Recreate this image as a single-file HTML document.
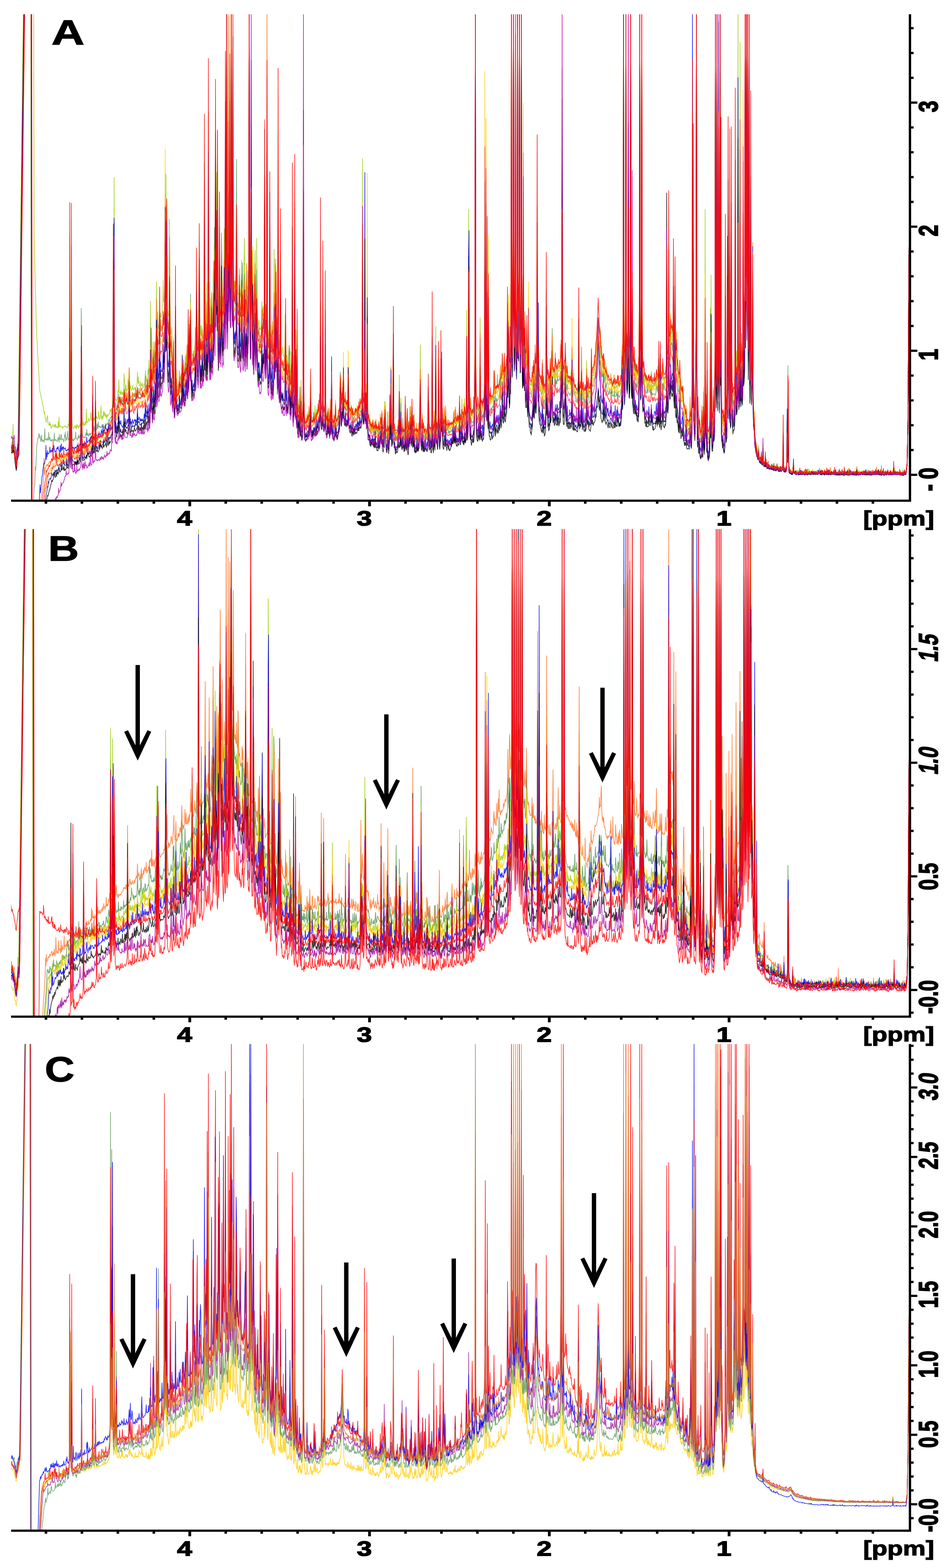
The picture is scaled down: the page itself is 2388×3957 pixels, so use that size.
<!DOCTYPE html>
<html><head><meta charset="utf-8"><title>NMR spectra</title><style>html,body{margin:0;padding:0;background:#fff;overflow:hidden}svg{display:block}</style></head><body>
<svg xmlns="http://www.w3.org/2000/svg" width="2388" height="3957" viewBox="0 0 2388 3957">
<rect width="100%" height="100%" fill="#fff"/>
<defs><clipPath id="cA"><rect x="28" y="36.0" width="2266.0" height="1227.5"/></clipPath><clipPath id="cB"><rect x="28" y="1335.5" width="2266.0" height="1230.2"/></clipPath><clipPath id="cC"><rect x="28" y="2634.7" width="2266.0" height="1228.1"/></clipPath></defs>
<g clip-path="url(#cA)" fill="none" stroke-width="1.70" stroke-linejoin="round" stroke-opacity="0.8">
<path d="M25 1120l1-6 1 0 1 4 1 1 1-2 1 1 1-15 1-32 1 45 1-3 1 13 1 3 1 11 1 12 1 7 1 8 1-14 1-15 1-5 1-12 1-72 1-81 1-76 1-89 1-74 1-79 1-80 1-79 1-77 1-82 1-79 1-94 1-67 1-71 26 0 1 575 1 25 1 53 1 42 1 38 1 41 1 36 1 24 1 12 1 25 1 15 1 23 1 5 1 29 1 19 1 6 1 4 1 5 1 5 1 1 1 8 1 6 1 5 1 2 1 10 1 3 1 7 1-5 1 17 1-2 1 10 1 0 1-3 1-11 1-2 1 18 1 4 1 0 1 2 1-9 1 10 1-5 1 6 1 6 1-2 1-3 1-1 1 1 1-4 1 3 1 2 1-3 1-3 1 9 1-7 1-2 1 6 1 3 1-3 1 3 1-4 1-12 1 16 1-28 1 25 1 0 1-3 1 4 1-1 1 0 1-1 1 2 1 4 1-4 1-1 1 1 1-1 1 0 1-2 1-1 1 3 1 0 1 1 1 2 1-3 1 2 1-9 1 4 1-6 1-33 1-437 1 434 1 13 1-14 1-403 1 407 1 34 1 3 1 3 1 7 1-3 1 1 1-3 1-3 1 3 1 3 1-8 1 10 1-2 1-9 1 5 1-1 1 5 1 0 1-7 1 4 1-7 1 4 1-17 1-144 1-10 1 138 1 26 1 2 1 5 1-10 1 9 1-3 1 3 1-9 1 8 1-4 1-36 1 35 1 0 1-2 1-3 1 1 1-8 1 6 1 1 1-1 1-1 1-19 1 6 1 14 1-2 1 3 1-18 1 11 1 4 1-5 1 8 1-9 1 4 1-40 1 40 1-7 1 5 1-1 1 2 1 0 1-2 1-16 1 10 1 11 1-5 1 1 1-14 1-17 1 32 1 3 1-10 1 8 1-2 1-16 1 12 1-12 1 4 1 7 1-7 1 9 1-4 1 9 1-12 1 6 1-2 1 1 1-3 1-3 2 0 1-11 1 6 1-1 1-7 1 1 1-4 1-7 1-37 1-162 1 116 1-490 1 512 1 39 1 10 1-2 1 3 1 2 1-4 1-2 1-7 1-14 1 5 1-32 1 31 1 3 1-2 1 6 1-11 1 9 1-2 1-2 1 7 1-7 1 6 1-3 1-50 1 11 1 20 1 19 1-14 1-8 1 18 1-6 1 2 1 1 1-30 1 25 1-5 1-49 1 20 1 27 1 7 1-8 1 13 1-4 1 1 1-1 1-10 1 11 1 1 1-2 1 1 1-6 1 2 1 4 1-5 1-1 1-1 1-10 1-27 1 28 1-16 1 17 1-5 1 11 1-1 1 1 1-11 1 10 1-2 1 3 1-8 1 10 1 3 1-3 1-6 1 1 1-2 1-9 1-25 1 15 1 2 1 10 1 1 1-14 1-7 1-10 1 14 1-38 1 31 1-9 1 3 1-173 1 141 1-73 1 56 1 30 1 5 1-18 1-38 1 31 1 10 1-15 1-26 1 12 1-8 1-44 1-112 1 132 1-3 1-36 1 17 1 9 1-6 1-4 1-38 1 25 1-17 1 10 1-2 1 0 1-4 1-7 1-17 1-63 1 56 1-10 1-5 1-38 1-198 1 163 1-235 1 259 1-163 1 219 1 27 1 7 1 9 1 0 1-54 1-191 1 175 1 92 1 24 1-1 1-17 1 14 1 61 1 25 1-9 1-64 1 101 1 24 1 21 1-14 1-80 1 48 1-20 1 37 1 9 1 0 1-10 1 6 1-4 1-2 1-17 1 11 1-13 1 8 1 2 1-6 1-10 1-41 1 31 1-1 1-19 1 15 1 5 1 4 1-21 1-19 1 20 1-25 1 17 1-29 1 32 1-7 1-74 1 64 1-21 1-76 1 19 1 37 1-94 1 86 1 32 1 14 1 5 1-4 1 3 1-12 1 6 1-1 1-7 1-12 1-8 1 14 1-11 1-77 1 28 1 39 1-1 1-2 1-28 1-97 1-116 1 150 1 63 1 20 1-24 1 28 1-1 1-26 1 19 1 13 1-2 1-16 1-13 1-238 1 208 1-53 1 71 1 20 1-20 1-97 1 86 1 11 1-27 1-408 1 396 1 8 1 46 1 0 1-73 1 73 1-3 1-66 1 68 1-9 1-14 1-105 1-37 1 80 1-121 1-4 1 94 1-407 1 350 1 4 1-221 1 213 1-319 1 343 1 102 1 11 1-79 1-123 1 195 1 0 1-30 1-1 1-107 1 26 1 69 1 31 1-17 1-3 1-64 1-105 1 105 1-83 1 41 1 48 1-130 1-537 1 534 1 109 1-15 1-192 1 106 1 48 1-126 1-386 1 499 1 58 1-34 1-440 1 282 1 177 1 12 1-143 1 175 1 28 1 15 1-19 1 17 1 4 1-30 1-20 1-144 1 119 1 63 1 20 1 5 1 0 1-7 1-40 1-18 1 55 1 16 1-1 1-24 1-68 1 61 1-6 1 42 1 10 1-13 1-93 1-56 1 128 1 31 1-29 1 5 1-35 1 69 1 3 1-89 1 47 1-35 1-89 1-586 1 502 1 160 1 77 1-14 1-512 1 387 1 70 1 77 1-70 1 51 1 31 1-23 1-61 1-17 1-47 1 126 1 22 1-37 1-142 1 144 1 54 1 7 1 17 1-6 1-9 1 23 1-2 1 2 1 1 1-13 1-13 1-45 1 18 1 20 1-24 1-1 1 1 1-5 1-205 1 200 1 17 1-4 1 30 1-30 1-427 1 444 1 36 1 1 1 16 1-2 1-9 1-63 1 59 1-13 1 29 1 2 1-10 1-28 1 23 1 7 1-18 1-40 1-156 1 151 1 16 1-32 1 59 1-45 1 55 1-34 1 55 1 5 1-157 1 153 1 17 1-2 1-24 1 24 1-173 1 175 1 12 1 12 1-3 1-16 1-1 1 15 1 9 1-3 1-1 1-23 1-80 1 72 1 38 1 10 1-17 1 6 1 24 1-4 1-25 1-9 1-16 1 50 1-43 1 56 1 4 1 18 1-33 1 35 1-116 1 144 1 0 1-31 1-60 1 36 1-256 1 302 1-16 1-131 1 133 1 37 1-123 1 147 1 3 1-1 1-20 1 29 1-1 1-12 1 6 1 1 1-70 1 69 1 16 1 2 1-13 1-53 1-671 1 661 1 57 1 22 1 6 1 3 1-3 1 3 1-2 1-3 1 1 1-16 1 13 1 1 1-15 1 17 1-7 1-25 1-58 1 82 1-7 1 16 1-3 1 1 1 1 1-3 1-10 1 1 1 9 1-28 1 18 1 4 1 0 1-13 1 0 1 5 1-2 1 1 1 1 1-8 1 1 1-20 1 4 1-212 1 200 1 22 1 3 1 8 1-4 1-86 1 87 1 0 1 7 1 1 1-3 1-40 1 48 1-6 1 12 1 7 1-5 1-22 1 9 1 14 1-6 1 10 1-3 1-9 1-19 1 24 1-4 1-99 1 84 1 26 1 7 1-4 1 1 1-3 1 2 1-1 1-12 1-39 1 38 1 10 1 3 1-5 1-4 1-2 1-4 1-14 1 3 1-9 1-3 1-48 1-21 1 58 1-1 1-5 1-4 1-40 1 33 1-72 1 78 1 11 1 0 1-1 1-5 1 12 1 3 1 6 1-10 1 4 1 5 1-51 1 41 1 14 1 3 1 2 1-5 1 7 1-16 1 9 1 13 1 1 1-6 1 10 1-4 1 4 1-9 1 3 1 1 1 4 1-11 1-2 1 4 1-11 1 5 1 2 1 0 1-4 1-4 1 5 1 0 1-7 1-10 1 6 1-4 1-7 1-46 1-563 1 560 1 43 1 4 1 9 1-23 1-254 1 270 1 16 1-10 1 14 1-13 1-306 1 319 1 18 1 10 1 2 1-2 1 11 1-12 1 18 1 5 1-14 1 16 1 5 1 0 1-8 1 6 1-3 1 0 1-7 1 15 1-6 1 3 1 2 1-21 1 18 1 2 1 1 1-5 1 3 1-13 1 14 1 1 1-8 1-24 1 3 1-4 1 23 1-20 1 25 1 4 1-2 1-4 1-26 1 8 1-50 1 0 1 33 1 32 1 12 1 3 1 2 1-13 1-3 1 12 1 5 1-19 1 1 1-73 1 43 1 8 1-128 1 132 1 20 1 8 1-20 1-69 1-122 1 197 1 18 1 1 1 4 1 3 1-1 1-3 1 3 1 3 1-15 1-10 1-7 1 20 1-14 1-130 1 122 1 12 1-17 1-59 1 61 1 23 1 5 1-7 1-14 1 18 1 2 1 6 1 1 1-6 1-72 1 73 1-1 1-6 1-35 1-21 1 49 1 12 1-10 1 4 1 5 1-12 1-5 1-38 1 33 1 16 1 5 1-32 1 29 1-5 1-9 1 2 1-30 1 32 1 20 1 3 1-3 1-5 1 4 1-19 1 19 1-11 1 10 1 0 1-18 1-4 1-21 1-53 1-129 1 191 1 25 1 4 1-18 1-16 1 9 1 26 1-11 1 13 1 1 1-2 1-17 1 13 1-7 1 10 1 3 1-11 1 5 1-8 1-80 1 22 1 52 1 9 1-2 1 8 1 1 1 6 1-1 1-2 1-66 1 67 1 5 1-12 1-23 1-27 1 29 1 13 1-52 1-203 1 232 1 16 1 5 1 19 1-3 1-45 1-142 1 123 1 59 1-10 1-4 1-1 1-44 1 47 1-77 1 70 1-15 1 23 1-9 1 12 1-33 1 10 1-2 1 8 1-32 1 39 1 8 1 1 1 5 1-7 1 5 1-7 1 5 1-11 1 8 1 2 1 3 1-4 1-1 1 0 1-3 1-9 1 5 1 0 1-19 1 18 1-2 1-12 1 13 1-25 1 18 1 8 1 3 1 0 1-12 1-6 1 14 1-9 1 8 1-52 1 48 1-2 1 3 1-15 1 2 1-28 1 21 1 4 1 14 1-1 1-4 1-7 1-45 1 41 1-2 1 9 1-11 1-259 1 239 1 20 1 3 1-33 1-484 1 213 1 221 1 65 1-1 1 4 1 13 1 5 1-13 1 13 1-17 1 13 1-5 1-1 1-22 1-78 1-89 1-828 1 852 1 104 1 44 1 12 1-6 1 14 1-6 1-7 1 2 1-1 1-10 1-217 1 218 1 13 1-3 1-2 1 2 1 4 1-20 1 10 1-19 1-4 1-36 1-438 1 426 1 27 1-148 1 160 1-13 1-186 1 206 1 12 1-74 1 76 1 5 1-3 1 5 1-28 1 24 1-3 1 0 1-10 1-5 1 12 1-4 1-3 1-18 1-40 1 46 1 8 1-12 1-9 1 14 1 0 1-2 1-3 1 1 1-2 1-1 1-1 1-3 1-13 1-27 1 27 1 3 1-7 1-15 1-59 1 55 1 12 1 0 1-10 1-38 1 21 1 21 1-1 1-8 1-7 1-6 1 1 1-70 1 50 1-65 1-38 1 73 1 34 1-13 1-76 1 22 1-184 1-642 1 681 1 141 1-38 1-159 1-625 1 683 1 134 1 1 1-130 1-420 1 522 1 24 1 16 1-51 1-669 1 638 1-30 1 52 1-169 1-601 1 637 1 169 1 21 1-52 1-698 1 679 1 8 1 76 1 0 1-256 1 252 1 25 1 6 1-47 1 56 1 17 1 7 1-8 1-70 1 76 1 21 1-5 1-140 1 143 1 20 1 8 1 5 1 1 1-6 1 8 1-6 1 4 1-12 1-14 1 12 1-36 1 29 1-5 1-34 1-10 1 31 1 6 1-15 1-54 1-348 1 358 1 41 1-94 1 109 1 19 1 2 1 14 1-1 1 7 1-3 1 2 1 1 1-50 1 56 1 6 1-17 1 13 1 3 1 4 1-4 1-13 1-7 1-123 1 67 1 0 1 31 1 19 1-22 1 26 1-6 1-11 1 19 1-50 1 40 1 4 1-30 1-28 1-62 1 86 1 17 1 7 1-6 1 10 1-5 1-13 1-16 1 10 1 15 1-3 1-1 1-15 1 5 1 1 1 3 1 1 1-3 1-13 1 9 1-6 1-57 1 41 1-71 1-667 1 671 1 79 1 22 1 0 1 7 1-23 1-7 1-31 1 19 1 31 1 10 1 9 1-16 1 19 1 9 1-4 1-7 1 6 1-9 1 14 1 3 1-38 1 41 1-11 1-93 1 100 1 8 1-1 1-45 1 51 1-1 1-2 1 3 1 6 1-2 1 3 1 3 1-3 1-4 1 11 1-17 1-30 1 15 1 28 1 0 1-8 1 7 1-11 1-21 1 19 1 13 1-1 1-6 1 4 1 9 1-9 1 1 1-2 1 5 1-3 1-6 1-76 1 48 1 14 1 11 1-12 1 9 1 13 1-3 1 3 1-3 1-6 1-11 1-78 1 58 1 5 1-13 1 3 1-4 1-10 1 1 1-8 1-9 1-2 1-17 1-13 1-23 1-9 1-14 1-32 1-7 1 11 1 18 1 8 1 15 1-28 1 25 1 33 1 22 1-10 1 8 1 25 1 0 1-32 1 43 1 9 1-10 1-6 1 14 1 10 1-6 1-19 1 23 1 2 1 9 1 2 1 1 1 1 1 1 1-1 1 1 1-6 1 1 1 4 1 6 1 4 1-17 1 14 1-2 1 7 1-1 1-6 1 3 1-2 1 5 1-2 1-6 1 6 1-7 1-21 1 20 1 0 1 4 1-10 1 11 1-2 1-8 1 7 1-8 1-12 1-68 1 24 1 18 1-73 1-777 1 759 1 76 1 5 1-56 1-130 1-709 1 715 1 130 1 7 1-13 1-30 1-466 1 455 1 75 1 12 1-33 1-73 1-385 1 433 1 61 1 5 1-144 1 148 1 11 1-3 1-38 1 20 1 32 1-12 1 22 1-31 1 27 1-9 1-3 1 12 1 2 1-4 1-8 1-30 1-135 1-750 1 751 1 101 1-4 1-134 1-714 1 725 1 157 1 25 1 10 1 4 1-10 1 28 1 5 1-8 1-11 1 14 1 9 1-10 1 13 1 3 1-4 1-1 1-13 1 12 1 5 1 3 1-2 1-18 1-20 1 33 1 7 1-4 1-1 1 5 1-11 1 11 1-12 1 8 1 1 1-21 1 12 1-16 1 9 1-1 1-33 1 29 1 13 1-56 1 56 1-3 1 3 1-38 1 26 1 18 1-1 1-9 1-40 1-4 1 13 1 24 1-3 1 10 1 1 1-12 1 4 1-5 1-38 1-348 1 348 1 7 1-3 1-12 1-88 1 61 1 0 1-4 1-15 1-68 1 55 1-2 1-7 1-20 1 35 1-14 1-116 1 139 1 21 1 2 1-148 1 158 1 13 1-8 1-11 1 39 1 5 1 2 1 17 1 13 1-2 1-2 1-33 1 40 1-2 1 24 1-7 1 4 1-12 1 34 1-9 1 17 1 16 1 6 1 2 1 6 1 0 1 10 1-30 1 37 1 7 1 8 1-4 1-12 1 12 1 1 1-5 1-6 1-21 1 14 1 6 1-15 1-10 1-39 1-537 1 460 1-312 1 358 1 48 1 35 1-2 1-20 1-76 1-169 1-762 1 862 1 147 1 23 1-28 1 44 1 1 1 7 1-29 1 17 1 27 1 8 1-2 1-8 1-22 1 18 1-1 1-17 1-90 1 66 1 27 1-39 1-503 1 411 1 82 1-6 1 53 1-61 1 80 1 5 1-1 1 2 1-5 1-21 1-53 1-238 1 238 1-321 1 220 1 138 1 15 1 0 1-29 1-55 1 58 1 11 1-19 1-110 1-902 1 879 1 60 1-96 1-843 1 847 1 106 1-33 1-549 1 541 1 31 1-142 1-801 1 806 1 11 1 186 1 25 1 10 1-4 1-3 1 12 1 11 1-1 1 0 1-26 1-331 1 289 1 40 1-10 1 3 1-105 1 44 1-412 1 257 1 151 1 24 1-317 1 285 1 55 1-9 1-163 1 64 1 85 1 4 1 8 1 4 1-8 1-10 1-5 1-43 1-512 1 428 1 48 1-26 1 48 1-15 1-95 1-803 1 814 1 76 1-35 1-19 1-750 1 748 1 53 1 8 1-45 1 45 1 12 1-9 1-166 1 144 1-37 1-25 1-55 1-759 1 732 1 22 1-461 1 466 1-69 1-690 1 684 1 134 1-120 1-402 1 558 1 60 1-14 1-254 1 201 1 92 1-10 1-38 1-132 1 211 1 45 1 13 1 22 1 28 1 5 1 6 1 10 1 6 1 4 1 8 1 7 1 3 1 0 1-24 1 28 1 5 1 5 1-3 1-1 1 2 1-7 1 7 1 3 1-1 1-42 1 45 1 1 1 3 1-1 1 3 1-14 1 15 1-3 1 1 1 1 1 4 1 0 1 1 1-1 1 2 1 1 1-2 1 3 1-4 1 3 1 0 1 3 1-3 1 1 1-10 1 10 1-8 1 7 1 3 1-6 1 7 1-7 1 4 1 1 1-6 1 2 1 0 1 6 1-5 1 4 1 2 1 1 1 0 1-1 1 3 1-3 1-1 1 1 1-1 1-7 1-85 1 85 1 8 1 1 1 3 1-3 1-1 1 4 1-13 1 8 1-68 1 50 1-19 1-69 1 90 1 22 1 3 1-3 1 3 1-2 1 2 1 1 1-1 1 0 1-1 1-7 1-21 1 25 1 5 1 1 1 0 1-2 1 4 1-9 1 9 1-2 1-4 1 3 1 1 1-3 1-2 1 6 1-1 1 0 1-2 1 3 1-3 1 4 1-5 1 3 1 2 1-1 1 0 1-1 1 1 1-1 1 1 1-9 1 8 1 2 1-1 1-1 1-10 1 8 1 2 1-10 1 11 1 0 1-6 1 6 1 0 1-1 1-4 1 4 1-3 1 3 1 0 1 1 1-1 1 0 1-4 1 4 1-4 1 5 1 0 1-6 1 4 2 0 1 1 1-1 3 0 1-2 1 2 1 0 1-1 1-4 1 6 1 2 1 0 1-1 1 2 1-1 1 2 1-3 1 1 1-5 1 5 1 1 1-4 1-9 1 8 1 4 1-3 1 3 1-1 1-3 1 3 1-4 1 0 1 4 1 1 1 0 1 3 2 0 1-2 1-1 1 1 1-1 1 0 1-1 1 1 2 0 1-2 1 1 1-4 1 3 1 0 1 2 1-2 1 0 1 1 1-1 1-1 1-7 1 6 1 3 1 0 1-1 1 0 1-2 1 3 1 1 1-3 1-1 1 2 1 1 1 0 1-2 1-3 1 5 1-4 1 1 1 4 1-5 1 5 1-2 1 1 1 1 1-2 1 1 1-2 1 1 1-2 1 3 1 0 1-1 1-1 1-3 1 6 1-3 1-1 1 1 1 2 1-5 1 5 1-4 1-3 1 2 1 4 2 0 1-3 1 6 1-2 1-1 1 0 1 1 1-7 1 7 1-2 1 1 1-1 1-1 1 3 1-1 1 1 2 0 1-3 1 3 1-1 1 0 1 2 1-3 1-3 1 5 1 0 1-2 1 1 1 1 1 0 1-2 1 2 1-1 1 1 1 1 1-2 1-1 1 2 1-2 1 2 1 2 1-3 1 1 1 0 1-1 1 0 1-7 1 7 1-1 1 1 1 0 1 1 1 0 1-2 1 2 1-7 1 5 1 2 1-1 1 0 1-1 1 2 1-4 1 6 2 0 1-1 2 0 1-4 1 5 1-1 1-1 1-1 1 2 1 1 1-4 1-2 1 5 1-1 1 1 1 1 1-3 1-5 1 7 1-13 1 12 1-1 1 3 1-1 2 0 1 2 1-8 1 7 1-1 1-1 1-4 1 5 1 2 1 1 1-11 1 9 1-2 1-1 1 0 1-2 1-2 1 6 1-1 2 0 1-3 1 3 1 0 1-9 1-9 1-9 1-60 1-60 1-166 1-150 1-134 1-120 1-120 1-120 1-120 1-96" stroke="#9acd00"/>
<path d="M25 1116l1-12 1 13 1 6 1 2 1-3 1 3 1-22 1 22 1-4 1 12 1 0 1 8 1 10 1-24 1 38 1 7 1-14 1-4 1-11 1-9 1-61 1-78 1-68 1-82 1-78 1-85 1-76 1-80 1-76 1-88 1-76 1-82 1-77 1-79 1-27 18 0 1 1270 2 0 1-6 1-13 1-6 1-14 1-21 1-2 1-7 1-44 1 9 1-16 1-27 1-22 1-5 1-7 1-5 1 1 1-12 1 2 1 9 1-5 1 7 1 7 1-5 1-11 1 15 1 2 1-5 1 0 1 2 1 4 1-6 1-28 1 29 1-3 1 1 1 0 1 2 1-6 1 4 1 2 1-3 1-17 1 20 1-7 1 0 1 6 1 3 1-3 1 3 1-4 1 3 1-1 1-2 1 4 1-1 1-19 1 18 1 2 1-4 1 1 1 0 1 2 1 3 1-3 1-4 1-5 1 7 1 6 1-20 1 12 1 2 1 0 1-14 1 3 1 12 1-4 1 0 1 2 1 1 1 5 1-4 1-14 1 6 1-13 1 23 1-8 1 5 1-5 1-8 1-9 1 23 1-1 1-1 1-6 1-60 1 47 1-7 1-2 1-285 1 290 1 20 1 6 1-4 1 5 1 0 1-7 1 3 1 0 1-1 1-18 1 15 1 1 1 0 1 5 1-5 1-2 1-7 1 9 1-1 1-4 1 1 1-8 1-22 1-294 1 69 1 229 1 22 1-1 1 7 1-2 1 3 1-2 1 0 1 2 1-6 1-7 1 7 1-16 1 16 1-1 1-5 1 7 1 1 1-4 1-4 1 6 1-5 1 2 1-2 1 0 1-1 1-10 1-88 1 88 1 8 1-16 1 8 1 6 1-17 1-19 1 31 1-2 1 3 1-16 1 10 1 3 1-17 1 11 1 2 1-3 1 3 1-1 1 2 1-2 1 3 1-8 1 4 1 2 1-3 1 3 1 0 1 1 1-4 1 0 1 3 1-10 1 6 1-3 1 1 1-4 1 2 1-1 1-4 1-7 1 5 1-2 1-5 1-3 1 1 1-3 1-19 1 14 1-17 1-27 1-220 1 205 1-207 1 233 1 16 1-3 1-10 1 16 1-3 1 9 1-17 1 3 1-22 1 16 1-24 1 22 1-8 1-2 1 9 1-9 1 9 1 3 1-7 1 9 1-10 1 3 1-8 1-23 1 1 1 28 1 1 1-5 1 6 1-9 1 14 1 1 1-6 1-7 1 2 1-2 1-15 1 2 1 12 1 2 1 0 1 1 1 1 1 3 1-13 1 8 1 3 1-2 1-13 1 7 1-1 1-11 1 16 1-13 1 6 1 1 1-11 1-9 1 15 1 7 1-7 1-15 1 10 1 6 1-2 1 4 1-1 1-4 1 4 1-2 1 2 1-4 1 2 1-2 1 1 1-3 1-20 1-22 1 30 1-5 1-2 1 13 1-9 1 7 1-8 1-4 1-40 1 37 1 7 1-18 1-131 1 114 1-47 1 37 1 19 1-3 1-17 1-44 1 15 1 27 1-6 1-38 1 26 1-6 1-10 1-74 1 66 1-9 1-18 1 2 1 2 1-1 1-7 1-54 1 39 1-18 1 15 1-1 1-2 1-2 1-5 1-5 1-26 1 14 1-6 1-26 1-55 1-232 1 236 1-194 1 194 1-200 1 243 1 47 1-1 1 21 1 1 1-29 1-121 1 131 1 48 1 13 1-11 1-20 1 42 1 41 1 14 1 7 1-22 1 55 1 25 1 0 1-11 1-107 1 97 1-26 1 33 1-15 1 11 1-1 1-1 1-2 1-11 1-17 1 8 1 5 1 0 1-4 1-5 1-7 1-33 1 22 1 9 1-32 1 13 1 12 1 0 1-5 1-27 1 17 1-15 1 0 1-31 1 36 1 1 1-63 1 56 1-21 1-69 1 67 1-13 1-139 1 123 1 43 1 6 1-1 1 4 1-9 1 2 1 0 1-2 1-1 1-16 1-7 1 13 1-19 1-168 1 92 1 56 1 0 1 13 1-19 1-89 1-62 1 103 1 65 1 9 1-24 1 31 1 0 1-10 1-15 1 28 1 1 1-28 1-23 1-427 1 409 1-9 1 36 1 4 1 6 1-42 1 36 1-9 1-16 1-172 1 155 1-67 1 108 1 17 1-11 1 9 1-33 1-84 1 83 1 4 1 3 1-72 1 18 1-7 1-203 1 104 1 89 1-141 1-33 1 83 1-102 1 150 1-26 1 75 1 53 1 6 1-18 1-93 1 92 1-16 1-16 1-49 1-144 1 59 1 64 1 59 1 0 1 10 1-48 1-44 1 53 1-38 1-125 1 135 1-19 1-465 1 467 1 40 1-28 1-258 1 169 1 20 1-72 1-105 1 237 1 0 1-49 1-629 1 512 1 158 1-49 1-461 1 494 1 69 1 14 1-9 1-8 1 1 1-50 1-49 1-241 1 252 1 98 1 28 1 9 1 2 1-16 1-71 1 48 1 32 1 9 1 1 1-34 1-68 1 62 1-91 1 108 1 14 1 7 1-38 1-61 1 96 1 20 1-30 1-21 1-66 1 93 1 13 1-49 1-2 1-5 1-47 1-520 1 296 1 252 1 72 1-23 1-542 1 401 1 55 1 107 1-59 1 58 1 31 1-45 1-36 1 20 1-20 1 81 1 2 1-43 1-102 1 94 1 45 1 21 1 0 1 6 1-21 1 32 1-10 1 19 1-1 1-6 1-10 1-44 1 25 1 5 1-30 1-14 1 9 1 5 1-379 1 390 1 15 1-63 1 65 1-46 1-458 1 481 1 50 1 9 1-10 1 11 1-22 1-234 1 232 1-5 1 23 1 12 1 5 1-29 1 27 1 5 1 0 1-6 1-33 1 22 1-31 1-168 1 164 1-47 1 72 1-32 1 51 1-4 1-255 1 255 1 18 1 4 1-49 1 20 1-231 1 263 1 15 1 13 1 3 1-1 1-6 1-6 1 20 1-4 1-2 1-3 1-48 1-5 1 59 1 13 1-3 1 2 1 4 1-1 1-31 1 8 1-52 1 62 1-47 1 73 1 1 1-15 1-58 1 42 1-294 1 340 1 23 1-24 1-17 1-7 1-302 1 347 1 3 1-117 1 132 1-9 1-151 1 182 1 6 1-16 1 8 1 9 1-18 1-49 1 57 1 13 1-12 1 4 1 29 1-11 1 4 1-46 1-505 1 496 1 36 1 23 1 5 1-3 1 3 1-2 1 0 1-3 1-1 1-6 1 6 1-8 1-13 1 11 1-5 1-8 1-13 1 30 1 4 1 1 1 0 1 2 1-9 1-1 1-3 1-5 1 10 1 0 1-7 1 6 1 1 1-8 1-8 1 6 1-3 1-14 1 1 1 1 1-1 1-14 1 8 1-264 1 250 1 16 1 15 1 1 1-20 1-251 1 258 1 17 1 4 1 3 1-14 1-173 1 180 1-3 1 5 1 20 1-6 1-26 1 13 1 18 1-29 1 23 1 7 1-4 1-30 1 20 1 8 1-93 1 86 1 19 1-1 1-1 1 4 1-4 1 3 1-3 1-11 1-23 1 28 1 4 1 4 1-5 1-10 1 6 1-11 1-16 1 11 1-7 1-12 1-91 1 57 1 20 1 11 1-22 1 11 1-28 1 23 1-10 1 19 1 9 1 0 1-31 1 23 1 14 1-4 1 6 1-11 1-9 1 13 1-99 1 77 1 15 1 20 1-9 1 3 1 10 1-15 1 12 1 4 1 6 1-7 1 11 1 1 1-3 1 0 1-3 1-2 1-3 1-7 1 7 1-16 1 11 1-1 1 4 1-2 1-7 1-6 1 8 1-1 1 0 1 3 1-6 1 3 1-1 1-12 1-101 1 110 1 3 1-14 1 10 1-9 1-206 1 206 1-8 1-20 1 44 1-2 1-224 1 233 1 21 1 1 1 0 1-5 1 19 1 4 1-9 1-4 1 18 1-11 1 14 1-17 1-14 1 24 1 5 1-19 1 18 1 0 1-9 1 13 1-1 1-20 1 22 1 0 1 2 1 2 1-8 1-30 1 31 1 3 1-7 1-11 1 2 1 4 1-1 1 1 1 16 1-7 1 6 1-5 1 0 1 6 1-30 1 0 1 17 1 11 1 6 1 1 1-3 1-12 1-14 1 13 1 9 1-4 1-27 1-73 1 53 1 18 1-48 1 63 1 13 1-8 1-7 1-87 1-124 1 212 1 16 1-12 1 21 1 5 1 1 1-9 1 4 1-6 1 12 1-5 1-11 1-2 1-13 1-54 1 49 1 11 1-3 1-67 1 69 1 10 1-6 1-7 1-28 1 24 1 6 1 19 1-1 1-7 1-50 1 53 1 6 1-10 1-21 1 9 1 17 1 2 1-3 1-16 1 11 1-24 1 14 1-42 1 42 1 11 1-10 1-18 1 27 1 6 1-18 1 8 1-28 1 36 1 10 1 5 1-5 2 0 1-12 1 10 2 0 1-15 1 7 1-5 1-17 1-19 1-92 1 109 1 19 1 5 1-5 1-22 1 19 1 3 1-13 1 24 1 0 1-1 1-10 1 5 1 4 1 0 1 5 1-5 1 1 1-7 1-72 1 18 1 46 1 10 1-10 1 13 1 5 1-15 1 0 1-21 1-223 1 224 1 30 1-4 1-2 1-29 1 27 1 4 1-22 1-82 1 102 1-8 1-8 1 20 1-5 1-47 1-104 1 101 1 45 1 3 1-35 1 18 1-136 1 141 1-55 1 52 1-24 1 33 1-15 1 20 1-11 1-12 1-6 1 11 1-10 1 18 1 7 1-15 1 13 1-1 1-14 1 23 1-6 1 6 1-7 1 5 1-3 1-2 1 1 1-4 1 7 1-8 1-2 1-3 1-18 1 5 1 0 1-10 1 14 1-22 1 28 1-7 1 14 1-1 1 0 1 2 1 1 1-12 1-1 1-49 1 55 1-33 1 23 2 0 1-59 1 60 1 7 1-1 1 1 1 1 1-5 1-33 1 28 1 7 1-6 1-17 1-188 1 164 1 26 1 3 1-10 1-178 1-13 1 153 1 43 1 9 1-37 1 41 1-2 1 7 1-1 1-1 1-2 1 1 1-4 1-14 1-34 1-33 1-505 1 515 1 12 1 42 1 10 1 5 1-4 1-8 1-18 1 21 1 10 1-1 1-30 1 26 1-4 1-17 1 9 1 12 1-5 1-5 1-1 1 1 1-14 1-12 1-211 1 210 1-5 1-81 1 90 1 0 1-99 1 103 1-4 1-75 1 81 1 5 1 11 1-5 1-7 1 0 1 2 2 0 1-9 1 3 1-1 1-8 1-20 1 0 1 8 1 14 1-22 1 12 1 3 1-9 1 8 1-3 1-2 1 0 1-3 1-2 1-7 1-8 1-44 1 31 1 5 1 1 1 2 1-21 1 17 1 2 1-3 1-23 1-21 1 22 1 23 1-2 1-6 1-12 1-18 1 4 1-63 1 49 1-22 1-48 1 81 1 6 1-5 1-66 1 25 1-95 1-741 1 679 1 100 1-54 1-229 1-541 1 541 1 237 1-11 1-200 1-411 1 607 1 38 1 18 1-124 1-695 1 695 1 108 1 26 1-101 1-728 1 749 1 91 1-11 1-151 1-678 1 670 1 109 1 77 1 12 1-195 1 192 1-8 1 17 1-109 1 110 1 34 1-20 1 6 1-66 1 77 1 29 1 3 1-68 1 77 1 19 1 7 1-1 1-1 1-3 1 15 1-9 1-11 1-3 1-17 1 14 1-21 1 12 1 5 1-28 1-31 1 47 1-3 1-14 1-59 1-252 1 235 1 73 1-54 1 79 1 1 1 15 1 5 1-7 1-3 1 21 1-8 1 3 1-65 1 71 1 19 1-9 1-2 1 1 1 10 1-9 1-2 1-27 1-250 1 220 1 2 1 25 1 18 1-28 1 29 1-4 1-26 1 19 1-59 1 54 1 1 1-26 1-53 1-74 1 119 1 23 1 1 1 1 1 3 1-6 1-31 1 16 1 14 1-9 1 10 1-2 1-47 1 41 1-1 1-3 1 1 1 0 1-10 1 12 1-9 1-50 1 29 1-62 1-693 1 695 1 67 1 27 1 7 1-2 1-17 1 2 1-10 1 13 1-11 1 33 1 3 1-13 1 17 1 3 1 2 1 2 1-1 1 2 1 3 1-1 1-8 1-1 1-10 1-69 1 71 1 20 1-14 1-12 1 19 1 4 1-9 1 12 1 13 1 0 1 2 1-8 1-5 1 15 1 1 1-16 1-173 1 176 1 8 1-4 1-15 1 15 1-19 1-59 1 69 1 9 1-22 1-6 1 29 1-9 1 15 1-1 1-9 1 10 1 0 1-9 1-76 1 42 1 30 1-1 1-16 1 20 1 11 1 0 1-3 1-2 1-13 1-12 1-47 1 35 1-5 1 3 1 3 1-4 1-10 1-6 1-1 1-3 1-10 1-8 1-9 1-25 1-1 1-21 1-11 1-16 1 18 1 8 1-14 1 40 1-39 1 51 1 13 1 6 1 17 1-13 1 13 1 0 1-44 1 54 1 5 1-11 1-17 1 37 1 3 1-11 1 0 1 16 1 4 1-1 1 2 1 8 1-1 1-8 1-4 1 12 1-4 1 0 1-9 1 11 1-14 1 21 1-2 1-1 1 0 1 6 1-29 1 27 1 0 1-1 1-1 1-9 1 9 1-2 1-7 1-3 1 14 1-1 1-1 1 4 1-4 1-2 1-4 1-13 1-6 1-49 1 10 1 9 1-97 1-826 1 815 1 100 1 7 1-13 1-81 1-715 1 714 1 72 1-20 1-42 1-11 1-477 1 482 1 44 1 17 1-2 1-100 1-719 1 756 1 70 1 10 1-239 1 246 1-1 1 14 1-40 1 11 1 29 1-43 1 54 1-15 1 32 1-7 1 10 1-4 1-19 1 11 1-25 1-30 1-188 1-703 1 695 1 172 1-3 1-141 1-723 1 735 1 165 1 31 1-18 1 11 1 7 1 19 1 11 1-1 1 8 1 2 1 2 1-7 1-18 1 24 1-3 1-27 1 1 1 10 1 17 1-17 1 20 1-3 1-21 1 22 1 4 1-3 1 5 1-2 1-1 2 0 1 4 1-1 1-4 1 0 1-35 1 20 1 9 1-15 1 19 1 1 1-21 1 2 1 11 1-12 1-60 1 77 1 7 1 2 1-11 1-19 1 4 1-5 1 17 1-18 1 5 1 12 1 1 1 2 1-4 1-12 1-113 1 101 1-3 1-3 1-15 1-74 1 23 1 22 1-1 1-21 1-46 1 26 1 4 1-6 1 7 1 15 1-7 1-96 1 120 1 10 1 3 1-81 1 97 1 6 1-9 1-7 1 34 1 9 1-1 1 6 1 17 1 1 1 7 1-38 1 41 1-19 1 35 1-3 1 0 1-2 1 6 1-29 1 46 1 17 1-7 1 18 1-2 1 9 1-1 1-10 1 19 1 9 1 5 1-1 1-8 1 2 1 3 1-5 1-1 1-5 1-6 1 13 1-2 1-22 1-50 1-572 1 479 1-511 1 541 1 50 1 50 1 12 1-10 1-66 1-192 1-767 1 938 1 101 1 2 1-28 1 51 1-4 1 9 1-23 1 29 1 5 1 11 1-1 1-15 1-25 1 34 1-11 1-35 1-70 1 79 1 25 1-24 1-319 1 248 1 17 1 44 1 19 1-110 1 132 1 2 1 4 1 5 1-8 1 2 1-17 1-67 1 45 1-153 1 5 1 140 1 18 1-4 1-12 1-82 1 78 1 15 1-17 1-83 1-754 1 727 1 27 1-123 1-827 1 827 1 128 1-16 1-341 1 347 1 34 1-112 1-867 1 866 1-22 1 182 1 26 1-18 1 14 1-11 1 18 1 6 1 6 1-3 1-35 1-418 1 331 1 55 1 14 1 18 1-177 1 134 1-438 1 230 1 197 1 18 1-439 1 421 1 30 1-18 1-335 1 209 1 113 1 5 1 16 1 10 1-22 1 15 1 1 1-16 1-158 1 51 1 83 1-42 1 52 1-16 1-34 1-333 1 350 1 12 1-32 1-19 1-501 1 496 1 37 1-13 1-96 1 92 1 16 1-13 1-116 1 75 1-12 1-52 1-87 1-723 1 684 1 26 1-458 1 541 1-44 1-749 1 720 1 149 1-54 1-506 1 566 1 45 1-25 1-448 1 339 1 153 1 0 1-51 1-93 1 182 1 48 1 15 1-6 1 47 1 9 1 3 1 5 1 9 1 9 1 4 1 4 1 5 1-3 1-16 1 22 1 4 1-4 1 9 1 4 1-5 1-1 1 7 1 0 1-2 1-40 1 41 1 5 1-7 1 3 1 4 1-6 1 6 1-3 1 3 1 2 1 2 2 0 1 3 1-1 1 2 1-4 1 5 1 1 1-2 1-7 1 7 1 1 1-3 1 0 1 2 1-2 1-8 1 12 1 0 1-5 1 5 1 1 1-2 1-7 1-3 1 12 1-1 1 4 1 0 1-5 1 4 1 1 1 1 1-2 1-1 1 2 1-2 1-2 1-1 1-38 1 40 1 1 1 3 1-7 1 6 1 1 1-1 1-3 1-7 1-91 1 62 1-223 1 196 1 57 1 10 1 2 1-1 1 3 1-6 1 7 1 4 1 0 1-3 1-5 1 5 1-22 1 22 1 0 1-1 1-2 1 5 1-1 1-1 1 2 2 0 1-8 1 11 1-3 1-1 1-1 1 3 1-2 1 3 1-2 1-2 1 2 1-1 1 0 1 1 1-1 1-3 1 2 1 2 1 1 1-1 1-1 1 2 1-4 1 4 1-1 3 0 1-1 1-3 1 4 1 0 1-1 1 2 1-6 1 4 1 2 1-1 1 0 1-3 1 2 1 2 1-4 1-1 1 4 1-1 1 2 1-2 1-1 1 3 1 0 1-3 1-6 1 8 1-8 1 7 1 1 1 0 1-1 1 0 1 1 1 0 1 2 1-2 1 1 1 0 1 2 1-3 1 0 1 1 1-6 1 4 1-1 1-1 1 4 1-2 1 1 1 0 1-3 1 4 1-4 1 3 1-10 1 12 1-1 1-2 1-3 1 2 1 0 1 3 1-2 1 0 1 1 1-1 1 0 1 2 1-1 1 0 1-1 1 1 1 0 1-1 1-4 1 6 1-2 1-1 1 1 1 2 1-6 1 1 1 4 2 0 1-2 1 2 1 0 1-1 1 2 1-14 1 14 1-2 1 2 1 0 1-4 1 3 1-4 1 6 1-1 1 0 1-2 1 2 1 1 1 0 1-1 1-1 1 2 1 1 1-3 1 0 1-2 1 2 2 0 1-1 2 0 1-1 1 2 1-7 1 7 1 0 1-1 1 2 1-5 1 4 1 0 1-4 1 1 1 2 1 2 1 1 1 0 1-2 3 0 1 2 1-2 1 3 1-1 1-3 1 3 1 0 1-1 1-5 1 1 1 2 1-1 1 2 1-1 1 2 1-3 1 0 1 3 1-1 1-5 1 6 2 0 1-4 1 2 2 0 1 3 1-3 1-2 1-1 1 6 2 0 1 1 1-7 1 3 1 3 1 0 1-1 1-2 1 2 1-1 1 0 1 1 1-20 1 19 2 0 1-6 1 6 1 0 1-1 1-4 1 6 1-1 1-2 1 3 1 0 1-2 1 3 1-3 1 2 1 0 1-1 1-2 1 3 1 0 1 1 1-3 1 1 1 2 1-1 1-4 1 5 1-2 1-6 1 1 1 6 1 1 1-4 1 3 1 1 1 1 1-2 1-1 2 0 1 2 1-1 1-1 1 2 1-3 1 2 1 0 1-2 1 3 1 1 1 0 1-11 1 12 1-5 1 2 1-2 1 1 1 0 1 2 1-5 1-5 1-9 1-9 1-60 1-60 1-166 1-150 1-134 1-120 1-120 1-120 1-120 1-97" stroke="#5f9a5f"/>
<path d="M25 1139l1 2 1-10 1 12 1-4 1 4 1-1 1 1 1-7 1 4 1 0 1 8 1 12 1-16 1 28 1-2 1-1 1 6 1-6 1-4 1-16 1-17 1-79 1-78 1-85 1-79 1-92 1-79 1-72 1-90 1-79 1-75 1-108 1-64 1-72 1-59 18 0 1 1010 1 260 21 0 1-6 1 6 1-4 1-9 1 5 1-12 1 3 1-9 1-3 1-6 1-6 1-7 1-11 1-1 1-6 1-6 1-7 1-8 1-7 1 2 1-6 2 0 1-3 1-1 1-4 1 2 1-7 1 2 1-2 1-1 1-7 1-4 1 6 1 2 1-7 1 2 1-3 1-27 1 26 1-7 1 5 1-2 1 2 1-7 1 7 1-2 1-7 1-14 1 23 1-3 1-2 1-6 1 6 1-9 1 6 1 3 1 3 1-1 1-16 1 13 1-2 1-9 1 16 1-8 1 1 1-1 1-3 1 0 1 1 1-7 1 2 1-4 1-23 1-396 1 394 1 3 1 3 1-263 1 266 1 16 1-5 1 10 1-1 1-8 1 11 1 0 1 3 1-4 1-4 1 6 1-4 1 6 1-8 1 2 1 3 1-4 1 1 1-7 1 1 1 1 1-3 1-9 1-111 1 47 1 67 1 6 1 0 1 2 1 2 1-3 1-11 1 9 1 1 1-37 1 33 1-6 1 1 1 4 1 0 1-1 1-2 1 2 1-3 1-10 1 8 1-5 1 6 1-7 1-9 1-7 1 16 1-23 1 22 1 0 1 2 1-22 1 18 1-5 1-44 1 49 1 0 1-14 1 0 1 10 1-1 1 1 1-1 1 1 1-4 1-2 1 4 1 1 1-5 1-12 1 2 1 3 1 0 1 3 1-2 1 1 1-1 1 2 1-6 1 4 1-3 1-2 1-3 1 3 1-1 1-18 1 17 1-22 1 19 1-4 1 0 1-5 1-5 1 3 1-4 1-1 1-6 1-22 1-38 1-366 1 335 1-212 1 243 1 37 1 2 1-14 1 6 1 9 1 0 1-10 1 4 1-3 1-4 1-24 1 22 1-4 1-1 1 7 1-17 1 14 1-4 1 5 1-13 1 2 1 8 1-8 1-18 1-3 1 20 1 1 1-15 1 15 1 6 1-2 1-1 1-2 1-4 1 0 1-18 1-45 1 26 1 35 1 3 1-12 1 14 1-9 1 6 1 0 1-1 1-2 1 0 1-7 1 6 1-11 1 8 1 1 2 0 1-3 1-9 1-23 1 29 1 8 1-3 1-5 1 5 1 4 1-7 1 2 1-1 1 0 1-3 1 5 1-1 1-7 1 6 1-3 1-1 1-26 1 16 1-31 1 27 1-2 1 2 1 8 1-33 1 30 1-2 1 0 1-3 1 2 1-4 1-15 1-102 1 77 1-38 1 24 1 21 1 2 1-24 1-61 1 62 1 10 1 1 1-24 1 9 1-5 1-21 1-130 1 125 1-1 1-50 1 32 1 9 1-7 1 1 1-54 1 40 1-24 1 9 1 8 1-4 1-3 1 0 1-6 1-18 1 9 1-8 1-34 1-53 1-376 1 384 1-111 1 120 1-141 1 191 1 29 1 3 1 9 1-8 1-59 1-221 1 223 1 81 1 23 1 2 1-10 1 29 1 27 1 18 1 11 1-35 1 65 1 21 1-4 1-22 1-190 1 173 1-48 1 34 1 32 1-17 1 15 1-5 1 1 1-11 1-38 1 30 1 9 1 3 1-3 1-3 1-22 1-34 1 38 1-5 1-17 1 5 1 19 1-5 1 2 1-25 1 16 1-22 1 11 1-57 1 47 1 7 1-94 1 90 1-27 1-2 1-29 1 8 1-124 1 123 1 39 1 12 1 2 1-11 1 1 1-1 1 2 1-2 1 5 1-28 1-44 1 58 1-10 1-35 1-32 1 53 1 6 1 0 1-23 1-102 1-26 1 69 1 67 1 5 1-25 1 30 1-6 1-22 1 16 1 11 1-4 1-1 1-34 1-385 1 350 1-33 1 79 1 12 1-23 1-80 1 95 1 3 1-33 1-267 1 239 1-57 1 99 1 13 1-34 1 36 1 0 1-14 1 10 1-15 1-11 1-55 1-64 1 60 1-97 1-53 1 99 1-448 1 358 1 29 1 40 1 78 1-107 1 134 1 42 1-15 1-28 1-166 1 188 1 8 1-36 1 7 1-81 1-40 1 36 1 81 1-13 1-11 1-39 1-86 1 100 1-112 1-284 1 369 1-58 1-655 1 659 1 78 1-30 1-305 1 235 1 18 1-249 1-406 1 593 1 92 1-70 1-615 1 447 1 203 1-33 1-463 1 491 1 75 1 45 1-9 1 4 1 3 1-73 1 13 1-115 1 113 1 70 1 18 1-8 1 9 1-16 1-74 1 24 1 57 1 8 1 8 1-75 1-22 1 44 1-39 1 78 1 18 1-8 1-51 1-23 1 77 1 9 1-39 1-17 1 21 1 43 1-4 1-74 1 42 1-18 1-85 1-674 1 434 1 263 1 92 1-16 1-430 1 326 1-1 1 96 1-163 1 175 1 34 1 12 1-79 1-5 1-10 1 73 1 32 1-25 1-28 1 33 1 24 1 13 1 7 1-2 1-16 1 16 1 8 1 5 1-3 1-12 1-31 1-20 1 24 1 8 1-23 1 5 1-3 1-9 1-272 1 271 1 26 1-44 1 48 1-28 1-589 1 554 1 96 1 13 1 4 1-21 1-9 1-198 1 186 1 0 1 32 1 12 1-3 1-25 1 28 1-5 1 6 1-27 1-200 1 180 1-15 1-76 1 42 1-140 1 131 1 37 1 37 1 3 1-542 1 525 1 56 1 7 1-17 1 15 1-73 1 85 1-13 1 17 1 8 1-2 1-23 1 24 1 4 1 1 1 1 1-18 1-59 1-43 1 121 1 6 1-8 1 6 1 10 1 4 1-20 1-17 1 2 1 36 1-75 1 90 1 5 1 7 1-45 1 39 1-171 1 186 1 6 1-40 1-47 1-32 1-32 1 145 1-22 1-86 1 100 1 28 1-192 1 208 1 7 1 4 1-9 1 13 1-16 1-26 1 25 1 12 1-87 1 92 1 12 1 5 1-5 1-36 1-402 1 394 1 20 1 21 1 9 1 0 1 1 1-10 1 7 1-5 1-2 1-8 1 10 1 0 1-33 1 25 1-4 1-23 1-41 1 70 1 9 1 1 1-1 1-1 1-1 1-4 1-16 1-4 1 20 1-2 1-18 1 10 1 3 1-8 1-7 1 10 1-7 1-7 1 0 1-9 1 17 1-23 1-1 1-191 1 167 1 35 1 3 1 1 1-18 1-339 1 342 1 18 1 2 1 2 1 1 1-145 1 150 1 12 1 1 1 4 1-2 1-14 1 18 1-5 1-13 1 16 1 5 1-2 1-18 1 11 1-11 1-141 1 133 1 19 1 3 1 1 1 3 1-23 1 28 1-5 1-3 1-27 1 24 1-3 1 11 1-2 1-12 1 4 1-3 1-10 1 1 1-11 1-10 1-49 1 14 1 39 1-7 1-14 1 5 1-38 1 25 1-119 1 127 1 15 1-15 1 6 1 0 1 1 1 8 1-2 1 4 1 1 1-13 1-136 1 132 1 19 1 8 1-14 1 18 1 1 1-14 1 10 1 9 1-6 1-18 1 18 1-1 1 10 1-10 1-2 1 6 1-3 1-7 1 8 1-4 1-22 1 9 1 11 1 0 1-2 1 1 1-6 1 4 1-9 1 3 1-1 1-7 1-15 1-38 1-460 1 480 1 35 1-2 1 9 1-18 1-147 1 161 1-5 1-57 1 57 1-27 1-561 1 568 1 49 1 10 1-5 1 0 1 6 1 18 1-6 1 10 1 3 1-8 1 8 1-2 1-23 1 23 1-1 1-7 1 5 1 5 1-4 1 2 1-1 1 1 1 8 1 2 1 4 1-23 1 8 1-9 1 1 1 9 1 5 1-10 1-12 1-4 1 16 1-19 1 24 1 4 1 10 1-3 1-9 1-9 1-60 1 19 1 16 1 26 1 19 1 0 1-1 1-6 1-19 1 22 1-3 1-5 1-22 1-65 1 34 1 2 1-115 1 126 1 23 1 14 1-5 1-156 1 7 1 149 1 13 1-21 1 17 1 1 1 10 1-8 1 4 1 0 1-2 1 4 1-30 1 28 1-10 1-19 1 25 1-4 1 1 1-16 1 16 1 6 1 0 1-3 1-14 1 13 1 0 1 9 1 2 1-7 1-13 1 13 1 3 1-8 1-26 1-34 1 50 1 16 1-13 1-24 1 27 1-25 1 16 1-33 1 17 1 26 1 0 1-12 1 17 1 3 1-21 1 12 1-23 1 11 1 24 1 1 1 0 1 3 1-6 1-8 1 10 1 0 1 1 1-13 1 8 1-8 1-12 1-58 1-90 1 141 1 19 1 4 1-6 1-16 1 17 1 3 1-4 1 12 1-5 1 3 1-15 1 9 1 7 1 2 1 3 1 0 1-10 1-3 1-92 1 57 1 37 1-3 1-1 1 3 1 4 1 3 1 1 1-12 1-141 1 144 1 1 1 7 1-8 1-16 1 15 1-12 1-29 1-183 1 186 1 26 1 9 1 18 1-5 1-27 1-64 1 69 1 10 1 7 1-26 1-2 1-135 1 111 1-97 1 96 1 12 1 23 1-4 1 6 1-18 1 6 1-7 1 15 1-8 1 11 1 9 1-12 1 10 1 0 1 2 1-2 1-1 1 3 1-4 1 5 1-8 1 6 1-7 1 4 1-15 1 14 1-9 1 1 1-5 1 8 1-5 1-3 1-1 1-16 1 10 1 11 1-9 1 17 1-1 1 2 1-2 1 5 1-19 1-16 1 26 1 4 1-6 1-8 1-4 1-54 1 54 1 8 1-6 1 5 1-7 1-9 1-30 1 40 1 1 1-19 1 4 1-190 1 170 1 29 1 5 1-10 1-135 1 61 1 59 1 11 1 10 1-24 1 28 1-1 1 2 1-4 1-6 1 3 1-11 1 0 1-12 1-65 1-43 1-735 1 777 1 41 1 31 1 4 1 2 1 1 1 1 1-8 1 2 1 7 1-11 1-155 1 145 1 12 1-31 1 30 1 2 1 2 1-13 1 3 1-3 1-29 1-60 1-758 1 745 1 4 1-630 1 647 1 36 1-47 1 63 1-18 1-386 1 390 1 27 1 7 1-3 1 4 1-1 1 1 1-2 1-1 1 0 1-6 1-8 1 0 1-28 1-39 1 58 1 10 1-9 1-9 1 4 1 5 1 0 1 1 1 6 1 0 1-1 1-4 1-6 1-13 1-5 1 15 1-10 1 3 1-17 1-47 1 42 1 8 1-7 1-13 1-46 1 49 1 10 1-3 1-4 1-10 1-10 1-22 1-97 1 98 1-99 1-68 1 154 1 41 1-18 1-92 1 21 1-211 1-618 1 624 1 181 1-54 1-158 1-593 1 613 1 200 1 9 1-175 1-102 1 254 1 41 1-24 1-113 1-703 1 672 1 47 1 79 1-108 1-690 1 751 1 81 1-6 1-72 1-754 1 748 1 69 1 39 1-34 1-582 1 580 1 24 1 15 1-56 1 80 1 16 1 0 1-12 1-75 1 87 1 22 1-15 1-216 1 226 1 34 1 6 1 3 1 7 1-10 1 19 1-9 1 3 1-11 1-30 1 20 1-14 1 15 1-8 1-27 1-20 1 23 1 2 1-13 1-54 1-181 1 123 1 94 1-22 1 64 1 18 1-9 1 5 1 14 1 10 1-11 1 15 1-13 1-17 1 42 1 4 1-29 1 10 1 9 1 7 1-7 1-4 1-21 1-196 1 168 1 3 1 8 1 13 1-19 1 36 1-4 1-12 1-3 1-51 1 60 1-6 1-29 1-29 1-17 1 52 1 2 1 5 1-23 1 7 1 20 1-10 1-8 1 10 1-3 1 4 1-1 1-20 1 19 1-1 1 2 1-1 1-5 1-5 1 11 1-11 1-59 1 48 1-20 1-327 1 324 1 39 1 12 1-14 1 15 1-28 1-5 1-1 1 26 1 0 1 9 1 6 1-12 1 10 1 14 1 4 1 0 1-1 1 1 1 0 1 1 1-11 1 8 1-26 1-150 1 175 1 7 1-4 1-6 1 16 1 1 1 4 1 1 1 1 1-4 1 8 1-2 1 0 1 3 1 0 1-8 1-137 1 133 1 7 1-5 1-5 1 4 1-13 1-41 1 54 1 11 1-17 1-2 1 18 1-2 1-7 1 9 1 2 1-6 1 7 1-6 1-49 1 30 1 16 1-7 1-12 1 7 1 18 1 4 1-6 1-7 1-1 1-16 1-99 1 86 1 8 1-15 1 4 1-6 1-7 1 1 1-7 1-5 1-12 1-5 1-16 1-18 1-21 1 1 1-12 1-20 1 13 1 14 1 10 1 3 1-28 1 47 1 18 1 7 1 6 1 12 1 6 1 4 1-19 1 10 1 12 1-20 1 4 1 16 1 13 1-6 1 3 1 9 1-2 1 6 1-4 1 14 1 3 1-6 1 4 1-2 1 4 1-4 1-4 1 8 1-9 1 12 1 1 1 3 1-2 1 0 1-8 1-10 1 18 1 3 1-5 1-5 1 6 1-7 1-9 1 9 1 8 1 0 1-2 1 0 1 3 1-4 1-4 1-3 1-16 1-58 1 16 1 6 1-108 1-798 1 777 1 109 1 10 1-24 1-155 1-717 1 703 1 154 1 3 1-17 1-20 1-398 1 374 1 75 1 1 1-24 1-159 1-692 1 725 1 136 1 30 1-135 1 151 1 3 1 17 1-13 1-2 1 13 1-18 1 23 1-13 1 19 1-17 1 18 1 1 1 5 1-11 1-4 1-29 1-136 1-763 1 774 1 101 1-15 1-150 1-710 1 714 1 176 1 33 1-41 1 42 1 4 1 22 1-3 1 7 1 5 1-2 1 0 1-19 1 6 1 17 1-3 1 1 1-19 1 18 1 4 1-11 1 10 1-5 1-20 1 21 1 6 1-9 1 11 1-4 1-8 1 8 1 2 1 0 1-4 1 0 1-12 1-4 1 12 1-2 1-39 1 35 1 11 1-18 1 19 1-7 1-8 1-75 1 83 1 5 1 0 1-22 1-16 1 5 1-9 1 27 1 7 1-2 1-14 1 12 1-1 1-4 1 0 1-65 1 42 1-9 1-5 1-25 1-185 1 126 1 41 1-4 1-12 1-45 1 33 1-6 1 11 1-4 1 4 1-22 1-33 1 81 1 16 1 9 1-38 1 40 1 17 1-14 1-18 1 45 1 11 1 2 1 6 1 11 1-16 1 4 1-39 1 41 1 9 1 24 1 9 1-3 1 1 1 13 1-37 1 44 1 10 1 10 1 6 1 6 1-8 1 0 1-24 1 42 1 7 1 4 1 3 1-5 1 0 1 2 1-3 1-6 1-55 1 30 1 27 1-4 1-9 1-34 1-399 1 340 1-422 1 439 1-4 1 54 1 24 1-19 1-67 1-165 1-749 1 924 1 69 1 28 1-37 1 43 1-9 1 19 1-19 1 16 1-4 1 15 1-5 1-5 1-56 1 51 1 1 1-7 1-46 1 44 1 8 1-30 1-367 1 326 1 26 1 22 1 22 1-53 1 69 1 7 1-9 1-4 1 3 1-10 1-32 1-118 1 124 1-139 1 69 1 67 1 26 1-6 1-23 1-60 1 60 1 13 1-28 1-106 1-907 1 885 1 51 1-136 1-805 1 800 1 137 1-65 1-809 1 811 1 77 1-98 1-853 1 851 1-37 1 196 1 30 1 6 1 2 1-12 1 20 1 5 1-1 1-13 1-34 1-409 1 317 1 88 1-12 1 28 1-168 1 120 1-403 1 201 1 184 1 10 1-555 1 497 1 83 1-28 1-537 1 409 1 124 1 16 1 10 1 2 1-12 1 11 1-22 1-16 1-446 1 386 1 36 1 11 1 19 1-16 1-53 1-584 1 581 1 36 1-33 1-22 1-616 1 603 1 55 1-3 1-67 1 65 1-6 1-58 1-633 1 614 1 32 1-27 1-72 1-753 1 707 1-65 1-642 1 668 1 19 1-687 1 708 1 134 1-60 1-426 1 511 1 55 1-11 1-254 1 197 1 76 1 10 1-49 1-100 1 182 1 36 1 14 1-4 1 54 1 14 1 2 1 12 1 7 1 6 1 7 1 5 1 4 1 5 1-12 1 11 1-6 1 10 1 0 1 1 1 1 1-8 1 10 1 0 1-2 1-32 1 36 1 4 1 2 1 0 1 2 1-9 1 8 1-5 1 6 1 2 1 2 1 2 1-1 2 0 1-4 1 2 1 3 1 0 1 1 1 0 1-1 1 0 1-2 1 0 1 1 1 2 1 0 1 1 1-1 1 0 1 1 1 0 1-1 1-3 1 2 1 2 1 3 1 0 1-2 1 3 1-4 1 1 1-3 1 6 1-2 1 2 1-1 1-4 1 2 1-40 1 42 1 0 1 3 1-1 1 3 1-2 1-1 1 0 1-9 1-120 1 110 1-21 1-51 1 85 1 6 1 1 1 2 1 2 1 1 1 1 1-1 1 0 1-13 1 12 1-2 1-26 1 22 1 4 1 2 1 1 1 0 1 2 1-5 1 4 1 1 1-3 1 4 1-1 1-2 1 1 1-5 1-10 1 16 1-2 1-4 1 4 1 1 1 2 1 1 1-1 1-1 1-1 1 2 1-1 1 1 1 0 1-4 1 3 1-8 1 8 2 0 1-5 1 1 1 1 1 1 1 1 1 0 1-3 1 2 1 3 1-3 1 2 1-10 1 1 1 7 1 3 1-4 1 4 1-1 1 0 1-1 1 1 1-2 1-1 1-2 1 4 1 1 1-6 1 5 1 1 1-1 1 1 1 1 1 0 1-11 1 3 1 5 1 3 1-2 1 1 1 0 1-1 1 1 1-5 1 4 1 2 1-5 1 2 1 1 1 1 1-1 1 0 1 1 1 1 1 1 1-2 1 0 1-1 1 2 1-2 1 2 1 0 1 1 1 0 1-3 1 1 1 0 1-3 1 2 1-2 1 4 1 0 1-2 1-1 1 2 1-2 1 1 1 2 1-3 1 2 1 0 1-1 1 2 1-4 1 5 1-2 1 2 1-7 1 5 1 0 1-2 1 2 1 1 1-3 1 4 1-1 2 0 1-5 1 5 1-1 1 0 1 1 1-2 1-3 1 3 1 0 1-1 1 3 1-3 1-2 1 3 1 0 1 3 1-1 1-2 1 1 1-5 1 5 2 0 1-4 1 4 1-2 1 0 1-5 1 2 1 4 1-5 1 6 1 0 1 1 1 1 1-2 1 2 1-1 1 1 1-2 1 1 1-1 1 0 1 2 1-6 1-1 1 5 1 0 1-1 1-4 1 4 1-2 1 3 1 1 1 0 1-5 1 5 1-2 1 1 1-1 2 0 1 3 1 1 1-7 1 4 1 1 1-1 1-7 1 8 1-6 1 5 1-1 1 2 1-8 1 7 1-3 1 4 1-3 1 2 1 0 1-1 1 0 1-1 1-3 1-3 1 9 1-3 1 2 1-2 1-4 1 6 1-1 1 2 1-1 1-1 1 2 1-6 1 6 3 0 1-1 1-1 1 2 1 1 1 0 1-1 1 2 1-2 1-1 1 0 1 1 1 0 1 1 1-1 1 0 1-8 1 8 1-12 1 12 1-9 1 7 1 1 1 0 1-1 1 2 1-1 1-1 1 1 1-3 1 5 2 0 1-1 1 1 2 0 1-2 1 2 1 0 1 1 1 0 1-3 1 1 1-2 1 2 1-4 1 4 1-5 1 4 1-8 1-9 1-9 1-60 1-60 1-167 1-150 1-133 1-120 1-120 1-120 1-120 1-97" stroke="#ffcc00"/>
<path d="M25 1126l1 1 1 5 1-2 1 1 1 2 1 2 1-2 1-7 1 11 1-5 1 7 1 8 1 12 1 3 1 10 1-19 1 10 1-6 1-7 1-7 1-3 1-72 1-74 1-81 1-77 1-78 1-82 1-79 1-80 1-82 1-81 1-81 1-81 1-82 1-80 1-9 17 0 1 296 1 974 12 0 1-7 1 7 5 0 1-3 1-8 1-7 1-8 1-7 1-12 1-4 1-2 1-12 1-5 1-25 1-42 1 43 1-9 1-8 1-3 1-1 1-4 1 1 1-3 1 3 1-3 1 0 1-3 1-2 1-2 1-1 1 4 1-1 1-1 1-8 1 2 1-2 2 0 1 2 1-8 1 4 1 0 1-4 1-14 1 14 1 0 1 3 1 1 1-3 1 2 1-4 1-1 1-11 1 14 1-11 1 8 1-1 1 4 1 3 1-3 1 2 1-7 1 1 1 6 1 2 1-7 1 3 1 1 1-2 1-1 1 3 1-12 1 9 1-2 1 3 1-6 1 0 1-10 1 5 1-112 1 104 1 1 1-31 1-484 1 489 1 24 1 6 1-9 1 14 1-5 1 5 1 3 1 0 1-5 1-1 1 5 1-10 1 8 1-9 1-7 1 14 1-13 1 11 1-3 1 2 1 0 1-20 1 7 1-47 1-186 1 202 1 30 1-3 1 11 1-13 1 10 1 2 1 1 1-1 1-2 1-6 1 5 1-4 1-2 1 0 1-2 1 5 1-3 1-6 1 8 1-19 1 6 1-6 1 14 1-1 1 0 1-5 1-107 1 104 1 5 1 0 1-22 1 13 1 3 1-31 1 30 1-1 1 5 1-10 1 6 1 3 1-3 1-6 1 1 1 0 1-4 1 2 1-1 1-1 1 0 1 4 1-5 1 3 1-1 1-2 1 1 1-10 1-10 1 11 1 6 1 1 1-6 1-2 1-7 1 9 1-4 1-10 1 6 1-3 1 4 1-6 1-3 1-12 1 3 1-6 1 3 1-6 1-11 1-11 1-103 1 97 1-54 1 61 1 8 1-7 1-3 1 0 1-3 1 1 1-6 1-6 1-10 1 2 1-11 1 10 1-6 1 1 1-4 1 1 1 8 1 2 1-10 1-2 1 12 1-4 1-5 1-16 1-2 1 12 1 3 1-10 1 13 1 4 1-18 1 4 1 11 1-5 1-9 1-4 1-58 1 50 1 15 1 5 1 6 1-4 1 1 1-1 1-11 1 11 1-9 1 6 1-1 1-4 1 6 1-5 1-13 1 1 1 15 1-10 1-2 1-7 1 15 1-3 1 3 1-4 1 1 1 1 1 2 1-17 1 10 1-2 1-5 1 13 1-3 1-1 1 0 1-1 1-4 1 3 1-1 1-14 1 7 1 6 1-10 1 1 1-19 1 23 1-3 1-7 1-20 1 19 1-9 1 6 1-69 1 43 1-110 1 73 1 36 1 8 1-8 1-55 1 45 1-1 1-20 1-45 1 43 1-5 1-41 1-106 1 121 1-15 1-72 1 49 1 10 1 0 1 6 1-40 1 22 1-28 1 14 1 13 1-9 1 4 1-7 1-7 1-20 1 11 1 2 1-17 1-51 1-52 1 57 1-226 1 216 1-134 1 178 1 27 1 7 1 12 1-2 1-28 1-196 1 169 1 88 1 12 1-1 1 9 1 5 1 44 1 26 1 4 1-23 1 39 1 41 1-9 1-6 1-142 1 126 1-9 1 22 1-10 1 2 1 4 1-12 1 8 1-14 1-35 1 30 1 5 1-3 1-25 1 24 1-20 1-52 1 47 1 4 1-38 1 20 1 10 1 9 1-7 1-12 1-14 1 5 1 0 1-49 1 58 1-8 1-112 1 104 1-37 1 18 1-47 1 33 1-63 1 79 1 15 1 9 1-5 1 0 1-14 1 1 1 6 1 1 1 1 1-23 1-60 1 64 1-9 1-88 1 6 1 60 1 6 1 13 1-14 1-81 1-105 1 150 1 32 1 8 1-3 1 13 1-10 1-37 1 18 1 24 1 1 1-20 1-8 1-228 1 205 1-65 1 89 1 10 1-10 1-84 1 75 1-4 1-55 1-497 1 471 1-41 1 98 1 28 1-8 1 21 1-19 1-94 1 81 1 6 1 4 1-51 1-22 1 35 1-73 1 24 1 21 1-156 1 115 1 9 1-83 1 89 1-201 1 249 1 32 1 0 1-30 1-59 1 87 1-7 1-31 1 3 1-97 1 56 1 13 1 21 1-22 1 12 1-57 1-50 1 47 1-105 1-157 1 246 1-82 1-584 1 587 1 79 1-49 1-610 1 482 1 87 1 5 1-225 1 287 1 3 1-128 1-518 1 410 1 225 1 23 1-165 1 191 1 21 1 23 1-2 1-38 1 39 1-43 1 19 1-66 1 61 1 44 1 1 1 11 1-1 1-16 1-64 1 26 1 38 1 24 1-1 1-17 1-14 1 23 1-36 1 47 1 4 1-9 1-44 1-26 1 65 1 10 1-35 1-9 1-75 1 111 1 15 1-69 1 6 1 3 1-51 1-659 1 484 1 221 1 72 1-6 1-257 1 175 1-78 1 152 1-62 1 39 1 53 1-10 1-90 1 35 1-84 1 127 1 15 1-29 1-42 1 64 1 28 1-4 1 16 1-2 1-2 1 9 1 4 1 1 1-1 1-5 1-12 1-51 1 24 1-11 1-17 1 22 1 16 1-10 1-371 1 377 1 8 1-1 1 7 1-80 1-724 1 738 1 76 1 14 1 18 1-10 1-29 1-318 1 323 1 8 1 26 1-4 1-1 1-52 1 56 1 8 1 5 1-18 1-122 1 97 1-43 1-139 1 117 1-59 1 89 1 11 1 62 1 5 1-182 1 175 1 23 1 0 1-20 1 8 1-179 1 191 1 13 1 5 1 4 1-5 1-4 1 14 1 3 1-3 1-22 1 15 1-31 1-16 1 61 1 8 1-27 1 22 1 12 1-2 1-26 1 24 1-12 1 33 1-27 1 33 1-11 1 17 1-62 1 59 1-189 1 209 1 8 1-14 1-52 1 8 1-431 1 470 1 13 1-103 1 118 1 21 1-84 1 84 1 10 1 3 1-22 1 24 1-27 1-19 1 46 1-15 1-51 1 65 1 7 1 16 1-6 1-41 1-472 1 460 1 40 1 14 1 9 1-8 1 11 1-4 1-6 1-16 1 18 1-9 1-1 1-1 1-28 1 26 1-18 1-2 1-19 1 26 1 8 1 16 1-2 1 4 1-6 1-1 1-17 1 15 1-1 1 0 1-9 1 9 1-11 1 9 1-14 1 11 1-7 1 1 1-16 1-1 1 11 1-21 1-6 1-235 1 233 1 21 1 6 1-4 1-2 1-159 1 151 1 6 1 14 1-1 1 4 1-105 1 107 1 6 1 6 1 1 1-4 1-19 1 23 1 1 1-30 1 27 1 4 1-8 1-45 1 43 1 6 1-58 1 43 1 17 1 6 1 3 1-2 1 0 1-18 1 11 1-5 1-36 1 33 1 11 1 0 1-4 1 1 1-10 1-1 1-10 1-3 1-1 1-15 1-27 1-32 1 44 1-15 1 7 1 10 1-25 1 21 1-52 1 60 1 3 1-9 1-5 1-10 1 28 1-1 1 6 1-11 1 11 1-2 1-49 1 32 1 22 1 9 1 5 1 0 1-4 1 4 1 5 1 0 1 2 1-10 1 10 1-1 1 1 1 1 1-7 1-6 1 1 1-5 1 5 1 0 1 5 1-6 1 3 1-1 1-3 1-3 1 0 1-23 1 25 1-27 1 6 1 6 1-6 1-38 1-378 1 382 1 38 1-24 1 19 1-24 1-322 1 330 1 14 1-17 1 38 1 1 1-197 1 201 1 22 1 6 1 0 1-4 1 13 1-9 1 6 1 2 1 6 1 4 1 1 1 3 1-25 1 1 1 14 1-7 1 16 1-5 1-7 1 6 1-19 1 18 1-4 1 10 1 8 1-1 1-6 1-16 1 19 1-2 1-10 1-29 1 25 1-8 1 8 1-34 1 47 1 5 1-3 1-5 1-3 1 2 1-12 1-43 1 38 1 22 1 4 1-2 1-4 1-10 1-33 1 41 1 12 1-1 1-3 1-17 1 5 1-10 1-138 1 135 1 21 1-2 1-33 1-67 1-105 1 191 1 15 1-7 1 17 1 0 1-2 1 4 1-5 1 3 1-4 1-5 1-24 1 25 1 2 1-62 1 49 1-1 1 1 1-26 1 35 1 8 1-10 1 5 1-15 1 15 1-5 1 3 1 2 1 10 1-43 1 39 1 3 1-6 1-32 1 13 1 6 1 17 1-2 1-11 1 2 1-22 1-34 1-1 1 25 1 5 1 12 1-34 1 42 1 10 1-10 1-14 1-16 1 32 1 15 1 1 1 5 1-1 1-6 1-23 1 33 1 0 1-9 1-3 1-21 1 16 1-34 1-47 1-72 1 125 1 21 1 1 1-13 1-21 1 30 1-2 1-6 1 21 1 4 1-8 1 6 1 2 1 2 1-2 1 6 1-5 1 2 1-16 1-65 1 1 1 38 1 30 1-11 1 14 1 4 1-5 1 1 1-19 1-203 1 207 1 18 1 0 1-20 1-9 1 13 1-1 1-42 1-115 1 155 1-2 1 17 1 4 1-4 1-39 1-80 1 58 1 43 1 15 1 2 1-13 1-165 1 152 1-70 1 64 1-21 1 45 1-18 1 7 1-37 1 10 1 25 1 0 1-38 1 41 1-5 1 10 1 6 1 0 1-2 1-7 1 10 1-3 1-13 1 13 1-7 1 4 1 2 1-5 1 2 1 1 1 1 1-13 1-21 1 12 1 10 1-26 1 14 1-21 1 23 1 1 1 12 1-1 1-19 1 22 1-8 1 7 1-1 1-32 1 28 1 1 1-5 1-4 1 9 1-14 1 12 1 0 1 1 1 3 1-43 1 31 1-17 1 16 1 0 1-11 1-3 1-160 1 147 1 4 1 13 1-29 1-384 1 109 1 228 1 60 1 11 1-30 1 29 1 13 1 4 1-14 1 8 1-2 1 0 1-13 1-6 1-37 1-35 1-466 1 492 1 34 1 19 1 3 1 0 1 1 1-14 1-5 1 13 1 3 1-10 1-180 1 177 1 0 1-9 1 5 1 8 1 5 1-16 1 1 1 5 1-26 1-25 1-395 1 390 1 8 1-115 1 137 1-12 1-208 1 203 1 19 1-137 1 142 1 12 1-15 1 4 1 13 1-10 1 4 1 3 1-6 1-2 1 2 1 0 1-10 1-14 1-15 1 31 1 0 1-4 1-9 1-4 1-6 1 6 1-33 1 37 1 1 1-7 1-4 1-5 1-14 1-20 1-12 1 23 1 13 1-16 1-9 1 15 1-1 1-2 1-18 1-20 1 31 1 15 1-2 1-15 1-13 1-3 1-15 1-124 1 126 1-36 1-57 1 85 1 9 1-22 1-58 1 11 1-162 1-655 1 616 1 165 1-43 1-228 1-510 1 518 1 237 1 23 1-159 1-234 1 403 1 18 1-8 1-135 1-663 1 644 1 88 1 61 1-78 1-715 1 736 1 78 1-7 1-123 1-684 1 667 1 35 1 118 1-11 1-444 1 444 1-1 1 44 1-84 1 98 1 18 1 1 1-25 1-63 1 81 1 27 1 5 1-55 1 62 1 14 1 5 1 0 1 6 1-1 1 2 1 2 1-6 1-6 1-3 1-4 1-25 1 14 1 6 1-27 1-45 1 45 1-5 1-5 1-81 1-86 1 59 1 96 1 8 1 35 1 10 1 1 1 5 1-6 1 18 1 0 1-2 1-1 1-54 1 60 1 17 1-18 1 15 1-2 1 9 1-6 1 0 1-18 1-151 1 87 1 0 1 27 1 21 1-6 1 18 1-2 1-19 1 16 1-28 1 28 1-12 1-41 1-3 1-51 1 74 1 16 1-4 1 5 1-5 1 3 1-28 1-19 1 38 1 3 1 3 1-19 1 7 1 6 1 3 1-8 1 4 1-6 1 2 1 0 1-16 1-49 1 41 1-52 1-503 1 517 1 58 1 3 1 17 1-3 1-27 1 8 1-19 1 16 1 15 1 23 1-1 1-5 1 13 1 4 1-3 1 3 1-3 1-8 1 14 1 2 1-11 1 13 1-12 1-80 1 91 1 1 1-1 1-11 1 0 1 17 1 4 1-1 1-9 1 10 1 5 1 1 1 4 1 2 1-26 1 15 1-35 1 38 1 7 1-7 1-11 1 2 1-29 1-69 1 86 1 14 1 8 1-19 1 22 1 2 1-4 1 0 1-11 1 13 1-1 1-8 1-48 1 43 1 8 1-13 1-9 1 21 1 9 1 0 1-3 1 3 1-7 1-18 1-57 1 42 1-8 1 0 1 1 1-4 1-11 1-18 1 15 1-9 1-22 1-5 1-7 1-22 1-6 1-15 1-15 1-15 1 7 1 15 1 12 1 4 1-11 1 35 1 17 1 6 1 3 1 3 1 25 1-1 1-23 1 28 1 3 1-26 1 10 1 17 1 11 1-13 1-5 1 22 1-7 1 15 1 4 1-2 1 4 1-1 1 6 1 1 1-4 1-20 1 16 1 7 1 5 1 3 1 0 1-4 1-8 1-16 1 17 1 8 1-4 1 4 1-4 1-5 1 6 1-7 1-9 1 10 1 10 1 1 1 3 1-3 1-5 1-1 1-5 1-7 1-16 1-53 1-15 1 11 1-166 1-695 1 685 1 168 1 26 1-2 1-66 1-544 1 551 1 54 1-3 1-17 1-49 1-373 1 362 1 69 1 5 1-17 1-109 1-740 1 756 1 91 1 26 1-179 1 189 1 6 1 0 1-34 1 32 1 1 1 1 1 22 1-15 1 12 1-3 1-4 1 22 1-5 1 0 1-12 1-28 1-137 1-741 1 746 1 113 1-3 1-98 1-758 1 767 1 120 1 22 1-4 1-10 1 17 1 14 1 0 1 4 1 5 1 1 1 3 1-8 1 9 1-4 1 4 1-13 1-2 1 8 1 10 1 1 1-7 1 2 1-18 1 22 1-4 1 7 1 2 1-6 1-2 1-4 1-8 1 20 1-3 1-3 1-7 1-24 1 14 1 14 1-15 1 5 1 9 1-46 1 39 1 5 1-8 1-24 1 34 1 0 1-21 1 20 1-14 1-14 1 10 1 17 1-4 1 0 1-1 1 2 1-6 1-7 1-34 1-292 1 287 1 6 1-7 1-4 1-79 1 29 1 17 1-3 1-13 1-52 1 35 1-6 1 3 1-4 1 12 1-12 1-70 1 102 1 23 1 0 1-119 1 111 1 21 1-17 1-37 1 67 1 18 1-16 1 31 1 8 1 8 1-5 1-21 1 32 1 6 1 16 1 4 1-10 1 2 1 19 1-3 1 15 1 15 1-6 1 9 1-4 1 23 1-8 1-5 1 24 1 7 1 8 1-6 1 2 1-4 1 2 1-1 1-9 1-55 1 39 1 19 1-4 1-12 1-36 1-421 1 376 1-219 1 244 1-12 1 54 1 2 1-16 1-83 1-97 1-814 1 867 1 138 1 25 1-28 1 44 1-6 1 20 1-20 1 23 1 6 1 6 1-9 1-14 1-49 1 46 1-4 1-6 1-34 1 27 1 22 1-5 1-88 1 28 1 27 1-25 1 53 1-130 1 148 1 2 1 0 1 4 1-3 1-6 1-22 1-192 1 169 1-155 1 97 1 82 1 15 1-7 1-13 1-19 1 11 1-7 1-38 1-184 1-796 1 779 1 145 1-23 1-679 1 683 1 61 1-49 1-526 1 518 1 59 1-83 1-847 1 844 1-112 1 230 1 31 1-2 1 5 1-17 1 25 1-27 1 39 1-4 1-22 1-301 1 239 1 60 1-39 1 25 1-244 1 194 1-390 1 225 1 140 1 29 1-399 1 348 1 72 1-13 1-308 1 191 1 94 1 3 1 3 1 22 1-6 1 0 1-6 1-36 1-315 1 229 1 83 1 5 1 4 1-6 1-42 1-387 1 392 1 25 1-43 1-8 1-430 1 422 1 17 1-4 1-50 1 54 1 17 1-14 1-129 1 115 1-34 1-51 1-110 1-671 1 616 1-26 1-590 1 677 1 69 1-637 1 615 1 83 1-147 1-660 1 744 1 132 1-8 1-443 1 323 1 145 1 18 1-25 1-295 1 340 1 66 1 24 1-3 1 53 1 12 1 6 1 8 1 6 1 8 1 2 1 9 1 4 1 9 1-5 1 4 1 3 1-3 1-2 1 8 1-2 1-1 1 3 1 2 1 1 1-21 1 21 1 5 1 0 1-1 1-2 1-1 1 6 1-13 1 9 1 3 1 6 1-2 1-3 1 2 1 3 1-4 1 4 1 2 1 0 1-2 1 1 1-6 1 7 1-2 1-1 1 1 1 4 1-6 1 7 1 0 1-1 1-1 1 1 1 0 1-2 1 0 1-1 1 2 1 3 1-3 1 3 1 0 1 2 1-1 1-1 1 1 1 0 1-5 1 1 1-3 1-33 1 37 1 4 1 3 1-1 1 0 1-10 1 7 1 3 1-4 1-48 1 28 1-66 1 50 1 37 1 3 1 3 1 1 1 1 1 0 1 2 1 0 1 2 1 1 1-2 1 0 1-4 1 2 1 1 1-1 1 0 1 2 1-1 1-1 1 2 1 0 1-1 1-1 1 2 1-1 1-3 1 4 1-1 1-4 1 5 1-3 1 2 1-1 1-1 1 2 1-1 1 1 1 0 1 1 1-7 1 3 1-6 1 10 1 0 1-1 1 1 2 0 1 1 1-2 1-1 1 0 1 1 1 0 1 1 1 1 1-2 1 1 1-4 1 1 1 3 1 0 1-2 1-1 1 2 1-1 1-1 1 1 1-3 1 5 1 0 1-2 2 0 1 3 1-3 1-6 1-5 1 10 1 1 1 2 1-3 1-1 1 2 1-1 1 2 1 0 1 1 1-1 1-7 1-1 1 7 1 2 1-2 1-3 1 4 1-1 1 1 1 1 1 0 1-1 1-3 1 3 1-5 1-9 1 15 1 0 1-4 1 4 1-1 1 2 1-2 1-1 1 3 1-5 1 6 1-2 1-2 1 0 1 2 1-1 1 1 1 0 1 1 1-3 1 1 1 0 1-10 1 13 1-1 1-3 1 0 1 1 1 1 1-5 1 4 5 0 1-1 1-4 1 5 1 1 1-1 1 1 1-3 1 1 1-10 1 11 1 1 1-1 3 0 1 1 1 1 1-4 1 2 1-1 1-1 1 1 1-1 1 4 1-7 1 6 1-2 1 3 1-6 1 4 1-16 1 18 1-3 1 2 1-3 1 2 1 2 1-3 1 1 1-1 1 0 1 2 1 1 1-2 1 3 1-1 1-3 1 0 1-4 1 1 1 3 1 1 1 1 1 1 1 1 1-3 1 0 1-7 1 6 1 4 1-10 1 7 1 1 1-3 1 5 1 0 1-3 1-6 1 8 1-5 1 4 1-1 1-4 1 5 1-2 1-1 1 1 1 1 1 1 1-1 1-15 1 15 1 1 1-2 1-1 1 1 1 2 1-1 1 0 1-2 1-2 1 4 1 2 1 1 1-3 1 0 1-1 1 1 1 1 1 0 1-3 1 1 1 2 1-6 1 6 1 0 1-5 1 3 1-3 1-1 1 5 1 1 1-2 1 1 1-5 1 6 1-4 1 3 1-2 1 3 1-5 1 4 1-5 1-2 1 7 1-3 1 4 1-2 1-1 1 1 1-3 1 4 2 0 1-1 1 2 1-1 1 2 1-1 1 2 1-1 1-1 1 0 1-1 1 2 1-2 1-4 1 5 1-2 1 2 1 0 1 1 1-3 1-1 1 3 1-9 1-9 1-9 1-60 1-60 1-166 1-150 1-134 1-120 1-120 1-120 1-120 1-96" stroke="#ff6a00"/>
<path d="M25 1121l1 3 1 0 1 3 1 1 1-1 1-2 1 2 1-6 1 1 1 7 1 9 1 6 1 8 1 5 1 5 1 5 1-4 1-12 1-22 1 11 1-2 1-41 1-76 1-81 1-78 1-78 1-80 1-93 1-70 1-80 1-82 1-90 1-67 1-79 1-79 1-43 18 0 1 1270 16 0 1-2 1-11 1-6 1-26 1-23 1 21 1-8 1-10 1-6 1-18 1-1 1-15 1-4 1-10 1-3 1 2 1-3 1-8 1-1 1-35 1 36 1-17 1 10 1-16 1 9 1-2 1 1 1-2 1-4 1-11 1 14 1-1 1-4 1-1 1 5 1-10 1 9 1-3 1-1 1-12 1 10 1 4 1 3 1-2 1 0 1-2 1-6 1 2 1-5 1 5 1-6 1 9 1 1 1 2 1-1 1-14 1 17 1-8 1-13 1 18 1-7 1-3 1 7 1-8 1 3 1 4 1-2 1 0 1-2 1 7 1-1 1 2 1 0 1-4 1 2 1 0 1-5 1 3 1-7 1-79 1 65 1 8 1-6 1-226 1 222 1 17 1 3 1-3 1 1 1 1 1 5 1-4 1-2 1 2 1-3 1 3 1-2 1-3 1-3 1 4 1-4 1 5 1 0 1-3 1-4 1 3 1-27 1 2 1-225 1 149 1 87 1 15 1-5 1 5 1-6 1 5 1-2 1 3 1-8 1 2 1 2 1 0 1-18 1 14 1-1 1-2 1 0 1-2 1-3 1 3 1 5 1-13 1 4 1-8 1 7 1-7 1-2 1-100 1 102 1 3 1 0 1 3 1-3 1-7 1-71 1 62 1 14 1-3 1 0 1 1 1 0 1-4 1 2 1-4 1 2 1 1 1 1 1-4 1-1 1-8 1 7 1-2 1 6 1-24 1 21 1-6 1 0 1 1 1-5 1-10 1 9 1-1 1 4 1 2 1-3 1 7 1-8 1-13 1 16 1-3 1 3 1-5 1 4 1-9 1 9 1-4 1-1 1-8 1-22 1-161 1 114 1-440 1 463 1 39 1 6 1-4 1 5 1 10 1-1 1 3 1-16 1 2 1-18 1 5 1 11 1-4 1 8 1-1 1-9 1 12 1 2 1 0 1 2 1 2 1-7 1 1 1-9 1 2 1 1 1 4 1-15 1 14 1 1 1 0 1-12 1 9 1-11 1 7 1-11 1-72 1 66 1 8 1 7 1 9 1-5 1-2 1 7 1-13 1 5 1 4 1 2 1-7 1-3 1 3 1-3 1 4 1-4 1 5 1 3 1-9 1-27 1 29 1-3 1 2 1-7 1 3 1 6 1 2 1-7 1 7 1-5 1 4 1-4 1 4 1-4 2 0 1-14 1 11 1-5 1-35 1 20 1 3 1 7 1-1 1-21 1 22 1-7 1 4 1-23 1 19 1-3 1-1 1-117 1 86 1-71 1 57 1 29 1-12 1 1 1-32 1 38 1 2 1-9 1-45 1 11 1 24 1-39 1-150 1 153 1-19 1-87 1 76 1 25 1-12 1 2 1-151 1 134 1-15 1 8 1 17 1-1 1 1 1-6 1-7 1-56 1 43 1 4 1-40 1-25 1-124 1 127 1-167 1 133 1-196 1 246 1 39 1 10 1 7 1-15 1-8 1-101 1 98 1 31 1 35 1-7 1-5 1 19 1 23 1 10 1-11 1-62 1 84 1 26 1-4 1-20 1-231 1 223 1-14 1 26 1 0 1 11 1-15 1 8 1-3 1-2 1-18 1 11 1 1 1 3 1-11 1-5 1-26 1-80 1 71 1 20 1-47 1 30 1 23 1 6 1-4 1-31 1 9 1-15 1 23 1-5 1-3 1 8 1-71 1 50 1-16 1-114 1 91 1 16 1-125 1 119 1 46 1 4 1 4 1-11 1 9 1-16 1 9 1-2 1-20 1-3 1-57 1 44 1-8 1-195 1 95 1 78 1 26 1 5 1-9 1-70 1-78 1 118 1 34 1 9 1-22 1 30 1-14 1-21 1-26 1 50 1 6 1-11 1-17 1-232 1 204 1-68 1 83 1 18 1-10 1-61 1 55 1 0 1-53 1-470 1 433 1-28 1 99 1 22 1-31 1 40 1-1 1-47 1 39 1 0 1 5 1-47 1 5 1 16 1-126 1-13 1 55 1-472 1 350 1 8 1-45 1 131 1-207 1 242 1 70 1 25 1-34 1-9 1 34 1-7 1-51 1 18 1-88 1-1 1 58 1 38 1-11 1 0 1-44 1-136 1 138 1-123 1-359 1 462 1-3 1-445 1 448 1 36 1-16 1-157 1 65 1 14 1-99 1-379 1 504 1 34 1-54 1-644 1 503 1 161 1-12 1-415 1 444 1 51 1 20 1 9 1-18 1 17 1-17 1-9 1-54 1 26 1 66 1 6 1 4 1-5 1-20 1-78 1 33 1 55 1 11 1-1 1-28 1-100 1 103 1-8 1 26 1 16 1-9 1-49 1 2 1 46 1 27 1-30 1-6 1-35 1 51 1-5 1-69 1-19 1 29 1-105 1-690 1 540 1 217 1 84 1-52 1-658 1 547 1 123 1 28 1-103 1 95 1 56 1-25 1-43 1 44 1-11 1 48 1-13 1-46 1-43 1 68 1 27 1 14 1 10 1-13 1 2 1 20 1 9 1 6 1-7 1-16 1-15 1-46 1 45 1 7 1-12 1 1 1-11 1-12 1-178 1 172 1 45 1-33 1 32 1-26 1-416 1 430 1 31 1 3 1 11 1-16 1-42 1-414 1 414 1 35 1 23 1-3 1-13 1-42 1 51 1 15 1 0 1-3 1-72 1 67 1-25 1-163 1 139 1-83 1 84 1-8 1 48 1-3 1-343 1 345 1 30 1-6 1-39 1 38 1-58 1 68 1 19 1-9 1 11 1 4 1-15 1 18 1-1 1 3 1 1 1-10 1-40 1-64 1 100 1 14 1-26 1 23 1 8 1 6 1-15 1-31 1-29 1 71 1-10 1 12 1-22 1 9 1-89 1 84 1-208 1 236 1 13 1-26 1 4 1-28 1-378 1 414 1 24 1-26 1 37 1 11 1-50 1 55 1-2 1-4 1-18 1 29 1-25 1-10 1 17 1 0 1-56 1 56 1 23 1 0 1-21 1-49 1-743 1 738 1 46 1 30 1 4 1 8 1-10 1 4 1 5 1-2 1-5 1-6 1-1 1 1 1-24 1 17 1-4 1-29 1-44 1 73 1 8 1 5 1 1 1-8 1 7 1-6 1-7 1 6 1-1 1-1 1-9 1 10 1 1 1-8 1-18 1 9 1 12 1-5 1-19 1 8 1-2 1-20 1-1 1-193 1 194 1 21 1-4 1-4 1-4 1-257 1 261 1 15 1 9 2 0 1-41 1 25 1 25 1 1 1 0 1-3 1-31 1 31 1 1 1-24 1 27 1 6 1-4 1-27 1 24 1-13 1-176 1 165 1 24 1 4 1-17 1 15 1 4 1-2 1-6 1-11 1-9 1 20 1 4 1 3 1-3 1 1 1-3 1-3 1-9 1-28 1 29 1-17 1-26 1 0 1 5 1 19 1-20 1 2 1-4 1 9 1-60 1 66 1 1 1-1 1 0 1-11 1 15 1 6 1 2 1-4 1 4 1-1 1-46 1 33 1 21 1 3 1 0 1 5 1-6 1-7 1 8 1 9 1-3 1 3 1-2 1 1 1 6 1-1 1-5 1 2 1-5 1-4 1-5 1 5 1 4 1-18 1 7 1 3 1-4 1 3 1 1 1-19 1 3 1 12 1-2 1-2 1-7 1-34 1-363 1 373 1 28 1-21 1 16 1-56 1-564 1 559 1 46 1-20 1 51 1-10 1-183 1 195 1 13 1 9 1 1 1 2 1 9 1 1 1 6 1-3 1 9 1-13 1 1 1 2 1-9 1 12 1-5 1 7 1-8 1 4 1-23 1 20 1 14 1-1 1-3 1 1 1 0 1 5 1-17 1-12 1 24 1-2 1-6 1-23 1 4 1-6 1 23 1-12 1 22 1 0 1 3 1-15 1-18 1 19 1-35 1-11 1 34 1 20 1 12 1 1 1-8 1-2 1-22 1 18 1 7 1-5 1-18 1-51 1 25 1-3 1-136 1 140 1 28 1-13 1 14 1-100 1-59 1 168 1 11 1-8 1 9 1 7 1-3 1-1 1 1 1-1 1 1 1-13 1-28 1-1 1 16 1-113 1 112 1 14 1-17 1-58 1 62 1 20 1 2 1-2 1-23 1 25 1 5 1 5 1-12 1 1 1-51 1 59 1 3 1-8 1-16 1-24 1 32 1 9 1-34 1 6 1 12 1-7 1 4 1-15 1-4 1 9 1-10 1-61 1 62 1 20 1-14 1 12 1-10 1 27 1-4 1 13 1-3 1 1 1-2 1-7 1 4 1 9 1-17 1 3 1 7 1-10 1-32 1-40 1-76 1 124 1 11 1 17 1-8 1-10 1-5 1 20 1-4 1 11 1 0 1-15 1 8 1-13 1 17 1 4 1-4 1-7 1 8 1-7 1-140 1 114 1 29 1-15 1 16 1-4 1-10 1 21 1-4 1-16 1-252 1 251 1 0 1 20 1-7 1-22 1 21 1-5 1-71 1-172 1 233 1 1 1 5 1 13 1-5 1-26 1-7 1 21 1 21 1-2 1-25 1 4 1-198 1 175 1-99 1 107 1-2 1 18 1-22 1 14 1-5 1-17 1 15 1 7 1-34 1 42 1 8 1 1 1-4 1 8 1 0 1-3 1-4 1 4 1 6 1-3 1-12 1 3 1 8 1-3 1 2 1-7 1-31 1 27 1-15 1 8 1 2 1-23 1 19 1 3 1-1 1 8 1 2 1-3 1 6 1-4 1 6 1-8 1 2 1-59 1 46 1 10 1-29 1 20 1 10 1-21 1 17 1-2 1 5 1 3 1-4 1-5 1-7 1 6 1 2 1-7 1-9 1-229 1 200 1 20 1 11 1-32 1-415 1-56 1 425 1 54 1 26 1-7 1 11 1 9 1 4 1-4 1 0 1-2 1-5 1-3 1-20 1-85 1-73 1-891 1 911 1 102 1 37 1 19 1-6 1 3 1-9 1-10 1 18 1 11 1-7 1-136 1 131 1-6 1 3 1-9 1 0 1 21 1-22 1 13 1-2 1-6 1-35 1-344 1 337 1-11 1-412 1 409 1 1 1-189 1 216 1 10 1-208 1 211 1 16 1-1 1-13 1 14 1 2 1-5 1 4 1-3 1-5 1 5 1-6 1-10 1-28 1-21 1 46 1 9 1 6 1-20 1 15 1-7 1-11 1 16 1-3 1-15 1 13 1-6 1-1 1-10 1-20 1 13 1 14 1-10 1-6 1-69 1 62 1-4 1 11 1-10 1-59 1 58 1 7 1 2 1-3 1-18 1-7 1-19 1-147 1 143 1-60 1-75 1 132 1 28 1-17 1-85 1 62 1-93 1-644 1 611 1 89 1-24 1-164 1-720 1 731 1 160 1-13 1-217 1-101 1 314 1 1 1-5 1-156 1-714 1 727 1 111 1 45 1-111 1-713 1 769 1 72 1-36 1-108 1-756 1 762 1 100 1 66 1 14 1-98 1 100 1-6 1-9 1-87 1 105 1 26 1 5 1-7 1-42 1 56 1 5 1 5 1-54 1 72 1 8 1 2 1 5 1 2 1 3 1 6 1-2 1-10 1-12 1-5 1-1 1-59 1 39 1 11 1-22 1-34 1 43 1 2 1-13 1-82 1-109 1 94 1 80 1-216 1 233 1 34 1 7 1 2 1 0 1 11 1 6 1 0 1-5 1-33 1 33 1 13 1-20 1 13 1 15 1-2 1-4 1-22 1-11 1-234 1 207 1 33 1 8 1 5 1-22 1 23 1 0 1-17 1 9 1-56 1 55 1-1 1-35 1 8 1-6 1 28 1 0 1 4 1-4 1 7 1-1 1-7 1-5 1 5 1-8 1 6 1-16 1 4 1 9 1 1 1-2 1 2 1-8 1-13 1 10 1-16 1-61 1 48 1-58 1-630 1 637 1 68 1 20 1-4 1 1 1 2 1-29 1-28 1 34 1 33 1 4 1-2 1-18 1 24 1 3 1-1 1-1 1 0 1-15 1 15 1-5 1-3 1 8 1-24 1-117 1 137 1 12 1-4 1-10 1 10 1 8 1 0 1-3 1 3 1-5 1 3 1-3 1 2 1 4 1-6 1-4 1-107 1 101 1 12 1-1 1-10 1 7 1-17 1-42 1 55 1 9 1-14 1-15 1 25 1 11 1-2 1-2 1-20 1 19 1 1 1-1 1-99 1 54 1 37 1-7 1-12 1 16 1 0 1 8 1-3 1-4 1-4 1-20 1-94 1 83 1 17 1-9 1 5 1 7 1-7 1-7 1-2 1-6 1-10 1-14 1 0 1-39 1-1 1-30 1-31 1-23 1 13 1 39 1 32 1 8 1 6 1 24 1 6 1 9 1 10 1-3 1 8 1-19 1-22 1 37 1 6 1 3 1 6 1 3 1 5 1-23 1 4 1 18 1-5 1 10 1-11 1 19 1-3 1-1 1-3 1-7 1 10 1-3 1-17 1 22 1 2 1 1 1-1 1 3 1-13 1 5 1 6 1-3 1-24 1 30 1-3 1-8 1-8 1 14 1-12 1 4 1 9 1-3 1-2 1 6 1-2 1-3 1 1 1-17 1-9 1-89 1 35 1 29 1-86 1-731 1 723 1 86 1 5 1-21 1-127 1-823 1 809 1 134 1 11 1-31 1-56 1-512 1 506 1 82 1 17 1-49 1-73 1-644 1 696 1 62 1 21 1-95 1 102 1 1 1-10 1-31 1 25 1 37 1-1 1-12 1 16 1 8 1-12 1 5 1 8 1 0 1-5 1-9 1-77 1-115 1-808 1 810 1 130 1 22 1-28 1-444 1 445 1 63 1 1 1-15 1-8 1 21 1 16 1 5 1 1 1 6 1-1 1-3 1-7 1 5 1 0 1 7 1 0 1-21 1 22 1 4 1 0 1-7 1 5 1-19 1 9 1 13 1-1 1 3 1-4 1-2 1 0 1-10 1-1 1 4 1 7 1-18 1-13 1 16 1 12 1-15 1 8 1-11 1-107 1 117 1 7 1-15 1-137 1 146 1 12 1-6 1-2 1-18 1-30 1 26 1 19 1 4 1-6 1 5 1-6 1 1 1-11 1-12 1-331 1 312 1 10 1 4 1-24 1-103 1 66 1 33 1-7 1-7 1-49 1 37 1 2 1-4 1-11 1 4 1-11 1-212 1 240 1 8 1 6 1-214 1 226 1 16 1-6 1-2 1 28 1 5 1 5 1 12 1 9 1-3 1-8 1-34 1 38 1 12 1 7 1 1 1-3 1-15 1 7 1-19 1 32 1 15 1 5 1 8 1 1 1 0 1-14 1-17 1 26 1 14 1 5 1 1 1-6 1 0 1 6 1 3 1-7 1-18 1 18 1-3 1-12 1-27 1-102 1-947 1 872 1-263 1 364 1 32 1 50 1 10 1-16 1-56 1-189 1-804 1 897 1 142 1 21 1-46 1 61 1 17 1 10 1-17 1 27 1-3 1 5 1 4 1-12 1-32 1 33 1 2 1 3 1-31 1 14 1 19 1-13 1-112 1 55 1 4 1 11 1 46 1-15 1 34 1-8 1 9 1-5 1-4 1-11 1-44 1-67 1 65 1-288 1 162 1 132 1 29 1 5 1-10 1-15 1 14 1-8 1-22 1-121 1-937 1 915 1 73 1-57 1-931 1 921 1 76 1-55 1-756 1 754 1 73 1-70 1-807 1 813 1-13 1 134 1 15 1-1 1-2 1-5 1 18 1 9 1-5 1-1 1-32 1-341 1 307 1 45 1-29 1 19 1-236 1 204 1-128 1-91 1 198 1 9 1-348 1 298 1 67 1-23 1-526 1 408 1 122 1 10 1 14 1 2 1-11 1 3 1-15 1-35 1-607 1 510 1 87 1-58 1 76 1-6 1-20 1-371 1 368 1 26 1-14 1-35 1-584 1 547 1 46 1 29 1-20 1 20 1-6 1-46 1-463 1 441 1 24 1-31 1-102 1-800 1 755 1-88 1-667 1 707 1 93 1-740 1 717 1 114 1-141 1-750 1 848 1 88 1-5 1-451 1 365 1 111 1 11 1-51 1-315 1 380 1 47 1 27 1 3 1 33 1 8 1 6 1 7 1 6 1 5 1 4 1 2 1 3 1 7 1-9 1 9 1 2 1 2 1 0 1 3 1-3 1-7 1 11 1 1 1 1 1-29 1 26 1 5 1-2 1 3 1 3 1-22 1 18 1 3 1-5 1 9 1 0 1 2 1 1 1-6 1 3 1 4 1 0 1 1 1-2 1 3 1-1 1-11 1 12 1-2 1 1 1-9 1 9 1-3 1 3 1 0 1-6 1 6 1-2 1 1 1-3 1 5 1-7 1 6 1 3 1-1 1 3 1-1 1-1 1 2 1-3 1 3 1 0 1-6 1 4 1-5 1-34 1 38 1 5 1-4 1-4 1 4 1 1 1 2 1-3 1-12 1-143 1 131 1-74 1 35 1 61 1 6 1 2 1 1 1 2 1 0 1-2 1 2 1-2 1-1 1 3 1-6 1-32 1 35 1-3 1 2 1 3 1 2 1-1 1 3 1-2 1-1 1-1 1 2 1-2 1 3 1-7 1 6 1-3 1-1 1-6 1 9 1-1 2 0 1 2 1 0 1-1 1 1 1 1 1 0 1 1 1-3 1-1 1 0 1 2 1-1 2 0 1-2 1 1 1-2 1 1 1 2 1 0 1-3 1 3 1-1 1 0 1-1 1 1 1-5 1 6 1-2 1 1 1-1 1 2 1-3 1 3 1-5 1 2 1 3 1-2 1 0 1 1 1-8 1 7 1 0 1 1 1-1 1-4 1 5 1-3 1 2 1 2 2 0 1-3 2 0 1 3 1 0 1-3 1 0 1 3 1-1 1 0 1-8 1 2 1 6 2 0 1-9 1 9 1-1 1 3 1-3 1 0 1 3 1-1 2 0 1-4 1 5 1 0 1-1 1-1 1 2 1-11 1 11 1 1 1-2 1 1 1 2 1-4 1-1 1 4 1-2 1 2 1-4 1 2 1 0 1-1 1 2 1 0 1-3 1 1 1-2 1 3 1-1 1 1 1 1 1-1 1-1 1 2 1-5 1 4 1-2 1 2 1 0 1-1 1 1 1 0 1-1 1 0 1-9 1 10 1 1 1-1 1 0 1 1 1-1 1-2 1 2 1-5 1 4 1 4 1 0 1-1 1-8 1 10 1-2 1 0 1-2 1 1 1-3 1 3 1 0 1 1 1-1 1-4 1 6 1-5 1-3 1-1 1 7 1-1 1 0 1 2 1-2 1 0 1-1 1 3 1-1 1-1 1-1 1 1 1 1 1 0 1 2 1-2 1 1 1-2 1 3 1-1 1 0 1-8 1 8 1-2 1 1 1-3 1 1 1-4 1 5 1 0 1-6 1 4 1-5 1 8 1-7 1 3 1 2 1 1 1 1 1-3 1 2 1 1 1-1 1 1 1 2 1-7 1 4 1 3 1 0 1-5 1-1 1-2 1-2 1 9 1 1 1-2 2 0 1-1 1-6 1 7 1 0 1-1 1-6 1 2 1 3 1 1 1 0 1-2 1 3 1-4 1 1 1 5 1-1 1-4 1 5 1-2 1-2 1-2 1 5 1-9 1 9 1-4 1 4 1-6 1 5 1-3 1 2 1-1 1 2 1-1 1 1 1 1 1-4 1 2 1-3 1 4 1-2 3 0 1-2 1 4 1-1 1 0 1-2 1 3 1-2 1 0 1 1 1 0 1 1 1-9 1-9 1-9 1-60 1-60 1-167 1-150 1-133 1-120 1-120 1-120 1-120 1-99" stroke="#0000ff"/>
<path d="M25 1130l1 1 1 1 1 4 1 1 1 1 1-8 1 4 1 3 1 3 1-13 1 16 1 7 1 13 1 8 1 9 1 4 1-6 1-27 1 2 1-2 1-5 1 2 1-90 1-70 1-80 1-85 1-92 1-71 1-80 1-90 1-83 1-71 1-80 1-80 1-90 1-65 18 0 1 1270 22 0 1-1 1 1 4 0 1-2 1-6 1-19 1 12 1-9 1-3 1-4 1-7 1-6 1-4 1-7 1-9 1 3 1-15 1 5 1-11 1 0 1-1 1-1 1 3 1-5 1-8 1-3 1 4 1 3 1-3 1-3 1-3 1 8 1-6 1-8 1 4 1 1 1-3 1-3 1 2 1 1 1-2 1-3 1-2 1-4 1-5 1-1 1 1 1 5 1-1 3 0 1-4 1-3 1 1 1-10 1 14 1-2 1 2 1 1 1-1 1 0 1-17 1 11 1 7 1-2 1 1 1-11 1-19 1-3 1-313 1 311 1 8 1 1 1-160 1 166 1 2 1 6 1 0 1 3 1 1 1 1 1 1 1 2 1-3 1-1 1 4 1 2 1-9 1 5 1-1 1-1 1 0 1-4 1-13 1 13 1-7 1 1 1-27 1-235 1 192 1 53 1 14 1 0 1 4 1 1 1-6 1-3 1 6 1 0 1 2 1-2 1-3 1 0 1-4 1-7 1 3 1-1 1 4 1-1 1-5 1-2 1 10 1-5 1-5 1-3 1-6 1 4 1-95 1 88 1-4 1 13 1-2 1-9 1 1 1-69 1 67 1 8 1-4 1-2 1 9 1-2 1-5 1-1 1-11 1 12 1-3 1 1 1-6 1 8 1-4 1-1 1-1 2 0 1-13 1 9 1-2 1-4 1 4 1-6 1-3 1 5 1 3 1-4 1-28 1 14 1 10 1 3 1-6 1 3 1-4 1 0 1 4 1-9 2 0 1-6 1-3 1-28 1-206 1 166 1-471 1 492 1 39 1-34 1 34 1-6 1 17 1 1 1-17 1 10 1-12 1 2 1-40 1 38 1 4 1 6 1 6 1-7 1 9 1-1 1 1 1-4 1 1 1-5 1-7 1-46 1 25 1 18 1 3 1-5 1 8 1 1 1-3 1 2 1 1 1-8 1 2 1-16 1-49 1 41 1 18 1-12 1 18 1 3 1 1 1-2 1-5 1 5 1 0 1-2 1 0 1-1 1 5 1-6 1-11 1 11 1 0 1-2 1-3 1-25 1 25 1-5 1 3 1-2 1 1 1 7 1 1 1-2 1 0 1-1 1 0 1-1 1-2 1 0 1-7 1 9 1-9 1 2 1-5 1-28 1 23 1-4 1 0 1 10 1-23 1 18 1-1 1 5 1-26 1 26 1-4 1-4 1-106 1 93 1-28 1 25 1 1 1-4 1 6 1-24 1 23 1-4 1-6 1-31 1 15 1-4 1-38 1-158 1 172 1-2 1-51 1 35 1 16 1-7 1-31 1-59 1 64 1-13 1 13 1 10 1 0 1-1 1-8 1-6 1-51 1 43 1-20 1-18 1-24 1-348 1 319 1-95 1 138 1-82 1 114 1 14 1 7 1 8 1 7 1-27 1-89 1 94 1 40 1 9 1-6 1-12 1 29 1 18 1 4 1 1 1-43 1 58 1 17 1-7 1-15 1-240 1 210 1 7 1 24 1 7 1 6 1-9 1 8 1-8 1-2 1-29 1 25 1 0 1-2 1 1 1-21 1 11 1-32 1 23 1 1 1-23 1 14 1 2 1 14 1-6 1-6 1-2 1-30 1 8 1-56 1 63 1 0 1-79 1 78 1-48 1-40 1 42 1 20 1-120 1 107 1 35 1 8 1-26 1 33 1-8 1 1 1-2 1 3 1-16 1-8 1-42 1 34 1 0 1-133 1 25 1 86 1 15 1 5 1-11 1-90 1-198 1 249 1 44 1 5 1-19 1 18 1-5 1-34 1 0 1 34 1 5 1-16 1-24 1-354 1 346 1-6 1 40 1 1 1-10 1-71 1 73 1-5 1-32 1-323 1 262 1-30 1 93 1 32 1 1 1-2 1-6 1-90 1 82 1 3 1 3 1-84 1-52 1 96 1-92 1-9 1 60 1-440 1 288 1 71 1-58 1 91 1-260 1 312 1 60 1 2 1-63 1-233 1 286 1-10 1-17 1 9 1-62 1 31 1 11 1 35 1-9 1-8 1-77 1-67 1 87 1-74 1-485 1 497 1-67 1-665 1 675 1 124 1 1 1-181 1 121 1-2 1-44 1-349 1 412 1 9 1-131 1-635 1 547 1 191 1-64 1-602 1 637 1 104 1 35 1-9 1 1 1 9 1-34 1 7 1-113 1 89 1 50 1 23 1 2 1 3 1-25 1-76 1 21 1 78 1 7 1-1 1-19 1-45 1 52 1-15 1 23 1 2 1-20 1-101 1-46 1 125 1 24 1-38 1-1 1 1 1 60 1 3 1-55 1 23 1-25 1-88 1-740 1 609 1 206 1 71 1-27 1-565 1 430 1-44 1 161 1-144 1 142 1 45 1-17 1-16 1-42 1-12 1 71 1 23 1-51 1-105 1 121 1 35 1 22 1 16 1 4 1-38 1 33 1 6 1-7 1 6 1-13 1-9 1-58 1 44 1 14 1-11 1-6 1-20 1-37 1-447 1 445 1 67 1-10 1 19 1-42 1-619 1 625 1 59 1 11 1 3 1-9 1-13 1-169 1 160 1-9 1 43 1 12 1-20 1-25 1 43 1 4 1-23 1-3 1-129 1 120 1-23 1-27 1 38 1-106 1 69 1 10 1 56 1-20 1-443 1 431 1 51 1 6 1-13 1 7 1-121 1 132 1 12 1-10 1-3 1 15 1-18 1 22 1 1 1 3 1-2 1-15 1-103 1 20 1 100 1 10 1-10 1 6 1 9 1 2 1-34 1 2 1-47 1 55 1-13 1 45 1-8 1 12 1-58 1 38 1-351 1 363 1 0 1 13 1-4 1-31 1-274 1 301 1 4 1-63 1 63 1 14 1-159 1 176 1-15 1 6 1-4 1 17 1-1 1-7 1 23 1 1 1-26 1 26 1 4 1-2 1-9 1-61 1-674 1 666 1 36 1 34 1 9 2 0 1-14 1 13 1-3 1 1 1-4 1-3 1-3 1-15 1 18 1-7 1-16 1-43 1 62 1 5 1 1 1 3 1-6 1 7 1-6 1-4 1-11 1 10 1 0 1-10 1 5 1 2 1-3 1-17 1 15 1-2 1-1 1-6 1-9 1 3 1-29 1 12 1-187 1 175 1 31 1 8 1-16 1 15 1-135 1 127 1 21 1-2 1-17 1 8 1-169 1 159 1 24 1 8 1-6 1 2 1-14 1 14 1-1 1-24 1 27 1-9 1 1 1-40 1 42 1-12 1-35 1 45 1 8 1-7 1 8 1 5 1 3 1 2 1-6 1-3 1-16 1 14 1 7 1-4 1 5 1-7 1-2 1-6 1 4 1-14 1 4 1-13 1-75 1 42 1 28 1 4 1-8 1-18 1-30 1 34 1-120 1 126 1 5 1-3 1 7 1-16 1 22 1 3 1 0 1-9 1 10 1-19 1-127 1 106 1 41 1 0 1 8 1 0 1 1 1-5 1 5 1 6 1 3 1-2 1 5 1-3 1-10 1 8 1-5 1 3 1-1 1-5 1 0 1 3 1-8 1-2 1-10 1 16 1 2 1-20 1 11 1-9 1 13 1-15 1 4 1-1 1-3 1-26 1-273 1 278 1 23 1-7 1 11 1-10 1-202 1 205 1-3 1-2 1 13 1-9 1-310 1 310 1 33 1 5 1 2 1-4 1 10 1 8 1 4 1-6 1 10 1-11 1 6 1 5 1-2 1 2 1 5 1-11 1-2 1 2 1 5 1 7 1-14 1 8 1 0 1 7 1-4 1 6 1-5 1-8 1 10 1 4 1-9 1-10 1-13 1-7 1 6 1-31 1 37 1 19 1-1 1 3 1-10 1 2 1-67 1 17 1 16 1 20 1 31 1-1 1 0 1-9 1-31 1 33 1 8 1-21 1 3 1-43 1 35 1-3 1-32 1 36 1-2 1 14 1-19 1-87 1-38 1 122 1 21 1 5 1 6 1 3 1-5 1 4 1 1 1-5 1-1 1-1 1-11 1-2 1-27 1-92 1 91 1 29 1 9 1-33 1 31 1 3 1 7 1-4 1-3 1 0 1-5 1 13 1-7 1-2 1-89 1 90 1-1 1-10 1-8 1-4 1 18 1 8 1-7 1-24 1 22 1-6 1-5 1-41 1 20 1 33 1-15 1-46 1 49 1 19 1-7 1 5 1-21 1 30 1 5 1-1 1 3 1-3 1-14 1-20 1 24 1 3 1 4 1-3 1 0 1-4 1-22 1-43 1-61 1 104 1 18 1 0 1-5 1-27 1 28 1 8 1-5 1 7 1 7 1-13 1 0 1 4 1 1 1 0 1 5 1-1 1-2 1-2 1-54 1-5 1 55 1-9 1 9 1 4 1 3 1-22 1 18 1-17 1-192 1 195 1 17 1 4 1-12 1-18 1 19 1-1 1-45 1-143 1 179 1-12 1 13 1 11 1-10 1-49 1-96 1 64 1 78 1 19 1-11 1-13 1-47 1 21 1-135 1 141 1 5 1 10 1 17 1 2 1-13 1-11 1 11 1-2 1-12 1 20 1 7 1-2 1 0 1 2 1-2 1 6 1-3 1 0 1-1 1-4 1 3 1-2 1 1 1-18 1 15 1 0 1 1 1-7 1-28 1 22 1 7 1-27 1 25 1-7 1 6 1 5 1-9 1 9 1 0 1-7 1 6 1 1 1-8 1-38 1 40 1-8 1 13 1-11 1 4 1-17 1 7 1 16 1 6 1-6 1-3 1 6 1-24 1 22 1-3 1-5 1 4 1-39 1 0 1 21 1 8 1-48 1-408 1 333 1 77 1 34 1 14 1-6 1 11 1 4 1-3 1 0 1 1 1-2 1-21 1 10 1-14 1-41 1-144 1-877 1 889 1 125 1 46 1 17 1 1 1 6 1-6 1-27 1 22 1 14 1-9 1-158 1 156 1 0 1-1 1 6 1 3 1-3 1-8 1 5 1-7 1-20 1-54 1-561 1 558 1-4 1-497 1 515 1 11 1-200 1 217 1-3 1-304 1 309 1 27 1 6 1-3 1 5 1 0 1-4 1 2 1-2 1 2 1-13 1 8 1-5 1-20 1-23 1 30 1 22 1-3 1-10 1-3 1-3 1 4 1 3 1 3 1-1 1-21 1 15 1 1 1-6 1-25 1 18 1 1 1-1 1-9 1-32 1 27 1 8 1 0 1-11 1-19 1 19 1-1 1 6 1-11 1-11 1-7 1-7 1-143 1 131 1-60 1-43 1 111 1 8 1-16 1-86 1 44 1-111 1-495 1 514 1 83 1-32 1-179 1-697 1 737 1 156 1-7 1-179 1-344 1 502 1 29 1 19 1-44 1-453 1 445 1-52 1 58 1-183 1-707 1 741 1 159 1 3 1-95 1-808 1 806 1 34 1 100 1 13 1-173 1 173 1-21 1 13 1-114 1 133 1 30 1-17 1 11 1-68 1 77 1 24 1-13 1-188 1 198 1 26 1 2 1 6 1-5 1 5 1 10 1-14 1 9 1-12 1-48 1 30 1-61 1 51 1 2 1-31 1-8 1 30 1-2 1-24 1-71 1-372 1 353 1 86 1-120 1 153 1 17 1 3 1 8 1-4 1 10 1 5 1 2 1-6 1-34 1 41 1 5 1-10 1 7 1 6 1-7 1 1 1 3 1-23 1-285 1 269 1-37 1 40 1 10 1-15 1 28 1 7 1-6 1 3 1-34 1 28 1-7 1-43 1-23 1 20 1 31 1 11 1-2 1 3 1 6 1-1 1-20 1 0 1 18 1-14 1 19 1-7 1-19 1 15 1 2 1 4 1-4 1-9 1-10 1 5 1 2 1-50 1 35 1-53 1-604 1 602 1 67 1 15 1-4 1-17 1-19 1-1 1-58 1 66 1 15 1 26 1 0 1-21 1 24 1 4 1-2 1-3 1 4 1-3 1 8 1-7 1 0 1 5 1-8 1-66 1 69 1 2 1 2 1-14 1 14 1-3 1 9 1 1 1-4 1-2 1 10 1-2 1-2 1-2 1-12 1 12 1-37 1 35 1-4 1 5 1-20 1 11 1-2 1-31 1 33 1 5 1-5 1-9 1 17 1 5 1-2 1-5 1-5 1 9 1-4 1 2 1-72 1 35 1 32 1-4 1-5 1 12 1 5 1-14 1 10 1-1 1-7 1-38 1-80 1 90 1-7 1 22 1 2 1-2 1-3 1 3 1-26 1 14 1-3 1-7 1-3 1-10 1-7 1-5 1-9 1-17 1 17 1 12 1 7 1-4 1-12 1 30 1 4 1 7 1 4 1 1 1 1 1-11 1-28 1 38 1 4 1-25 1 12 1 13 1 6 1-16 1 5 1 14 1 3 1 2 1-4 1 9 1-1 1 3 1-2 1-6 1-7 1 0 1 1 1 5 1 3 1-4 1 7 1 0 1 1 1 0 1-4 1 7 1 1 1-2 1-2 1-20 1-1 1 20 1-11 1-3 1 6 1 8 1 3 1-2 1 6 1-10 1 5 1-16 1-9 1-46 1 36 1-4 1-48 1-523 1 506 1 57 1-6 1-22 1-101 1-872 1 876 1 86 1 5 1-35 1-49 1-592 1 567 1 95 1 19 1-14 1-127 1-831 1 876 1 99 1 9 1-166 1 171 1 18 1-6 1-51 1 29 1 27 1-10 1 23 1-3 1 8 1-4 1 10 1-2 1 4 1-9 1 9 1-20 1-70 1-500 1 498 1 49 1-6 1-93 1-890 1 893 1 104 1 22 1-5 1-7 1-6 1 23 1 8 1 6 1-8 1 14 1 3 1-6 1 5 1 2 1-6 1-5 1-23 1 22 1 7 1 0 1 2 1 2 1-23 1 19 1 3 1-21 1 20 1 6 1-3 1-2 1 2 1-1 1 0 1 2 1-5 1-14 1 2 1 8 1-21 1 25 1-2 1-53 1 54 1 1 1-17 1-43 1 58 1 7 1-8 1 3 1-7 1-5 1-13 1 25 1-3 1 2 1-2 1 3 1-11 1 0 1-5 1-169 1 160 1-4 1-4 1-21 1-190 1 120 1 57 1-4 1-4 1-34 1 24 1-8 1 13 1-26 1 30 1-7 1-61 1 84 1 9 1-9 1-253 1 263 1 15 1-1 1-26 1 46 1 14 1-1 1 11 1 1 1 5 1-9 1-67 1 66 1 4 1 17 1 3 1-9 1 2 1 2 1-28 1 33 1 8 1 11 1 0 1-1 1 1 1-4 1-38 1 41 1 8 1 5 1 0 1-6 1 7 1 4 1-3 1-11 1-29 1 22 1 18 1 4 1-19 1-38 1-485 1 441 1-232 1 264 1 5 1 27 1 4 1-3 1-68 1-139 1-866 1 938 1 127 1 24 1-47 1 58 1-1 1 17 1-14 1 22 1 5 1 8 1-6 1-5 1-50 1 31 1 9 1-6 1-104 1 84 1 26 1-2 1-122 1 31 1 1 1 64 1 33 1-15 1 22 1 11 1 3 1-5 1-19 1 2 1-57 1-22 1 42 1-308 1 178 1 118 1 34 1 6 1-19 1-62 1 62 1-4 1-20 1-133 1-935 1 906 1 102 1-70 1-903 1 908 1 73 1-73 1-740 1 735 1 52 1-143 1-847 1 853 1 58 1 157 1 24 1-12 1 13 1 2 1 13 1 10 1 5 1-3 1-34 1-231 1 218 1 21 1-35 1-3 1-381 1 335 1-513 1 403 1 135 1 3 1-413 1 387 1 44 1-2 1-231 1 104 1 110 1 1 1 21 1-3 1-15 1 13 1 1 1-33 1-207 1 141 1 54 1-49 1 58 1-21 1-50 1-773 1 769 1 59 1 4 1-9 1-204 1 196 1 3 1-5 1-82 1 51 1 45 1-30 1-200 1 175 1-33 1-80 1-78 1-756 1 720 1-13 1-707 1 760 1-40 1-720 1 700 1 169 1-194 1-675 1 825 1 126 1-29 1-463 1 387 1 118 1 9 1-42 1-99 1 174 1 41 1 17 1-8 1 42 1 6 1 6 1 7 1 5 1 5 1 5 1-3 1 8 1-4 1 0 1 4 1 7 1 1 1 0 1 1 1 1 1-19 1 19 1 6 1-3 1-9 1 9 1 5 1-1 1 3 1-3 1-18 1 21 1-5 1 5 1-3 1 6 1 1 1-7 1 7 1 0 1 2 1-2 1-1 1 2 1 0 1 1 1 0 1 1 1 0 1-1 1 2 1 2 1-1 1 0 1 1 1-2 2 0 1-2 1-4 1 4 1-3 1 2 1 3 1 1 1 3 1-1 1-12 1 10 1 1 3 0 1-3 1-2 1-27 1 34 1-2 1 3 1-1 1 2 1-9 1 5 1 0 1-8 1-96 1 80 1-92 1-37 1 141 1 11 1 3 1 2 1 0 1-1 1 3 1 1 1-2 1 5 1-1 1-3 1-17 1 14 1 2 1 1 1-1 1-5 1 8 1-1 1 1 2 0 1 1 1 2 1-3 1 2 1-1 1 1 1-2 1-1 1 2 1-4 1 2 2 0 1-3 1 5 1-2 1 2 1-1 1-1 1 3 1-2 1 1 1 1 2 0 1-3 1 2 1-5 1 2 1 3 1-1 2 0 1 2 1-2 1-1 1 1 1-5 1 7 1-5 1 3 1 1 1 0 1-1 1 1 1-3 1 3 1 0 1-2 1 2 1-1 1-1 1 1 1-3 1 1 1 3 1-1 1 2 1-6 1 7 1-2 1 1 1-2 1-3 1 4 1-2 1 3 1-2 1 2 1-1 1 0 1 1 2 0 1-1 1 1 1-1 1-1 1 3 1-8 1 6 1-1 1 1 1-4 1 4 1-8 1 7 1 0 1-2 1 2 1 0 1 1 1-6 1 5 1 2 1 0 1 1 1 0 1-2 1-4 1 5 1-2 1 1 1 2 1-3 1 2 1 0 1-1 1-1 1-1 1-1 1 5 1-1 1 0 1-2 1-1 1 1 1-3 1 3 1 1 1 0 1-5 1 3 1 1 1-3 1-6 1 8 1-2 1 4 1-2 1 1 1 1 1 1 1-1 1-1 1 0 1 2 1-3 1-3 1 7 1-2 1 2 1-1 1 0 1-1 1 1 2 0 1 1 1-6 1 6 1-3 1 1 1 2 1-2 1-1 1-1 1 3 1-3 1 1 1 1 1 0 1 1 2 0 1-1 1-1 1-7 1 9 1-6 1 5 1-2 1-10 1 10 1-1 1 3 1-1 1 1 1 0 1 1 1-4 1-3 1 5 1-1 1 2 1-1 1-3 1 4 1-1 1 0 1-5 1 4 1 2 1 1 1-6 1 1 1 1 1 4 1-9 1 8 1 0 1-1 1 1 1 1 2 0 1-4 1 3 1 0 1 1 1 2 1 0 1-5 1 3 3 0 1-3 1 2 1-2 1-3 1 5 1-1 1 2 1-2 1-3 1-2 1 6 1 1 1-1 1 2 1-7 1 5 1-2 1 1 1-5 1 5 1 2 1-3 1 2 1-2 1-1 1-14 1 9 1 5 1 3 1 1 1-2 1 1 1-1 1 0 1-5 1 5 1 2 1-1 1-1 1 2 1 1 1-1 1 0 1 2 1-1 1 0 1-1 1-4 1 5 1-1 1 2 1-2 1-1 1 1 1 0 1-1 1 1 1-9 1-9 1-9 1-60 1-60 1-167 1-150 1-133 1-120 1-120 1-120 1-120 1-100" stroke="#000080"/>
<path d="M25 1140l1 4 1-2 1-1 1 0 1 3 1-4 1-11 1 14 1-2 1-3 1-1 1 19 1 10 1 10 1 4 1 8 1-7 1-18 1-3 1-2 1-5 1-1 1-53 1-92 1-84 1-67 1-88 1-71 1-83 1-81 1-84 1-79 1-81 1-87 1-71 1-80 1-30 17 0 1 1012 1 258 16 0 1-4 1 4 11 0 1-16 1 13 1-7 1-3 1-13 1 6 1-7 1-5 1-2 1-7 1 2 1-4 1-4 1-5 1-4 1 0 1-7 1-4 1-2 1-9 1-1 1 4 1-4 1-2 1-6 1-9 1-4 1 11 1 3 1-1 1-13 1 6 1 6 1-15 1 8 1-5 1 6 1-7 1-11 1 4 1 9 1-3 1 0 1-3 1-20 1 21 1-2 1-3 1-5 1 7 1 3 1-10 1 11 1-2 1-2 1 2 1-4 1 0 1-15 1 14 1-1 1 2 1-7 1 2 1-10 1-133 1 124 1 10 1-15 1-267 1 267 1 17 1 6 1-3 1-1 1-1 1 1 1 4 1-3 1-9 1 8 1-6 1 8 1-3 1-14 1 16 1-11 1 7 1 2 1-1 1-3 1-2 1-4 1-12 1-91 1-55 1 143 1 11 1 5 2 0 1-2 1 1 1 0 1-7 1 1 1-1 1-6 1 10 1-7 1-6 1-3 1 6 1 3 1 3 1-1 1-3 1-1 1 0 1 2 1 1 1-21 1 15 1-43 1 38 1 3 1-7 1 6 1-7 1-12 1-112 1 116 1 11 1 0 1-2 1-2 1 6 1-1 1-2 1-1 1-10 1 6 1-22 1 14 1 1 1 3 1-3 1 7 1-5 1 0 1-15 1 16 1-4 1 0 1-2 1-2 1-4 1 9 1 3 1-16 1-5 1 13 1 4 1-5 1-12 1 13 1-6 1 2 1-2 1-1 1-3 1-2 1-19 1 8 1-39 1-404 1 358 1-350 1 392 1 34 1 3 1-14 1 20 1 4 1 1 1-13 1 4 1-19 1 15 1-38 1 35 1 0 1 12 1 3 1-6 1 5 1-3 1 7 1-5 1-16 1 15 1-9 1-6 1-19 1 23 1 2 1-7 1 3 1 6 1 0 1 3 1 0 1-8 1-6 1 5 1-38 1 21 1 19 1 3 1 2 1-14 1 10 1 0 1-3 1 2 1-1 1 5 1-6 1-6 1 2 1 6 1 0 1-3 1-1 1-3 1-1 1-12 1 15 1 2 1-11 1 3 1 9 1 0 1-7 1 8 1-7 1-13 1 21 1-9 1 0 1 6 1-11 1 11 1-22 1 20 1-1 1-27 1 23 1-6 1-7 1 6 1-8 1 3 1-15 1 22 1-11 1-6 1 12 1-8 1-177 1 145 1-82 1 75 1 10 1 28 1-20 1-54 1 51 1 9 1-10 1-51 1 43 1-1 1-39 1-27 1 57 1-9 1-56 1 36 1 15 1-1 1-2 1-37 1 19 1-42 1 32 1 10 1-16 1 2 1-9 1-1 1-21 1 20 1-9 1-18 1-27 1-141 1 126 1-140 1 130 1-287 1 316 1 38 1 11 1 9 1-3 1-38 1-213 1 193 1 78 1 14 1-7 1-11 1 33 1 13 1 7 1-18 1-62 1 77 1 26 1-10 1-19 1-251 1 243 1-26 1 48 1-8 1 13 1-2 1 1 1-3 1-14 1-28 1 22 1 8 1 1 1 2 1-5 1-6 1-65 1 59 1 1 1-27 1 16 1 15 1-3 1 9 1-16 1 2 1-25 1 8 1-11 1 19 1-13 1-118 1 114 1-14 1-76 1 51 1-3 1-135 1 112 1 66 1 1 1 18 1-4 1-17 1 7 1 11 1-3 1-5 1-15 1-56 1 53 1-12 1-179 1 54 1 110 1 14 1 8 1-21 1-105 1-34 1 119 1 38 1-3 1-26 1 23 1-6 1-44 1 1 1 44 1 6 1-2 1-12 1-151 1 136 1-29 1 37 1 15 1-12 1-52 1 53 1-12 1-50 1-290 1 308 1 9 1 29 1-5 1-24 1 27 1 2 1-32 1 21 1-1 1-15 1-80 1-42 1 26 1-135 1 58 1 76 1-400 1 295 1 83 1-70 1 111 1-233 1 264 1 69 1-8 1-56 1-222 1 266 1-12 1-12 1-40 1-180 1 115 1 87 1 25 1-35 1 22 1-85 1-42 1 71 1-62 1-221 1 272 1-86 1-711 1 712 1 106 1-17 1-335 1 219 1 82 1-59 1-273 1 350 1 22 1-52 1-729 1 617 1 144 1 3 1-367 1 391 1 38 1 26 1-8 1-15 1 17 1-44 1-2 1-82 1 96 1 39 1 9 1 3 1 0 1-16 1-32 1 8 1 34 1 6 1-10 1-33 1-18 1 31 1-41 1 53 1 11 1 7 1-63 1 16 1 56 1 3 1-34 1-14 1-28 1 65 1 11 1-37 1-35 1 15 1-136 1-710 1 514 1 298 1 67 1 4 1-371 1 242 1-66 1 149 1-95 1 122 1 48 1-18 1-50 1-40 1-35 1 119 1 14 1-59 1-109 1 145 1 41 1 3 1 16 1 9 1-27 1 16 1 3 1 10 1-7 1 4 1-8 1-60 1 33 1 9 1-49 1 24 1 0 1-6 1-585 1 591 1 28 1-73 1 55 1-27 1-611 1 606 1 73 1 11 1-4 1-3 1-27 1-312 1 315 1 29 1 5 1 12 1-1 1-13 1 16 1 2 1-22 1-3 1-102 1 81 1-54 1-76 1 64 1-147 1 188 1 2 1 53 1-1 1-319 1 316 1 25 1 4 1-28 1 37 1-46 1 46 1 15 1 1 1-5 1 1 1-8 1 11 1 4 1-8 1 7 1-10 1-47 1-71 1 124 1 9 1-8 1 7 1-11 1 16 1-25 1-29 1-7 1 42 1-31 1 50 1-30 1 30 1-64 1 45 1-451 1 469 1 24 1-13 1-57 1-43 1-258 1 353 1-17 1-108 1 125 1 30 1-58 1 73 1 3 1-1 1-34 1 29 1-9 1-15 1 15 1 20 1-14 1 19 1 4 1-1 1-7 1-50 1-574 1 567 1 48 1 14 1 4 1 0 1 3 1-7 1 3 1-4 1-4 1-15 1 10 1 5 1-5 1 4 1-12 1-10 1-63 1 80 1 5 1 1 1 2 1-18 1 15 1-8 1-5 1 5 1 5 1 1 1-16 1 9 1 8 1-26 1 12 1 5 1-2 1 2 1-8 1-5 1 8 1-16 1-17 1-72 1 92 1 10 1 1 1-2 1-9 1-162 1 161 1 10 1 4 1-1 1-6 1-203 1 204 1 16 1 3 1-1 1-4 1-26 1 23 1-4 1-22 1 31 1 7 1-3 1-49 1 42 1-3 1-147 1 132 1 28 1 2 1 1 1 2 1 5 1-17 1 6 1-5 1-19 1 26 1-25 1 23 1 8 1-3 1-6 1-6 1-12 1 7 1-12 1-35 1-62 1 56 1 34 1 5 1-18 1 4 1-27 1 21 1-55 1 56 1 11 1 6 1-1 1-8 1 10 1 2 1-7 1 3 1-10 1 9 1-142 1 128 1 22 1 6 1 4 1 3 1-3 1-18 1 20 1 6 1 3 1-10 1-31 1 36 1 2 1-3 1-19 1 19 1 0 1-5 1 2 1 2 1-1 1-9 1-4 1 7 1-4 1 4 1-9 1 3 1-5 1 4 1 1 1-5 1-3 1-23 1-243 1 242 1 21 1-19 1 16 1-41 1-424 1 440 1 27 1-25 1 39 1-10 1-273 1 277 1 32 1 2 1-1 1-3 1 8 1 9 1-3 1 6 1-6 1-12 1 13 1-8 1-5 1 13 1 2 1-11 1 18 1-3 1-26 1 23 1 5 1-2 1 8 1 1 1-1 1 2 1-7 1-20 1 17 1 1 1-1 1-22 1-5 1 2 1 18 1-20 1 31 1 5 1 4 1-4 1-12 1 4 1-75 1 29 1 22 1 19 1 12 1 6 1 0 1-12 1-28 1 23 1 20 1-11 1-20 1-64 1 42 1 4 1-122 1 128 1 25 1-7 1-2 1-97 1-179 1 269 1 19 1-10 1 9 1 17 1-3 1-8 1 6 1 2 1-3 1 0 1-22 1 10 1 2 1-14 1 13 1-1 1-9 1-50 1 49 1 12 1 5 1-23 1-12 1 25 1 6 1 9 1-5 1 3 1-53 1 41 1 2 1 9 1-19 1 7 1 15 1 8 1-4 1-26 1 9 1-23 1 16 1-20 1-6 1 32 1-9 1-58 1 58 1 12 1-32 1 27 1-38 1 39 1 16 1-5 1 4 1 2 1-1 1-14 1 12 1-2 1-8 1 10 1-10 1-14 1-28 1-34 1-60 1 121 1 14 1 9 1-4 1-20 1 21 1 6 1-26 1 25 1 1 1-1 1-9 1 4 1-2 1 6 1 1 1-1 1 1 1-12 1-136 1 108 1 26 1 11 1-4 1-2 1 2 1 11 1 0 1-14 1-79 1 76 1 9 1 8 1-17 1-9 1 11 1 8 1-36 1-196 1 212 1-2 1 5 1 13 1 2 1-42 1-133 1 102 1 59 1 12 1-43 1 25 1-149 1 124 1-71 1 83 1-8 1 35 1 4 1 2 1-8 1-2 1-14 1 17 1-20 1 20 1 2 1 8 1-11 1-8 1 3 1 13 1-7 1 10 1-2 1 2 1-6 1 0 1-13 1 9 1-17 1 3 1 7 1-1 1-30 1 25 1 4 1-28 1 28 1-23 1 24 1 6 1-2 1 4 1-6 1 1 1-2 1 4 1-11 1-45 1 47 1 8 1-3 1-6 1-6 1-45 1 50 1 3 1-3 1 7 1 3 1-7 1-19 1 19 1 2 1-5 1-4 1-189 1 181 1 10 1-7 1-23 1-278 1-129 1 334 1 82 1 19 1-16 1 23 1 8 1-5 1-7 1 4 1-15 1 16 1-2 1-14 1-37 1-95 1-948 1 965 1 88 1 28 1 6 1 5 1 1 1-15 1-1 1 9 1 4 1-8 1-218 1 214 1 11 1-23 1 18 1 5 1 4 1-8 1 3 1-2 1-25 1-41 1-476 1 471 1-1 1-349 1 370 1 7 1-148 1 154 1 13 1-96 1 96 1 19 1-1 1 7 1 4 1-2 1-1 1-16 1 3 1 13 1-6 1 1 1-4 1-18 1-52 1 52 1 20 1-5 1-17 1 5 1 5 1 5 1-13 1 7 1 5 1-11 1-9 1 13 1-9 1-41 1 28 1 16 1-8 1-16 1-77 1 71 1 16 1 2 1-7 1-55 1 50 1 9 1-2 1-11 1-7 1-2 1-21 1-251 1 230 1-46 1-5 1 63 1 17 1-12 1-34 1 10 1-80 1-630 1 593 1 72 1-101 1-202 1-625 1 679 1 206 1 13 1-116 1-420 1 519 1 26 1 5 1-124 1-788 1 774 1 92 1 23 1-134 1-755 1 806 1 114 1-1 1-108 1-811 1 804 1 106 1 48 1 0 1-281 1 273 1-8 1 23 1-99 1 121 1 19 1 2 1-1 1-52 1 51 1 25 1-16 1-158 1 177 1 23 1-1 1 0 1 16 1-2 1 7 1-11 1-4 1-8 1-32 1 10 1-62 1 62 1 3 1-27 1-22 1 34 1 2 1-17 1-84 1-187 1 161 1 98 1-140 1 164 1 22 1 9 1 3 1 1 1 7 1 6 1 5 1-4 1-10 1 14 1 2 1-16 1-6 1 30 1-4 1 0 1-8 1-33 1-187 1 179 1-34 1 34 1 30 1-9 1 18 1-2 1-5 1-6 1-140 1 133 1-7 1-39 1-46 1-25 1 102 1 15 1-10 1 4 1 11 1 2 1-19 1-5 1 20 1 0 1 3 1-1 1-18 1 20 1-20 1 10 1 11 1-5 1-14 1 11 1-13 1-64 1 39 1-55 1-724 1 717 1 81 1 19 1 5 1-1 1-10 1-24 1-113 1 112 1 29 1 3 1 9 1-13 1 11 1 7 1 0 1-18 1 12 1 6 1 0 1-8 1 0 1 5 1-21 1-74 1 90 1 10 1 1 1-22 1 24 1-3 1-4 1 5 1 1 1-2 1 3 1 1 1 2 1-1 1-12 1-13 1-260 1 262 1 17 1-3 1-9 1 6 1-10 1-70 1 68 1 19 1-12 1-3 1 16 1 0 1 4 1-2 1-11 1 13 1-6 1 0 1-70 1 46 1 13 1-6 1-3 1 16 1 6 1 0 1 1 1 3 1-7 1-10 1-80 1 78 1 0 1-10 1 13 1 0 1-7 1 1 1-3 1-2 1-18 1 10 1-5 1-21 1-3 1 3 1-9 1-10 1-24 1 41 1 10 1-10 1-11 1 25 1 15 1 3 1 5 1 4 1-6 1 1 1-29 1 24 1 6 1-22 1 3 1 16 1 11 1-5 1-1 1 0 1 8 1 1 1 6 1-13 1 1 1 10 1 1 1 1 1-10 1-4 1 1 1 11 1-8 1 10 1 0 1 1 1-3 1-19 1 18 1 3 1-3 1-19 1 18 1-3 1 3 1 0 1-23 1 12 1-7 1 18 1-6 1 6 1-1 1-3 1 2 1-18 1-2 1-55 1 27 1-18 1-139 1-848 1 834 1 136 1 10 1-34 1-159 1-787 1 794 1 134 1 45 1-11 1-27 1-385 1 379 1 53 1 2 1-26 1-161 1-797 1 871 1 91 1 23 1-294 1 307 1 5 1 20 1-16 1-7 1 24 1-19 1 19 1-18 1 22 1-5 1 17 1-7 1 10 1 1 1-15 1-32 1-156 1-841 1 863 1 115 1 7 1-86 1-899 1 903 1 95 1 16 1 2 1-6 1-1 1 25 1 13 1-4 1 12 1 0 1-16 1 18 1-1 1-1 1 1 1-1 1-43 1 36 1 4 1 1 1-2 1-16 1-23 1 16 1 25 1 1 1 10 1-9 1 10 1-2 1-1 1-1 1-2 1-17 1 7 1-15 1 10 1 11 1-25 1 20 1-3 1-163 1 166 1 8 1-9 1-69 1 77 1 7 1-10 1 0 1-17 1-26 1 31 1 14 1-1 1 4 1-2 1-8 1 4 1-13 1-28 1-546 1 533 1-9 1 32 1-16 1-192 1 137 1 33 1 3 1-3 1-45 1 30 1 4 1 7 1-8 1 7 1-10 1-222 1 242 1 19 1 1 1-158 1 168 1 14 1 0 1-29 1 41 1 1 1-3 1 19 1 8 1-36 1 38 1-16 1-9 1 21 1 18 1-5 1-3 1-13 1 15 1-13 1 23 1 1 1 6 1 7 1-9 1 6 1 2 1-16 1 19 1 6 2 0 1-2 1 1 1 0 1 2 1-24 1-53 1 47 1 20 1 8 1-13 1-48 1-415 1 365 1-197 1 219 1 40 1 12 1 17 1-20 1-94 1-125 1-852 1 991 1 101 1 15 1-15 1 28 1 3 1 0 1-24 1 31 1 5 1 2 1-8 1 4 1-13 1 12 1 1 1-15 1-51 1 33 1 26 1-22 1-150 1 117 1 15 1-13 1 44 1-116 1 127 1 10 1-8 1-2 1 8 1-7 1-16 1-131 1 102 1-134 1 120 1 44 1 4 1-1 1-21 1-28 1 25 1-28 1-15 1-179 1-871 1 839 1 169 1-35 1-710 1 707 1 40 1-76 1-900 1 885 1 102 1-89 1-803 1 823 1-207 1 324 1 23 1 7 1 11 1-23 1 27 1 5 1 1 1-6 1-8 1-145 1 90 1 45 1-8 1-3 1-214 1 149 1-588 1 331 1 265 1-15 1-343 1 354 1 36 1-9 1-284 1 150 1 115 1 24 1 18 1-6 1-5 1 2 1-5 1-19 1-271 1 166 1 91 1-57 1 55 1-12 1-43 1-641 1 639 1 45 1-19 1-11 1-432 1 422 1 33 1-13 1-98 1 94 1 10 1-31 1-425 1 410 1-5 1-11 1-29 1-600 1 549 1-161 1-696 1 727 1 69 1-796 1 820 1 117 1-76 1-544 1 615 1 65 1-15 1-231 1 141 1 109 1-9 1-55 1-280 1 346 1 50 1 5 1-8 1 43 1 15 1 4 1 8 1 3 1 6 1 3 1 3 1 4 1-1 1-21 1 22 1 7 1 1 1-2 1 4 1 0 1-16 1 18 1 1 1-11 1-31 1 41 1 5 1-3 1-1 1 5 1-18 1 18 1-1 1 0 1 6 1-2 1 1 1 0 1 1 1 0 1 1 1-1 1-2 1 1 1-2 1 4 1 1 1-4 1 4 1-5 1 6 1-2 1 1 1 1 1 1 1 0 1-1 1 3 1-2 1-3 1 2 1-2 1 5 1 1 1-1 1-1 1 2 1-1 1-4 1 5 1-1 1 0 1-1 1-3 1-4 1-83 1 83 1 4 1 3 1 3 1 0 1-1 1-5 1 4 1-12 1-118 1 108 1-44 1 16 1 48 1 6 1 0 1 2 3 0 1 3 1-2 1 1 1-3 1-2 1-15 1 17 1 1 2 0 1-1 1 2 1-2 1 2 1-1 1 1 1-1 1 0 1-1 1 2 1 0 1 2 1-3 1-1 1 4 1-2 1 2 1-3 1 3 1-3 1 2 1-2 1 2 1-1 1 3 1-7 1 4 1-2 1 1 1 2 1-1 1 3 1-4 1 1 1 1 1-2 1 3 1-2 1 0 1 2 1-3 1-6 1 8 1 0 1 1 1-1 1-1 3 0 1 2 1-2 1-1 1 2 1 0 1-5 1 6 1-1 1-3 1 2 1 0 1-3 1 2 1-7 1 9 1 1 1-2 1-8 1 9 1 0 1-1 1 0 1-2 1 5 1-5 1 2 1-6 1 5 1 2 1-1 2 0 1-1 1 3 1-1 1-1 1 1 1-2 1 2 1 2 1-2 1-1 1 0 1 1 1-1 1 0 1 1 1 0 1-1 1 2 1-1 1 0 1-1 1-4 1 4 1 3 1-5 1 3 1-2 1 5 1-3 1 1 1 1 2 0 1-1 1-1 1 1 1 1 1-4 1 3 1-2 1 5 1-2 1-1 1 0 1 1 1-2 1-3 1 5 1-3 1 3 1-1 1 2 1-1 1-2 1 2 2 0 1-1 1-3 1 3 1-1 1-1 1-1 1 3 1-1 1-2 1 0 1 3 3 0 1-1 1 1 1-14 1 14 1-1 1 1 1 0 1 1 1-2 1 0 1 1 1-2 1 1 1 0 1-4 1 4 1-1 2 0 1 1 1 1 1 0 1-2 1 3 1-3 1 3 1-4 1 4 1-6 1 2 1 3 1-7 1 5 1 2 1 1 1-1 1-1 1 2 1-3 1 0 1 3 1-2 1 1 3 0 1-3 1 3 1-6 1 5 1-1 1 1 1-2 1-1 1 3 1-7 1-5 1 12 1 1 1-1 1-2 1 2 1 0 1-4 1 3 1-1 1 3 1-2 1-2 1 2 1 2 1 2 1-1 1 0 1-3 1 0 1 1 1 2 1-3 1-1 1 2 1 1 1-4 1 3 1 1 1 0 1-11 1 3 1 7 1 1 1-1 1-2 1 3 1-2 1-1 1-16 1 16 1-3 1 5 1-1 1 0 1 1 1 1 1-6 1 5 1 1 1 0 1-1 1-2 1 2 1-1 1 0 1 1 1-4 1 3 1 0 1 3 1-3 1 4 1-1 1 1 1-9 1 6 1 1 1-2 1-2 1 2 1-7 1-9 1-9 1-60 1-60 1-167 1-150 1-133 1-120 1-120 1-120 1-120 1-100" stroke="#000000"/>
<path d="M25 1102l1-3 1 5 1-5 1 7 1-3 1 3 1 0 1 4 1-4 1 1 1-8 1 20 1 11 1-1 1 17 1 2 1-13 1-2 1-11 1-3 1 1 1-14 1-19 1-79 1-72 1-75 1-75 1-81 1-102 1-57 1-77 1-76 1-79 1-76 1-83 1-80 1-54 17 0 1 291 1 979 20 0 1-1 1 1 5 0 1-1 1 1 4 0 1-6 1 6 12 0 1-3 1 3 1-14 1 11 1-4 1-2 1 1 1-14 1 3 1 1 1-8 1-8 1 8 1-9 1-3 1 4 1-5 1-1 1-2 1-17 1 12 1-6 1 1 1-1 1-2 1-19 1 10 1-2 1-5 1-1 1 0 1-2 1-2 1-5 1-2 1-6 1-1 1 1 1-14 1 9 1 1 1 0 1-4 1 0 1 2 1-3 1-26 1-341 1 337 1 18 1-9 1-162 1 173 1 1 1-9 1 16 1-2 1 3 1-1 1-27 1 25 1-3 1 10 1-5 1 1 1-17 1 15 1-1 1-3 1 2 1-5 1 4 1-3 1-2 1-2 1-11 1-133 1 82 1 61 1-6 1 12 1-15 1 11 1-14 1 16 1-2 1-17 1 11 1 1 1-3 1 9 1-3 1 1 1-5 1-1 1 2 1-9 1 7 1 3 1-35 1 27 1 4 1 1 1-3 1-11 1-24 1 31 1 2 1-6 1 0 1 2 1-8 1-110 1 108 1 7 1-2 1 2 1 1 1-3 1 1 1-1 1 0 1 3 1-4 1-5 1 6 1 0 1-8 1 0 1 6 1-4 1 2 1 4 1-6 1-3 1-3 1 5 1 2 1-4 1-2 1 2 1-12 1 11 1-5 1-1 1 0 1 3 1-5 1 2 1-9 1 0 1 2 1 2 1-24 1 0 1 2 1-43 1-357 1 311 1-431 1 468 1 42 1 10 1-16 1 19 1-5 1 4 1 2 1-10 1-6 1 6 1-24 1 20 1-7 1 6 1-7 1-2 1 6 1 6 1-9 1 9 1-4 1 3 1-5 1-19 1 2 1 17 2 0 1 1 1 0 1 1 1-1 1-4 1-8 1 4 1-1 1-49 1 35 1 18 1 0 1-4 1 5 1 1 1 4 1-13 1 10 1-4 1-7 1 8 1-4 1-1 1 5 1 1 1-2 1-1 1 2 1-5 1-16 1 7 1 9 1-3 1-13 1 17 1-1 1 0 1-1 1-15 1 18 1-4 1-6 1 10 1-4 1-10 1 14 1-4 1 2 1-10 1-17 1 15 1 0 1 1 1 2 1-20 1 25 1-9 1 5 1-52 1 48 1-1 1-18 1-177 1 156 1-40 1 26 1 34 1 6 1-8 1-29 1 27 1 0 1 2 1-24 1 8 1-11 1-34 1-40 1 68 1-8 1-109 1 98 1 1 1 5 1-5 1-69 1 59 1-17 1 15 1 4 1-4 1-6 1-4 1-14 1-46 1 38 1 0 1-22 1-40 1-258 1 228 1-316 1 298 1-293 1 354 1 43 1 13 1 18 1-2 1-12 1-77 1 61 1 50 1 13 1-6 1-17 1-24 1 53 1 11 1-27 1-133 1 142 1 32 1 1 1-11 1-140 1 128 1-11 1 15 1 12 2 0 1-1 1-4 1-2 1-30 1 30 1-1 1 0 1-3 1-2 1-7 1-36 1 31 1-1 1-20 1 8 1 14 1 1 1-4 1-36 1 25 1-23 1 11 1-59 1 68 1-1 1-127 1 111 1-35 1-95 1 70 1 32 1-128 1 130 1 34 1 14 1-9 1 7 1 1 1-7 1-1 1 3 1-15 1-3 1-34 1 32 1-9 1-158 1 73 1 66 1 5 1 16 1-21 1-83 1-86 1 79 1 92 1 20 1-14 1 14 1-4 1-15 1-20 1 34 1-12 1-5 1-46 1-456 1 437 1-33 1 85 1 14 1 2 1-13 1 11 1 1 1-45 1-423 1 422 1-18 1 59 1 4 1-23 1 22 1-15 1-56 1 54 1-6 1 12 1-61 1 16 1 8 1-155 1 93 1 50 1-173 1 100 1-126 1-147 1 213 1-277 1 369 1 68 1-4 1-72 1-277 1 343 1 3 1-2 1 9 1-78 1 7 1 39 1 34 1-11 1 5 1-59 1-129 1 149 1-57 1-99 1 154 1-54 1-685 1 668 1 72 1-32 1-215 1 106 1 70 1-121 1-189 1 325 1-2 1-148 1-654 1 595 1 210 1-7 1-486 1 513 1 56 1 9 1-8 1-7 1 5 1-34 1-24 1-72 1 61 1 76 1 16 1 4 1 0 1-5 1-66 1 48 1 21 1 14 1-7 1-26 1-98 1 95 1-34 1 62 1 4 1-10 1-65 1-23 1 87 1 13 1-36 1-3 1-25 1 58 1-1 1-83 1 45 1-32 1-53 1-637 1 428 1 216 1 88 1-72 1-810 1 673 1 133 1 94 1-66 1 55 1 35 1 0 1-35 1-26 1-79 1 120 1 11 1-53 1-129 1 146 1 59 1 12 1 6 1-14 1 5 1 20 1 7 1-5 1 3 1-3 1-19 1-59 1 38 1 12 1 1 1-4 1-11 1-20 1-281 1 280 1 29 1-51 1 49 1-48 1-701 1 715 1 65 1 12 1 1 1-8 1-45 1-446 1 444 1 31 1 31 1 5 1-12 1-35 1 42 1 3 1-7 1-39 1-187 1 177 1-40 1-124 1 108 1-131 1 156 1 10 1 64 1-13 1-497 1 488 1 29 1 15 1-48 1 27 1-288 1 305 1 21 1 6 1 4 1-4 1-16 1 21 1 2 1 2 1 0 1-12 1-80 1-20 1 106 1 6 1-25 1 18 1 2 1-3 1-26 1-6 1-33 1 70 1-10 1 24 1-26 1 5 1-100 1 75 1-364 1 410 1 17 1-17 1-26 1 13 1-191 1 203 1-18 1-140 1 156 1 24 1-209 1 212 1 21 1-2 1-17 1 19 1-19 1-22 1 12 1 11 1-4 1 26 1 3 1-11 1-18 1-101 1-961 1 932 1 105 1 35 1 13 1 4 1 1 1-3 1 2 1 1 1-7 1-12 1 17 1-17 1-16 1 23 1-2 1-18 1-18 1 45 1 7 1-5 1 2 1-9 1 7 1-6 1-9 1 1 1 6 1 2 1-36 1 34 1-3 1 3 1-18 1 15 1-1 1-8 1-16 1 11 1 6 1-29 1 6 1-201 1 183 1 25 1 8 1 3 1-26 1-351 1 355 1 18 1 10 1-4 1-19 1-285 1 295 1 13 1 15 1 0 1-2 1-18 1 3 1-1 1-22 1 19 1 23 1-15 1-32 1 37 1-1 1-156 1 148 1 14 1 7 1-1 1-3 1-2 1 7 1-13 1-5 1-23 1 26 1 10 1-6 1 5 1-3 1 1 1-6 1-12 1 1 1-4 1-17 1-61 1 0 1 64 1 1 1-7 1 3 1-13 1 4 1-110 1 103 1 18 1 3 1-12 1-5 1 11 1 9 1 1 1-1 1 4 1-2 1-46 1 26 1 23 1 8 1 4 1-1 1-2 1-6 1 4 1 6 1-3 1-20 1 23 1-2 1 2 1-1 1-1 1-12 1 1 1-6 1 7 1 3 1-8 1 0 1 4 1 1 1-4 1 0 1-5 1-7 1 12 1-3 1-3 1-3 1-11 1-45 1-489 1 499 1 39 1-14 1 27 1-25 1-237 1 246 1-1 1-8 1 33 1 1 1-146 1 152 1 8 1 11 1-2 1 3 1 8 1-16 1 7 1 12 1-4 1-1 1 5 1 5 1-8 1 10 1-10 1-6 1 11 1-5 1-1 1 12 1-2 1-1 1 3 1-1 1-18 1 19 1-3 1-21 1 17 1 10 1-4 1-5 1-10 1-12 1 17 1-28 1 27 1 17 1-21 1 12 1-20 1 5 1-43 1-2 1 24 1 34 1 14 1-1 1 0 1-7 1-20 1 21 1 2 1-10 1-28 1-92 1 72 1-1 1-86 1 93 1 32 1 1 1-1 1-38 1-54 1 102 1 10 1-6 1 8 1-3 1 6 1-4 1-2 1 2 1 2 1-8 1-28 1 17 1-4 1-84 1 81 1 3 1-3 1-58 1 50 1 19 1 10 1-3 1-13 1 13 1-11 1 10 1 2 1-4 1-100 1 105 1 3 1-7 1-25 1 12 1 18 1 7 1 2 1-25 1 10 1-4 1 1 1-29 1 19 1 6 1-3 1-57 1 48 1 14 1-32 1 28 1-10 1 22 1 3 1-3 1 12 1 1 1-12 1-2 1 0 1 3 1-18 1 19 1 4 1-6 1-26 1-37 1-43 1 94 1 11 1-1 1-6 1-40 1 38 1 0 1 4 1 9 1 3 1-2 1-13 1 12 1 1 1 4 1-5 1-12 1 7 1-1 1-66 1-15 1 63 1 18 1-25 1 29 1 2 1-2 1-2 1-4 1-115 1 114 1 13 1-6 1-16 1-17 1 25 1 2 1-28 1-46 1 75 1-4 1 0 1 14 1-8 1-41 1-110 1 73 1 68 1 15 1-24 1-1 1-169 1 130 1-175 1 169 1 10 1 38 1-32 1 23 1 1 1 3 1-2 1 5 1-2 1 10 1 7 1 1 1 3 1-14 1 16 1-1 1-7 1 5 1-9 1 3 1 7 1-4 1 0 1-5 1 0 1-2 1-9 1-3 1-7 1 12 1-2 1-11 1 10 1-25 1 31 1 3 1-1 1 11 1 0 1-9 1-4 1 8 1-2 1-21 1 22 1-9 1 3 1-6 1 2 1-35 1 25 1-2 1 16 1 1 1-2 1-7 1-18 1 20 1 6 1-6 1-4 1-120 1 91 1 13 1 18 1-17 1-76 1-17 1 64 1 41 1-6 1-14 1 27 1 1 1-4 1 4 1-5 1 1 1-6 1-1 1-15 1-45 1-115 1-896 1 907 1 107 1 44 1 8 1 10 1-6 1-7 1-14 1 10 1 18 1-14 1-206 1 210 1 8 1-7 1 5 1 4 1-2 1-2 1-4 1-6 1-37 1-13 1-470 1 471 1 18 1-132 1 137 1-29 1-293 1 309 1-16 1-221 1 248 1 23 1-3 1 6 1 1 1 1 1-9 1 8 1 0 1-1 1-1 1-2 1-4 1-11 1-52 1 40 1 24 1-7 1-11 1 9 1-20 1 18 1-5 1 9 1-4 1-6 1 2 1-4 1-4 1-17 1 17 1 2 1-7 1-1 1-33 1 28 1 5 1-10 1-11 1-52 1 48 1 11 1 1 1-5 1-29 1 1 1-22 1-216 1 209 1-41 1-106 1 144 1 39 1-12 1-71 1 21 1-135 1-790 1 773 1 126 1-81 1-221 1-597 1 636 1 216 1-14 1-205 1-633 1 787 1 93 1 27 1-46 1-612 1 585 1 20 1 23 1-173 1-704 1 755 1 145 1 13 1-50 1-605 1 584 1-35 1 110 1-14 1-478 1 481 1 18 1 32 1-84 1 102 1 17 1-1 1-12 1-81 1 90 1 15 1-10 1-234 1 246 1 14 1 10 1 2 1 5 1-1 1 8 1-9 1 1 1-10 1-15 1-6 1-74 1 73 1-2 1-19 1-17 1 25 1 7 1-10 1-34 1-329 1 317 1 39 1-97 1 120 1 11 1-7 1 17 1 8 1 3 1-11 1 12 1 8 1-9 1 12 1 6 1-12 1 11 1-12 1 12 1-2 1-14 1-7 1-171 1 125 1-9 1 43 1 14 1-32 1 33 1 0 1-12 1 7 1-47 1 54 1-3 1-22 1-29 1-33 1 72 1 11 1-2 1-5 1 5 1 2 1-19 1-10 1 16 1-5 1 3 1 7 1-19 1 16 1 3 1-2 1 0 1-4 1-9 1 5 1-18 1-77 1 50 1-103 1-863 1 860 1 121 1 17 1 14 1-1 1-25 1 0 1-45 1 32 1 14 1 23 1 24 1-12 1 9 1 11 1-4 1 0 1-4 1-3 1 4 1-1 1-3 1-10 1-18 1-111 1 132 1 17 1 0 1-4 1 5 1-15 1 17 1-15 1 13 1 4 1-39 1 33 1 5 1 1 1-36 1 35 1-39 1 35 1 0 1-2 1-25 1 14 1-11 1-74 1 78 1 18 1 2 1-12 1 13 1 3 2 0 1-12 1 11 1 3 1-3 1-42 1 8 1 23 1-5 1-23 1 29 1 3 1-3 1 6 1 1 1-11 1-39 1-68 1 76 1 13 1-13 1 21 1-4 1 0 1-2 1-15 1-12 1-16 1 2 1-20 1-25 1-27 1-56 1-33 1-31 1 32 1 45 1 51 1 8 1 2 1 44 1 16 1 7 1 9 2 0 1-17 1-56 1 60 1 19 1-19 1 17 1 12 1 9 1-21 1 3 1 17 1 0 1 1 1 6 1 3 1-3 1 2 1 4 1-5 1 1 1-36 1 21 1 16 1 4 1 8 1-21 1 18 1-4 1-17 1 9 1 9 1-4 1 6 1-10 1 1 1 10 1-6 1-27 1 24 1-2 1 7 1 1 1-9 1 11 1-4 1-21 1 2 1-10 1-79 1 33 1 33 1-58 1-566 1 558 1 54 1-1 1-32 1-138 1-808 1 808 1 126 1 6 1-53 1-93 1-794 1 769 1 154 1 26 1-13 1-126 1-810 1 838 1 87 1-1 1-515 1 534 1 24 1 19 1-37 1 22 1 25 1-4 1 25 1-9 1 8 1-5 1 9 1 2 1 1 1-3 1-23 1-5 1-73 1-532 1 546 1 43 1-18 1-88 1-870 1 874 1 107 1 20 1-14 1 12 1 8 1 14 1 5 1-5 1 7 1 4 1-5 1-8 1 14 1-1 1 3 1-3 1-20 1 17 1 7 1-4 1 0 1-9 1-23 1 19 1 14 1-6 1 8 1-2 1 1 1 0 1-1 1 2 1 1 1 0 1-5 1-19 1 14 1-1 1-31 1 34 1-10 1-57 1 70 1 2 1-27 1-18 1 43 1 1 2 0 1-21 1-33 1 27 1 22 1-3 1 9 1 1 1-4 1-23 1 13 1-28 1-440 1 425 1 17 1-1 1-11 1-128 1 89 1 18 1 2 1-16 1-39 1 32 1 1 1 6 1 3 1-2 1 1 1-55 1 75 1 8 1-23 1-254 1 274 1 19 1-6 1-16 1 39 1 5 1 2 1 19 1 5 1 2 1-9 1-8 1 22 1 1 1 10 1-1 1 7 1-4 1 6 1-11 1 16 1 8 1 0 1 7 1-1 1-7 1 7 1-14 1 15 1 4 1 4 1 6 1-5 1 1 1-9 1 7 1-2 1-48 1 45 1 11 1-17 1 7 1-42 1-436 1 391 1-144 1 161 1-29 1 67 1 18 1-5 1-91 1-137 1-559 1 725 1 61 1 9 1-41 1 54 1 4 1 10 1-13 1 28 1 6 1 2 1 3 1-4 1-16 1 6 1-12 1-23 1-65 1 54 1 23 1-27 1-225 1 181 1 41 1-16 1 60 1-46 1 57 1 7 1 2 1-7 1-2 1-41 1-10 1-132 1 135 1-203 1 150 1 67 1 12 1 1 1-18 1-35 1 29 1-2 1-32 1-155 1-887 1 855 1 100 1-131 1-824 1 822 1 136 1-106 1-852 1 864 1 132 1-50 1-716 1 701 1-469 1 571 1 46 1 8 1-4 1-3 1 17 1 9 1-2 1 0 1-25 1-308 1 249 1 60 1-41 1 18 1-359 1 325 1-285 1 124 1 147 1 36 1-180 1 134 1 44 1-36 1-483 1 377 1 113 1-2 1 26 1 9 1-32 1 26 1-14 1-36 1-606 1 557 1 60 1-58 1 68 1-10 1-19 1-303 1 304 1 18 1-36 1-18 1-592 1 567 1 53 1 8 1-48 1 50 1-2 1-62 1-535 1 525 1-3 1-30 1-136 1-743 1 712 1 52 1-501 1 575 1-32 1-806 1 764 1 103 1-193 1-674 1 769 1 162 1 11 1-391 1 341 1 87 1 2 1-39 1-282 1 325 1 59 1 15 1 3 1 38 1 4 1 6 1-2 1 10 1 8 1 3 1-2 1 10 1-1 1-10 1 11 1 0 1 7 1 0 1 2 1 0 1-16 1 18 1 1 1-2 1-62 1 64 1 4 1-1 1 3 1-6 1 1 1 5 1-11 1 8 1 6 1 2 1 0 1 1 1 1 1-1 1-7 1 7 1-1 1 1 1 1 1-2 1-1 1 3 1-1 1 0 1 3 1-1 1 0 1-4 1 5 1-4 1 4 1 1 1-1 1-2 1 3 1-1 1 2 1 0 1-2 1-2 1 5 1-1 1 1 1 1 1-1 1 1 1-3 1-1 1 1 1-24 1 22 1 3 1 2 1-2 1 3 1 1 1 0 1-4 1-5 1-68 1 32 1-140 1 72 1 99 1 11 1 3 1-2 1 4 1 2 1-1 2 0 1-1 2 0 1-24 1 24 1 2 1-3 1 4 1-3 1 3 1 0 1-1 1 2 1-2 1 2 1-5 1 3 1 2 1-1 1-1 1 0 1 2 1-9 1 8 1 1 1-2 1 1 1-1 1 2 1-3 1 2 1 1 2 0 1-1 1 1 1 1 1-1 1 0 1-1 2 0 1-1 1 0 1 1 1 2 1-3 1-1 1 3 1-4 1 1 1 2 1-4 1 2 1 0 1 1 1 0 1-6 1 7 1 1 1 0 1-1 3 0 1-2 1 3 1-2 1-4 1 5 1-2 1 2 1-1 1-8 1 10 2 0 1-4 1 1 1 1 1 1 1-3 1 2 1 1 1 1 1-3 1 4 1-1 2 0 1 1 1 0 1-4 1-3 1 6 1-3 1 1 1 1 1 0 1-2 1 4 1-2 1-5 1 4 1 3 1-2 1 0 1 1 1-1 1-9 1 7 1 3 1-1 1 1 1-6 1 5 1 2 1-2 1-10 1 1 1 4 1 4 1 2 1-1 1-1 1 1 1 0 1 1 1-4 1 4 2 0 1-1 1 3 1-4 1 1 1 1 1-2 1 1 1-1 1 3 1-1 1-1 1 1 1 0 1-3 1 1 1 4 1-3 1 0 1 1 1 1 1 1 1 0 1-10 1 9 1-1 1 0 1-3 1-3 1 8 1-1 1 0 1-5 1-4 1 9 1-2 1 1 1 1 1-2 1-2 1 5 1-3 1-2 1 2 1 0 1-2 1 4 1-1 1 1 1-1 2 0 1-6 1 5 1 2 1-1 1 0 1-1 1-4 1 6 1-3 1 0 1 2 1-1 2 0 1-7 1 6 1 5 1-4 1 3 1-2 1-1 1-2 1 2 1 2 1-4 1 4 1-1 1-13 1 15 1-2 1-7 1 5 1 2 1-2 1 0 1-8 1 7 1 3 1 0 1-5 1-3 1 10 1-1 1 0 1-5 1-2 1 7 1-2 1-3 1 5 1-2 1-4 1 6 1-1 1-5 1 5 1 0 1-4 1-2 1 7 1-2 1 2 2 0 1-3 1 3 1-1 1-2 1 1 1-2 1 4 1 1 1-4 1-13 1 15 2 0 1-9 1 9 1-6 1 8 1-6 1 5 1-3 1 2 1 0 1-5 1 1 1 5 1-4 1 2 1 1 1-1 1 2 1 0 1-1 1 1 1-5 1 7 1-3 1-7 1 4 1 3 1-5 1 5 1-9 1-9 1-9 1-60 1-60 1-166 1-150 1-134 1-120 1-120 1-120 1-120 1-99" stroke="#b000b0"/>
<path d="M25 1135l1-11 1 12 1-6 1-7 1 10 1 4 1-5 1 2 1-1 1 2 1-1 1 20 1 4 1 10 1 9 1-29 1 26 1-11 1-8 1-3 1-7 1-10 1 13 1-72 1-88 1-75 1-87 1-74 1-79 1-95 1-69 1-81 1-74 1-81 1-82 1-78 1-83 1-9 17 0 1 1270 8 0 1-2 1 2 11 0 1-5 1 5 1 0 1-4 1-8 1-1 1-16 1 4 1-2 1-9 1-10 1-5 1-8 1 0 1-6 1-5 1-13 1-10 1 6 1-12 1 3 1 2 1-2 1-1 1 0 1 1 1-2 1 0 1-9 1-6 1 6 1-3 1-5 1 3 1-1 1-1 1 1 1-4 1 1 1-7 1-30 1 37 1 1 1-5 1 4 1-1 1 1 1-2 1-1 1-2 1-2 1-8 1 7 1-1 1 3 1-10 1 9 1-1 2 0 1-2 1 5 1-2 1-1 1-5 1 4 1-3 1 0 1 3 1-19 1 12 1-1 1-50 1-233 1 260 1 17 1-9 1-169 1 162 1 18 1 0 1-5 1 5 1 2 1 1 1 2 1-3 1 3 1-1 1-5 1 2 1 4 1-13 1 10 1-2 1 2 1 0 1-3 1-4 1 0 1-3 1-25 1-220 1-14 1 233 1 10 1 15 1 2 1 2 1-11 1 10 1-2 1-2 1-2 1 0 1-22 1 21 1-14 1 13 1-15 1 16 1-1 1 1 1-3 1 2 1-4 1-2 1-3 1-4 1-1 1-6 1-71 1 74 1-2 1 6 1-11 1 8 1-3 1-69 1 67 1 5 1-2 1-15 1 12 1-2 1 0 1-3 1 9 1-4 1 2 1-5 1 0 1 1 1-4 1 3 1 0 1-1 1 0 1-6 1 1 1 0 1 1 1-7 1 6 1 0 1-20 1 17 1-10 1-4 1 14 1-9 1 0 1-7 1-26 1 28 1-13 1 7 1-1 1 0 1-4 1-7 1 1 1-31 1-161 1 126 1-328 1 350 1 29 1-2 1-9 1 9 1 0 1 1 1-4 1 0 1-12 1 4 1-13 1-8 1 15 1 2 1-7 1 0 1 7 1-14 1 15 1-4 1-11 1 15 1-5 1-27 1-19 1 45 1-8 1-10 1 21 1 2 2 0 1-5 1-4 1 1 1-9 1-14 1 12 1 9 1 6 1 0 1-5 1-1 1 5 1-6 1-15 1 13 1 10 1 3 1-19 1 10 1 1 1-4 1-8 1 6 1-1 1-10 1 5 1 3 1 4 1-14 1 4 1 5 1 3 1 0 1-7 1 3 1 2 1-5 1-9 1 17 1-9 1 6 1 1 1-2 1-11 1 6 1-13 1 10 1 10 1-2 1-5 1-16 1 7 1-13 1 11 1-23 1 14 1 4 1-3 1-89 1 67 1-25 1 18 1 11 1 3 1-23 1-54 1 45 1 14 1-3 1-56 1 49 1-12 1-26 1-88 1 97 1-11 1-54 1 46 1 0 1-3 1-5 1-35 1 28 1-2 1-9 1 4 1-2 1 1 1-11 1-14 1-23 1 24 1-3 1-25 1-30 1-273 1 255 1-142 1 156 1-158 1 196 1 25 1-1 1 15 1-1 1-31 1-68 1 90 1 45 1 6 1-9 1 1 1 20 1 36 1 11 1-10 1 3 1 28 1 29 1-4 1-8 1-149 1 135 1-11 1 23 1 1 1-4 1-6 1-2 1 0 1-6 1-27 1 13 1 7 1-1 1-2 1-4 1-15 1-56 1 33 1 27 1-12 1 2 1 10 1 5 1-7 1-15 1 10 1-7 1-2 1-7 1 9 1-5 1-62 1 54 1-11 1-30 1 16 1 4 1-56 1 42 1 29 1 3 1-1 1-3 1-11 1 7 1-1 1-5 1 8 1-29 1-5 1 24 1-8 1-103 1 58 1 25 1 13 1 1 1-5 1-61 1-59 1 74 1 46 1-1 1-12 1 14 1 0 1-33 1 3 1 19 1 13 1-29 1 5 1-227 1 209 1-37 1 56 1 9 1-16 1-5 1 18 1-4 1-27 1-185 1 157 1-43 1 74 1 15 1-15 1 21 1-15 1-53 1 58 1 6 1-6 1-31 1-4 1-4 1-67 1-10 1 53 1-188 1 76 1 53 1-24 1 41 1-353 1 373 1 54 1-14 1-19 1-193 1 221 1 12 1-18 1-11 1-78 1-11 1 55 1 35 1-8 1 1 1-16 1-47 1 34 1-80 1-98 1 155 1-68 1-677 1 679 1 59 1-34 1-419 1 354 1 7 1-90 1-320 1 448 1 23 1-88 1-619 1 544 1 177 1 15 1-214 1 234 1 18 1 17 1-14 1 10 1-8 1-41 1-32 1-156 1 148 1 82 1 16 1 0 1 3 1-8 1-73 1 59 1 28 1 11 1-7 1-32 1-63 1 72 1-25 1 57 1 0 1-6 1-37 1-36 1 72 1 16 1-42 1 15 1-23 1 45 1 0 1-42 1-7 1-6 1-71 1-696 1 609 1 143 1 63 1-6 1-357 1 305 1 23 1 41 1-67 1 50 1 29 1-22 1-72 1 9 1-13 1 87 1 20 1-13 1-22 1 31 1 17 1 11 1 0 1-2 1-9 1 10 1 2 1 4 1-7 1 5 1-10 1-56 1 23 1 29 1-32 1 11 1 11 1-30 1-534 1 535 1 42 1 3 1-5 1-51 1-631 1 643 1 55 1 10 1 4 1-12 1-24 1-275 1 266 1 11 1 39 1 7 1 0 1-25 1 26 1 11 1-3 1-18 1-104 1 105 1 2 1-12 1 8 1-31 1 30 1-43 1 51 1-23 1-488 1 487 1 38 1 8 1-21 1 3 1-129 1 151 1 6 1 3 1 8 1-1 1-10 1 12 1 6 1-2 1 0 1-13 1-47 1-89 1 146 1 9 1-10 1 14 1 12 1 7 1-22 1 7 1-28 1 45 1-8 1 16 1-20 1 17 1-60 1 48 1-171 1 193 1 9 1-4 1-34 1 17 1-128 1 161 1 8 1-15 1 25 1-2 1-101 1 111 1 1 1 1 1-13 1 12 1-21 1-14 1 38 1 13 1-17 1 22 1 8 1-15 1-1 1-60 1-645 1 645 1 43 1 22 1 9 1-2 1-12 1 13 1 3 1-15 1 7 1-7 1 8 1-4 1-17 1 14 1-18 1-12 1-35 1 68 1 1 1-1 1-1 1-1 1-1 1-2 1-10 1-11 1 14 1 7 1-8 1 4 1-19 1 15 1-6 1 5 1 2 1-1 1-12 1 7 1-6 1-24 1 19 1-72 1 58 1 14 1 5 1 11 1-8 1-123 1 126 1 5 1-2 1-8 1 7 1-128 1 125 1 12 1 4 1 4 1-1 1-16 1 2 1 14 1-14 1 14 1 2 1-6 1-21 1 13 1-2 1-124 1 121 1 14 1 0 1 8 1-3 1-31 1 35 1-2 1-4 1-6 1 10 1-5 2 0 1-2 1-1 1-6 1-2 1-2 1-6 1-11 1-52 1 11 1 30 1 1 1-5 1 6 1-27 1-23 1-35 1 77 1 1 1-3 1 7 1-6 1 12 1 8 1 0 1-5 1 9 1-6 1-51 1 42 1 18 1 0 1 5 1 2 1-18 1 7 1 13 1 4 1-1 1-5 1-8 1 13 1 1 1-3 1-7 1 9 1-4 1-8 1 7 1 0 1-4 1-19 1 21 1-34 1 30 1 1 1-14 1 8 1-2 1 1 1-5 1-6 1-4 1-6 1-194 1 205 1 4 1-10 1 12 1-13 1-151 1 166 1 2 1-1 1 9 1-8 1-232 1 235 1 20 1 7 1 3 1 4 1 3 1-5 1 8 1 0 1 8 1-1 1 4 1 0 1-7 1 5 1-4 1-8 1 9 1 4 1-3 1 2 1 3 1-3 1-1 1 6 1 0 1 3 1-13 1-4 1 19 1-5 1-9 1-21 1 6 1-6 1 16 1-9 1 24 1-6 1-15 1 18 1-7 1 1 1-38 1 3 1 27 1 22 1 1 1-1 1 0 1-7 1-23 1 28 1-1 1 0 1-25 1-58 1 47 1-17 1-88 1 83 1 37 1 4 1-3 1-42 1-4 1 60 1 5 1-3 1 7 1-15 1 15 1 1 1-5 1-5 1 7 1-1 1-22 1 18 1-6 1-3 1 9 1-7 1 5 1-14 1 17 1 1 1-1 1-3 1-13 1 10 1 4 1 6 1-1 1-5 1-54 1 58 1 4 1-10 1-6 1-10 1 19 1-12 1 17 1-14 1 9 1-21 1 15 1-13 1-4 1 24 1-2 1-28 1 19 1 6 1-18 1 16 1-20 1 31 1 4 1 3 1-20 1 10 1 2 1-12 1 2 1 16 1 3 1-12 1-15 1 15 1-14 1-24 1-40 1 53 1 25 1-2 1 0 1-22 1 7 1 19 1-11 1 13 1 3 1-2 1-8 1 1 1-10 1 14 1-1 1 2 1 2 1-11 1-74 1 54 1 22 1 7 1-5 1-1 1 7 1 0 1-3 1-14 1-111 1 110 1 6 1 6 1-8 1-17 1 25 1 0 1-33 1-6 1 46 1-8 1-7 1 14 1 3 1-39 1-167 1 143 1 38 1 12 1-29 1 18 1-21 1 11 1-145 1 135 1 11 1 22 1-6 1 7 1-37 1 23 1-25 1 4 1-11 1 26 1 10 1-2 1 7 1 1 1-2 1 2 1 0 1-2 1 1 1-3 1 1 1 2 1-2 1 1 1-3 1 1 1-2 1-7 1-18 1 17 1 2 1-12 1 4 1-6 1 6 1 6 1 6 1-2 1-1 1-7 1 7 1 2 1-9 1-57 1 60 1 4 1 0 1-11 1-8 1-21 1 14 1 19 1-31 1 35 1 1 1-11 1-25 1 31 1 0 1-6 1-1 1-92 1 80 1-1 1 8 1-16 1-252 1-114 1 310 1 52 1 18 1-13 1 17 1 1 1 8 1-7 1 0 1 2 1-6 1-4 1-29 1-22 1-71 1-922 1 942 1 69 1 24 1-7 1 19 1-1 1-15 1-7 1 24 1 1 1-17 1-198 1 201 1 4 1-11 1 10 1 7 1-13 1-6 1 7 1-8 1-10 1-55 1-611 1 599 1-25 1-519 1 557 1 22 1-179 1 196 1-2 1-174 1 181 1 14 1 7 1 0 1 3 1-5 1-16 1 13 1 1 1-1 1-9 1 3 1-2 1-24 1 9 1 21 1 1 1-23 1 8 1-4 1-7 1 14 1-1 1-1 1-3 2 0 1-4 1-15 1-34 1 32 1 6 1-7 1-15 1-22 1 14 1 21 1-6 1-14 1-51 1 49 1 14 1 6 1-2 1-42 1 28 1-6 1-30 1 10 1-30 1-56 1 78 1 17 1-4 1-45 1 15 1-112 1-652 1 667 1 69 1-45 1-119 1-718 1 660 1 183 1 14 1-108 1-542 1 611 1 37 1 12 1-62 1-755 1 744 1 64 1 11 1-71 1-426 1 465 1 36 1-2 1-111 1-760 1 758 1 77 1 63 1 8 1-95 1 94 1-6 1 10 1-57 1 65 1 18 1 13 1-6 1-54 1 66 1 8 1-11 1-195 1 207 1 10 1 8 1 9 1-2 1 5 1 4 1-2 1-2 1-10 1-5 1-11 1-40 1 32 1 8 1-9 1-36 1 32 1 0 1-11 1-43 1-335 1 343 1 45 1-36 1 48 1 8 1 4 1 3 1 4 1 4 1 9 1 7 1-25 1 16 1 10 1 7 1-20 1 18 1 0 1 1 1-14 1 1 1-7 1-113 1 94 1 4 1 17 1 2 1-49 1 52 1-6 1-17 1 13 1-64 1 61 1-5 1-31 1 10 1-10 1 24 1 0 1-3 1 11 1-15 1 12 1-41 1 9 1 17 1-4 1 11 1 0 1-13 1 13 1-5 1-3 1 1 1 6 1-11 1 0 1-10 1-30 1 31 1-37 1-405 1 405 1 42 1 19 1 0 1-6 1-18 1-4 1-44 1 54 1 4 1 17 1 3 1-7 1 6 1 9 1 2 1 1 1-1 1-4 1 7 1 4 1-2 1 0 1-4 1-51 1 58 1 1 1-1 1-8 1 7 1 8 1-1 1-6 1 12 1-3 1 1 1 3 1-2 1 4 1-1 1-7 1-37 1 39 1-2 1 0 1-8 1-7 1 12 1-23 1 26 1-2 1-6 1-5 1 16 1 1 1 2 1-14 1-1 1 15 1-3 1-5 1-43 1 22 1 14 1 2 1 5 1 8 1-3 1-1 1 0 1-3 1-1 1-18 1-31 1 27 1-3 1-7 1 1 1-1 1-8 1-1 1-9 1-5 1-29 1 16 1-11 1-20 1-13 1-17 1-23 1-25 1 19 1 24 1 16 1 15 1-10 1 21 1 15 1 12 1 10 1 4 1 8 1-1 1-20 1 31 1-1 1-7 1 6 1-15 1 26 1-4 1-8 1 13 1-5 1 8 1 3 1 2 1-3 1 10 1-5 1 1 1-2 1-2 1-19 1 29 1-8 1 8 1-2 1 4 1 0 1-3 1-2 1-10 1 11 1 0 1-7 1 7 1 1 1-3 1-18 1 8 1 15 1 2 1 0 1-2 1 0 1-4 1-1 1-3 1-20 1-26 1 17 1 5 1-65 1-467 1 463 1 47 1-4 1-24 1-98 1-817 1 821 1 87 1 0 1-30 1 4 1-252 1 234 1 53 1-8 1-27 1-165 1-717 1 736 1 148 1 15 1-234 1 265 1 18 1 15 1-14 1-28 1 27 1-2 1 18 1-17 1 22 1-6 1 6 1 7 1-5 1-4 1-17 1-26 1-148 1-776 1 797 1 109 1-5 1-139 1-762 1 772 1 155 1 22 1-25 1 25 1 3 1 30 1-20 1 15 1 6 1-5 1-1 1 6 1 7 2 0 1 2 1-14 1 8 1 8 1-5 1 4 1-21 1-4 1 11 1 10 1-8 1 11 1-8 1 6 1-10 1 5 1 0 1 7 1-5 1-2 1 1 1 0 1 4 1-6 1 1 1 3 1-71 1 68 1 1 1-33 1-12 1 42 1 7 1-2 1-19 1 11 1-31 1 19 1 10 1 9 1 1 1-12 1 5 1 2 1-6 1 1 1-74 1 59 1-9 1-15 1-23 1-307 1 241 1 55 1 0 1-13 1-45 1 27 1 2 1 5 1 2 1 6 1-27 1-109 1 151 1 17 1 9 1-27 1 39 1 4 1-8 1-16 1 34 1 7 1 0 1 18 1 11 1-2 1-3 1-34 1 31 1 10 1 11 1 6 1-1 1-2 1 18 1-4 1 13 1 5 1 5 1 6 1 2 1 4 1-8 1-10 1 24 1 2 1 11 1 5 1-10 1-4 1 9 1-16 1 11 1-32 1 30 1 3 1-7 1-21 1-60 1-726 1 651 1-210 1 283 1 15 1 49 1 6 1-21 1-81 1-152 1-798 1 924 1 113 1 19 1-26 1 37 1 10 1 15 1-7 1 5 1 5 1-2 1 1 1-5 1-32 1 24 1 5 1-10 1-39 1 23 1 13 1-24 1-317 1 260 1 30 1 7 1 44 1-160 1 178 1 7 1-2 1 0 1-6 1-3 1-42 1-166 1 165 1-226 1 163 1 84 1 13 1-4 1-34 1-75 1 88 1-21 1-24 1-185 1-823 1 803 1 147 1-28 1-786 1 791 1 64 1-82 1-649 1 657 1 75 1-59 1-713 1 668 1-461 1 582 1-14 1 67 1 5 1 2 1 9 1-8 1 8 1-5 1-33 1-237 1 189 1 53 1-10 1 11 1-119 1 86 1-301 1 128 1 161 1 9 1-326 1 288 1 52 1-2 1-183 1 114 1 58 1-6 1 13 1-3 1-3 1-22 1 11 1-23 1-360 1 332 1 14 1-4 1 18 1-20 1-20 1-396 1 392 1 26 1-28 1-34 1-617 1 609 1 48 1-6 1-42 1 46 1-6 1-47 1-534 1 505 1 11 1-13 1-87 1-765 1 738 1 1 1-739 1 755 1 48 1-644 1 627 1 73 1-139 1-720 1 795 1 127 1 16 1-142 1 86 1 70 1-10 1-50 1-278 1 345 1 65 1 25 1-15 1 53 1 4 1 7 1 8 1 9 1 4 1 7 1 5 1 2 1 1 1-8 1 14 1-6 1 9 1-1 1-2 1-6 1-10 1 18 1 7 1-5 1-19 1 23 1 2 1 2 1 0 1-3 1-18 1 15 1-1 1 1 1 12 1-5 1 2 1 0 1 3 1 1 1-3 1 3 1 0 1 1 1-3 1 3 1-7 1 6 1 2 1-2 1 1 1 0 1-4 1 5 1 0 1-3 1 3 1-2 1 3 1-12 1 9 1 3 1 2 1-4 1 5 1 1 1-1 1 1 1-1 1-6 1-1 1 7 1 1 1-6 1 2 1-38 1 38 1 2 1 3 1-3 1 1 1 1 1-1 1-3 1-5 1-85 1 70 1-85 1-20 1 115 1 16 1 1 1 2 2 0 1 2 1-2 1 2 1 1 2 0 1-7 1 5 1 3 1-2 1 1 1-1 1 1 1 0 1-1 1 2 1 0 1-2 1 1 1 0 1-1 1 2 1-1 1-3 1-2 1 4 1-1 1 2 1-3 1 2 1 2 1-6 1 4 1 1 1 0 1 1 1 1 1-2 1-3 1 4 1-1 1-1 1 1 1-2 1 2 1-3 1 2 1 0 1-2 1 3 2 0 1 1 1 1 1-2 1-3 1 2 1-5 1 5 1-4 1 0 1 4 1 2 1 0 1-4 1 1 1 3 1-9 1 7 1 1 1 1 1-4 1 5 1-3 1 0 1-1 1-7 1 9 1-2 1 1 1-1 1 1 1-1 1-4 1 5 1-1 1 2 1-1 1-1 1-2 1 3 1-2 1 2 1-1 1-6 1 6 1 1 1 1 1-3 1 3 1 0 1 1 1 1 1-1 1 0 1-2 1 1 1-9 1 7 1 2 1 1 1-1 1-2 1 3 1-1 3 0 1-1 1 0 1 3 1-3 1 0 1 1 1 0 1-1 1-1 1-1 1 3 1 1 1-1 1 1 1-6 1 4 1-16 1 14 1 2 1 0 1 1 1-1 2 0 1-1 1 5 1-4 1 2 1 0 1-4 1 1 1 3 2 0 1 1 1-2 1-6 1 6 1-1 1-1 1-2 1 4 1-2 1 3 1-5 1 5 1-3 1 2 3 0 1-4 1 5 1 0 1-1 1 2 1-4 1-1 1 4 1 1 1-1 1-1 1-1 2 0 1 2 1-2 1-1 1 3 1-1 1 1 1-1 1 1 1 0 1-2 1 0 1-2 1-2 1 5 1 1 1 0 1 1 1-2 2 0 1-4 1 4 1-1 1-8 1 9 1 1 1-5 1 2 1 1 1 2 1 0 1-10 1 8 1 1 2 0 1-1 1 1 1 1 1-3 1 0 1-2 1 2 1 3 1-6 1 5 1-1 1 3 1-3 1 3 1-8 1 8 1-1 1-4 1 4 1-4 1-4 1 7 1 0 1 1 1 2 1 0 1-5 1 4 1-2 1 0 1-3 1-5 1 8 1-5 1 7 1-2 2 0 1 1 1-10 1-3 1 12 1 1 5 0 1-5 1 5 1-5 1 5 1 1 1-2 1 2 1-4 1-3 1 6 1 2 1-3 1 1 1 0 1-1 1 0 1 2 1 1 1 0 1-2 1-9 1 4 1 3 1-2 1-5 1-9 1-9 1-60 1-60 1-167 1-150 1-133 1-120 1-120 1-120 1-120 1-98" stroke="#ff3030"/>
<path d="M25 1119l1 11 1-3 1 3 1-1 1 5 1-7 1-2 1-14 1 22 1-7 1 16 1 10 1 3 1 10 1 4 1 10 1-15 1-5 1-13 1-3 1 1 1-2 1-7 1-35 1-77 1-76 1-84 1-79 1-77 1-80 1-94 1-72 1-74 1-79 1-83 1-80 1-84 1-40 17 0 1 1270 20 0 1-1 1-1 1-18 1 0 1-5 1-4 1-9 1-10 1-1 1-4 1-12 1-3 1-8 1-4 1-8 1-16 1 4 1-4 1-2 1-2 1 0 1-8 1-1 1 4 1-3 1-3 1-3 1-5 1-6 1 1 1 3 1 2 1-50 1 43 1 2 2 0 1 2 1-17 1 3 1 12 1-15 1 12 1 0 1 1 1-2 1 2 1-1 1 2 1-19 1 15 1-1 1-1 1-7 1-2 1 11 1 1 1-7 1-1 1-11 1 12 1-1 1 2 1-2 1 1 1-1 1 0 1 2 1-8 1 5 1 2 1-7 1-10 1-39 1-581 1 583 1 28 1-30 1-579 1 583 1 38 1 1 1 5 1 5 1-4 1 3 1-10 1 3 1 1 1 2 1 1 1 1 1-11 1 12 1-4 1-21 1 27 1-6 1-14 1 14 1-2 1-7 1-31 1-177 1-100 1 272 1 31 1 5 1-4 1 5 1-5 1-13 1 19 1-6 1 4 1-8 1 6 1-6 1 3 1 2 1-2 1 0 1 1 1-4 1 1 1-2 1-1 1-16 1 13 1 0 1-7 1-7 1-154 1 152 1 8 1-6 1 8 1-8 1-4 1-137 1 125 1 19 1-1 1 3 1-8 1 5 1-4 1 3 1-15 1 16 1-2 1-1 1-6 1 8 1-6 1-6 1 1 1 9 1-8 1 4 1-11 1 7 1-1 1-1 1-1 1 5 1-4 1-1 1 1 1-3 1 1 1 1 1-8 1 0 1-3 1-9 1 5 1-1 1-3 1-2 1-20 1 2 1-2 1-43 1-441 1 424 1-48 1 94 1-5 1 12 1 4 1-6 1 2 1 0 1-4 1-14 1-2 1 6 1-14 1-1 1-12 1 17 1 4 1-15 1 9 1 1 1 3 1-3 1 2 1 5 1-9 1-17 1-8 1 24 1 6 1-6 1-12 1 10 1-4 1-5 1 17 1-5 1 3 1-11 1-45 1 23 1 21 1 6 1-3 1 9 1 3 1-6 1-10 1 13 1-3 1-6 1-1 1 3 1-5 1 7 1-7 1 4 1-19 1 14 1-3 1-25 1 25 1 1 1 1 1-3 1 2 1 2 1 0 1-4 1 2 1-7 1 4 1 1 1-14 1 14 1-11 1 9 1-2 1 4 1-3 1-11 1 0 1-5 1 10 1 3 1-38 1 33 1-5 1-5 1-9 1 0 1 9 1-8 1-52 1 41 1-18 1-2 1 17 1-1 1-16 1-40 1 39 1 0 1-1 1-18 1 4 1-36 1 1 1-64 1 71 1-15 1-36 1 23 1-2 1 0 1-6 1-138 1 108 1 13 1 2 1 3 1-2 1 0 1-9 1-16 1-37 1 35 1-3 1-22 1-10 1-173 1 145 1-96 1 88 1-248 1 283 1 40 1-1 1 17 1 5 1-47 1-101 1 119 1 57 1-10 1 25 1-1 1 8 1 30 1 28 1-15 1-78 1 118 1 30 1 3 1-32 1-309 1 298 1-13 1 35 1 10 1-3 1-6 1 4 1-6 1-27 1 1 1 15 1-10 1 3 1 12 1-17 1-9 1-42 1 41 1 0 1-6 1-4 1 13 1-22 1 11 1-18 1 13 1-16 1 7 1-17 1 20 1-13 1-144 1 135 1-19 1-79 1 59 1 6 1-101 1 96 1 33 1 8 1 5 1-5 1-3 1-24 1 30 1-5 1-15 1 9 1-19 1 10 1-23 1-253 1 202 1 54 1-7 1 11 1-12 1-66 1-244 1 250 1 60 1 10 1-22 1 20 1-4 1-10 1-8 1 22 1 0 1-10 1-38 1-546 1 526 1-5 1 32 1 18 1 1 1-43 1 38 1 2 1-60 1-650 1 627 1-1 1 82 1 0 1-36 1 24 1-4 1-64 1 58 1 6 1 0 1-49 1-50 1 37 1-120 1 31 1 25 1-513 1 503 1 11 1-183 1 193 1-396 1 442 1 46 1-7 1-62 1-263 1 309 1 5 1-14 1 7 1-82 1 4 1 54 1 29 1-9 1 0 1-35 1-1 1-12 1-86 1-524 1 538 1-33 1-613 1 620 1 87 1-4 1-83 1 40 1-32 1-99 1-414 1 525 1 32 1-85 1-587 1 473 1 162 1-53 1-582 1 605 1 98 1 38 1-15 1 9 1 11 1-49 1-13 1-188 1 202 1 55 1 9 1 9 1 4 1-12 1-64 1 23 1 51 1 5 1 0 1-29 1-63 1 74 1-37 1 54 1-5 1 5 1-24 1-37 1 60 1 7 1-48 1 2 1 9 1 44 1 3 1-21 1-26 1-25 1-92 1-629 1 527 1 197 1 60 1-6 1-312 1 201 1-15 1 104 1-7 1 29 1 26 1-3 1-48 1-9 1-72 1 111 1 25 1-27 1-49 1 78 1 10 1-3 1 23 1-5 1 2 1 19 1-8 1 10 1-10 1-20 1-8 1-18 1 13 1 9 1-41 1 26 1-4 1-35 1-344 1 345 1 50 1-35 1 43 1-54 1-645 1 661 1 53 1 8 1 5 1-8 1-28 1-409 1 403 1 15 1 33 1 5 1 0 1-55 1 60 1-14 1 7 1 8 1-30 1 18 1-23 1-53 1 18 1-139 1 133 1 22 1 40 1-31 1-678 1 673 1 47 1 14 1-17 1-5 1-357 1 362 1 25 1 7 2 0 1-8 1 15 1 3 1 5 1-2 1-5 1-28 1-148 1 181 1 12 1-27 1 26 1 11 1 4 1-18 1-22 1 4 1 22 1 6 1 19 1-7 1 5 1-24 1-2 1-532 1 555 1 25 1-14 1-56 1-30 1-502 1 577 1 5 1-89 1 102 1 16 1-220 1 240 1 25 1 8 1-5 1 8 1-33 1 26 1 11 1 4 1-40 1 29 1 10 1-5 1-5 1-41 1-531 1 522 1 39 1 17 1 9 1-4 1 2 1-1 1-6 1 7 1-7 1-10 1 10 1-4 1-8 1 3 1 1 1-17 1-103 1 122 1 9 1 4 1-4 1 4 1-7 1 6 1-11 1 3 1 7 1-7 1 0 1-1 1-4 1-7 1-2 1-1 1 2 1-25 1 20 1-29 1 7 1-24 1-1 1-493 1 484 1 42 1 8 1-6 1-19 1-400 1 407 1 22 1 1 1-11 1-6 1-338 1 319 1 51 1 7 1-10 1 12 1-22 1 23 1 1 1-7 1 2 1 6 1-15 1-16 1 16 1 4 1-49 1 49 1 6 1-2 1 8 1 1 1-6 1 3 1 1 1-9 1-33 1 32 1 9 1-1 1-5 1 1 1-5 1-3 1-16 1 3 1-6 1-46 1-40 1 37 1 30 1 7 1-27 1 17 1-32 1 19 1-55 1 62 1 4 1 7 1-1 1-6 1 7 1 5 1 0 1-10 1 11 1 0 1-76 1 69 1 14 1 2 1 2 1 5 1-2 1-4 1-5 1 15 1 7 1-18 1 10 1 7 1-2 2 0 1-1 1-14 1 10 1-6 1 0 1 2 1-4 1-2 1-5 1 10 1-21 1 15 1-4 1 2 1-13 1 5 1-9 1 0 1-39 1-402 1 412 1 32 1-8 1 16 1-7 1-73 1 89 1-4 1-35 1 47 1-1 1-140 1 122 1 32 1 5 1-10 1 17 1-2 1 6 1 7 1-4 1 6 1-6 1 8 1-13 1 8 1 5 1 5 1-10 1 3 1 4 1-17 1 19 1-1 1-9 1 9 1-1 1-4 1 7 1-6 1-9 1 17 1-2 1-3 1-11 1-7 1-8 1 19 1-31 1 26 1 14 1 1 1-4 1-17 1 14 1-21 1-22 1 15 1 35 1 1 1 5 1-2 1-5 1-8 1 8 1 5 1-6 1-7 1-44 1 31 1 8 1-48 1 50 1 12 1-5 1-8 1-48 1-249 1 291 1 6 1 1 1 17 1-3 1 0 1 1 1-1 1 1 1 2 1-4 1-8 1-2 1-3 1-84 1 83 1 11 1-3 1-18 1 1 1 27 1-1 1 2 1-9 1 10 1-6 1 5 1-4 1-2 1-83 1 74 1 9 1 0 1-24 1-28 1 39 1 20 1-14 1-12 1 21 1-5 1 1 1-29 1 14 1 17 1-12 1-64 1 62 1 8 1-29 1 28 1-12 1 21 1 0 1 4 1-9 1 6 1 2 1-7 1 8 1-6 1 8 1-6 1-1 1-1 1-12 1-30 1-83 1 108 1 15 1-1 1 0 1-23 1 24 1 0 1-13 1 9 1 15 1-7 1-2 1-1 1 5 1 1 1 2 1-5 1-14 1-7 1-120 1 126 1 6 1 5 1 0 1-3 1 5 1-2 1-4 1-24 1-317 1 318 1 30 1-2 1-12 1 4 1 6 1-16 1-46 1-128 1 175 1 6 1-5 1 16 1-2 1-27 1-192 1 187 1 36 1-2 1-12 1-7 1-229 1 208 1-62 1 62 1 1 1 25 1 3 1-6 1-7 1 9 1-4 1 1 1-14 1 17 1 6 1-3 1 1 1 1 1-13 1 13 1 1 1-4 1 3 1-6 1 4 1 1 1-4 1-2 1 5 1-3 1 2 1-5 1-6 1 8 1-1 1-10 1-1 1-3 1 4 1 8 1 0 1-9 1-5 1 12 1-12 1 9 1 0 1-59 1 54 1 3 1 4 1-13 1-2 1-12 1 9 1 3 1-6 1 15 1-9 1-1 1-18 1 8 1 13 1-3 1-13 1-183 1 162 1 25 1 8 1-26 1-338 1 213 1 91 1 46 1 4 1-3 1 9 1 3 1 0 1-9 1 4 1 4 1-13 1-26 1 13 1-27 1-121 1-846 1 882 1 90 1 23 1 12 1-3 1-24 1 5 1 10 1 8 1 4 1-8 1-95 1 78 1 12 1 1 1-6 1 6 1 5 1-15 1 11 1-6 1-13 1-20 1-294 1 285 1 4 1-234 1 228 1-22 1-399 1 406 1 11 1-271 1 286 1 13 1 8 1 1 1-22 1 25 1-5 1 1 1 3 1-5 1 0 1-2 1-12 1-48 1 6 1 31 1 9 1-3 1-4 1 7 1-8 1 4 1 1 1-9 1 9 1-5 1-2 1-12 1-1 1-3 1 0 1-2 1-10 1-10 1-40 1 29 1 13 1 5 1-5 1-44 1 42 1 6 1-13 1 3 1-22 1-3 1-11 1-169 1 168 1-41 1-14 1 66 1 12 1-18 1-73 1 24 1-154 1-673 1 708 1 94 1-86 1-154 1-562 1 595 1 185 1 10 1-148 1-577 1 677 1 64 1 2 1-93 1-715 1 687 1 16 1 61 1-128 1-636 1 692 1 112 1 9 1-95 1-718 1 694 1 89 1 58 1 10 1-65 1 70 1-48 1 36 1-56 1 68 1 14 1 0 1-19 1-76 1 83 1 35 1 10 1-52 1 61 1 8 1 12 1 0 1 7 1 2 1 0 1-2 1-21 1 13 1-28 1 17 1-32 1 35 1-14 1-15 1-24 1 25 1 2 1-23 1-86 1-469 1 510 1 62 1-39 1 59 1-3 1 19 1 4 1 0 1 5 1-9 1 23 1-1 1-53 1 56 1 2 1-26 1 18 1 14 1-12 1 6 1-12 1-22 1-304 1 278 1 14 1 12 1 6 1-15 1 23 1 0 1-8 1 5 1-47 1 45 1-4 1-23 1-38 1 30 1 16 1 2 1-7 1 7 1 6 1-10 1-13 1-12 1 11 1 11 1 1 1 3 1-9 1 1 1-1 1-14 1 12 1 0 1-6 1 1 1-7 1-37 1 34 1-26 1-341 1 338 1 44 1 7 1 6 1-3 1-21 1 4 1-47 1 52 1 3 1 17 1 5 1-18 1 21 1 6 1 4 1-7 1 6 1-4 1 7 1-8 1 7 1 5 1-11 1-13 1 18 1 8 1-3 1-9 1 18 1 2 1 4 1-4 1 5 1 5 1-2 1 3 1 3 1-2 1-6 1-20 1-231 1 238 1 18 1 0 1-19 1 16 1-12 1-30 1 38 1 8 1-6 1-13 1 8 1 13 1-4 1 3 1-14 1 15 1-6 1-4 1-27 1 31 1 0 1-7 1-19 1 25 1 0 1 3 1-14 1 15 1-15 1-17 1-69 1 57 1 1 1-12 1 1 1-2 1-7 1-3 1-20 1 6 1-8 1-29 1-4 1-14 1-18 1-25 1-21 1-31 1 28 1 22 1 22 1 12 1-1 1 22 1 18 1-2 1 19 1 10 1-2 1 10 1-18 1 1 1 37 1-2 1 0 1 5 1 5 1-3 1 5 1 6 1 1 1 3 1 3 1-8 1 8 1 3 1 4 1-2 1 0 1 2 1-6 1 9 1 5 1-1 1 5 1-14 1 10 1-3 1-6 1-5 1 14 1-2 1-9 1 8 1 2 1-1 1-19 1 12 1-11 1 23 1-3 1-6 1 0 1-1 1-14 1 9 1-10 1-47 1 21 1-17 1-107 1-775 1 762 1 107 1-4 1 0 1-114 1-751 1 747 1 95 1 12 1-29 1-9 1-317 1 294 1 56 1 7 1-32 1-138 1-686 1 739 1 98 1 28 1-159 1 173 1 5 1 8 1-38 1 3 1 44 1-12 1 24 1 0 1 2 1-17 1 18 1 5 1-8 1 0 1-29 1-8 1-120 1-756 1 768 1 95 1-4 1-91 1-768 1 767 1 120 1 19 1-10 1-6 1 14 1 21 1 4 1-9 1 12 1 4 1-10 1 7 1 3 1 3 1-10 1 3 1-8 1 15 1 1 1-7 1-5 1 11 1-13 1 14 1 2 1-2 1-9 1 8 1 1 1 1 1-21 1 21 1-5 1-4 1 4 1-24 1 10 1 0 1 2 1 5 1 2 1-91 1 88 1 4 1-11 1-80 1 89 1 2 1 1 1-1 1-17 1-32 1 20 1 14 1 6 1 1 1-2 1 1 1-6 1-7 1-13 1-293 1 270 1-1 1-6 1-27 1-380 1 316 1 50 1 2 1-11 1-33 1 23 1-6 1-1 1 4 1 9 1-13 1-219 1 234 1 14 1 5 1-207 1 214 1 22 1 0 1-27 1 44 1 16 1 2 1 16 1 5 1 5 1-3 1-33 1 42 1 8 1 14 1 9 1-3 1 11 1-9 1-7 1 30 1 11 1 7 1 8 1 4 1 3 1 8 1-14 1 16 1 15 1 0 1-5 1 5 1 0 1 1 1-3 1-5 1-17 1 11 1 3 1-13 1-13 1-68 1-807 1 724 1-563 1 632 1 49 1 40 1 2 1-32 1-55 1-122 1-805 1 902 1 102 1 14 1-38 1 50 1 7 1 14 1-12 1 15 1 14 1 3 1-3 1-29 1-24 1 44 1-10 1 5 1-46 1 29 1 13 1-20 1-104 1 51 1-2 1 41 1 21 1-194 1 211 1 14 1-3 1 3 1-12 1-2 1-22 1-70 1 50 1-102 1 8 1 89 1 28 1-5 1-19 1-34 1 39 1 2 1-27 1-124 1-867 1 844 1 92 1-98 1-838 1 845 1 98 1-47 1-596 1 595 1 51 1-120 1-826 1 783 1-508 1 674 1 58 1 15 1-4 1-5 1 19 1-7 1 18 1-9 1-36 1-479 1 447 1 47 1-32 1 11 1-417 1 355 1-657 1 523 1 167 1-14 1-645 1 620 1 49 1-36 1-638 1 552 1 98 1-4 1 25 1-1 1-13 1 4 1-8 1-48 1-703 1 665 1 59 1-20 1 20 1-10 1-19 1-355 1 341 1 21 1 4 1 7 1-113 1 96 1-4 1-8 1-39 1 43 1-2 1-30 1-341 1 319 1-8 1-83 1-34 1-710 1 679 1-10 1-669 1 678 1 14 1-692 1 689 1 114 1-128 1-675 1 755 1 111 1-20 1-638 1 615 1 86 1 12 1-13 1-286 1 334 1 49 1 27 1 4 1 33 1 11 1 8 1 7 1 7 1 3 1 11 1 4 1 7 1 0 1-14 1 19 1 3 1 1 1-3 1 4 1 2 1-20 1 22 1-3 1 5 1-15 1 16 1 0 1 4 1 0 1 2 1-31 1 23 1 9 1-1 1-4 1 7 1 0 1-10 1 11 1-2 1 3 1 3 1-2 1 1 2 0 1 1 1 0 1-1 1-2 1 0 1 1 1 2 1 2 1-1 1-2 2 0 1 3 1 0 1-1 1 0 1-1 1 4 1 1 1 0 1 1 1-2 1-6 1 2 1 3 1 1 1-6 1-1 1-8 1-121 1 123 1 11 1 3 1 0 1 2 1-4 1 1 1-3 1-2 1-38 1 12 1-204 1 18 1 194 1 19 1 1 1 8 1-1 1 1 1 0 1 4 1-1 1 1 1-3 1 3 1-15 1 16 1 1 1-1 1-1 1 1 1 0 1-5 1 5 1-1 1 2 1-1 2 0 1-3 1 1 1-9 1 11 2 0 1-1 1-5 1 7 1-4 1-1 1 2 1 3 1-1 1-1 1-6 1-2 1 3 1 3 1 4 1-10 1 9 1-1 1 1 1-1 1 0 1-3 1 1 1 0 1 3 1 0 1 1 1-1 1 1 1 0 1 1 1-2 1-3 1 3 1-1 1 1 1 0 1 2 1-2 1 1 1-1 2 0 1-1 1 1 3 0 1-1 1 1 1-1 1-1 1 1 1 1 1-2 1-4 1 7 1-1 1 1 1-4 1-3 1 9 1-3 1 3 1-2 1-13 1 13 2 0 1-9 1 9 1 1 1-1 1-1 1 1 1-1 1-1 1 1 1 2 1-1 1-3 1 1 1 1 1-4 1 2 1-12 1 12 1 1 1-6 1 7 1 2 1-2 1 1 1-1 1 1 1 1 1-2 1 1 1 0 1-4 1 1 1 3 1-3 1 4 1-10 1 4 1 2 1 1 1-2 1-1 1 4 1 0 1-3 1 2 1 1 1-3 1 4 1 0 1-4 1 2 1 0 1-1 1-8 1 11 1-1 1-4 1-1 1 4 1-1 1 3 1 0 1-1 1 1 1-2 1 2 1 1 1-1 1 1 1-2 1 2 1-3 1 3 1-3 1 2 1-2 1-1 1 2 1 2 1-1 1-1 1 0 1-1 1 2 1-1 1 1 1-2 1-3 1 4 1 1 1-1 2 0 1-6 1 7 1-4 1 3 1 1 1 0 1 2 1 0 1-1 1-1 1 1 1-7 1 4 1 0 1 2 1 0 1-2 1 0 1 1 1 1 1-1 1 1 1-1 1-1 1-1 1-3 1 5 3 0 1-4 1-1 1 5 1 0 1 1 1 0 1-5 1 4 1-1 1-7 1 10 1-1 1 1 1-2 1 1 1-1 1-11 1 11 1 0 1 1 1-2 1 1 1 1 2 0 1-2 1 2 1-9 1 7 1 3 1-1 1-3 1 2 1-1 1-3 1 5 1-4 1 5 1-1 1 1 1-1 1-1 1-29 1 28 1 0 1 2 1 1 1-3 1 2 1-1 1-1 1 2 1 0 1-3 1 1 1 2 1 1 1-11 1 10 1 1 1-4 1 6 1-2 1-3 1 2 1-1 1 1 1 1 1-1 1-9 1 8 1 0 1-1 1-2 1-5 1-9 1-9 1-60 1-60 1-167 1-150 1-133 1-120 1-120 1-120 1-120 1-96" stroke="#ff0000"/>
</g>
<g clip-path="url(#cB)" fill="none" stroke-width="1.70" stroke-linejoin="round" stroke-opacity="0.8">
<path d="M25 2424l1 19 1 2 1-1 1-17 1 22 1 8 1-17 1 14 1 2 1 5 1 4 1 10 1 3 1 7 1-18 1 33 1-6 1-23 1-6 1-8 1-12 1-10 1-78 1-88 1-78 1-73 1-89 1-70 1-79 1-81 1-77 1-82 1-84 1-79 1-78 1-79 21 0 1 1273 25 0 1-10 1 3 1-12 1-9 1-17 1-14 1-12 1-15 1-10 1-30 1-18 1-3 1 6 1 0 1 5 1-10 1 8 1-16 1 6 1-1 1 7 1-3 1-2 1-6 1-8 1 7 1-17 1 18 1-4 1-1 1 2 1-1 1 4 1 4 1-20 1 14 1-7 1 10 1-5 1-1 1-1 1-7 1 5 1-3 1 1 1-7 2 0 1-13 1 11 1-4 1 3 1-8 1 0 1 7 1 0 1-4 1-4 1 1 1-8 1-19 1 4 1-15 1 7 1 17 1-15 1 14 1-1 1 0 1-16 1-183 1 180 1 14 1-1 1-9 1-54 1 53 1-4 1 11 1-20 1 2 1 16 1-7 1 0 1-4 1 0 1 1 1-1 1 1 1-17 1-32 1 44 1-30 1 2 1 11 1 14 1-4 1-10 1 0 1 3 1 2 1-7 1-124 1 119 1 3 1 10 1-2 1 5 1-5 1-1 1-14 1 3 1-5 1 18 1-4 1 5 1-14 1-6 1 16 1-9 1 7 1-1 1-4 1-8 1 7 1 3 1-1 1-2 1 6 1-5 1-5 1 6 1-3 1-11 1 5 1-33 1 33 1-8 1 1 1 6 1-12 1 1 1 4 1 5 1-1 1 2 2 0 1-1 1-3 1-2 1 1 1-9 1 6 1 9 1-4 1 2 1-5 1-8 1-10 1 0 1 11 1 4 1-3 1-8 1-22 1 6 1 12 1-8 1-30 1-359 1 350 1 6 1-5 1 21 1-94 1 83 1-146 1 153 1-8 1-229 1 227 1 6 1 16 1 5 1 2 1-8 1 4 1 1 1-3 1-22 1 23 1-5 1 3 1-1 1 2 1-10 1 9 1-8 1 1 1 2 1 1 1 2 1-22 1 15 1 3 1-7 1 4 1-1 1-5 1 2 1-9 1-19 1-32 1 27 1 22 1 7 1-4 1 3 1-8 1-6 1 8 1-7 1-25 1 12 1 5 1 0 1 9 1-8 1 12 1-4 1-6 1 3 1-4 1 4 1-2 1-2 1-12 1-40 1 34 1 7 1 9 1-11 1 14 1-19 1 11 1-9 1-39 1 37 1 7 1 8 1-8 1-5 1-4 1 7 1 4 1-2 1-19 1 2 1 18 1-3 1-4 1 2 1-4 1-3 1-6 1 3 1-6 1-56 1 30 1-12 1 25 1-8 1 16 1 1 1-1 1-3 1 5 1 0 1-11 1 9 1-2 1-6 1-20 1-10 1 29 1-73 1 58 1 6 1-119 1 79 1-132 1 145 1 26 1 3 1 7 1-5 1 8 1-9 1 11 1-6 1 5 1-10 1-1 1-16 1 5 1 1 1-2 1-20 1-265 1 222 1 21 1 14 1-29 1 27 1 25 1 16 1-2 1 5 1-7 1 2 1-7 1-3 1-13 1 9 1 8 1-3 1-2 1-58 1 36 1-39 1 45 1 13 1-7 1-21 1-45 1 59 1 13 1 6 1-5 1-17 1 20 1-4 1-1 1-8 1-8 1-46 1 24 1 4 1-54 1-31 1 41 1 37 1 1 1 10 1 6 1-12 1-19 1-44 1 45 1 10 1-18 1 13 1 8 1-7 1-18 1 15 1-1 1-17 1 14 1 6 1-11 1-14 1 10 1-19 1-6 1-144 1 143 1 4 1 12 1-28 1 18 1-16 1 13 1 4 1 4 1-51 1-8 1-71 1 82 1 4 1-28 1-359 1 359 1 23 1 20 1-3 1-2 1-25 1-167 1 165 1 25 1 3 1 1 1-20 1 10 1-7 1-38 1-72 1-25 1 111 1-12 1 12 1-47 1 32 1-16 1 15 1 11 1 1 1-160 1 153 1 23 1-4 1-8 1-31 1-70 1 66 1 10 1-52 1-202 1 150 1 81 1-48 1 38 1-86 1 58 1 47 1-95 1-95 1 156 1 49 1-12 1-164 1 110 1-82 1-152 1 48 1-22 1 117 1 89 1-65 1 76 1-130 1 133 1 35 1 1 1-31 1-85 1 9 1 47 1-22 1-95 1-227 1 290 1 51 1 22 1-62 1-355 1 360 1 3 1-37 1-89 1 121 1-56 1-212 1 47 1 110 1 98 1-41 1 54 1-94 1 66 1 24 1 11 1 14 1-7 1 19 1-6 1-16 1 29 1 7 1-33 1-112 1 115 1 43 1 7 1-17 1 25 1 3 1 8 1-2 1-7 1-47 1 50 1-50 1 64 1 17 1-15 1-40 1-19 1-5 1-187 1 193 1 36 1 49 1-41 1 25 1-58 1 79 1 12 1 26 1-5 1-67 1-81 1-543 1 643 1 56 1 9 1-4 1-9 1-277 1 211 1-39 1 104 1 27 1 3 1-44 1 47 1-9 1 24 1 1 1-5 1 3 1-63 1 35 1-1 1-119 1 133 1 18 1-34 1 41 1 1 1-52 1-167 1 200 1 35 1-59 1 64 1 4 1-7 1 18 1 10 1 5 1-14 1 3 1-3 1 13 1-15 1-195 1-6 1 189 1-20 1-73 1 87 1 38 1 7 1-10 1-53 1-126 1 100 1 57 1-74 1-215 1 35 1 238 1 55 1-5 1 24 1-13 1 23 1-11 1-35 1-44 1 5 1-135 1 156 1-59 1-23 1 107 1-73 1 93 1 28 1-7 1 12 1 22 1 3 1 3 1-24 1 23 1 8 1-24 1 8 1-93 1 74 1 27 1-25 1 32 1-20 1 26 1-15 1-4 1 18 1-67 1 63 1-16 1-86 1 94 1 23 1-22 1 2 1-24 1 36 1-151 1 156 1 23 1-3 1-8 1-100 1 104 1 12 1 6 1 3 1-6 1 2 1-17 1-29 1-6 1-59 1 73 1 38 1 5 1-59 1 47 1 8 1 13 1-10 1 8 1-17 1 17 1 6 1-22 1 13 1-2 1 5 1-7 1-18 1 35 1-12 1 7 1-38 1 23 1 12 1-11 1-41 1 42 1 15 1-2 1 3 1-7 1-29 1 3 1 21 1-15 1 18 1 0 1-2 1-17 1 16 1 8 1-6 1 3 1-4 1-9 1-9 1 8 1-3 1 7 1 4 1-3 1-1 1 3 1-2 1-82 1 72 1 13 1-1 1 6 1-48 1-145 1 153 1 35 1 9 1-7 1 1 1 2 1-19 1 21 1 0 1-3 1 1 1-19 1-35 1 51 1 1 1-4 1-13 1 14 1-7 1 12 1-11 1-92 1 95 1 6 1 2 1-1 1-1 1 1 1-16 1 17 1-6 1 5 1-13 1 9 1-17 1 20 1-13 1 10 1 2 1-23 1 25 1 8 1-7 1-7 1-47 1 41 1-2 1 25 1-4 1-7 1 3 1-8 1-27 1 27 1-28 1 15 1 23 1 2 1-5 1-1 1-26 1 27 1-4 1-21 1 21 1 2 1 3 1-1 1 9 1-8 1 7 1-4 1 2 1-22 1 22 1-3 1 2 1-24 1 17 1 7 1-7 1-13 1 12 1 13 1 1 1-7 1 5 1-5 1 0 1-2 1-2 1-15 1-36 1-135 1 113 1 5 1-16 1 8 1-11 1 40 1-5 1-2 1-25 1-92 1 32 1 35 1 71 1-4 1 12 1-2 1 5 1 2 1-7 1 8 1 13 1-1 1 10 1 9 1 1 1-1 1-16 1 9 1 3 1 0 1 1 1-9 1 9 1 0 1-10 1-3 1-16 1 15 1 9 1 2 1-10 1-6 1 3 1 1 1 4 1 2 1 0 1 4 1 0 1-21 1-147 1 159 1 12 1-6 1 14 1-21 1 7 1-38 1 33 1 10 1-16 1 12 1-20 1 8 1-74 1-2 1 47 1-15 1 55 1-4 1-1 1-54 1 52 1-22 1 12 1 18 1-17 1 26 1-13 1 11 1 0 1 1 1-10 1-1 1-31 1 6 1 20 1-53 1-130 1 164 1 18 1-9 1 16 1 0 1-5 1-43 1-106 1 119 1-73 1 31 1 55 1 23 1 1 1 4 1 10 1-5 1-2 1-7 1-12 1 19 1-22 1 29 1-4 1-5 1-15 1-59 1-53 1 79 1 43 1-6 1 6 1-3 1 0 1 8 1-13 1-41 1 42 1 20 1 5 1-44 1-193 1 209 1 12 1-4 1-2 1-148 1 139 1 12 1-29 1 1 1 13 1-22 1 34 1 8 1-70 1 75 1 4 1 1 1-30 1 18 1-62 1-280 1 292 1-27 1 81 1 4 1 7 1-4 1 3 1-12 1 13 1-7 1-11 1 8 1-2 1-24 1 11 1-41 1 37 1-12 1 32 1 5 1-7 1-44 1 51 1 2 1 5 1 4 1-2 1-12 1 2 1 9 1-12 1-2 1 5 1-51 1 30 1 20 1-21 1 21 1-2 1 12 1-16 1-48 1 43 1 17 1-35 1-15 1 46 1-12 1 13 1-18 1 17 1 5 1-8 1-2 1-3 1 1 1-28 1 19 1 6 1-16 1-3 1 2 1 9 1-5 1-25 1-6 1 31 1 6 1-19 1 22 1-5 1-4 1-10 1-17 1 21 1-9 1 9 1-53 1 56 1 4 1 0 1-2 1-5 1-15 1 6 1 7 1-5 1-2 1-5 1-30 1 31 1 4 1-2 1 2 1-3 1-24 1-2 1 27 1 1 1 1 1-7 1 2 1-2 1 1 1-9 1-12 1-136 1 123 1 6 1 21 1-35 1 35 1-17 1-179 1 177 1 7 1 1 1-29 1 28 1 1 1-5 1-14 1 7 1 11 1-15 1 19 1-13 1-11 1-27 1 32 1-1 1-28 1 10 1 8 1 10 1-24 1 22 1-16 1-49 1-449 1 456 1 47 1 11 1-9 1-51 1 55 1 11 1-8 1-18 1 13 1-33 1 28 1-18 1 13 1 0 1-5 1 0 1-11 1 0 1-11 1-18 1-358 1 338 1-10 1 13 1-344 1 336 1 21 1-10 1-167 1 167 1-13 1 19 1-10 1-14 1 8 1-32 1 11 1 19 1 4 1-4 1-5 1-7 1-29 1 27 1-3 1 1 1-4 1 0 1-1 1-30 1 23 1 1 1-34 1 2 1 17 1-65 1 54 1-10 1 0 1 8 1-35 1 18 1 4 1 5 1-10 1 2 1-2 1-1 1-23 1 11 1-12 1 8 1-3 1-23 1 14 1-5 1-21 1-78 1 55 1 13 1 11 1-68 1 31 1 18 1-39 1-19 1-11 1-141 1-492 1 462 1 150 1-26 1-70 1-516 1 544 1 88 1-3 1-138 1-491 1 506 1 132 1-23 1 11 1-221 1 212 1-18 1 51 1-94 1-556 1 564 1 85 1 0 1-108 1-541 1 595 1 88 1 23 1-4 1 18 1-23 1-1 1 49 1-11 1-1 1-111 1 121 1 19 1 35 1 5 1 10 1 12 1 13 1-1 1 8 1-8 1 18 1-19 1-3 1-116 1 110 1 13 1-28 1 27 1 9 1 6 1-7 1 5 1 4 1 4 1-8 1-1 1-19 1-333 1 311 1 25 1-49 1-184 1 206 1 21 1-10 1-57 1 42 1-26 1 51 1 21 1-10 1-10 1 25 1-10 1 5 1-9 1-14 1 13 1-7 1-21 1-206 1 201 1 1 1 33 1 4 1-9 1 11 1 1 1-22 1 9 1 7 1-2 1-12 1-2 1-4 1-62 1-3 1 49 1 0 1 12 1 2 1-27 1-8 1 23 1 9 1 0 1-1 1 5 1-11 1-44 1 36 1 3 1-9 1-19 1 9 1 15 1 0 1-43 1-109 1-648 1 650 1 108 1 33 1-43 1-567 1 596 1 48 1 17 1-1 1 12 1 6 1 1 1 8 1 1 1 0 1-2 1 0 1 8 1-5 1-5 1 13 1-2 1-1 1 4 1-3 1-3 1 7 1-16 1 17 1-3 1-10 1-33 1 39 1-4 1 4 1 1 1-19 1 25 1-1 1 7 1 1 1-22 1-150 1 142 1-27 1 53 1 13 1 8 1 3 1-7 1-35 1 16 1 19 1 1 1-9 1-1 1 19 1-49 1 44 1 0 1 3 1 9 1-8 1 0 1-1 1 1 1-12 1-11 1-53 1 51 1 3 1-14 1-56 1 43 1 14 1-3 1 3 1-10 1-24 1 18 1-1 1-4 1-10 1-27 1 25 1 2 1-2 1 0 1-6 1-6 1 3 1-5 1-7 1-33 1 20 1-3 1 9 1-26 1 16 1 23 1 11 1-12 1 13 1-3 1-22 1 31 1 4 1 6 1-41 1 38 1 7 1 5 1-3 1 2 1 1 1 0 1 4 1-5 1-3 1 1 1-16 1 5 1-40 1 49 1 15 1 3 1-16 1 15 1-4 1 1 1 8 1-1 1 3 1-7 1-32 1 18 1 5 1 11 1 1 1-2 1-23 1 19 1-16 1 2 1-26 1 27 1 24 1-3 1-4 1-55 1 44 1 6 1 6 1-4 1-65 1-517 1 489 1 43 1-36 1-61 1-705 1 692 1 56 1-8 1-96 1-666 1 511 1 182 1 32 1-34 1-403 1 403 1 70 1 12 1-10 1-56 1-652 1 655 1 75 1 14 1-13 1-74 1 84 1 32 1 3 1 5 1 4 1-27 1 29 1-2 1-7 1-1 1-1 1 4 1-13 1-77 1 42 1-100 1-687 1 688 1 102 1 1 1-84 1-707 1 710 1 101 1 9 1 15 1-1 1 10 1 0 1-13 1 9 1-41 1 36 1 5 1 4 1 6 1 3 1-2 1-6 1 5 1 2 1 2 1-20 1 26 1-6 1 6 1-10 1-10 1 15 1-19 1 7 1-25 1-29 1 28 1 25 1-58 1 51 1 21 1 3 1-2 1-8 1-9 1 25 1-8 1-15 1 3 1 8 1-44 1-49 1 101 1-11 1 10 1-6 1 13 1-15 1 16 1-1 1-8 1-20 1 20 1-2 1-19 1-49 1 40 1-19 1-39 1-510 1 476 1 37 1-1 1-49 1 44 1 0 1-15 1 16 1 2 1-24 1 6 1 17 1-241 1 276 1 20 1 24 1-30 1-355 1 390 1 13 1 39 1 11 1 15 1 19 1-10 1 26 1 6 1 4 1-3 1-7 1-29 1-1 1 22 1-2 1 1 1 4 1-44 1-37 1 70 1 1 1 23 1 1 1-2 1 0 1 8 1-14 1 14 1 3 1-3 1-1 1 6 1 1 1 3 1-21 1-54 1 63 1 3 1-56 1-627 1 597 1-110 1-786 1 821 1 146 1 35 1-7 1 15 1 6 1-28 1-8 1-357 1 332 1 22 1-57 1-719 1 757 1 54 1 13 1-30 1-170 1 168 1 32 1 16 1-19 1 4 1-31 1-3 1-226 1 247 1 27 1 16 1 4 1-5 1-14 1-19 1-36 1 59 1-10 1-33 1 39 1 6 1-13 1 18 1-4 1-28 1-81 1 91 1-15 1 35 1-5 1 12 1-3 1 0 1-3 1-17 1-31 1-81 1 25 1-124 1-823 1 690 1 162 1-60 1-792 1 769 1 102 1-88 1-731 1 782 1 60 1-161 1-733 1 776 1 133 1-156 1 175 1-202 1 253 1 46 1 14 1-5 1-7 1-4 1-27 1-226 1 219 1 28 1 2 1-5 1 5 1-7 1-167 1 148 1 11 1-12 1-29 1-78 1 61 1-8 1-264 1 259 1 19 1-8 1-24 1-144 1 123 1 8 1-2 1-2 1-143 1 74 1 29 1 6 1 18 1-13 1 8 1-15 1 12 1-9 1-144 1 122 1-29 1-106 1 85 1-161 1 143 1 15 1-64 1-60 1-664 1 667 1 80 1-35 1-540 1 537 1 10 1-134 1-592 1 642 1 122 1-46 1-647 1 646 1-48 1-34 1-635 1 602 1-89 1 271 1-35 1 28 1 50 1 62 1 9 1 31 1-18 1-319 1 353 1 49 1 25 1 0 1-170 1 203 1 14 1-1 1 9 1-1 1-15 1 17 1 6 1 5 1-2 1 4 1 4 1-1 1 3 1-4 1 7 1 2 1 0 1-16 1 19 1 6 1 6 1-1 1 4 1 4 1-6 1 3 1-3 1 5 1 1 1 1 1-2 1 5 1-1 1 1 2 0 1-16 1 16 1 3 1 0 1-1 1-15 1 8 1 9 1-1 1 3 1 0 1-4 1 3 1 0 1 2 1 0 1-9 1 6 1 2 1 6 1-3 1-6 1 3 1 4 1 1 1-9 1 11 1 0 1 3 1 3 1-3 1-11 1 10 1 4 1-3 1 7 1-3 1 1 1-4 1-1 1-24 1-254 1 68 1 199 1 15 1 11 1 1 1 6 1-1 1 1 1 5 1-5 1-3 1-21 1 27 1 1 1 1 1-2 1-3 1 4 1-4 1 3 1-1 1-5 1 6 1 1 1-3 1 1 1 1 1-1 1 1 1 0 1 3 1 0 1-2 1-2 1-1 1 3 1 0 1-2 1 0 1 1 1-2 1 5 1-1 1 0 1-4 1 1 1 0 1 2 1 1 1-1 1-2 1 0 1 4 1-3 1-1 1 4 1-2 1-2 1-14 1 14 1 2 1-9 1 8 1 2 1-4 1-2 1-3 1 7 1 1 1 1 1-3 1-4 1 7 1-4 1 2 1 0 1-13 1 10 1-4 1 0 1 7 1-2 1-5 1 4 1 5 1-3 1 0 1-11 1 15 1-2 1-1 1 1 1-10 1 9 1-3 1 2 1 2 1-6 1 6 2 0 1-1 1-2 1 0 1 2 1-4 1 3 1 3 1 0 1-3 1-2 1-5 1 9 1-4 1 3 1 2 1-4 1-10 1 1 1 13 1-1 1-9 1 5 1 5 1-6 1 4 1 3 1-1 1-4 1 3 1-1 1-1 1 2 1-1 1-1 1 0 1 4 1 0 1-4 1 1 1 0 1 5 1-8 1 5 1-3 1-2 1 4 1 1 1-1 1 1 1-13 1 8 1-1 1 3 1 2 1 1 1 0 1 1 1 1 1-3 1-4 1 2 1-7 1 7 1 2 1 0 1-3 1 3 1 1 1-1 1 2 1-8 1 7 1-3 1-2 1 4 1 2 1-2 1 2 1-1 2 0 1-1 1-1 1-8 1 9 1-2 1 2 3 0 1 1 1 1 1-5 1 2 1 2 1-3 1 3 1-2 1 1 1 0 1 1 1-6 1 7 1-1 1 0 1-1 1 2 1 1 1-13 1 10 1 2 1 0 1-3 1 4 1 0 1-2 1 0 1 2 1 2 1 1 1-4 1-13 1 4 1 7 1 2 1 1 1-19 1 9 1 8 1 1 1-1 1-4 1-8 1 13 2 0 1-3 1 3 1-1 2 0 1 1 1-8 1 7 1-1 1 1 1-4 1 4 1-1 1-6 1 2 1 0 1 7 1-4 1 2 1 0 1 3 1-1 1 2 1 0 1-2 1-1 1 0 1 1 1-3 1-3 1-32 1 33 1 2 1 2 1-5 1 5 1 1 1-2 1-7 1 9 1-4 1 1 1-10 1 10 1-1 1 0 1 2 1 2 1-5 1 2 1 0 1 1 1-1 1 2 1-7 1 9 1-3 1-5 1 6 2 0 1-9 1-8 1-9 1-60 1-60 1-167 1-150 1-133 1-120 1-120 1-120 1-120 1-93" stroke="#4f8f4f"/>
<path d="M25 2446l1-3 1 2 1 6 1 3 1-1 1 5 1 4 1-18 1 14 1 7 1 2 1 10 1 4 1-4 1 3 1 14 1-5 1-16 1-3 1-55 1 34 1-6 1-51 1-103 1-52 1-85 1-84 1-84 1-75 1-76 1-81 1-79 1-86 1-79 1-86 1-72 1-30 20 0 1 800 1 473 27 0 1-14 1-16 1-14 1-18 1 3 1-19 1-8 1-13 1-10 1-18 1 5 1-4 1-4 1 1 1 2 1-8 1 5 1-10 1 5 1 5 1-10 1-22 1 11 1 11 1 0 1-5 1 1 1 1 1-9 1 6 1-2 1 2 1-19 1 20 1-4 1-14 1 9 1 3 1-4 2 0 1-15 1 1 1 9 1 2 1-3 1-4 1-18 1 13 1-8 1 5 1 3 1 2 1-2 1-4 1 0 1-6 1-5 1 8 1-4 1 2 1-6 1-12 1 12 1 2 1-6 1-10 1-160 1 157 1 4 1 2 1-17 1-69 1 65 1 12 1-27 1 24 1 5 1 2 1-6 1 7 1-4 1-16 1 1 1 17 1-11 1-4 1 9 1-21 1 9 1-23 1 15 1 16 1-28 1 25 1 1 1-6 1 3 1-26 1-68 1 88 1 2 1-3 1 0 1 1 1-6 1-2 1-7 1 15 1 1 1-6 1 0 1-4 1 3 1-4 1-1 1-4 1-3 1 8 1-17 1 10 1 8 1-10 1 9 1-2 1 3 1-3 1-20 1 20 1-11 1 13 1-11 1-18 1 9 1 12 1 0 1-1 1 1 1-7 1-10 1 16 1-2 1-4 1 2 1-13 1 13 1 4 1-12 1 6 1-1 1-7 1 11 1 0 1-6 1-1 1-5 1 3 1 6 1-5 1 2 1-6 1 0 1-19 1 18 1-7 1-2 1-53 1-436 1 443 1 14 1-24 1 5 1-411 1 406 1 4 1 30 1 10 1-71 1 73 1 2 1-5 1 12 1-11 1 5 1-2 1 9 1-2 1-3 1-22 1 22 1-9 1 12 1-5 1 3 1-1 1-10 1 1 1 4 1-4 1 2 1-14 1 9 1-1 1-4 1-8 1 8 1-12 1 15 1-8 1-8 1-82 1 68 1 16 1-7 1-2 1 13 1-1 1-12 1 12 1 2 1-9 1 7 1-12 1 8 1 5 1 1 1-13 1 12 1-9 1 1 1 2 1-10 1 10 1-6 1-6 1-16 1 13 1 3 1 9 1-2 1 1 1-7 1-1 1-2 1-22 1 19 1 7 1-2 1-34 1 25 1-20 1 15 1-4 1 13 1-17 1 9 1 8 1-11 1 7 1 1 1-5 1 4 1-5 1-5 1-3 1-23 1 10 1 7 1 6 1-19 1 12 1 9 1 1 1-5 1 6 1-11 1 12 1-1 1 1 1-19 1-36 1 17 1 4 1-245 1 248 1 13 1-29 1 12 1-102 1 90 1 25 1-8 1 7 1 0 1 9 1 5 1-6 1 6 1-7 1 5 1-3 1-7 1 2 1-4 1-11 1-27 1-359 1 222 1 87 1 46 1-63 1 80 1 22 1 9 1-8 1-11 1 15 1 5 1-12 1-16 1-3 1 21 1 1 1-6 1-2 1-37 1 6 1-33 1 50 1-24 1 46 1-12 1-53 1 55 1 1 1 6 1-5 1-34 1 9 1 32 1-3 1-4 1 0 1-53 1 44 1-3 1-50 1-24 1 51 1 11 1 7 1 2 1-8 1-6 1-14 1-48 1 46 1 6 1-26 1 18 1-2 1 10 1-18 1 11 1 0 1-22 1 14 1 0 1-2 1-31 1 2 1-19 1-41 1-107 1 126 1 43 1 8 1 2 1-20 1-32 1 33 1 0 1 10 1-29 1 5 1-57 1 52 1-11 1-94 1-693 1 704 1 70 1 14 1 17 1-8 1-27 1-133 1 133 1 21 1-15 1 13 1-5 1 1 1-3 1-23 1-78 1 23 1 52 1-19 1 12 1-57 1 52 1 1 1-8 1 30 1-12 1-187 1 190 1 14 1-9 1-1 1-34 1-7 1 30 1 7 1-30 1-104 1 84 1 23 1-20 1-17 1-270 1 216 1 63 1-54 1-59 1 112 1 22 1-57 1-188 1 184 1-9 1-170 1 89 1-133 1 61 1 141 1-85 1 120 1-20 1 39 1 19 1 3 1-51 1-52 1-27 1 67 1-4 1-72 1-342 1 392 1 34 1-3 1 3 1-128 1 120 1-5 1-88 1-286 1 301 1-51 1-301 1-136 1 380 1 120 1-4 1 2 1-321 1 296 1 63 1 29 1 0 1 1 1 14 1 0 1-86 1 85 1 14 1-18 1-82 1 70 1 40 1 3 1-33 1 46 1 6 1 8 1 4 1-12 1-25 1 19 1-81 1 77 1 35 1-16 1-11 1-68 1 3 1-289 1 284 1 58 1 21 1-61 1 27 1-94 1 133 1 23 1 24 1-10 1-24 1-44 1-464 1 506 1 49 1-3 1-12 1 6 1-252 1 226 1-50 1 92 1 10 1 3 1-40 1 38 1 11 1 8 1 10 1 0 1-9 1-62 1 45 1-11 1-93 1 99 1 28 1-35 1 30 1 12 1-44 1-84 1 118 1 10 1-39 1 49 1 13 1-30 1 27 1 14 1-6 1 6 1 5 1-27 1 15 1-40 1-634 1 187 1 455 1 16 1-47 1 75 1 3 1 3 1-17 1-134 1-213 1 293 1 59 1-51 1-252 1 73 1 220 1 53 1-34 1 47 1-12 1 24 1 0 1-21 1-33 1-77 1-70 1 102 1-49 1 36 1 67 1-86 1 103 1 16 1 13 1 8 1 9 1 1 1 1 1-4 1 7 1 3 1-7 1-26 1-106 1 109 1 17 1-30 1 41 1 10 1-2 1-12 1 11 1-27 1-58 1 56 1 9 1-85 1 96 1 21 1 1 1-2 1-29 1 29 1-121 1 125 1-3 1 25 1-8 1-60 1 46 1 15 1 11 1 1 1-14 1 6 1-3 1-41 1-11 1-66 1 85 1 38 1 5 1-10 1 19 1-13 1 8 1-2 1 0 1 12 1-4 1 0 1-6 1 3 1-8 1 6 1 4 1-2 1 8 1-11 1 2 1-8 1 4 1 3 1-14 1-51 1 52 1 13 1 4 1 2 1-2 1-9 1-21 1 30 1 4 1-8 1 9 1-7 1-15 1 10 1 4 1-1 1 6 1-6 1 0 1-17 1 11 1-49 1 51 1 10 1 0 1-4 1-5 1-12 1-219 1 171 1 56 1 4 1 2 1 0 1-104 1 87 1 13 1 9 1-1 1 3 1-7 1 4 1-1 1 5 1-2 1 1 1-2 1 3 1-12 1 5 1-4 1-24 1 9 1 19 1-10 1-2 1-196 1 195 1 16 1 1 1 0 1 4 1-3 1-5 1 7 1-1 1-8 1 8 1-16 1-17 1 27 1-9 1 9 1-8 1 2 1 8 1-1 1 8 1-23 1-7 1 23 1-1 1-14 1 21 1-9 1 15 1-1 1-2 1-5 1-58 1 61 1 3 1 1 1-9 1 0 1-14 1 18 1 1 1-49 1 46 1-5 1 11 1 2 1-3 1-24 1 20 1 7 1-3 1-20 1 12 1-2 1-1 1-9 1 13 1 8 1-18 1 12 1-6 1-14 1 27 1-15 1 18 1 6 1-2 1-4 1-7 1-11 1-57 1 0 1-29 1 16 1 4 1-37 1 5 1 56 1 7 1-11 1-35 1-291 1 232 1-34 1 138 1 12 1 10 1-2 1 9 1-4 1-3 1 7 1 14 1-13 1 11 1 0 1 12 1-5 1 4 1 4 1-10 1 0 1-8 1 0 1 10 1 3 1-11 1 2 1-26 1 27 1 6 1-8 1 10 1-14 1 12 1 2 1-3 1 5 1 1 1-9 1 0 1-1 1-122 1 120 1 3 1 2 1 4 1 0 1-5 1-44 1 40 1-4 1 4 1 0 1-21 1-1 1-70 1-3 1 7 1-40 1 126 1 11 1-27 1-19 1 42 1-10 1-2 1 16 1-11 1 21 1 2 1-1 1-7 1-17 1 13 1-2 1-15 1 13 1 0 1-15 1-77 1 65 1 16 1-16 1 25 1 10 1-2 1-32 1-65 1 71 1-67 1-9 1 83 1 16 1-2 1 1 1 7 1 4 1-6 1 3 1-52 1 34 1 22 1-4 1 4 1-14 1-6 1-41 1-76 1 91 1 24 1 2 1 6 1-14 1 17 1 0 1-16 1-52 1 61 1 5 1 5 1-11 1-172 1 177 1-22 1 28 1-21 1-47 1 54 1 6 1-5 1-38 1 30 1-36 1 21 1 25 1-143 1 138 1 20 1-19 1-53 1 44 1-43 1-258 1 277 1-40 1 78 1-18 1 28 1 3 1-3 1 9 1-12 1 1 1 5 1 1 1-2 1-29 1 15 1-19 1 17 1 16 1 6 1-5 1-13 1-22 1 31 1-15 1 19 1 4 1-2 1-10 1-2 1 18 1-9 1 4 1 4 1-6 1-32 1 23 1 5 1-25 1 29 1-1 1-8 1-21 1 18 1 2 1-15 1-68 1 61 1 29 1 1 1-3 1 12 1-4 1-5 1-8 1 5 1 1 1-2 1-3 1 11 1-17 1-23 1 32 1-6 1-9 1-22 1 3 1 25 1 7 1-15 1 9 1 1 1-4 1 4 1-26 1 17 1 5 1-1 1-100 1 99 1-1 1 0 1-2 1-5 1-15 1 24 1-2 1 2 1 0 1-6 1-41 1 37 1-5 1 10 1-10 1-15 1-10 1-203 1 218 1 10 1 5 1-7 1 1 1-9 1 12 1-4 1-16 1-171 1 167 1 13 1 7 1-10 1-27 1 23 1-243 1 232 1 19 1 2 1-12 1 9 1-3 1-17 1-15 1 28 1 5 1-8 1 13 1-5 1-5 1-15 1 24 1-19 1 1 1-11 1 17 1-12 1-28 1 19 1-22 1-112 1-827 1 851 1 90 1 26 1 2 1-19 1 20 1-13 1-1 1-17 1 19 1-9 1 0 1 12 1-8 1-1 1-1 1-14 1 6 1-9 1 8 1-18 1-115 1 95 1-14 1 4 1-407 1 388 1 36 1-22 1-184 1 192 1 17 1-8 1 3 1-5 1-5 1-17 1-3 1 17 1 0 1 3 1-1 1-21 1 4 1-2 1 3 1 0 1 3 1-7 1-16 1-62 1 62 1-7 1 14 1-33 1 15 1-29 1 20 1-1 1 10 1 0 1-11 1 0 1 7 1 4 1-13 1 8 1-14 1 7 1-29 1 23 1-14 1-5 1 13 1-14 1 11 1 1 1-17 1-37 1 26 1-23 1 10 1-36 1 4 1 1 1-55 1 29 1-25 1-168 1-534 1 455 1 220 1-42 1-92 1-541 1 569 1 118 1 1 1-158 1-530 1 551 1 106 1-28 1-11 1-551 1 552 1 36 1 40 1-94 1-601 1 610 1 92 1 18 1-143 1-577 1 634 1 112 1 23 1 16 1 10 1-7 1 7 1 11 1 1 1-9 1-108 1 116 1-4 1 36 1 11 1-13 1 16 1 21 1-1 1 11 1 8 1-11 1 13 1-5 1-30 1 26 1-5 1-25 1 28 1 8 1-11 1 2 1 9 1 1 1-11 1 8 1-5 1-23 1-313 1 313 1 4 1-47 1-333 1 352 1 30 1-3 1-75 1 55 1-44 1 59 1 19 1 4 1-9 1 18 1-25 1 24 1 1 1-7 1-2 1-4 1-51 1-318 1 277 1 45 1 24 1 23 1-40 1 31 1 7 1-10 1-1 1 1 1 1 1-7 1-11 1-4 1-73 1-4 1 56 1 29 1 7 1-2 1-6 1-9 1-4 1 15 1-17 1 21 1-15 1-12 1-91 1 87 1 2 1-9 1-18 1 30 1 11 1-9 1-45 1-68 1-720 1 709 1 74 1 12 1-118 1-677 1 715 1 118 1 32 1 1 1 16 1 3 1 9 1-11 1 18 1-11 1 9 1 4 1-5 1 6 1-1 1-15 1 13 1-2 1 7 1-6 1 3 1 7 1-4 1 7 1-5 1-17 1-25 1 34 1 9 1-6 1-7 1-12 1 22 1-12 1 17 1-29 1-1 1-353 1 340 1-50 1 79 1 11 1-1 1 12 1 0 1-7 1-11 1 4 1 12 1-20 1 18 1 3 1-10 1 12 1-7 1 10 1 3 1 2 1-5 1-3 1 0 1-1 1-4 1-17 1 9 1 6 1-6 1-10 1 4 1 5 1-26 1 17 1-5 1-20 1 9 1-1 1 1 1 3 1-32 1 26 1 4 1 4 1-8 1 4 1-1 1-6 1-12 1 7 1-24 1 21 1-11 1-19 1-3 1-13 1 22 1 37 1 5 1 6 1-3 1-15 1 19 1 4 1 15 1-4 1 7 1-3 1 5 1 0 1 5 1 2 1-4 1-17 1 12 1-1 1-23 1 8 1-24 1-81 1 83 1 32 1-3 1 3 1 6 1 6 1-18 1 22 1-3 1-1 1-5 1-4 1 4 1-22 1 20 1-11 1 14 1-11 1-10 1-15 1 17 1-58 1 63 1 10 1 2 1-23 1-31 1 20 1 8 1 11 1-13 1-29 1-363 1 332 1 15 1-50 1-162 1-629 1 638 1 127 1 11 1-86 1-690 1 654 1 87 1 14 1-18 1-249 1 266 1 44 1 1 1-12 1-78 1-709 1 723 1 106 1 22 1-5 1-25 1 55 1 14 1 15 1-4 1-5 1-10 1 0 1 12 1-26 1 20 1-14 1 19 1 1 1-42 1 7 1-28 1-580 1 572 1 41 1 6 1-71 1-803 1 804 1 65 1-2 1 19 1 0 1 7 1-5 1 9 1 1 1-12 1 10 1 2 1 4 1-5 1-4 1 3 1-3 1 8 1 1 1-1 1-20 1-11 1 24 1-13 1 13 1-14 1 1 1 9 1 3 1-36 1-38 1 31 1 22 1-52 1 49 1 28 1 8 1-23 1 15 1-8 1 13 1-2 1-14 1 10 1-13 1-16 1-2 1 29 1 18 1-11 1 5 1-2 1-12 1 12 1-3 1-5 1-26 1 9 1 4 1-8 1-23 1 4 1 10 1-33 1-256 1 223 1-9 1-1 1-269 1 255 1 16 1-3 1 7 1 0 1-19 1 49 1 2 1-70 1 91 1 23 1 5 1 7 1-235 1 249 1-3 1 44 1-3 1 10 1 31 1-5 1 28 1 2 1 4 1-6 1-2 1-59 1-51 1 83 1 22 1 7 1-8 1-33 1-71 1 75 1 30 1 12 1 15 1-27 1 22 1 6 1-32 1 25 1-3 1 2 1 11 1 2 1 1 1 1 1-19 1-45 1 53 1 5 1-25 1-325 1 287 1-114 1-845 1 856 1 145 1 17 1-13 1 27 1-2 1-36 1-55 1-797 1 777 1 57 1-142 1-834 1 878 1 150 1 29 1-24 1 5 1 21 1 1 1 5 1 5 1-29 1-10 1-9 1-74 1 100 1 26 1-3 1 9 1-3 1-3 1-41 1 39 1 2 1-22 1-10 1 27 1 6 1-2 1-10 1-4 1-37 1-176 1 178 1 17 1 27 1 4 1 0 1 10 1-3 1-8 1-14 1-51 1-117 1 84 1-127 1-846 1 766 1 146 1-38 1-681 1 655 1 60 1-94 1-814 1 840 1 85 1-138 1-787 1 825 1 104 1-175 1 136 1-48 1 144 1 49 1 23 1-10 1 2 1 6 1-9 1-136 1 129 1 15 1-3 1-1 1-1 1-24 1-103 1 110 1-1 1-24 1-45 1-284 1 270 1 28 1-118 1 123 1 0 1-4 1-25 1-100 1 90 1 15 1-13 1-15 1-303 1 224 1 59 1-8 1 17 1 2 1 10 1-7 1-31 1-7 1-376 1 361 1-7 1-112 1 74 1-171 1 138 1 28 1-82 1-95 1-644 1 644 1 100 1-8 1-566 1 580 1 24 1-135 1-639 1 670 1 104 1-136 1-638 1 661 1 76 1-88 1-649 1 614 1-266 1 438 1-64 1 107 1 31 1 63 1 28 1 8 1-32 1-372 1 402 1 54 1 20 1 7 1-93 1 122 1 10 1 7 1-12 1 11 1-21 1 25 1 0 1 6 1-1 1 4 1 5 2 0 1-8 1-4 1 15 1 2 1-17 1 22 1 0 1 4 1 4 1 3 1 2 1 0 1 2 1 0 1 2 1 0 1 1 1-1 1 2 1-5 1-4 1 7 1-4 1 6 1 1 1-2 1 1 1 2 1 0 1-2 1 4 1 0 1 2 1-2 1 1 1 1 1 3 1-3 1-1 1 1 1 1 1 4 1-12 1 7 1-10 1 8 1 4 1 0 1 3 1-5 1 4 1-4 1 5 1 3 1-20 1 21 1 5 1 0 1-14 1 18 2 0 1-1 1-11 1-108 1-68 1 172 1 19 1 3 1 3 1 0 1 4 1 2 1-3 1 2 1-1 1-9 1 9 1-13 1 17 1-11 1 7 1-1 1 3 2 0 1 1 1 1 1-3 1 2 1 1 1-6 1 3 1 1 1 1 1 0 1-6 1 2 1 3 1-1 1 2 1-3 1 3 1 2 1-7 1 5 1 2 1-7 1 6 1-3 1 1 1-2 1-1 1-1 1-1 1 2 1 3 1-10 1 8 1 0 1 1 1 0 1-2 1 3 1 2 1-8 1 2 1-3 1 5 1-1 1-2 1 4 1 2 1-2 1-1 1 1 1-9 1-4 1 16 1-3 1-2 1 2 1 2 1 1 1-4 1-4 1-8 1 13 1 0 1 2 2 0 1-11 1 11 1-6 1 2 1 2 1 2 1-1 1-2 1-17 1 16 1 1 1 1 1 2 1-7 1 0 1 5 1 2 1-5 1 3 1 0 1 1 1 0 1 1 1-1 2 0 1 2 1-2 1-15 1 15 1-3 1-1 1 4 1-1 1-1 1-2 1 7 1-2 1-10 1 10 1 2 1-5 1 1 1-7 1 4 1 3 1-1 1-2 1 5 1-3 1 3 1 0 1 2 1-7 1 4 1-9 1 11 1-1 1 1 1-7 1 7 2 0 1-4 1 0 1 4 1-9 1 8 1-2 1-19 1 21 1-1 1 0 1-1 1 3 1-3 1 2 1 1 1-3 1 1 1 2 1-3 1 2 1 0 1 1 1-1 1 0 1-2 1-5 1 6 1 2 1-2 1-1 1 1 1 2 1-10 1 9 2 0 1-2 1-3 1 5 1-2 1 0 1 1 1 2 1-2 2 0 1-5 1 8 1-1 1-3 1 1 1-1 1-5 1 3 1 3 1-1 1-1 1 5 1-2 1 1 1 1 1-2 1-1 1-2 1 2 1-2 1 2 1 1 1-1 1 1 1 1 1-1 1-1 2 0 1-6 1 6 1-6 1 8 1-2 1 1 1-2 1 2 1 0 1-2 1 2 1 0 1-1 1 3 1-7 1 2 1-15 1 16 1 1 1 2 1-1 1 1 1-1 1-1 1-1 1 1 1 0 1-8 1 6 1 1 1 2 1-7 1 0 1 6 1 1 1-1 1 0 1-1 1-3 1 0 1-1 1-6 1 6 1 2 1-4 1 6 1-2 1 3 1-11 1-1 1 11 1 2 1 0 1-3 1 3 1-1 1 2 1-8 1 9 1-1 1-1 1 1 1-3 1-1 1 6 1-4 1 1 1 1 1 1 1-2 1 2 1 1 1-3 1-16 1-1 1-9 1-60 1-60 1-167 1-150 1-133 1-120 1-120 1-120 1-120 1-94" stroke="#99cc00"/>
<path d="M25 2471l1 9 1 2 1 4 1 2 1 6 1 2 1-1 1 5 1-8 1 9 1 8 1 10 1 7 1-2 1 11 1 4 1-12 1-1 1-20 1-2 1-12 1-5 1-20 1-96 1-73 1-80 1-95 1-81 1-90 1-71 1-80 1-88 1-84 1-95 1-79 1-75 1-60 21 0 1 1273 29 0 1-5 1-9 1-8 1-13 1-16 1-7 1-16 1-2 1-24 1 5 1-18 1-21 1 21 1-2 1-3 1-4 1-7 1-7 1 10 1 6 1-6 1 1 1-13 1 0 1 1 1 1 1-10 1 13 1-3 1-13 1-12 1 27 1-12 1 8 1-4 1-8 1 6 1-9 1 11 1-12 1 9 1-13 1-26 1 29 1-12 1 11 1-2 1 2 1-11 1 6 1 2 1-9 1 4 1 2 1-2 1-10 1 0 1 6 1-5 1 2 1-8 1-15 1 14 1-1 1-13 1-213 1 212 1 8 1 1 1-15 1-182 1 186 1 6 1-4 1-12 1 17 1-19 1 21 1 0 1 1 1-13 1 5 1 0 1-12 1-1 1 8 1 2 1-10 1-13 1 12 1 1 1 7 1-7 1 2 1-25 1 22 1-19 1-133 1 141 1 10 1-1 1-1 1 4 1-4 1-1 1-4 1 3 1 8 1-17 1 7 1 2 1 4 1-4 1 0 1-14 1-13 1 24 1-7 1 1 1-13 1 13 1-4 1 4 1-24 1 23 1 3 1-17 1-17 1 33 1-5 1-30 1 28 1 3 1-7 1 9 1-13 1 3 1 10 1-3 1-1 1 1 1-4 1 0 1-8 1 10 1-3 1 2 1-8 1 3 1-16 1-7 1 25 1-6 1 7 1-11 1 10 1-2 1-9 1-4 1 9 1-7 1-1 1 2 1 0 1-9 1-101 1 97 1-3 1-32 1 24 1-124 1 117 1-50 1 57 1-30 1-72 1 85 1 28 1 2 1 2 1 1 1-6 1 4 1 3 1-1 1-5 1-10 1 8 1 3 1 2 1-23 1 10 1-1 1 3 1-8 1 2 1 5 1-16 1 10 1 4 1 2 1-8 1 3 1 1 1-5 1 3 1 0 1-24 1-68 1 74 1 14 1-32 1 33 1 2 1-4 1-2 1-1 1-2 1-5 1-2 1-5 1 16 1-6 1-2 1-13 1 7 1-27 1 27 1-2 1 13 1-5 1-11 1 0 1-40 1 42 1-5 1 3 1-1 1 7 1-2 1-7 1-6 1-19 1 15 1 15 1-8 1 4 1-11 1 1 1 5 1 2 1-39 1 31 1-1 1 4 1-3 1 1 1 0 1-4 1 6 1-23 1 24 1-7 1-18 1-12 1 3 1 20 1-10 1 10 1 1 1-3 1-16 1 16 1 4 1 6 1-2 1-4 1-5 1-45 1 18 1 0 1-167 1 170 1 10 1-61 1 42 1-159 1 164 1 21 1 0 1-4 1 4 1 8 1-7 1 6 1-3 1-18 1 21 1-17 1 9 1-20 1 16 1 0 1-22 1-158 1 86 1 17 1 47 1 5 1 16 1 5 1-7 1 8 1 4 1 1 1-1 1-1 1-22 1-7 1 11 1 19 1-4 1-7 1-26 1 0 1-50 1 53 1 20 1 0 1-22 1-57 1 54 1 29 1-4 1-9 1-25 1 26 1 5 1 8 1-6 1-16 1-42 1 35 1 6 1-30 1-3 1-3 1 28 1 8 1-4 1-1 1-14 1-24 1-42 1 41 1 25 1-41 1 40 1-6 1 10 1-10 1 4 1-6 1-10 1 6 1 6 1-15 1-6 1 7 1-14 1-8 1-84 1 83 1 9 1 3 1-8 1-16 1-13 1 34 1 5 1-4 1-24 1-35 1-11 1 31 1 13 1-38 1-375 1 359 1 49 1 8 1-9 1-5 1-31 1-115 1 116 1 30 1 6 1-23 1 21 1-8 1-8 1-20 1-61 1-222 1 264 1-15 1 26 1-34 1 26 1-33 1 20 1 25 1-9 1-255 1 255 1 17 1-1 1-4 1-47 1-19 1 54 1-12 1-61 1-160 1 138 1 42 1-62 1 26 1-109 1 105 1 75 1-27 1-5 1 71 1-4 1-33 1-221 1 200 1-66 1-189 1-130 1 67 1 170 1 96 1-120 1 116 1-163 1 174 1 28 1-3 1-13 1-104 1-36 1 97 1 22 1-111 1-313 1 383 1 61 1-5 1-37 1-364 1 351 1 8 1-75 1-402 1 399 1-24 1-342 1-139 1 332 1 192 1 11 1 26 1-131 1 122 1 37 1 15 1 5 1-4 1 8 1-16 1-63 1 67 1 22 1-21 1-168 1 172 1 36 1 2 1-3 1 13 1 8 1 1 1-9 1-2 1-10 1-5 1-14 1 48 1-6 1-21 1-20 1-73 1 70 1-174 1 188 1 11 1 38 1-17 1 24 1-32 1 50 1-3 1 11 1-8 1-93 1-27 1-659 1 697 1 80 1 18 1-6 1-1 1-244 1 227 1 1 1 32 1 15 1-4 1-55 1 59 1-8 1 20 1 10 1 6 1-30 1-81 1 90 1-6 1-73 1 93 1 15 1-24 1 27 1-20 1-69 1-86 1 125 1 38 1-22 1 48 1 1 1-20 1 24 1 8 1 15 1-19 1 18 1-13 1 11 1-6 1-167 1-95 1 251 1-29 1-75 1 110 1 19 1-4 1-45 1-56 1-39 1 97 1 41 1-22 1-116 1-54 1 186 1 0 1-69 1 84 1 21 1 14 1-2 1-29 1-8 1-22 1-79 1 120 1-14 1-173 1 191 1-13 1 34 1 12 1-22 1 28 1 3 1-12 1 21 1 1 1-5 1-3 1-4 1-13 1-73 1 66 1 18 1-8 1 17 1 4 1 0 1-16 1-1 1-36 1-46 1 67 1 17 1-40 1 49 1 13 1-15 1 6 1-42 1 41 1-217 1 232 1 14 1 8 1-14 1-81 1 93 1 13 1-24 1 24 1-6 1 2 1-24 1-28 1 11 1-17 1 35 1 20 1-11 1-34 1 23 1 34 1 0 1-2 1-14 1 11 1 5 1 2 1 3 1-1 1-6 1 0 1-2 1 5 1-9 1 5 1-2 1 6 1-13 1 5 1-16 1-37 1 51 1 7 1 0 1 3 1-23 1-5 1 3 1 17 1 9 1-7 1 4 1-3 1-12 1 12 1 6 1-2 1 5 1-21 1-19 1 7 1 18 1-8 1 11 1 5 3 0 1-7 1-164 1 146 1 20 1-11 1 6 1-12 1-180 1 188 1 9 1 9 1-1 1 1 1 4 1-19 1 9 1 5 1 1 1 1 1-6 1 6 1-2 1-31 1 18 1-14 1 19 1 2 1-20 1-5 1-159 1 174 1 7 1 7 1-2 1 9 1 0 1-7 1-1 1-11 1 13 1-19 1 18 1 0 1-6 1-12 1 12 1-1 1-25 1 30 1 5 1-2 1-2 1-21 1 23 1 1 1 6 1 2 1 0 1-7 1 0 1 2 1-3 1-76 1 80 1-3 1 4 1-1 1-10 1-41 1 40 1-5 1-216 1 210 1 24 1 0 1-8 1 5 1-19 1 17 1-16 1 17 1-10 1 8 1-9 1-5 1 1 1 13 1 1 1 4 1-1 1 2 1 9 1-7 1-20 1 23 1 4 1-5 1-5 1-4 1-5 1-38 1-139 1 120 1 6 1-64 1 24 1 35 1 15 1 16 1-7 1-53 1-179 1 179 1-120 1 171 1 10 1 3 1 10 1-6 1-3 1 10 1 9 1 6 1-8 1 6 1-12 1 18 1-12 1 12 1-10 1 15 1-3 1-18 1 9 1 4 1 4 1 6 1-9 1-19 1 17 1 8 1-6 1 3 1-15 1-10 1 27 1 6 1-1 1-8 1-11 1 10 1 8 1-80 1 68 1 7 1-4 1 13 1-3 1-22 1-45 1 55 1 7 1-7 1 2 1-3 1-20 1-50 1-25 1 55 1-155 1 196 1-1 1 4 1-39 1 38 1-11 1-13 1 31 1-2 1 14 1-3 1-8 1-9 1-17 1 21 1 1 1-34 1 24 1-3 1-38 1-37 1 77 1 8 1-23 1 24 1 1 1-4 1-52 1-93 1 124 1-76 1-15 1 86 1 36 1-3 1 2 1 4 1-1 1-9 1 3 1-30 1 24 1 11 1-6 1-6 1 0 1-7 1-19 1-69 1 80 1-2 1 19 1-5 1 14 3 0 1-36 1 32 1 2 1-2 1-43 1-265 1 293 1 12 1 13 1-31 1-75 1 90 1-12 1 4 1 1 1-1 1-4 1 17 1-4 1-44 1 52 1-12 1 2 1-37 1 16 1-42 1-10 1 47 1 0 1 32 1 9 1 1 1 3 1-12 1 12 1 0 1-12 1 7 1-12 1 7 1-22 1-37 1 49 1 3 1 1 1 6 1 7 1-6 1-11 1 13 1 1 1 1 1 6 1-8 1-30 1 31 1 6 1-2 1-2 1 4 1 0 1-22 1 18 1 3 1-19 1 17 1 1 1-8 1-41 1 20 1 17 1-17 1-57 1 67 1 13 1-33 1 41 1-12 1 8 1-2 1-6 1-19 1 19 1-1 1 1 1 6 1-2 1-11 1 11 1-13 1 0 1-28 1 23 1 6 1 3 1 1 1 1 1 1 1-2 1 4 1-11 1 7 1-9 1 11 1-72 1 64 1-4 1 8 1-12 1 4 1-7 1 11 1-1 1-1 1-14 1-6 1-36 1 41 1 9 1 3 1-2 1-6 1-16 1-75 1 94 1-8 1 12 1 1 1-4 1-8 1 7 1 7 1-14 1-70 1 56 1 14 1 2 1-3 1 0 1-4 1-156 1 145 1 18 1-25 1-10 1 18 1 6 1-14 1-65 1 64 1 6 1-8 1 16 1 2 1-7 1-21 1-13 1 42 1-20 1 8 1 5 1-22 1-19 1 17 1-10 1-92 1-870 1 872 1 77 1 31 1 0 1-4 1 6 1-5 1 3 1-4 1-1 1-7 1-11 1 11 1-23 1 21 1-30 1 26 1-10 1-8 1 1 1-23 1-258 1 245 1 11 1-24 1-511 1 517 1 20 1-12 1-166 1 176 1 10 1-9 1 9 1-5 1-23 1-8 1-31 1 58 1 2 1-6 1 0 1-30 1 11 1 9 1-9 1-14 1 13 1-7 1-6 1-57 1 50 1-1 1 3 1-34 1 23 1-63 1 58 1-3 1 13 1-4 1-13 1 12 1-4 1 7 1-11 1 4 1-6 1 0 1-16 1-17 1 23 1-3 1-10 1-5 1 2 1 0 1-33 1-24 1 32 1-2 1 2 1-104 1 64 1 19 1-46 1 31 1 2 1-99 1-674 1 520 1 209 1-11 1-32 1-508 1 539 1 39 1-11 1-88 1-499 1 484 1 106 1-8 1-74 1-481 1 488 1 21 1 33 1-60 1-667 1 675 1 92 1 3 1-80 1-662 1 685 1 63 1 22 1-10 1 29 1-17 1 5 1 2 1 15 1-18 1-133 1 141 1 19 1 26 1 17 1-17 1 22 1 7 1 3 1 7 1 6 1-10 1 14 1-16 1-62 1 59 1 2 1-28 1 32 1 5 1 3 1 5 1-1 1-3 1 1 1 1 1-7 1-24 1-274 1 276 1 9 1-40 1-153 1 161 1 32 1-16 1-86 1 46 1 1 1 56 1-7 1-5 1-14 1 37 1 2 1 0 1 1 1-11 1-2 1-5 1-43 1-351 1 343 1 12 1 41 1 10 1-12 1 6 1 1 1-20 1 13 1 0 1 1 1-1 1-25 1 4 1-32 1-54 1 79 1 17 1 6 1-4 1-20 1 4 1 6 1 9 1-32 1 3 1 8 1 8 1-62 1 57 1 9 1-20 1-39 1 44 1 13 1-5 1-18 1-90 1-747 1 737 1 75 1 27 1-70 1-769 1 776 1 91 1 18 1 12 1 3 1 6 1-24 1-11 1 44 1 6 1-2 1 1 1-2 1-2 1 7 1-2 1-2 1-4 1 12 1-11 1 3 1 4 1-12 1 14 1-1 1-14 1-22 1 25 1 8 1 7 1-10 1-24 1 27 1 1 1 8 1-17 1-18 1-224 1 218 1 3 1 17 1 13 1 11 1-5 1 8 1-17 1-18 1 30 1 4 1-4 1 9 1-5 1-19 1 25 1-10 1 12 1 4 1 4 1-9 1-1 1 0 1-13 1-3 1-20 1 13 1 1 1-15 1-30 1 26 1-5 1 16 1-10 1-4 1-11 1-4 1-10 1 7 1 5 1-6 1 4 1-4 1 3 1-2 1-7 1-6 1 1 1-9 1-8 1-32 1 26 1 11 1 9 1-2 1-8 1 21 1 8 1-9 1 18 1-2 1-17 1 27 1 2 1 13 1 1 1 6 1-3 1 3 1-2 1-8 1 14 1-6 1-13 1 10 1-4 1 4 1-15 1-6 1-5 1 27 1 4 1 1 1 2 1 2 1-16 1 5 1 2 1-6 1 11 1-11 1-30 1 32 1-23 1 25 1 11 1-1 1-18 1 15 1-25 1 4 1-60 1 66 1 13 1 1 1-6 1-14 1-3 1 3 1-51 1 35 1-67 1-723 1 694 1 53 1-13 1-45 1-548 1 527 1 34 1-31 1-151 1-616 1 468 1 249 1 36 1-14 1-257 1 285 1 35 1 4 1-7 1-94 1-705 1 714 1 117 1 31 1-1 1-74 1 94 1 25 1-6 1-15 1 22 1-11 1 11 1-9 1 6 1-3 1 4 1-25 1 1 1-59 1 47 1-66 1-711 1 730 1 49 1-1 1-88 1-782 1 778 1 87 1 11 1 11 1 23 1-5 1 2 1 1 1-4 1-30 1 28 1 10 1-1 1-3 1 2 1-10 1 14 1 0 1-4 1-7 1 9 1 3 1-27 1 10 1 6 1-13 1 16 1-10 1 1 1-33 1-64 1 54 1-6 1-102 1 107 1 45 1 12 1 3 1-10 1-16 1 30 1-8 1 5 1-30 1 18 1-44 1-42 1 74 1 19 1 0 1-4 1 7 1-21 1 0 1 20 1-7 1-17 1 19 1 1 1-11 1-40 1 24 1-12 1-56 1-612 1 594 1 30 1 2 1-58 1 49 1-8 1-23 1 27 1-6 1-49 1 64 1-10 1-274 1 310 1 30 1 17 1-23 1-317 1 343 1 23 1 29 1 1 1 5 1 26 1-9 1 27 1 11 1-5 1 7 1-15 1-44 1-13 1 54 1 16 1-1 1-39 1-4 1-42 1 48 1 27 1 2 1-4 1-34 1 48 1 0 1-16 1 27 1 1 1-47 1 51 1 7 1 2 1-7 1-6 1-16 1 16 1 0 1-23 1-393 1 378 1-30 1-592 1 609 1 60 1 16 1-20 1 14 1-18 1-47 1-15 1-645 1 619 1 68 1-92 1-830 1 882 1 84 1 2 1 14 1-59 1 55 1 3 1 8 1-7 1-35 1-62 1 15 1-173 1 216 1 34 1 10 1 8 1-1 1-13 1-24 1 26 1 0 1-13 1 8 1-4 1 14 2 0 1-1 1-13 1-35 1 40 1-1 1 1 1-2 1 17 1 1 1-1 1-20 1-14 1-51 1-21 1 13 1-94 1-891 1 749 1 144 1-100 1-793 1 783 1 134 1-57 1-617 1 650 1 38 1-156 1-775 1 768 1 137 1-247 1 236 1-13 1 115 1 41 1 17 1-8 1-14 1 18 1-19 1-103 1 101 1 18 1-2 1 8 1-2 1-26 1-258 1 256 1 2 1 0 1-27 1-95 1 82 1-7 1-166 1 171 1 7 1-40 1-20 1-106 1 111 1 26 1-10 1-12 1-191 1 53 1 110 1-2 1 16 1 5 1 1 1-11 1-2 1-30 1-434 1 399 1-2 1-196 1 161 1-246 1 219 1 26 1-72 1 25 1-459 1 471 1 36 1-7 1-318 1 317 1 16 1-103 1-400 1 463 1-1 1-123 1-660 1 671 1 84 1-134 1-621 1 543 1-543 1 767 1 44 1 25 1 9 1 62 1 38 1 13 1-15 1-204 1 234 1 44 1 17 1 8 1-74 1 106 1 10 1 4 1 2 1 3 1-2 1 3 1-15 1 19 1 2 1-4 1 4 1 6 1-1 1-6 1 8 1 2 1 0 1-24 1 26 1 7 1 3 1-4 1 8 1 3 1 1 1-1 1-1 1 4 1-5 1 2 1-1 1 3 1 2 1-6 1-1 1-1 1 7 1 2 1-3 1 3 1 1 1-3 1 0 1 3 1-8 1-18 1 28 1-1 1 3 1 0 1-2 1 4 1-4 1-2 1-1 1 5 1-1 1 2 1-3 1 5 1-3 1 3 1-5 1 7 1 3 1 1 1 0 1-33 1 32 1 3 1 2 1 1 2 0 1 1 1-4 1-15 1-177 1 135 1 56 1 10 1 3 1-1 1-5 1 4 1 6 1 0 1-2 1-2 1-17 1 19 1 3 1-1 1-3 1-16 1 14 1-6 1 15 1-6 1 4 1-2 1-3 1 2 1 3 1-3 1 2 1 1 1-2 1-1 1 1 1 0 1 4 1-1 1-1 1 1 1-2 1-4 1-11 1 12 1 1 1 3 1-3 1 3 1-3 1 0 1 1 1 3 1-5 1 2 1-9 1 7 1 4 1-2 1 1 1 0 1-5 1 6 1 0 1-1 1 0 1 1 2 0 1-2 1 2 1 1 1-1 1-2 1 2 1 2 1-3 1-2 1 1 1-7 1 7 1 1 1-2 1 1 1-3 1-2 1 5 1 3 1-4 1-1 1 5 1-9 1 1 1 2 1 6 1 0 1-1 1 3 1-1 1-1 1 0 1-1 1-1 1-8 1 7 1 4 1-4 1-20 1 20 1 0 1 4 1-7 1 3 1-16 1 20 1-6 1 5 1-2 1-1 1-1 1 3 1-19 1 18 1 1 1 2 1-2 1-1 1-1 1 1 1 1 1-2 1 1 1 2 1 1 1-1 1 1 1-2 1 2 1 0 1 1 1-2 1-1 1 4 1-3 1 0 1-1 1 0 1-1 1 1 1-1 1-1 1-1 1 0 1-1 1 3 1-1 1 0 1 3 1-2 1 3 1-2 1 3 1-4 1 4 1-6 1 4 1 0 1-9 1 9 1 0 1-1 1 0 1-6 1 10 1-4 1 0 1-2 1 2 1-5 1 7 1 2 1-2 1 0 1 2 1-3 1-2 1 0 1-2 1 5 1 0 1-1 1 0 1-2 1 2 1 2 1-2 1-1 2 0 1-5 1 2 1 4 1 1 1-2 1 2 1-1 1 1 1-13 1 12 1-1 1 2 1-1 1-1 1 2 1-2 1 1 1 4 1-6 1 1 1 1 1 0 1-3 1 4 1-3 1 2 1-8 1 7 1-3 1 5 1-1 1 0 1 3 1-5 1 3 1 0 1-2 1 0 1-1 1-2 1 2 1 2 1 0 1-1 1 1 1 0 1-16 1 17 1-6 1 3 1 0 1-5 1 7 1-1 1-2 1-4 1 8 1-1 1-8 1-5 1-2 1 16 1-1 1-4 1 5 1 2 1-3 1 0 1 2 2 0 1-2 1-13 1 15 1 0 1-3 1 4 1-3 1 2 1-2 1 0 1-2 1 4 1-1 1 1 1 0 1 1 1 0 1 2 1-5 1 2 1 1 1 0 1-3 1 3 1 0 1-6 1 1 1 3 1-4 1 4 1 1 1-3 1-7 1-9 1-8 1-60 1-60 1-167 1-150 1-133 1-120 1-120 1-120 1-120 1-93" stroke="#ffcc00"/>
<path d="M25 2432l1 9 1 2 1-9 1 4 1 0 1 5 1-7 1 14 1 2 1-7 1-5 1 22 1 12 1 1 1 2 1 11 1-6 1-10 1-20 1-4 1-9 1-5 1-6 1-63 1-79 1-79 1-75 1-80 1-86 1-79 1-76 1-81 1-78 1-87 1-80 1-80 1-68 1-17 20 0 1 797 1 476 21 0 1-18 1-12 1-22 1-18 1-10 1-20 1-20 1-14 1-41 1 20 1-30 1 19 1-2 1-1 1-6 1-3 1-1 1 3 1-9 1 2 1 3 1-5 1-3 1-4 1 0 1 11 1 0 1-9 1 7 1-1 1-14 1 12 1 6 1-8 1-39 1 28 1 11 1-5 1 4 1 2 1-2 1-30 1 24 1-2 1 1 1-3 1 12 1-33 1 29 1-1 1-16 1 10 1 1 1-6 1-5 1-23 1 34 1-11 1 5 1-5 1-2 1 4 1-13 1 8 1-5 1 4 1-6 1-2 1-3 1 6 1-1 1-28 1-198 1 202 1 15 1-5 1-17 1-159 1 162 1 16 1-1 1 4 1-15 1 15 1-4 1 5 1-14 1 11 1-1 1-3 1-1 1-6 1 7 1-3 1-4 1-5 1 1 1 1 1-5 1 12 1-2 1-5 1-7 1-6 1-24 1 31 1-2 1 1 1 1 1 0 1-8 1-2 1-9 1 9 1-1 1 2 1-12 1 9 1 0 1-4 1-1 1-7 1 5 1-3 1-31 1 31 1-25 1 20 1-4 1 4 1-5 1 11 1-14 1 7 1 0 1-3 1 0 1-64 1 61 1-5 1-17 1 17 1-7 1 4 1 4 1-10 1 7 1 1 1-1 1-9 1 0 1 6 1-12 1 8 1-2 1-14 1 10 1-1 1 7 1-10 1 3 1-25 1 23 1-1 1-5 1 5 1-2 1-15 1 8 1-11 1-12 1 15 1-54 1 46 1-5 1-47 1 5 1-246 1 266 1-33 1 51 1-12 1-64 1 65 1 22 1-4 1-27 1 7 1 20 1-2 1 7 1 2 1-10 1 6 1-2 1-2 1-2 1 3 1-1 1-2 1-5 2 0 1-1 1-4 1-6 1 3 1-4 1 1 1 2 1 2 1-12 1 3 1 10 1-19 1-143 1 136 1 18 1 0 1-3 1-12 1-4 1 13 1-6 1 7 1-2 1 2 1-10 1 5 1 1 1 3 1-4 1-6 1 8 1-7 1-6 1 2 1-7 1 4 1-9 1-26 1 27 1-1 1 5 1-9 1 20 1-6 1 1 1-8 1-5 1-13 1 19 1 7 1-11 1 2 1-13 1 11 1-9 1-9 1 4 1 6 1 1 1-23 1 25 1 3 1-7 1-1 1 2 1-11 1 6 1-13 1-10 1 5 1-5 1-4 1 20 1-41 1 41 1-17 1 14 1 3 1-12 1-5 1 19 1-11 1-5 1-8 1 5 1-60 1 61 1-5 1-63 1 18 1-97 1 96 1 38 1-2 1 6 1 2 1 0 1-4 1-2 1-2 1-1 1-1 1 2 1-2 1-11 1 4 1-8 1-26 1-180 1 41 1 137 1 10 1-65 1 69 1 1 1 15 1-12 1-1 1 10 1-5 1 0 1-9 1-13 1 3 1 13 1 5 1-12 1-19 1-9 1-33 1 48 1 3 1 11 1-6 1-41 1 38 1 12 1-3 1-3 1-10 1-4 1 10 1-10 1 7 1-21 1-1 1 12 1-2 1-35 1-30 1 44 1 5 1 12 1-11 1 7 1-9 1-16 1-22 1 34 1 2 1-27 1 27 1 0 1 1 1-18 1 16 1-5 1-16 1 15 1-17 1 1 1-65 1 58 1-23 1 16 1-38 1 37 1 20 1-4 1 2 1-17 1-21 1 23 1-2 1 10 1-16 1-23 1-38 1 42 1 7 1-60 1-591 1 585 1 66 1 7 1 4 1-19 1 14 1-28 1 24 1 7 1-10 1 4 1-1 1-1 1-18 1-10 1-60 1-217 1 266 1-30 1 35 1-15 1 12 1-21 1-15 1 38 1-7 1-222 1 224 1 12 1-1 1-13 1-14 1-63 1 47 1 15 1-68 1-218 1 187 1 86 1-39 1 38 1-72 1-23 1 88 1-58 1-106 1 159 1 44 1-49 1-131 1 116 1-81 1-173 1 11 1-140 1 178 1 166 1-107 1 92 1-152 1 153 1 54 1-6 1-42 1-55 1 36 1 24 1-13 1-111 1-436 1 505 1 54 1 0 1-47 1-425 1 413 1 25 1-50 1-377 1 383 1-3 1-179 1-216 1 235 1 140 1 15 1 1 1-304 1 270 1 67 1 32 1 7 1-12 1 20 1 2 1-53 1 55 1 9 1-12 1-82 1 85 1 30 1 0 1-8 1 25 1 7 1-6 1 9 1-6 1-46 1 34 1-27 1 51 1-1 1 21 1-13 1-23 1-40 1-287 1 285 1 26 1 55 1-40 1 46 1-48 1 80 1 3 1 4 1-11 1-98 1-109 1-471 1 625 1 70 1 12 1-4 1-5 1-232 1 176 1-102 1 143 1 35 1 10 1-25 1 28 1-2 1 13 1-16 1 27 1-21 1-63 1 61 1-15 1-59 1 74 1 25 1-18 1 9 1-15 1-77 1-38 1 99 1 41 1-35 1 50 1-26 1 19 1 3 1 27 1-1 1-7 1 0 1-4 1 2 1-19 1-410 1 122 1 300 1-19 1 16 1 36 1 0 1-3 1 3 1-39 1-62 1 46 1 47 1-14 1-97 1-120 1 219 1 46 1-53 1 62 1-6 1 22 1-7 1-23 1 4 1-87 1-153 1 208 1-21 1-5 1 52 1-149 1 157 1 32 1-21 1 36 1-17 1 21 1-1 1 7 1-2 1 5 1 0 1-13 1-39 1 48 1 0 1-36 1 42 1 10 1 5 1-6 1 6 1-15 1-100 1 91 1 17 1-39 1 54 1 4 1-5 1 4 1-56 1 54 1-64 1 75 1 7 1 4 1-16 1-239 1 237 1 24 1-9 1 19 1-3 1 0 1-9 1-45 1 16 1-62 1 76 1 30 1-19 1-31 1 46 1 17 1-1 1 2 1-1 1 3 1-2 1 1 1 2 1-16 1 10 1-3 1-3 1 9 1-36 1 36 1-7 1-15 1 16 1-10 1 2 1-40 1 41 1 11 1-11 1 11 1-1 1-32 1-2 1 29 1 2 1-4 1-2 1 5 1-24 1 17 1 7 1 3 1-5 1-1 1-20 1-7 1 13 1-11 1 11 1 10 1-5 1 8 1-18 1 2 1-220 1 202 1 28 1 5 1-4 1-10 1-208 1 203 1 16 1-13 1 14 1 4 1-2 1 0 1-13 1 9 1-12 1-16 1 16 1 10 1 3 1-5 1 0 1-5 1 3 1-4 1 8 1-15 1-56 1 58 1 8 1-3 1 6 1-1 1-3 1 5 1-5 1-6 1 14 1-3 1-2 1 1 1 0 1-8 1 10 1-25 1 16 1 7 1-5 1 8 1-4 1-13 1 16 1-1 1 5 1 0 1 3 1 2 1-10 1 1 1-2 1-122 1 120 1 10 1 2 2 0 1-22 1 15 1 0 1-116 1 111 1 4 1 9 1 2 1-5 1-18 1 13 1 12 1-2 1-22 1 19 1-14 1 12 1-3 1 15 1-2 1-21 1 7 1 7 1 1 1 11 1-18 1-3 1 20 1 1 1-4 1-2 1-19 1-31 1-175 1 141 1 5 1-36 1-25 1 33 1 34 1-6 1-5 1-28 1-63 1 30 1-67 1 137 1 23 1 8 1 0 1-5 1 14 1-10 1 19 1 4 1 2 1 11 1 11 1-28 1 20 1 3 1-9 1-5 1-5 1 9 1-16 1 16 1 9 1-6 1 4 1-14 1 6 1 8 1 4 1-6 1-30 1 24 1 0 1-3 1 23 1-12 1 5 1-2 1-14 1-200 1 195 1 20 1 1 1-1 1-4 1-31 1-81 1 80 1 32 1-9 1 11 1-2 1-8 1-19 1-64 1 62 1-169 1 193 1 5 1-1 1-34 1 38 1-12 1-16 1 21 1-6 1 17 1 10 1 3 1-22 1 19 1-2 1-8 1-34 1 20 1 18 1-59 1-35 1 80 1-1 1-25 1 33 1 1 1-7 1-21 1-40 1 54 1-46 1 2 1 63 1 5 1 5 1 6 1-11 1 6 1-1 1-1 1-31 1 19 1 12 1 2 1-3 1-9 1-7 1-19 1-59 1 70 1 21 1-17 1 23 1-1 1-9 1-15 1 27 1-38 1 36 1 4 1-5 1-17 1-354 1 354 1 10 1 2 1-19 1-69 1 66 1 9 1-21 1-20 1 30 1-27 1 42 1 11 1-27 1 38 1-5 1-4 1-17 1 13 1-20 1-165 1 148 1-41 1 75 1 14 1 0 1 3 1 3 1 3 1-4 1-19 1 15 1-3 1-4 1-45 1 4 1 10 1 20 1-6 1-3 1 29 1-22 1-1 1 16 1 2 1 12 1 1 1 1 1-14 1 7 1 6 1-7 1 9 1-2 1-1 1-27 1-14 1 26 1 4 1 0 1 3 1-7 1-15 1 10 1 3 1-14 1-98 1 95 1 8 1 16 1-4 1 3 1 2 1-13 1-18 1 16 1-3 1-5 1-5 1 11 1-7 1-24 1 24 1 2 1-2 1-29 1-12 1 24 1 15 1-2 1-5 1 2 1-1 1-4 1-4 1 0 1 8 1-4 1-50 1 49 1 7 1-7 1-1 1-9 1-24 1 16 1 7 1 1 1-2 1-3 1-23 1 20 1-11 1 10 1 4 1-2 1-17 1-40 1 50 1-8 1 12 1-9 1 3 1-15 1-8 1 12 1-9 1-125 1 122 1 2 1 3 1-11 1 14 1-10 1-25 1 38 1-10 1 7 1-31 1 13 1 2 1-19 1-58 1 56 1 14 1-13 1 19 1-5 1-11 1-14 1 24 1-8 1-14 1 1 1 13 1-4 1-48 1 31 1-21 1-107 1-738 1 745 1 101 1 10 1-4 1-22 1 26 1 0 1 6 1-20 1 17 1-8 1-21 1 20 1-2 1-4 1 1 1-12 1 2 1 0 1-11 1-27 1-421 1 399 1 20 1-11 1-336 1 342 1 8 1-18 1-215 1 223 1 12 1 2 1-5 1 3 1-10 1-22 1 8 1 3 1 0 1 7 1-8 1-39 1-11 1 32 1-15 1 11 1 1 1 7 1-15 1-42 1 35 1 6 1-34 1-18 1 33 1-56 1 54 1 0 1 10 1-3 1-10 1 7 1-4 1 0 1-3 1-2 1-15 1 10 1-6 1-10 1-3 1-1 1 7 1-13 1-3 1-5 1-27 1-85 1 74 1 8 1 7 1-113 1-14 1 88 1-1 1-25 1-10 1-131 1-454 1 351 1 205 1-17 1-147 1-392 1 466 1 119 1-4 1-161 1-420 1 434 1 132 1-43 1 3 1-513 1 487 1 21 1 56 1-65 1-512 1 511 1 95 1 7 1-128 1-485 1 540 1 81 1 18 1 23 1 2 1-12 1-27 1 30 1 12 1-21 1-78 1 91 1 26 1 19 1 7 1-7 1 14 1 12 1-3 1 11 1-1 1 1 1 0 1-7 1-38 1 41 1 10 1-35 1 34 1-2 1 8 1-11 1 19 1-11 1 13 1-5 1 1 1-29 1-453 1 453 1 22 1-29 1-245 1 258 1 31 1-2 1-11 1 12 1-35 1 40 1 11 1-21 1 26 1-3 1 3 1-47 1 36 1-6 1 10 1-8 1-68 1-365 1 368 1 12 1 55 1-8 1 22 1 0 1 2 1-26 1 21 1 8 1-5 1-8 1-21 1 6 1-52 1-86 1 117 1 21 1 4 1 8 1 0 1-9 1-6 1 14 1 1 1-30 1 22 1-22 1-75 1 74 1 6 1-2 1-34 1 35 1 5 1 5 1-10 1-66 1-393 1 412 1-2 1 4 1-113 1-589 1 607 1 109 1 7 1-4 1 13 1 9 1-2 1-1 1-1 1 8 1 1 1 4 1-1 1 3 1 8 1 3 1-2 1-8 1 16 1-2 1-10 1 17 1-14 1 17 1 0 1-2 1-27 1 31 1 11 1-12 1 14 1-35 1 37 1-19 1 19 1 16 1-29 1-368 1 366 1-27 1 41 1 19 1 20 1 3 1 4 1-7 1-18 1 27 1 2 1 2 1 7 1-10 1-47 1 49 1 16 1-1 1 2 1 8 1-17 1-7 1 10 1-13 1-3 1-32 1 25 1-6 1-3 1-47 1 29 1-4 1 9 1-6 1-1 1-15 1 2 1-10 1-5 1-13 1 3 1-1 1-2 1-3 1-2 1-8 1-8 1-3 1-6 1-7 1-33 1 27 1-6 1 2 1-34 1-17 1 62 1 18 1 7 1-10 1 15 1-12 1 20 1 5 1-2 1 8 1 9 1 6 1 3 1-3 1 8 1-4 1-6 1 5 1-3 1 1 1 0 1-15 1 6 1-31 1 30 1 18 1-8 1 4 1-54 1 49 1 7 1 10 1 4 1-1 1-10 1-39 1 29 1-4 1 23 1 0 1-5 1-13 1 21 1-30 1 22 1-29 1 21 1 9 1 4 1-4 1-45 1 15 1 17 1 1 1 3 1-53 1-422 1 398 1 18 1-63 1-124 1-550 1 538 1 122 1 2 1-124 1-538 1 428 1 157 1 33 1-99 1-519 1 557 1 94 1 21 1-7 1-56 1-599 1 615 1 68 1 17 1 0 1-59 1 70 1 15 1-2 1 5 1-8 1-37 1 32 1 14 1 5 1-9 1-2 1 6 1-24 1-34 1 11 1 2 1-439 1 439 1 38 1-2 1-32 1-425 1 417 1 42 1 3 1 9 1-18 1 23 1 6 1-15 1 10 1-26 1 25 1 11 1 1 1 2 1-29 1 27 1 6 1-11 1-16 1 25 1-4 1 9 1 0 1-11 1-9 1-22 1 13 1 8 1 15 1-11 1-29 1 31 1-17 1-70 1 72 1 34 1 10 1-3 1-6 1-12 1 16 1-10 1-36 1 42 1-1 1-21 1-21 1 43 1 8 1-3 1 4 1 1 1 1 1-5 1 2 1-15 1-27 1 33 1 4 1-9 1-48 1 20 1-19 1-95 1-628 1 605 1 45 1 9 1-105 1 76 1 1 1-3 1 8 1 12 1-22 1 36 1-11 1-325 1 381 1 43 1 2 1 0 1-377 1 404 1 42 1 25 1-5 1 27 1 25 1-1 1 40 1 5 1 2 1-10 1-8 1-48 1 30 1 18 1 9 1 2 1-31 1-93 1-41 1 76 1 67 1 2 1 5 1-24 1 29 1 5 1-13 1 16 1 10 1-9 1-1 1 22 1-9 1-4 1-19 1-85 1 82 1-4 1-18 1-577 1 574 1-10 1-662 1 677 1 68 1 2 1 10 1 7 1 2 1-41 1-38 1-656 1 623 1 88 1-34 1-466 1 503 1 49 1-13 1-4 1-60 1 63 1 20 1 0 1-10 1-14 1-43 1-22 1-162 1 192 1 45 1 19 1 7 1 9 1-5 1-13 1 15 1-14 1-5 1-8 1 18 1 7 1-3 1-27 1-9 1-92 1-206 1 227 1 31 1 62 1 1 1-29 1 42 1 1 1-14 1-17 1-41 1-100 1 38 1-135 1-765 1 588 1 177 1-125 1-640 1 626 1 149 1-111 1-664 1 713 1 118 1-102 1-729 1 758 1 110 1-330 1 277 1-32 1 157 1 40 1 19 1 6 1-21 1 1 1-46 1-308 1 312 1 35 1 7 1-7 1-14 1-18 1-371 1 357 1 12 1-27 1-34 1-250 1 212 1-1 1-311 1 338 1 21 1-11 1-13 1-73 1 61 1 4 1-15 1-23 1-370 1 266 1 84 1 6 1 11 1-14 1 2 1 4 1-6 1-40 1-391 1 371 1 5 1-157 1 142 1-107 1 76 1-12 1-96 1-58 1-538 1 557 1 116 1 5 1-184 1 175 1-33 1-249 1-387 1 584 1 119 1-29 1-402 1 404 1-38 1-105 1-533 1 513 1-305 1 503 1 1 1 14 1 14 1 79 1 48 1 18 1-15 1-249 1 292 1 37 1 27 1 20 1-7 1 47 1 5 1 0 1 5 1 0 1-9 1-1 1 17 1 6 1 3 1 0 1 6 1-1 1 2 1-15 1 18 1-2 1-1 1-62 1 67 1 2 1 10 1 4 1 1 1 1 1 2 1 3 1-8 1 10 1 1 1-1 1 2 1-3 1 6 1-1 1-1 1 5 1 0 1 1 1 2 1 2 1-6 1 6 1-1 1 3 1 2 1-9 1 9 1 1 1 2 1-1 1 2 1 2 1-3 1 4 1 0 1-11 1 15 1-1 1-14 1 18 1-10 1 14 1-1 1 1 1-1 1-3 1 4 1-43 1 44 1 4 1 3 1-3 1 4 1 1 1-2 1 0 1-7 1-97 1-68 1 157 1 20 1 2 1 2 1 5 1 1 1 1 2 0 1-3 2 0 1-7 1-7 1 19 1-3 1-7 1-2 1 13 1-2 1 2 1 0 1-2 1-7 1 8 1 0 1-4 1 0 1 5 1-3 1-2 1 6 1-15 1 16 1-1 1-1 1-3 1 2 1 2 1-6 1 5 1-4 1 1 1-3 1 5 1 0 1 3 1-2 1-6 1 6 1-3 1 3 1 4 1-2 1-2 1-6 1 8 1-2 1 0 1-2 1-1 1 2 2 0 1 3 1-3 1-6 1 4 1 4 1-2 1-4 1 5 1 1 1-1 1-3 1 4 1-1 1 1 1-1 1-5 1 7 1-7 1 4 1 0 1-1 1-2 1-1 1-1 1 7 1 2 1-2 1-1 1-3 1 5 1 0 1-6 1 9 1-7 1 4 1-4 1 3 1 3 1-2 1-1 1-2 1-2 1 5 1-1 1-5 1 6 1-1 1-1 1 0 1-4 1 4 1-1 1 1 2 0 1 1 1-5 1 4 1-1 1 2 1-2 1-37 1 37 1 5 1-9 1 6 1-3 1-9 1 10 1-1 1-7 1 11 1-6 1 4 1 3 1-3 1 1 1-2 1 4 1 0 1-1 1 1 1 0 1 2 1-5 1 1 1-3 1 0 1 3 1 3 1-3 1 2 3 0 1-2 1 0 1 2 2 0 1 1 1 2 1-2 1-1 1 0 1-4 1 1 1 1 1 0 1 1 1-1 1-2 1 5 1-1 1 2 1-2 1-3 1 0 1 2 1-1 1-8 1 8 1 0 1-1 1 2 1-1 1-2 1-6 1 9 2 0 1-2 1-1 1 2 1 1 1-6 1 4 1 0 1-7 1 11 1-4 1 3 1-6 1 7 1 1 1 2 1-3 1 2 1-5 1 4 1-19 1 18 1-1 1 1 1-3 1-7 1 8 1 0 1-1 1 3 1-9 1 5 1 4 1 1 1-2 1-4 1 4 1-2 1 0 1 2 1-2 1-3 1 4 1 0 1-1 1-1 1-4 1 7 1-5 1 3 1 0 1 2 1 0 1-1 1-6 1 8 1-1 1-1 1 4 1-2 1-2 1-4 1 5 1-15 1 7 1 1 1 8 1-4 1 4 1-3 1 4 1-7 1-14 1 20 1-6 1 2 1 2 1 2 2 0 1 4 1-13 1 10 1-2 1 1 1-8 1 8 1 0 1-5 1 2 1 1 1 0 1 1 1-1 1-6 1-4 1 8 1-1 1 1 1-7 1 11 1 1 1-1 1-9 1-8 1-9 1-60 1-60 1-167 1-150 1-133 1-120 1-120 1-120 1-120 1-90" stroke="#ff7020"/>
<path d="M25 2441l1 9 1 1 1 3 1 2 1-3 1 6 1 4 1-8 1 11 1-7 1 16 1 7 1 9 1 9 1-4 1 19 1-11 1-11 1-14 1-20 1-19 1 17 1-4 1-37 1-75 1-83 1-85 1-79 1-81 1-82 1-81 1-84 1-77 1-81 1-95 1-65 1-84 1-44 21 0 1 1273 30 0 1-1 1-12 1-5 1-8 1-13 1-6 1-12 1-22 1-16 1 9 1-4 1 4 1-15 1 6 1-9 1-37 1 37 1-24 1 21 1-1 1-4 1-3 1-5 1-6 1 1 1 2 1-4 1-3 1-10 1 11 1 0 1-10 1-4 1 9 1-2 1-9 1 6 1-6 1 10 1-3 1 4 1-7 1 1 1 5 1-14 1 6 1 2 1 3 1-8 1 1 1-15 1 14 1-5 1-3 1 6 1 0 1-21 1 6 1-23 1 28 1-1 1-2 1-3 1-41 1 35 1 10 1-17 1-19 1-242 1 238 1 31 1-5 1 6 1-2 1-6 1 0 1 2 1-12 1 16 1-22 1 11 1 1 1-4 1 2 1 4 1-9 1-13 1 3 1 11 1 5 1-4 1 0 1-3 1-20 1 9 1-172 1 170 1 5 1 11 1-5 1 2 1-3 1-14 1-10 1 17 1 2 1 8 1-10 1-2 1-3 1 9 1-5 1-10 1 12 1-6 1-4 1 1 1 0 1-1 1 7 1-2 1 3 1-2 1-6 1-3 1 5 1 1 1-3 1-30 1 21 1 11 1-1 1 1 1-22 1 19 1-4 1-1 1 0 1-1 1 1 1-4 1-1 1 2 1-17 1 14 1-4 1 4 1 1 1-2 1-12 1 9 1-4 1-2 1 7 1-2 1 1 1-14 1 11 1-22 1 21 1-1 1-8 1-36 1-379 1 375 1 28 1-31 1-5 1-349 1 297 1-330 1 380 1 8 1-157 1 164 1 23 1 5 1 8 1-12 1 13 1 0 1-2 1-1 1 1 1-18 1 17 1-4 1-2 1 1 1-3 1-3 1 5 1-8 1 11 1-3 1-4 1-12 1 16 1-3 1-1 1-3 1 1 1-13 1 13 1-4 1-13 1-87 1 73 1 24 1-3 1-3 1 14 1-5 1-3 1-11 1 8 1 0 1 1 1-13 1-19 1 19 1 10 1-7 1-5 1 10 1-1 1-1 1-1 1-2 1-3 1-29 1-10 1 30 1-5 1-2 1 19 1-19 1 17 1-5 1 1 1-12 1 3 1 0 1 3 1-34 1 33 1-13 1 8 1 1 1-4 1-10 1 11 1 3 1-7 1-1 1 10 1-3 1-7 1 10 1-9 1 3 1-19 1-18 1 33 1 5 1-16 1 2 1-4 1-5 1 15 1-13 1 20 1-4 1 7 1-10 1-21 1-31 1 37 1 3 1-89 1 79 1-10 1-281 1 229 1-115 1 141 1 30 1-1 1 18 1 3 1-24 1 26 1-2 1 4 1-2 1-2 1-5 1-1 1-27 1 23 1-10 1-21 1-223 1-110 1 283 1 57 1-38 1 50 1 1 1 9 1 0 1 1 1 5 1-4 1-7 1-27 1-4 1 17 1 19 1 0 1-37 1-8 1 21 1-41 1 36 1 15 1 3 1-15 1-103 1 104 1 19 1-1 1 0 1-18 1 13 1 6 1 0 1-46 1 32 1-32 1 23 1 2 1-36 1-52 1 59 1 21 1 7 1-4 1 6 1-8 1-15 1-54 1 39 1 6 1-69 1 67 1 19 1-7 1-22 1 18 1 3 1-10 1 1 1 5 1-3 1-22 1 10 1-15 1 9 1-90 1 81 1 5 1 12 1-11 1-10 1-27 1 39 1 6 1-3 1-32 1 2 1-84 1 75 1-12 1-62 1-744 1 739 1 66 1 25 1 1 1-1 1-19 1-131 1 130 1 17 1-9 1 12 1 1 1-7 1-20 1-46 1-131 1-68 1 207 1-16 1 47 1-29 1 15 1-28 1 26 1 11 1-16 1-252 1 259 1 9 1 1 1-4 1-17 1-35 1 33 1-25 1-34 1-172 1 150 1 44 1-4 1-23 1-259 1 149 1 122 1 8 1-53 1 92 1 9 1-54 1-99 1 111 1-69 1-189 1 66 1-157 1 235 1 56 1-43 1 58 1-38 1 50 1 21 1-24 1-9 1-69 1-54 1 120 1-4 1-93 1-340 1 397 1 43 1 4 1-24 1-126 1 126 1 1 1-63 1-246 1 222 1-64 1-382 1 42 1 266 1 174 1 13 1 13 1-56 1 35 1 16 1 26 1 2 1-6 1 14 1 0 1-65 1 72 1 9 1-11 1-51 1 59 1 19 1 1 1-34 1 33 1 0 1 23 1-7 1-18 1 3 1 8 1-13 1 24 1 19 1-25 1-45 1-72 1 76 1-221 1 217 1-11 1 53 1 13 1 6 1-34 1 46 1 29 1 7 1-21 1-70 1 1 1-425 1 475 1 47 1 8 1-4 1-24 1-389 1 303 1 28 1 75 1 35 1-5 1-11 1 16 1-20 1 29 1 8 1-8 1-21 1-37 1 53 1-14 1-41 1 52 1 9 1-59 1 60 1-11 1-91 1-181 1 212 1 71 1-50 1 77 1 13 1-36 1 36 1 11 1 4 1-13 1 2 1-13 1 9 1-28 1-526 1-68 1 554 1 56 1-24 1 61 1 5 1-8 1-5 1-41 1-175 1 181 1 45 1-20 1-116 1-98 1 208 1 28 1-68 1 69 1 18 1 10 1-14 1-25 1-12 1-64 1-140 1 182 1-19 1-146 1 222 1-30 1 39 1 5 1-3 1 17 1 2 1 14 1-11 1 15 1-3 1 2 1-3 1-26 1-6 1 29 1-8 1-38 1 46 1-3 1 16 1-16 1 12 1-8 1-37 1 33 1-5 1-66 1 51 1 41 1-20 1 20 1-14 1 7 1-193 1 192 1 19 1 2 1-13 1-264 1 268 1 18 1 0 1 8 1 1 1-6 1-13 1-55 1 35 1-34 1 47 1 8 1 12 1-68 1 65 1 8 1 11 1 1 1 2 1 1 1 0 1-3 1 5 1-11 1-12 1 23 1-7 1 5 1-5 1-7 1 8 1-1 1-14 1 9 1-14 1-58 1 53 1 11 1 5 1-1 1-2 1-33 1 22 1 12 1 10 1-6 1 12 1-3 1-9 1 6 1 5 1-3 1 3 1-13 1-1 1-14 1 7 1-17 1 24 1-9 1 7 1-7 1-1 1 2 1-176 1 165 1 20 1 7 1 0 1-5 1-94 1 92 1 7 1-3 1 7 1-1 1-2 1 2 1-1 1-3 1 6 1-5 1 3 1-23 1 18 1-3 1-4 1-32 1 29 1 13 1 1 1-5 1-61 1 62 1 3 1 3 1-24 1 22 1-1 1 4 1-13 1 0 1 9 1 4 1-1 1-11 1 8 1-46 1 47 1-13 1-27 1 40 1-3 1-7 1 6 1-8 1-4 1 17 1 2 1-3 1-8 1-7 1 19 1-4 1 2 1-74 1 72 1 1 1 5 1 2 1-6 1-6 1 4 1-20 1-168 1 171 1 19 1-2 1-11 1-6 1-13 1 36 1 4 1-5 1-8 1 9 1 6 1 0 1 1 1-1 1 1 1-5 1-9 1 6 1 8 1-2 1-26 1 30 1-2 1 0 1-19 1 10 1-11 1-45 1-86 1 59 1 15 1-40 1 21 1 13 1 22 1 15 1 0 1-30 1-179 1 133 1 5 1 63 1 24 1 4 1 4 1 0 1 6 1 3 1 2 1 7 1-20 1 25 1-8 1 10 1-14 1 13 1-9 1 6 1-3 1-2 1-20 1 14 1 5 1-11 1 6 1-11 1 12 1 5 1 3 1-7 1-12 1 11 1 0 1 9 1-1 1-1 1 1 1-13 1-2 1-162 1 141 1 35 1-18 1 16 1-6 1-33 1-66 1 59 1 29 1-5 1 25 1-12 1 1 1-32 1-50 1 45 1-119 1 146 1 4 1 3 1-34 1 40 1-8 1-31 1 34 1-39 1 50 1 7 1-14 1 10 1 3 1-1 1-3 1-29 1 1 1 12 1-44 1-55 1 56 1 30 1 2 1 11 1 7 1 2 1-65 1-69 1 104 1-74 1-2 1 87 1 22 1 2 1-14 1 24 1-2 1-4 1-6 1-34 1 36 1 1 1-1 1 0 1-5 1-4 1-18 1-45 1 58 1 10 1 1 1 4 1 6 1-6 1 0 1-2 1-27 1 4 1 23 1 3 1-15 1-228 1 220 1 15 1-7 1-31 1-129 1 132 1 15 1-10 1-26 1 46 1-11 1 17 1-9 1-219 1 221 1 14 1-16 1-36 1 32 1-8 1-211 1 187 1-17 1 65 1 8 1 4 1-3 1 10 1-28 1-5 1 24 1 0 1 7 1-19 1-9 1-3 1-18 1 26 1 9 1 11 1-9 1 8 1-12 1 19 1-4 1-4 1-1 1 3 1-29 1 32 1 0 1-6 1-6 1 7 1-8 1-19 1 12 1 13 1-1 1-1 1 2 1 2 1-31 1 27 1 3 1-13 1-57 1 59 1 15 1 0 1-3 1 5 1-5 1 0 1-3 1-4 1 0 1-11 1 17 1-2 1-6 1-10 1-8 1 14 1 1 1-32 1 14 1 14 1 9 1-7 1-7 1 11 1 4 1-8 1-4 1 6 1 6 1-7 1-101 1 99 1-1 1 5 1 1 1-3 1-8 1-2 1 3 1 1 1-16 1-1 1-33 1 41 1 0 1 9 1-4 1 1 1-11 1-121 1 124 1-3 1 6 1 11 1-6 1-13 1 7 1-1 1-15 1-147 1 141 1 20 1-2 1-4 1 10 1-9 1-50 1 52 1 1 1-15 1-3 1 8 1 0 1-16 1-14 1 19 1 11 1-35 1 34 1 3 1-16 1-15 1 24 1 3 1-17 1-10 1 25 1-6 1-64 1 36 1-27 1-154 1-798 1 812 1 130 1 47 1-4 1-39 1 42 1 6 1-8 1 17 1-20 1 5 1-30 1 30 1 2 1-3 1-7 1 2 1-2 1-12 1-4 1-27 1-462 1 451 1 19 1-2 1-146 1 145 1-10 1-20 1-483 1 474 1 37 1 1 1 6 1 5 1-8 1-30 1 9 1 16 1 1 1-2 1 1 1-9 1-45 1 40 1-9 1-4 1-11 1 17 1-14 1-54 1 50 1-11 1 16 1-34 1 18 1-17 1 10 1 6 1 6 1-8 1-1 1 10 1-13 1 5 1 6 1-3 1 5 1-9 1-14 1 12 1-1 1-11 1 7 1-10 1 6 1-19 1 13 1-58 1 31 1-15 1 14 1-159 1 78 1 75 1-7 1-39 1 8 1-177 1-620 1 611 1 138 1-5 1-53 1-666 1 679 1 39 1-4 1-104 1-635 1 605 1 93 1-4 1-63 1-631 1 635 1 102 1 17 1-130 1-624 1 643 1 132 1-1 1-113 1-661 1 701 1 94 1 10 1 40 1-5 1-14 1 18 1 15 1-4 1-7 1-89 1 96 1 16 1 11 1 19 1-3 1-5 1 9 1 17 1-3 1 11 1-3 1 2 1-11 1-91 1 88 1-1 1-59 1 63 1 10 1 1 1-7 1 6 1-1 1 3 1-5 1-6 1-40 1-402 1 410 1 3 1-58 1-621 1 642 1 32 1 24 1-28 1 23 1-35 1 53 1 3 1 11 1-3 1-7 1 3 1-13 1 19 1-15 1 1 1-2 1-35 1-88 1 65 1 2 1 49 1 4 1-26 1 15 1 9 1-12 1 9 1-1 1 3 1-1 1-50 1 1 1-48 1-85 1 137 1 20 1 5 1 9 1-6 1-12 1 1 1 13 1-35 1 33 1-5 1-21 1-69 1 56 1 14 1-12 1-34 1 49 1 0 1 8 1-4 1-48 1-540 1 524 1 58 1-6 1-85 1-777 1 787 1 98 1-4 1 31 1 4 1 8 1 7 1-27 1 21 1 14 1 2 1-3 1 1 1 1 1 14 1-2 1-5 1 5 1-30 1 29 1 0 1-4 1-12 1 14 1-1 1-10 1-4 1 4 1 11 1 4 1-1 1-22 1 9 1-19 1 11 1 17 1-35 1-233 1 239 1-2 1 14 1 25 1 3 1 0 1-3 1-10 1-9 1 15 1-15 1 8 1 11 1 7 1-11 1 9 1 0 1 10 1 1 1-7 1 2 1-2 1-13 1-1 1-14 1-68 1 59 1-3 1-21 1-48 1 42 1-1 1 9 1-1 1-7 1-21 1 16 1-4 1-6 1 1 1-28 1 17 1-1 1-2 1-4 1-5 1-1 1-8 1-7 1-16 1-42 1 44 1 1 1 7 1-20 1-16 1 64 1-3 1 12 1 4 1 0 1-9 1 11 1 26 1 1 1 4 1 5 1-11 1 20 1 9 1-5 1-23 1 18 1 6 1-1 1 0 1-10 1-16 1-35 1-80 1 111 1 14 1 4 1 10 1 2 1-8 1-4 1 19 1-21 1 20 1-22 1-12 1 19 1-11 1 13 1 4 1-5 1-18 1 24 1-11 1 9 1-21 1 24 1 4 1-12 1 8 1-16 1 3 1-7 1 2 1-24 1-138 1-750 1 759 1 89 1-31 1-37 1-657 1 642 1 66 1-9 1-92 1-730 1 676 1 101 1 19 1-21 1-235 1 257 1 30 1-20 1-22 1-127 1-658 1 650 1 182 1 38 1 4 1-55 1 61 1 26 1 15 1-1 1-2 1-41 1 43 1-1 1 1 1-24 1 8 1 10 1-32 1-42 1 28 1-92 1-776 1 783 1 95 1 7 1-68 1-817 1 821 1 64 1-2 1 4 1 26 1 3 1 6 1 1 1-6 1-15 1 20 1 6 1-19 1 19 1-3 1 1 1-6 1 13 1-8 1 6 1-19 1 21 1-7 1-2 1-4 1-18 1 17 1-8 1 7 1-60 1-10 1-10 1 57 1-122 1 86 1 57 1-2 1 8 1-1 1-11 1 10 1 8 1-12 1 6 1-1 1-41 1-29 1 64 1 15 1-4 1 5 1 0 1-10 1-11 1 13 1-2 1-31 1 27 1 0 1-18 1-18 1 18 1-13 1-92 1-687 1 692 1 17 1 27 1-68 1 60 1 1 1-10 1 7 1 3 1-5 1 17 1-12 1-322 1 348 1 38 1 19 1-1 1-155 1 173 1 14 1 13 1 10 1 17 1-7 1-2 1 39 1 5 1 5 1-6 1-10 1-39 1-15 1 60 1 3 1-8 1-16 1-83 1-26 1 66 1 51 1 4 1 2 1-30 1 21 1 27 1-19 1 11 1 4 1-5 1 15 1 2 1 2 1-5 1-16 1-71 1 62 1 11 1-42 1-596 1 578 1-60 1-874 1 915 1 85 1 15 1-25 1 28 1-16 1-26 1-105 1-899 1 882 1 84 1-186 1-780 1 891 1 136 1 0 1-13 1-131 1 139 1 46 1 1 1-10 1-14 1-69 1 42 1-52 1 86 1 24 1 5 1-9 1 11 1-5 1-64 1 61 1-13 1 16 1-10 1 15 1-8 1-3 1 1 1-10 1-44 1-150 1 154 1 25 1 9 1 10 1 1 1-2 1 7 1-5 1-22 1-39 1-33 1 0 1-123 1-851 1 750 1 174 1-42 1-507 1 499 1 23 1-129 1-768 1 773 1 151 1-80 1-844 1 859 1 93 1-102 1 42 1-98 1 187 1 65 1 9 1-3 1-33 1 39 1-19 1-178 1 176 1 22 1-2 1-4 1-1 1-13 1-221 1 209 1-5 1 4 1-35 1-216 1 201 1 28 1-71 1 61 1 11 1-15 1-22 1-108 1 98 1 4 1-5 1-4 1-150 1 71 1 58 1 0 1 11 1-4 1-4 1-10 1-4 1-3 1-144 1 127 1-27 1-48 1 16 1-304 1 298 1 14 1-77 1-69 1-704 1 694 1 50 1-40 1-704 1 714 1 86 1-74 1-520 1 562 1 16 1-96 1-688 1 706 1 74 1-52 1-587 1 551 1-475 1 600 1 16 1-22 1 51 1 64 1 29 1 13 1-51 1-566 1 602 1 63 1 19 1-4 1-229 1 260 1 23 1 4 1 2 1-11 1 7 1 4 1-5 1 11 1 8 1 3 1-1 1-1 1-1 1-4 1 11 1-4 1 5 1-47 1 45 1 9 1 5 1 1 1 2 1-3 1 6 1-1 1 0 1-2 1 6 1-1 1-1 1 1 1 0 1 2 1-15 1 16 1 0 1-10 1 10 1-5 1 6 1-8 1 7 1-2 1 3 2 0 1 1 1 1 1-1 1-1 1 1 1-26 1 24 1 5 1-2 1 1 1 0 1-4 1 6 1-1 1 0 1 3 1-6 1 4 1 2 1-9 1-26 1 29 1 11 1-3 1 3 1 1 1-1 1 1 1-6 1-19 1-220 1-5 1 228 1 17 1 10 1 3 1-5 1 10 1-1 1 1 1 2 1-5 1-33 1 34 1 3 1 2 1-2 1 0 1 2 1-1 1-1 1 2 1-6 1 4 1 1 1-10 1 12 1-2 1-1 1 0 1 1 1-6 1 1 1 3 1-2 1 3 1-5 1 3 1 2 1-2 1-11 1 13 1-14 1 13 1 0 1-4 1 6 1-6 1-2 1 5 2 0 1-8 1 10 1-2 1-3 1 5 1 0 1-1 1 2 1-3 1 3 1-8 1 6 1 0 1-1 1-1 1 0 1 3 1-4 1 3 1-3 1-2 1 5 1-4 1 4 1-4 1 6 1-9 1 7 1 1 1-9 1 4 1-2 1 7 2 0 1 1 1-1 1 3 1-8 1 7 1 1 1-8 1 6 1 4 1-3 1-1 1 1 1-7 1-4 1 12 1 0 1-3 1 1 1-2 1 0 1 3 1-12 1-6 1 15 1-4 1 8 1-2 1 0 1 3 1-2 1 0 1-1 1 0 1 3 1-9 1 5 1 1 1-1 1 4 1 1 1-5 1 2 1 0 1 3 1-2 1-16 1 17 1-7 1 5 1-1 3 0 1 1 1-1 1-2 1-1 1 7 1-3 1-1 1-19 1 19 1 1 1-4 1 1 1-2 1 3 1 2 1-1 1-2 2 0 1-5 1 7 1-10 1 3 1 8 1-4 1 5 1-11 1 9 1-3 1 4 1-4 1-13 1 15 1-4 1-4 1 8 1 5 1-5 1-4 1 3 1 3 1-1 1 1 1-2 1 3 1-2 1-15 1 16 1 2 1-8 1 2 1-6 1 5 1 4 4 0 1-6 1 6 1 0 1-1 1-5 1 9 1-1 1-3 1 0 1 1 1 1 1 1 1 1 1-5 1 6 1-3 1 1 1-2 1 1 1 0 1-1 1 3 1-2 1 3 1-5 1 0 1 1 1 3 1-2 1-1 1 1 1-5 1 4 1-18 1 18 1 2 1-1 1-1 1-10 1 12 1 1 1-5 1 0 1 6 1-1 1-4 1 4 2 0 1-1 1-3 1-1 1-3 1 2 1 0 1-10 1 13 1-5 1 7 1-2 1-1 1 3 1-9 1 6 1 3 1-2 1-1 1 1 1-2 1 1 1-16 1 13 1 5 1-1 1 3 1-4 1-12 1 15 1-2 1-11 1 8 1 0 1 6 1-1 2 0 1-1 1 1 1 0 1-2 1-5 1 3 1 5 1-2 1 1 1-1 1-4 1 5 1 1 1 1 1-3 1-8 1-8 1-9 1-60 1-60 1-167 1-150 1-133 1-120 1-120 1-120 1-120 1-91" stroke="#0000ff"/>
<path d="M25 2456l1 0 1 5 1 4 1-5 1 1 1 3 1 0 1 3 1 6 1-7 1 17 1 5 1 7 1 13 1 0 1 5 1-6 1-27 1 6 1-13 1-18 1 4 1-2 1-12 1-80 1-74 1-77 1-89 1-73 1-99 1-79 1-72 1-86 1-88 1-71 1-75 1-81 1-81 21 0 1 803 1 470 32 0 1-5 1-6 1 5 1-10 1-15 1 8 1-24 1 13 1-6 1-11 1-6 1-5 1-5 1-1 1-12 1 8 1-5 1-6 1 5 1-11 1 6 1-5 1-6 1-1 1-3 1-4 1 2 1 3 1-23 1 14 1-2 1-12 1 17 1-17 1 13 1-22 1 16 1-3 1 2 1-5 1 2 1-8 1-25 1 26 1-7 1 10 1 1 1-3 1-3 1-3 1 0 1-2 1 3 1-1 1-1 1-11 1 2 1 5 1-9 1-49 1-324 1 355 1 12 1 2 1-11 1-117 1 121 1 8 1-16 1 15 1 4 1-2 1-15 1 11 1-1 1 1 1 5 1-8 1-2 1-4 1-1 1-1 1-3 1-22 1 18 1 0 1-8 1 10 1 3 1-16 1 16 1-7 1-28 1 32 1-5 1 3 1 3 1-5 1 7 1-3 1-21 1 16 1-2 1 5 1-8 1-4 1 3 1 2 1-1 1-2 1 1 1-17 1 11 1-3 1 7 1-3 1 2 1 4 1-3 1 0 1-3 1 0 1-2 1-4 1-10 1-117 1 115 1 9 1 4 1 7 1-6 1-1 1 3 1-4 1 4 1 1 1-13 1-12 1 19 1 0 1-7 1 2 1 5 1-1 1 1 1 1 1-7 1 7 1-6 1-7 1-1 1 6 1-2 1 2 1-7 1-13 1 8 1 0 1-7 1-24 1-332 1 324 1 25 1-21 1-1 1-253 1 236 1-224 1 243 1-7 1-249 1 251 1 25 1 7 1 3 1 4 1 3 1-8 1 2 1-16 1 20 1-6 1 0 1-5 1 8 1-10 1-5 1 4 1 7 1-2 1-21 1 22 1 1 1-6 1-4 1 0 1-13 1 20 1-19 1 15 1-19 1 14 1-19 1-221 1 199 1 36 1 4 1 2 1 4 1 2 1-7 1 3 1-6 1 2 1-3 1 3 1-13 1 12 1-1 1-2 1-21 1 20 1-13 1 17 1-20 1-6 1 21 1-24 1 12 1-1 1 10 1 2 1 2 1-9 1 4 1-4 1-10 1-44 1 40 1 8 1 5 1-1 1-2 1-19 1 14 1 9 1-3 1-4 1 2 1 6 1-14 1 9 1 3 1-6 1-10 1 14 1-5 1-8 1-20 1 0 1 1 1 11 1-1 1 11 1-2 1-1 1-14 1 5 1 12 1-1 1-1 1-2 1-10 1-4 1 1 1-9 1-151 1 149 1 3 1-153 1 129 1-85 1 91 1 23 1-13 1 13 1 6 1-5 1 2 1-2 1 1 1 1 1-1 1 0 1-10 1 1 1 4 1-7 1-18 1-203 1-112 1 272 1 20 1 16 1 27 1 4 1 3 1 0 1-6 1 1 1-1 1-4 1-13 1-21 1 20 1 17 1-4 1-4 1-11 1-14 1-40 1 50 1 13 1 3 1-1 1-24 1 7 1 23 1-19 1 15 1-29 1 9 1 16 1 5 1-5 1-18 1-30 1 27 1-6 1-52 1-28 1 47 1 28 1 12 1-1 1-9 1 5 1-11 1-54 1 46 1 2 1-62 1 67 1-2 1 0 1-5 1 1 1 5 1-15 1 7 1 3 1-7 1-47 1 30 1-16 1-31 1-132 1 123 1 40 1 10 1-7 1 3 1-22 1 26 1-11 1 4 1-9 1-41 1-22 1 51 1 1 1-54 1-589 1 588 1 54 1 12 1-3 1-15 1-45 1-116 1 118 1 38 1 9 1-18 1 16 1-13 1-6 1-44 1-92 1-36 1 151 1-47 1 53 1-71 1 44 1 19 1 11 1 7 1-4 1-69 1 67 1 7 1 9 1-13 1-35 1-30 1 47 1-10 1-69 1-164 1 92 1 124 1-11 1-7 1-99 1 9 1 103 1-41 1-32 1 106 1 19 1-54 1-165 1 137 1-48 1-65 1-226 1 162 1 128 1 41 1-40 1 29 1-102 1 87 1 54 1 4 1-29 1-51 1 21 1 20 1 2 1-100 1-230 1 304 1 35 1 11 1-22 1-75 1 67 1 8 1-45 1-182 1 181 1-66 1-315 1 0 1 203 1 159 1-6 1 0 1-252 1 224 1 60 1 24 1 9 1-17 1 19 1 1 1-64 1 64 1 15 1-10 1-51 1 59 1 14 1-3 1-31 1 44 1 3 1 6 1 14 1-16 1-38 1 30 1-73 1 93 1 1 1-6 1-20 1-128 1 93 1-149 1 156 1-33 1 81 1-87 1 66 1-123 1 161 1 20 1 15 1-7 1-50 1-71 1-726 1 772 1 82 1-7 1 17 1-32 1-484 1 443 1-98 1 162 1 30 1 2 1-9 1 19 1-7 1 18 1-13 1 20 1-19 1-15 1 24 1-18 1-66 1 75 1 7 1-53 1 52 1-3 1-69 1-139 1 163 1 36 1-25 1 48 1 24 1-29 1 37 1 12 1-2 1-2 1-11 1-32 1 26 1-13 1-516 1 355 1 187 1-7 1-64 1 80 1 2 1 11 1-35 1-83 1-218 1 228 1 90 1-22 1-144 1-26 1 169 1 40 1-85 1 109 1 8 1 13 1-3 1-16 1-41 1-55 1-119 1 134 1-74 1-298 1 395 1-59 1 95 1 33 1-1 1-24 1 37 1 4 1-2 1-4 1 5 1 7 1-11 1-3 1-20 1 3 1 19 1-25 1 37 1-3 1 6 1-13 1 12 1-7 1-57 1 59 1 5 1-45 1 48 1 3 1-6 1 5 1-15 1-6 1-332 1 347 1 10 1 11 1 1 1-61 1 62 1 2 1 5 1 3 1-4 1-3 1-7 1-62 1 40 1-49 1 70 1 14 1-1 1-44 1 49 1 7 1 7 1-4 1-22 1 21 1 2 1 5 1-8 1 0 1-3 1 1 1 3 1 5 1-4 1-5 1 7 1-7 1-11 1 5 1-40 1 7 1 38 1 10 1-1 1-3 1-1 1-21 1 3 1 15 1 1 1-23 1 19 1-5 1-22 1 24 1 4 1 5 1-6 1 5 1-10 1-4 1 8 1-12 1 16 1 4 1-4 1-11 1 12 1-3 1-40 1 17 1 21 1 1 1-4 1-12 1-248 1 241 1 18 1 4 1-15 1 15 1 4 1 2 1 2 1-5 1-2 1 3 1 0 1-1 1-1 1-7 1 3 1-15 1 24 1-36 1 28 1-3 1-30 1 31 1-6 1 9 1 0 1-4 1-3 1 11 1-8 1-4 1 8 1-1 1 1 1-6 1-8 1 4 1 13 1-19 1-3 1 22 1-5 1 8 1-7 1-26 1 20 1 7 1-2 1 14 1-12 1 2 1 1 1-12 1 10 1-25 1 24 1-11 1 17 1-1 1 4 1-17 2 0 1-199 1 199 1 9 1 6 1-11 1-4 1-9 1 20 1 1 1-10 1-1 1 9 1-11 1 6 1-12 1 15 1 8 1-21 1 15 1-8 1 13 1 4 1-8 1 2 1-1 1 1 1-9 1 11 1-9 1-27 1-131 1 124 1 11 1-54 1 26 1 0 1 25 1 10 1-3 1-39 1-56 1-10 1-152 1 238 1 32 1 0 1 6 1-2 1-1 1-1 1-1 1 11 1-10 1 17 1 2 1-3 1 6 1-4 1-10 1 6 1 2 1-2 1-18 1-22 1 40 1-7 1-2 1-7 1 2 1 9 1 8 1-11 1-40 1 21 1 15 1-1 1 20 1-15 1 16 1-8 1-18 1-242 1 239 1 17 1 7 1 6 1-7 1-5 1-32 1 31 1 3 1-29 1 21 1 4 1-10 1-51 1-1 1-5 1-25 1 88 1 9 1 2 1-43 1 44 1 0 1-7 1 7 1-13 1 6 1 6 1 4 1 1 1-20 1 11 1 0 1-33 1 3 1 26 1-37 1-168 1 173 1 23 1-3 1-1 1 22 1-20 1-6 1-127 1 124 1-47 1 23 1 42 1 3 1-13 1 21 1 3 1 1 1-1 1-11 1-36 1 36 1 1 1 9 1-11 1 8 1-13 1-10 1-55 1 64 1 12 1-28 1 20 1 6 1 5 1 4 1-23 1-33 1 30 1 20 1-4 1-18 1-373 1 369 1 22 1 3 1-11 1-35 1 37 1 3 1-16 1-20 1 25 1-19 1 29 1 5 1-96 1 93 1 5 1-15 1-50 1 52 1-30 1-160 1 146 1-45 1 92 1 6 1 2 1 0 1 9 1 4 1-5 1-16 1-5 1 14 1-9 1-35 1 25 1-14 1 2 1 33 1 2 1-17 1 17 1-15 1 0 1 15 1-4 1 4 1-6 1-18 1 23 1 5 1-2 1-2 1 3 1-3 1-12 1 7 1 3 1-9 1 6 1-14 1 12 1-16 1 7 1 19 1-18 1-90 1 101 1 10 1 0 1 5 1 1 1-13 1 0 1 2 1-8 1 6 1-14 1 7 1 3 1-16 1-11 1 15 1 11 1-17 1-11 1-48 1 56 1 25 1 3 1-1 1 2 1-2 1-11 1-7 1 5 1 6 1-6 1-95 1 100 1 3 1 1 1-6 1 7 1-2 1-4 1 5 1 2 1-15 1-2 1-46 1 51 1 10 1-8 1-3 1 2 1-12 1-33 1 32 1 21 1 1 1 0 1-1 1-6 1 3 1 7 1-25 1-152 1 145 1 15 1 9 1-15 1 5 1-6 1-145 1 150 1 7 1-1 1-15 1-3 1 19 1-7 1-4 1 13 1-4 1-7 1 9 1-3 1-5 1-12 1 3 1-10 1 11 1 4 1-31 1 27 1-33 1 24 1-20 1-125 1-897 1 910 1 113 1 22 1-6 1-6 1 13 1 7 1-5 1-11 1-7 1 12 1-42 1 38 1-3 1-7 1 6 1-9 1 10 1-2 1-10 1-12 1-146 1 136 1-3 1-24 1-365 1 380 1 14 1-4 1-174 1 168 1 9 1 0 1 5 1 0 1-3 1-7 1 0 1 1 1 5 1-16 1 8 1-4 1-24 1 23 1-8 1 5 1-1 1 8 1-8 1-36 1 28 1-24 1 3 1-23 1 28 1-32 1 22 1-1 1 15 1 5 1-14 1-4 1 14 1 2 1-2 1-3 1 5 1-9 1-18 1 5 1 6 1 5 1-14 1-12 1 13 1-7 1-20 1-82 1 72 1-13 1 16 1-48 1 14 1 1 1-14 1-22 1 3 1-197 1-648 1 481 1 280 1-13 1-77 1-671 1 745 1 95 1 2 1-85 1-515 1 530 1 74 1-48 1-43 1-755 1 732 1 57 1 32 1-123 1-698 1 706 1 144 1 2 1-117 1-735 1 799 1 94 1 20 1 3 1-4 1-35 1 19 1 36 1-4 1-31 1-112 1 139 1 25 1 15 1 13 1 3 1-23 1 34 1-6 1 14 1 7 1-3 1-9 1-18 1-137 1 133 1 14 1-15 1 18 1 17 1-13 1-1 1 5 1 1 1-2 1-19 1 4 1-10 1-232 1 227 1-16 1-30 1-491 1 489 1 31 1 20 1-52 1 36 1-56 1 70 1 14 1 1 1-16 1 12 1 7 1-5 1 7 1-17 1 10 1-1 1-34 1-263 1 231 1 7 1 44 1 10 1-3 1-1 1 5 1-21 1 6 1 14 1-4 1-8 1-24 1 8 1-67 1-82 1 133 1 27 1-6 1 7 1 2 1-24 1 13 1 5 1-14 1 16 1 4 1-11 1-31 1 24 1 2 1-10 1-36 1 43 1 3 1-1 1-12 1-94 1-837 1 829 1 84 1 7 1-39 1-465 1 501 1 41 1 15 1-1 1 3 1 4 1 6 1 3 1-1 1 3 1-1 1 1 1 3 1 2 1-19 1-5 1 19 1 7 1-21 1 19 1-3 1-18 1 16 2 0 1-2 1-18 1 22 1 17 1-7 1 0 1-22 1 21 1-27 1 27 1 6 1-22 1-97 1 90 1-49 1 60 1 14 1-3 1 15 1-7 1 1 1-88 1 85 1 9 1-21 1 5 1 5 1 10 1 2 1 5 1 3 1-8 1 9 1-34 1 7 1 17 1-7 1-9 1-43 1 34 1 3 1-7 1-47 1 37 1 12 1 0 1-8 1-9 1-17 1 1 1 15 1-3 1-8 1-8 1 7 1 7 1-7 1 0 1-8 1 4 1-2 1-12 1-9 1-54 1 50 1-2 1 4 1-21 1-21 1 49 1 11 1 13 1 2 1-5 1-21 1 24 1 20 1 3 1-2 1 12 1 4 1-14 1 10 1 3 1-3 1-6 1 2 1 3 1-23 1 16 1-3 1-16 1-65 1 64 1 19 1 13 1-7 1 3 1-6 1-4 1 21 1-1 1-15 1 12 1-27 1 31 1-11 1-11 1 25 1-7 1-4 1-6 1-16 1-1 1-11 1 39 1 2 1 0 1-22 1-44 1 31 1 13 1-2 1-2 1-85 1-737 1 718 1 57 1-32 1-51 1-684 1 656 1 70 1-25 1-155 1-709 1 642 1 148 1 48 1-60 1-660 1 691 1 70 1 12 1-32 1-153 1-706 1 720 1 168 1 23 1 24 1-59 1 64 1 24 1 7 1 0 1-8 1-15 1 15 1 11 1-3 1-6 1-5 1 14 1-12 1-25 1 14 1-37 1-516 1 513 1 34 1-17 1-126 1-802 1 800 1 131 1 0 1 28 1-16 1 30 1 5 1-9 1 2 1-25 1 28 1 3 1 5 1-6 1 8 1-9 1 6 1 1 1 6 1-6 1-4 1-1 1 12 1-10 1 1 1-7 1 8 1-11 1 3 1-20 1-73 1 37 1 14 1-103 1 111 1 40 1 3 1-11 1 11 1-15 1 19 1 6 1-28 1 21 1-3 1-21 1-1 1 31 1-1 1 0 1 9 1-2 1-11 1 10 1-7 1-3 1-34 1 29 1 5 1-41 1 0 1 24 1-12 1-49 1-439 1 424 1 6 1-2 1-309 1 305 1-2 1 20 1 4 1-1 1-24 1 33 1-17 1-449 1 463 1 36 1 2 1-12 1-413 1 429 1 29 1 15 1-7 1 5 1 23 1-12 1 37 1 1 1 1 1-2 1-9 1-35 1 2 1 28 1 12 1 2 1-24 1-47 1-77 1 99 1 39 1 11 1 0 1-17 1 21 1-9 1-12 1 26 1 2 1-19 1 22 1-4 1-1 1-7 1-29 1-85 1 58 1 17 1-103 1-913 1 882 1-72 1-810 1 830 1 189 1 32 1-7 1 24 1-1 1-46 1-20 1-533 1 514 1 38 1-106 1-914 1 975 1 83 1 24 1-21 1-203 1 211 1 26 1-18 1 25 1-16 1-22 1-16 1-79 1 90 1 36 1 6 1 0 1-4 1-15 1-29 1 44 1-2 1-15 1-9 1 26 1 6 1-5 1-8 1-2 1-25 1-229 1 227 1 14 1 20 1-10 1 16 1 1 1 5 1-7 1-22 1-46 1-29 1 20 1-86 1-854 1 754 1 125 1-63 1-862 1 848 1 86 1-70 1-691 1 727 1 61 1-104 1-449 1 493 1 49 1-265 1 260 1-128 1 181 1 34 1 18 1-19 1 0 1 11 1-16 1-190 1 184 1 16 1 6 1-3 1 0 1-8 1-48 1 48 1-17 1 3 1-28 1-138 1 109 1 10 1-58 1 70 1 9 1-32 1 16 1-62 1 48 1 7 1-10 1-12 1-205 1 152 1 38 1-36 1 39 1-9 1 5 1-13 1-4 1-37 1-438 1 422 1 6 1-72 1 70 1-54 1 25 1 8 1-65 1-91 1-724 1 721 1 91 1 21 1-323 1 308 1-26 1-323 1-469 1 667 1 154 1-84 1-737 1 767 1-10 1-7 1-750 1 706 1-444 1 581 1-94 1 112 1 28 1 64 1 33 1 10 1-49 1-488 1 525 1 58 1 20 1 7 1-57 1 83 1 9 1 3 1-1 1 1 1-9 1 10 1 3 1 4 1 2 1 2 1-12 1 12 1-2 1-9 1 13 1-9 1 7 1-22 1 26 1 2 1 2 1 1 1 0 1 6 1-6 1 3 1 4 1-20 1 22 1 1 1 1 1 1 1-1 1 1 1-1 1-2 1 5 1-2 1 1 1-3 1-2 1 5 1-16 1 14 1 1 1 4 1-12 1 11 1 3 1-5 1 3 1-3 1 0 1 3 1-4 1 4 1 3 1 0 1 1 1-16 1 14 1 5 1-4 1-2 1 6 1-6 1 4 1-9 1 13 1 3 1-1 1 1 1-4 1 6 1 0 1-5 1-14 1-182 1 68 1 123 1 14 1-1 1 2 1 1 1-4 1 5 1 5 1 0 1-5 1-34 1 36 3 0 1 3 1-1 1-1 2 0 1 4 1-2 1-7 1 8 2 0 1-6 1 8 1-3 1 2 1-3 1 1 1 1 1-7 1 7 1 0 1-1 1-11 1 4 1 4 1 2 1 1 1 0 1-1 1-3 1 4 1 3 1-5 1-8 1 10 1-2 1 4 1-2 1-3 1 4 1 0 1-2 1 0 1 2 1 1 1-2 1-2 1-3 1 6 1 0 1-4 1 3 1 0 1 2 1 0 1-14 1 14 1 1 1 0 1 1 1-1 1-4 1 3 1-6 1 6 1 1 1-3 1 3 1-5 1-1 1 6 1-2 1-6 1 6 1-2 1 2 1 1 1-8 1 7 1-1 2 0 1-4 1 3 1-1 1 0 1 2 1-2 1 2 1 1 1-3 1-4 1 8 1-11 1 8 1 3 1-1 1 0 1 1 1-2 1 3 1-2 1-2 1-3 1-1 1 7 1-15 1 12 1-3 1 5 1-8 1 4 1-11 1 12 1 1 1 0 1 2 1-1 1 1 1-2 1 2 1-2 1 1 1-10 1 12 1-4 1 1 1-2 1 2 1-4 1-14 1 18 1 1 1 0 1-3 1 2 1-1 1 2 1 2 1 0 1 1 1-4 1 1 1-1 1 2 1 1 1-5 1-1 1 2 1-2 1-5 1 7 1 3 1-1 1-1 1 2 1 1 1-1 1 1 1-2 1 2 1 0 1-1 1 0 1-8 1 5 1 1 1-6 1 11 1-2 1-3 1 2 1-8 1-13 1 22 1-2 1 2 1-6 1 5 1-2 1-5 1 7 1 0 1 1 1-3 1-1 1 0 1 2 1-5 1 6 1 0 1 1 1-3 1 2 1-4 1 3 1-2 1 0 1 2 1-1 1 2 1-2 1 1 1-10 1 11 1-2 1-4 1 7 1-1 1-3 1-4 1 9 1-3 1-4 1 3 1 0 1 3 1-2 1 0 1 1 1 2 1 0 1-3 1 3 1 0 1-5 1 4 1-3 1 5 1-1 1-3 1 0 1-6 1 5 1 2 1-2 1 2 1-3 1-11 1 12 1 2 1-3 1 2 1 1 1-1 2 0 1-12 1 9 1 3 1-7 1-28 1 36 1 1 1-2 1 4 1-1 2 0 1-1 1-2 1 3 1-1 1-3 1-9 1 12 1-4 1 1 1 2 1 1 1 0 1-2 1 1 1 0 1 3 1-2 1 2 1-6 1-7 1 10 1 0 1-1 1-7 1-18 1 1 1-60 1-60 1-167 1-150 1-133 1-120 1-120 1-120 1-120 1-96" stroke="#000000"/>
<path d="M25 2457l1 3 1 4 1 5 1 3 1-5 1-7 1 13 1 3 1-19 1 22 1 0 1 14 1 1 1 12 1 7 1 2 1-13 1-4 1-5 1-9 1-39 1 22 1 1 1-6 1-47 1-82 1-87 1-79 1-83 1-78 1-85 1-76 1-104 1-60 1-81 1-83 1-87 1-85 1-25 21 0 1 1267 1 6 50 0 1-7 1-6 1-21 1 15 1-6 1 2 1-23 1-6 1 17 1-22 1 2 1 6 1 0 1-11 1 7 1-15 1 19 1-3 1-23 1 21 1-5 1-6 1 8 1-2 1-11 1 5 1-1 1-4 1 8 1-8 1 2 1-10 1 4 1-3 1-3 1 3 1-21 1 9 1 1 1-11 1-2 1-85 1 88 1 7 1-14 1-18 1-175 1 191 1-1 1 1 1 11 1-1 1-1 1-7 1-2 1-3 1 8 1-7 1 1 1-7 1-5 1 6 1-12 1 0 1-28 1 29 1 1 1 3 1 1 1 0 1-8 1-1 1-25 1-85 1 104 1 7 1-12 1 14 1-7 1 6 1-4 1-13 1 11 1-11 1 11 1-9 1-6 1 12 1-9 1 5 1-8 1 5 1 2 1-4 1-9 1 10 1-6 1 3 1 5 1-3 1-8 1-15 1 7 1 5 1 0 1-9 1-166 1 157 1 15 1-3 1 3 1-2 1-7 1 6 1-19 1 14 1-8 1 7 1 1 1-2 1-3 1-5 1-5 1 7 1 5 1-6 1 2 1-1 1-4 1-23 1 13 1 4 1 2 2 0 1-19 1 4 1 3 1 10 1-5 1-22 1-248 1 238 1 19 1-35 1-3 1-302 1 293 1-156 1 186 1-10 1-277 1 277 1 17 1 8 1 11 1-24 1 16 1 0 1 5 1 3 1-14 1 12 1-1 1 5 1 2 1 2 1-1 1-1 1 3 1-12 1 6 1 1 1 2 1-2 1-2 1-24 1 30 1-25 1 15 1 4 1-7 1-14 1 2 1-31 1 31 1 9 1 8 1-3 1-9 1 10 1-23 1 26 1 1 1-12 1-31 1 29 1 10 1 0 1-2 1-13 1 11 1-9 1 14 1-2 1 7 1-7 1 2 1-12 1-9 1 3 1 1 1 13 1-2 1-4 1 6 1-5 1-7 1-24 1 29 1 0 1 3 1-6 1 6 1-18 1 12 1 5 1-15 1 7 1-9 1 19 1-4 1 2 1 1 1 0 1 1 1-3 1 1 1-25 1-2 1-3 1 8 1 12 1-2 1 5 1-9 1 8 1-16 1 14 1 2 1 6 1-2 1-1 1-16 1-33 1-2 1 13 1-284 1 278 1 7 1-104 1 50 1-142 1 149 1 37 1 16 1 12 1 7 1-4 1 4 1-4 1 4 1-5 1 5 1-7 1 2 1-12 1 6 1-2 1-13 1-78 1-49 1 120 1 11 1-15 1 22 1 8 1 0 1-3 1 4 1 2 1-3 1-5 1-15 1-43 1 40 1 12 1 5 1-9 1-53 1 43 1-29 1 39 1-12 1 19 1-34 1-17 1 20 1 25 1 13 1-9 1-24 1 25 1-4 1 8 1 1 1-9 1-28 1 21 1-30 1-37 1 7 1 28 1 14 1 10 1-8 1-6 1-5 1-27 1-92 1 87 1 13 1-41 1 53 1 10 1-8 1-8 1 7 1 3 1-16 1 12 1-1 1-42 1-14 1 20 1-22 1-31 1-140 1 144 1 49 1 8 1-5 1-18 1 10 1 9 1 5 1 3 1-22 1-16 1-52 1 48 1-1 1-69 1-539 1 524 1 80 1 14 1-4 1 0 1-7 1-107 1 106 1-12 1 20 1-1 1 2 1-3 1-18 1-28 1-77 1-83 1 176 1-15 1 16 1-20 1 26 1-5 1-5 1 11 1-10 1-84 1 86 1 11 1-1 1-10 1-17 1-33 1 15 1 5 1-41 1-167 1 135 1 68 1-25 1 24 1-133 1 70 1 91 1-46 1-21 1 73 1-4 1-42 1-164 1 138 1-7 1-301 1 30 1-49 1 161 1 153 1-39 1 78 1-106 1 95 1 48 1-2 1-28 1-77 1-1 1 53 1-9 1-122 1-257 1 323 1 68 1 9 1-21 1-168 1 169 1-13 1-57 1-119 1 162 1-40 1-201 1-10 1 152 1 79 1-7 1 18 1-76 1 34 1 40 1 25 1-12 1-2 1 17 1 9 1-9 1 13 1 0 1-10 1-97 1 98 1 24 1-2 1-10 1 15 1 16 1-6 1-1 1 4 1-20 1 14 1-61 1 71 1-9 1-5 1-57 1-62 1 6 1-257 1 261 1 20 1 71 1-88 1 106 1-95 1 119 1 17 1 11 1-4 1-74 1-32 1-637 1 697 1 57 1 4 1-10 1-21 1-435 1 353 1 50 1 69 1 16 1-20 1-23 1 39 1-1 1 19 1-11 1 30 1-34 1-63 1 69 1-15 1-101 1 115 1-1 1-61 1 74 1-3 1-76 1-129 1 196 1 36 1-30 1 46 1-1 1-38 1 33 1 18 1-17 1 15 1-4 1-35 1 32 1-26 1-554 1 263 1 307 1-3 1-15 1 42 1 4 1 4 1-11 1-85 1-254 1 242 1 75 1 0 1-172 1-24 1 214 1 33 1-11 1 23 1-2 1 8 1-15 1-27 1-32 1 1 1-90 1 107 1-61 1-186 1 243 1-85 1 121 1 16 1-21 1 19 1 17 1-4 1 5 1 6 1-2 1-6 1 3 1-4 1-40 1 30 1 12 1-27 1 32 1 6 1-6 1-15 1 11 1-18 1-57 1 52 1 11 1-61 1 43 1 32 1-38 1 35 1-35 1 22 1-248 1 257 1 14 1 14 1-13 1-204 1 208 1 15 1-1 1 5 1-5 1-5 1-3 1-43 1 7 1-29 1 27 1 46 1-6 1-49 1 55 1 4 1 2 1 5 1-5 1-11 1 13 1 7 1-3 1-4 1-6 1 3 1-5 1 6 1 4 1-5 1-1 1 0 1-20 1 11 1-14 1-45 1 58 1 8 1 6 1-3 1-3 1-4 1-6 1 17 1-1 1 4 1-19 1 15 1-11 1 8 1 11 1-14 1 8 1-8 1-21 1 0 1 15 1-2 1 7 1 7 1-21 1 18 1-8 1-12 1-106 1 101 1 18 1-2 1 3 1-12 1-182 1 184 1-11 1 22 1-1 1 6 1-7 1 5 1-4 1 4 1-1 1 3 1 1 1-5 1 0 1 6 1-3 1-18 1 16 1 4 1-4 1 4 1-39 1 37 1 4 1-2 1-1 1-4 1 1 1 3 1 2 1-12 1-24 1 31 1-31 1 27 1-3 1-12 1-9 1 26 1-9 1 5 1 5 1-7 1-14 1-27 1 33 1 10 1 6 1 2 1-7 1-9 1 12 1-1 1-15 1-151 1 157 1 8 1 5 1-1 1-1 1-40 1 36 1-9 1-202 1 202 1-10 1 20 1 6 1-13 1-29 1 12 1 30 3 0 1-6 1-16 1 11 1 12 1 2 1-2 1-7 1 2 1-6 1 12 1-19 1 13 1 8 1-4 1-1 1 2 1-7 1-34 1-40 1 35 1 1 1-6 1-31 1 10 1 37 1 14 1-29 1-40 1-209 1 182 1 39 1 54 1 13 1-12 1 7 1-1 1 9 1-6 1 10 1 4 1-12 1 16 1 5 1-2 1-20 1 5 1 0 1 9 1-10 1 9 1-13 1 3 1 11 1-7 1-4 1-6 1 8 1-10 1 16 1-10 1-35 1 34 1 7 1 1 1 5 1 4 1-4 1-8 1-8 1-181 1 184 1 4 1 10 1-2 1-11 1-50 1-57 1 73 1 36 1-17 1 27 1-16 1 10 1-44 1 1 1-23 1 22 1 32 1 17 1-13 1-52 1 51 1-7 1-5 1 27 1-15 1 19 1-2 1 8 1-17 1 7 1-3 1-4 1-9 1-3 1 9 1-59 1-74 1 98 1 28 1-17 1 19 1 12 1-3 1-24 1-32 1 35 1-65 1 8 1 50 1 36 1 2 1-1 1-17 1 14 1 1 1-10 1-21 1 24 1 5 1-7 1 12 1-9 1-12 1-18 1-100 1 97 1 16 1 14 1-11 1 22 1-4 1 6 1-28 1-8 1 18 1 2 1 10 1-3 1-129 1 120 1 17 1-7 1-19 1-53 1 57 1 16 1-12 1-24 1 6 1-35 1 42 1 4 1-114 1 128 1 8 1-6 1-11 1 8 1-31 1-130 1 122 1 8 1 34 1 1 1 5 1 1 1 7 1-2 1-8 1-10 1 11 1 2 1 3 1-37 1 7 1-22 1 23 1 25 1 1 1-3 1-12 1-20 1 22 1 12 1-9 1 1 1 12 1-34 1 33 1 3 1-5 1 2 1-1 1-5 1-6 1 13 1-2 1-16 1-4 1 17 1 3 1-24 1 20 1 3 1-12 1-31 1 41 1 8 1-7 1 9 1-12 1 14 1-10 1-9 1 3 1-8 1-9 1 23 1 3 1-8 1-22 1 5 1 0 1 10 1-17 1 9 1 17 1 7 1-7 1 2 1 2 1-1 1-9 1-11 1 15 1-9 1-52 1-79 1 137 1-18 1 32 1-4 1-24 1 9 1 9 1 2 1-6 1 5 1-6 1-54 1 42 1 14 1 4 1 0 1-19 1-19 1-242 1 259 1 13 1 4 1 4 1-3 1-8 1 2 1 5 1-13 1-188 1 180 1 18 1-2 1-5 1-13 1 20 1-44 1 48 1-17 1 2 1-15 1 20 1 1 1-8 1-25 1 38 1 7 1-5 1 0 1 3 1-24 1-3 1 13 1 9 1-22 1 1 1 19 1-1 1-32 1 13 1-31 1-150 1-877 1 903 1 95 1 61 1 8 1-30 1 26 1 3 1 6 1-41 1 38 1-17 1 10 1 3 1 7 1-12 1 2 1 4 1-6 1-4 1-6 1-32 1-487 1 475 1 28 1-15 1-275 1 280 1 18 1-14 1-240 1 241 1 8 1 6 1 2 1-8 1-18 1-22 1 3 1 33 1-9 1 12 1-5 1-12 1-31 1 29 1 7 1-34 1 36 1-38 1 24 1-18 1 27 1-1 1-4 1-29 1 1 1-27 1 34 1-3 1 19 1 2 1-22 1 13 1 8 1-30 1 19 1 10 1-5 1-5 1-4 1-11 1 15 1 4 1-35 1 24 1-7 1 8 1-19 1-69 1 60 1-18 1 0 1-92 1 26 1 70 1-42 1-13 1-18 1-219 1-661 1 475 1 333 1-27 1-59 1-722 1 803 1 101 1-8 1-61 1-557 1 542 1 92 1-7 1-38 1-494 1 489 1 22 1 27 1-90 1-821 1 835 1 93 1-7 1-92 1-542 1 612 1 57 1 4 1 23 1 4 1-29 1-28 1 42 1-5 1-12 1-97 1 96 1 39 1 17 1 6 1-8 1 3 1 17 1-4 1 8 1-4 1-3 1-2 1-19 1-68 1 63 1 18 1-25 1 32 1-2 1 2 1-1 1 0 1 7 1 1 1-2 1-7 1-21 1-335 1 327 1 13 1-83 1-310 1 360 1 36 1-2 1-29 1 21 1-42 1 56 1 4 1 6 1-18 1 17 1-8 1 14 1 1 1-27 1 23 1-8 1-41 1-34 1 40 1 6 1 23 1 10 1 0 1-2 1 2 1-16 1 11 1 1 1 10 1-11 1-22 1 12 1-38 1-37 1 64 1 9 1 5 1-11 1 2 1-4 1-6 1 9 1-5 1-1 1 13 1-22 1-62 1 57 1 13 1-13 1-12 1 23 1-6 1 0 1-27 1-105 1-852 1 840 1 95 1 11 1-108 1-838 1 861 1 110 1 25 1 4 1 8 1 5 1 3 1-2 1 2 1 2 1 1 1-2 1 4 1 0 1-16 1-1 1 18 1 1 1-2 1 2 1 2 1 9 1-25 1 15 1 2 1-10 1-27 1 32 1-13 1 16 1-21 1-34 1 33 1 17 1 14 1-2 1-21 1-168 1 172 1-53 1 47 1 13 1 12 1 9 1-9 1-11 1-12 1 18 1 9 1-23 1 26 1-3 1-24 1 26 1 1 1-2 1-5 1 11 1-1 1 0 1-1 1-11 1-24 1-9 1 7 1 20 1-15 1-44 1 48 1 7 1 1 1-1 1-9 1-19 1 13 1 6 1-8 1-12 1 4 1 14 1-1 1-10 1 5 1 0 1-4 1-10 1 1 1-19 1-29 1 43 1-1 1 0 1-21 1-21 1 15 1 41 1 9 1 4 1-10 1-13 1 11 1 18 1 1 1 3 1-18 1 20 1 1 1 4 1-2 1 1 1-3 1 1 1 0 1-22 1 17 1-13 1-20 1-69 1 88 1 14 1 7 1 2 1-1 1-2 1-1 1 0 1 5 1-6 1-8 1-33 1 16 1-17 1 25 1 16 1 6 1-6 1 0 1-39 1 14 1-57 1 59 1 21 1-2 1-3 1-41 1 11 1 4 1 17 1-15 1-68 1-692 1 645 1 77 1-71 1-122 1-762 1 755 1 136 1 7 1-118 1-780 1 676 1 176 1 51 1-50 1-370 1 412 1 37 1 12 1-15 1-113 1-816 1 825 1 99 1 31 1 21 1-87 1 97 1 1 1 23 1 3 1-15 1-23 1 35 1 7 1 2 1-6 1 3 1-1 1-13 1-48 1 16 1-88 1-882 1 877 1 103 1 18 1-34 1-480 1 485 1 40 1-10 1 17 1 2 1 3 1 2 1-22 1 6 1 6 1 6 1 8 1-8 1 10 1 5 1-9 1 1 1-13 1-3 1 20 1-14 1 9 1 6 1-6 1-13 1-3 1 3 1-11 1 10 1-30 1-25 1 22 1 12 1-97 1 74 1 34 1 37 1 8 1-10 1-8 1 22 1 0 1-9 1 0 1 3 1-46 1-10 1 40 1 16 1-4 1 6 1-8 1-11 1 1 1 14 1-19 1-21 1 24 1 4 1-7 1-26 1 19 1-5 1-48 1-470 1 448 1 9 1-26 1-76 1 109 1 9 1-22 1 8 1 18 1-13 1 12 1-6 1-293 1 305 1 31 1 4 1 1 1-176 1 184 1 7 1 21 1-6 1-1 1 5 1-4 1 38 1 2 1-9 1 5 1-3 1-29 1-47 1 66 1 11 1 0 1-11 1-43 1-73 1 86 1 19 1 9 1 13 1-24 1 21 1-2 1-17 1 16 1 9 1-3 1 1 1 6 1 1 1 0 1-26 1-1 1 18 1-6 1-55 1-644 1 595 1-119 1-845 1 878 1 161 1 31 1-25 1 35 1-10 1-37 1-53 1-704 1 690 1 82 1-104 1-944 1 981 1 98 1 12 1-27 1-111 1 113 1 30 1 7 1 8 1-23 1-30 1-45 1-138 1 168 1 58 1 9 1 11 1 6 1-6 1-8 1 6 1-6 1-14 1-24 1 39 1 3 1-5 1-8 1-5 1-45 1-165 1 158 1 28 1 30 1 9 1 5 1 2 1 3 1-16 1-5 1-44 1-57 1 23 1-135 1-890 1 754 1 217 1-37 1-581 1 552 1 36 1-194 1-747 1 786 1 156 1-142 1-800 1 815 1 160 1-162 1 166 1 7 1 63 1 55 1-3 1 7 1-33 1 26 1-2 1-99 1 87 1 23 1-29 1 19 1-1 1-22 1-45 1 51 1-5 1-20 1-70 1-196 1 182 1 12 1-164 1 215 1 11 1 2 1-34 1-126 1 127 1 20 1-12 1-15 1-247 1 163 1 28 1 26 1 23 1 1 1-29 1 27 1 3 1-6 1-152 1 99 1-9 1-195 1 176 1-115 1 88 1 24 1-71 1-111 1-733 1 711 1 143 1-6 1-508 1 510 1 1 1-199 1-652 1 723 1 143 1-83 1-783 1 772 1 20 1-148 1-644 1 586 1-285 1 552 1 33 1 23 1-58 1 140 1 32 1 6 1-34 1-459 1 480 1 52 1 16 1 1 1-136 1 153 1 19 1-10 1 17 1-7 1-9 1 9 1 1 1 6 1 2 1 2 1-3 1-7 1 9 1-16 1 14 1 2 1-3 1-97 1 96 1 10 1 4 1 4 1 3 1-1 1 2 1 0 1 3 1 0 1-1 1 0 1 2 1-5 1-7 1 12 1-2 1-7 1 8 1 2 1 2 1-2 1 0 1-1 1-18 1 20 1 0 1 2 1-2 1-5 1 2 1 6 1-5 1 1 1-8 1 12 1 0 1-3 1 3 1-2 2 0 1 1 1-8 1 11 1 1 1-1 1 2 1-5 1-10 1 15 1 3 1-3 1-7 1 8 1 3 1-1 1-2 1-3 1-33 1-39 1 75 1 5 1 1 1 0 1-10 1 14 3 0 1-4 1-31 1 33 1 0 1-1 1 3 1 0 1 2 1-1 1 0 1 1 1 0 1-3 1 0 1 1 1 0 1-3 1 2 1 2 1-1 1-8 1 8 1 0 1-5 1 8 1-2 1 1 3 0 1-4 1 4 1 0 1-4 1 6 1-5 1 2 1-7 1 8 1 1 1-10 1 10 1-4 1-3 1 4 1 1 1 0 1-5 1 5 2 0 1 1 1-4 1 5 1-2 1 1 1 0 1-8 1 7 1 1 1-10 1 7 1 4 1-4 1 4 1-3 1 3 1-1 1-9 1 8 1-1 1 1 1-2 1-1 1 2 1 1 1 0 1-1 1-4 1 6 1-1 1-8 1 9 1 1 1 1 1-4 1 4 1-7 1 8 1 0 1-10 1 8 1-1 1 0 1-6 1 5 1-5 1 3 1 3 1-1 1-1 1 2 1 0 1-1 1-1 1 1 1 1 1-3 1 0 1 1 1 0 1-2 1 1 2 0 1-1 1 0 1 3 1 4 1-6 1 5 1 2 1-4 1 1 1 1 1-2 1 1 1 1 1-3 1-2 1 5 1-1 1-3 1 3 1-3 1 2 1-3 1 0 1 5 1-1 1-1 1 1 1-4 1 0 1-15 1 14 1 1 1 2 1-8 1 9 1-5 1 3 1 1 1 2 1-1 1-7 1 6 1 4 1-4 1 2 1-16 1 15 1-6 1 7 1-1 1-3 1-12 1 13 1 1 1-7 1 4 1-2 1-5 1 12 1-4 1 2 1-1 1 0 1 1 1 1 1-4 1 2 1 2 1-1 1-4 1 6 1-4 1-3 1 4 1-3 1 5 1 0 1-7 1 8 1-7 1 8 1-3 1 1 1-3 1 2 1 1 1 0 1-3 1 3 1-1 2 0 1-1 3 0 1-1 1 3 1-2 1-3 1-5 1 4 1 1 1 4 1 1 1-3 1-6 1 12 1 0 1-1 1 2 1-4 1-10 1 8 1 3 1-3 1-6 1 11 1-3 1-13 1 14 1 0 1-1 1 2 1-2 1-3 1 5 1-16 1 13 1-3 1 6 1-1 1-9 1 11 1-3 2 0 1-3 1 1 1 2 1-1 1-4 1-48 1 45 1 1 1 5 1 0 1 3 1-2 1-1 1 1 1-1 1-2 1 2 1 1 1 2 1-4 1 2 1 0 1 2 1-1 1-5 1 4 1 2 1-8 1 3 1 4 1 1 1-4 1 4 1-3 1 0 1 1 1-8 1-8 1-9 1-60 1-60 1-167 1-150 1-133 1-120 1-120 1-120 1-120 1-99" stroke="#a000a0"/>
<path d="M25 2443l1-2 1 3 1-1 1 9 1-2 1-13 1 13 1 2 1-1 1 7 1 9 1 8 1-1 1 13 1-7 1 20 1-8 1-14 1-14 1-8 1-8 1-6 1 0 1-7 1-10 1-93 1-84 1-66 1-82 1-81 1-71 1-87 1-79 1-106 1-55 1-76 1-81 1-82 1-62 21 0 1 801 1 472 3 0 1-1 1 1 57 0 1-6 1 6 10 0 1-6 1 6 1 0 1-15 1 9 1-1 1-3 1-9 1-9 1 3 1 5 1 1 1-17 1 6 1-2 1-1 1-35 1-285 1 297 1-6 1-3 1 0 1-275 1 277 1 13 1-21 1 26 1-6 1-1 1 5 1-6 1-11 1 6 1 4 1-10 1 3 1-3 1-3 1-2 1-7 1-9 1 10 1 2 1-7 1 7 1-3 1 2 1-6 1-22 1-231 1 227 1 23 1-3 1-7 1 4 1-2 1-2 1-5 1 6 1 1 1 0 1-9 1 6 1-1 1 0 1-7 1 4 1 0 1-7 1 4 1-14 1 9 1 2 1-10 1 6 1 7 1 1 1-6 1-1 1 0 1-7 1-12 1-174 1 167 1 13 1 6 1-4 1 1 1-20 1 13 1 2 1-2 1-3 1 3 1-29 1 19 1-3 1 6 1 5 1-3 1-9 1 9 1 2 1 0 1-10 1-1 1-7 1 9 1-1 1-1 1 0 1-11 1-16 1 16 1 0 1-2 1-16 1-216 1 210 1 8 1-39 1 12 1-230 1 215 1-127 1 153 1-11 1-334 1 327 1 35 1 9 1 9 1-2 1-8 1 6 1-5 1 3 1 1 1-6 1 9 1 4 1-5 1-12 1 11 1 0 1-2 1-10 1 7 1 4 1 0 1-2 1-4 1-2 1 1 1 1 1 3 1-7 1 1 1-10 1-8 1-84 1 61 1 40 1 2 1-5 1 1 1-8 1 7 1 6 1-9 1 6 1 5 1-31 1 22 1 4 1 0 1 1 1-24 1 21 1-2 1 0 1-9 1 3 1 6 1-7 1-47 1 38 1 6 1 9 1-3 1-1 1 2 1-14 1 5 1-41 1 36 1 12 1-2 1 4 1-8 1-10 1 13 1 4 1-31 1 7 1 19 1-1 1-11 1 12 1-1 1 2 1 2 1-7 1-12 1 5 1-39 1 26 1 5 1-1 1-26 1 35 1-1 1 4 1-12 1 16 1 0 1-5 1 4 1-2 1-9 1-40 1 14 1-2 1-289 1 287 1 7 1-174 1 152 1-110 1 124 1 13 1 15 1 5 1 0 1-20 1 11 1 6 1 5 1-5 1 4 1 0 1-7 1-9 1 6 1-5 1-50 1-300 1 215 1 88 1 25 1-16 1 35 1 8 1 3 1 4 1-1 1-2 1-2 1-17 1-10 1-32 1 35 1 23 1 3 1-5 1-51 1 29 1-27 1 31 1 11 1-9 1 0 1-66 1 64 1 7 1 2 1-7 1-12 1 21 1 4 1-8 1 9 1-28 1 4 1 6 1 4 1-40 1-5 1 8 1 32 1 1 1 12 1-6 1-21 1 0 1-8 1 15 1-6 1-50 1 51 1 5 1 3 1-16 1 5 1-10 1-6 1 14 1-14 1-3 1-36 1 28 1-31 1-8 1-148 1 147 1 42 1 7 1-39 1 29 1-41 1 48 1 0 1-12 1-20 1-30 1-72 1 95 1 8 1-58 1-622 1 622 1 59 1 10 1-12 1 7 1-31 1-69 1 72 1 26 1 12 1-9 1-3 1-4 1-11 1-53 1-76 1-23 1 131 1-27 1 39 1-17 1 8 1-42 1 27 1 18 1-17 1-374 1 360 1 20 1 23 1 5 1-14 1-3 1-8 1 15 1-18 1-111 1 60 1 34 1-26 1-27 1-152 1 89 1 121 1-36 1-72 1 134 1 10 1-24 1-73 1 68 1-39 1-210 1-120 1-102 1 187 1 166 1-104 1 169 1-87 1 98 1 32 1 20 1-38 1-26 1-85 1 126 1 3 1-46 1-225 1 242 1 15 1-6 1-28 1-209 1 208 1-7 1-79 1-313 1 342 1-45 1-215 1-94 1 169 1 173 1 10 1-17 1-399 1 365 1 58 1 44 1 10 1 0 1 5 1-9 1-53 1 62 1 7 1-15 1-66 1 69 1 14 1-2 1-18 1 28 1-11 1 20 1-4 1-6 1-37 1 16 1-61 1 74 1 20 1-9 1-41 1 2 1-41 1-252 1 241 1-33 1 67 1-4 1 50 1-25 1 51 1-8 1 12 1-21 1-55 1-107 1-748 1 814 1 101 1 27 1-3 1 2 1-151 1 86 1 40 1 23 1 34 1-7 1-46 1 51 1 2 1 14 1 0 1 1 1-7 1-36 1 43 1-12 1-45 1 55 1 8 1-36 1 45 1-5 1-33 1-74 1 77 1 15 1-36 1 53 1 4 1-26 1 20 1 21 1 16 1 0 1-9 1-16 1 22 1-27 1-416 1-43 1 443 1 28 1-65 1 82 1 21 1 0 1-24 1-94 1-313 1 296 1 87 1-40 1-268 1 63 1 238 1 40 1-65 1 77 1 13 1 26 1-29 1-9 1-37 1 9 1-62 1 77 1-17 1-382 1 362 1-117 1 145 1 41 1-11 1 27 1 7 1-2 1-3 1 9 1-5 1 1 1-16 1 8 1-95 1 64 1 20 1-31 1 41 1 16 1-4 1-11 1 2 1-12 1-64 1 57 1-14 1-55 1 67 1 24 1-8 1-8 1-54 1 66 1-52 1 70 1 10 1-10 1-12 1-242 1 228 1 32 1-8 1 17 1-7 1 5 1-21 1-47 1 38 1-22 1 36 1-14 1 29 1-55 1 58 1 7 1-3 1 2 1-2 1-6 1 13 1-31 1 25 1-2 1-8 1-9 1 4 1 10 1-3 1 0 1 1 1 4 1-15 1 8 1-18 1-71 1 75 1 17 1 5 1-2 1 2 1-28 1 7 1 18 1 1 1-2 1 2 1-4 1-17 1 18 1-4 1 13 1 0 1-5 1-10 1-10 1 10 1-21 1 28 1-1 1-17 1-3 1 18 1-12 1-122 1 99 1 26 1 9 1-2 1-31 1-223 1 243 1 9 1-9 1 8 1 6 1-6 1-8 1-1 1 9 1 7 1-10 1 6 1-6 1 10 1 2 1-3 1-17 1 15 1-1 1 3 1-10 1-99 1 96 1 7 1-4 1 4 1-1 1 3 1 3 1-5 1-3 1 0 1 7 1-3 1-7 1 3 1-6 1 6 1 6 1-14 1 17 1-5 1 8 1-6 1-25 1 20 1 9 1-4 1 7 1 1 1 3 1-4 1-4 1-26 1-53 1 74 1 0 1 4 1 2 1-4 1-13 1 13 1-11 1-69 1 78 1 8 1 4 1-3 1-2 1-20 1 18 1 7 1 0 1-26 1 19 1 6 1-4 1-15 1 7 1 2 1-20 1-17 1 30 1 17 1 1 1-11 1 11 1-1 1 4 1-3 1-1 1-12 1-34 1-125 1 99 1 32 1-53 1 51 1-61 1 73 1 4 1-12 1-27 1-239 1 189 1-167 1 238 1 19 1 0 1-4 1 11 1 1 1-6 1 9 1-13 1 11 1 8 1 0 1 9 1-15 1 9 1-2 1-7 1 14 1-7 1 0 1-5 1 11 1-9 1-12 1 3 1 6 1 2 1 3 1-12 1-31 1 31 1 2 1 8 1-18 1 22 1-17 1 14 1-30 1-210 1 196 1 46 1 6 1-9 1-1 1 1 1-55 1 49 1 9 1-28 1 20 1 1 1-21 1-14 1-33 1 25 1-69 1 103 1 5 1-18 1-37 1 29 1 17 1-21 1 25 1 3 1 11 1-4 1 13 1-18 1 17 1-4 1-8 1-52 1 44 1-7 1-52 1-35 1 76 1 19 1-23 1 12 1 16 1-8 1-46 1-133 1 158 1-56 1 8 1 64 1 15 1-19 1 23 1-2 1 10 1-5 1-3 1-16 1 7 1 5 1 4 1 0 1 3 1-11 1-17 1-23 1 31 1-1 1 6 1-7 1 13 1 10 1-3 1-29 1-46 1 61 1 8 1-15 1-3 1-397 1 396 1 24 1 1 1-14 1-66 1 65 1-3 1 13 1-20 1 13 1-36 1 36 1 5 1-71 1 76 1-21 1 19 1-30 1 11 1-78 1-285 1 331 1 20 1 30 1 4 1 10 1-10 1-2 1 7 1 6 1-15 1 11 1-8 1 7 1-35 1-1 1-18 1 36 1 23 1 0 1 1 1-8 1-33 1 23 1 19 1 1 1 0 1-8 1-22 1 26 1-24 1 27 1-18 1 19 1-2 1-14 1 8 1-10 1 1 1-18 1 31 1-19 1-4 1 11 1 4 1-29 1-84 1 75 1 18 1 26 1 0 1-1 1 7 1-12 1-5 1 11 1-2 1-23 1 23 1-1 1-20 1 3 1 14 1 2 1-7 1-27 1-1 1 12 1 13 1 12 1-7 1 5 1-9 1 0 1-10 1 14 1 5 1-7 1-92 1 96 1 5 1-3 1 2 1-7 1-7 1-3 1 12 1-1 1 2 1-11 1-28 1 30 1 4 1-7 1 6 1 0 1-17 1-122 1 132 1 11 1 1 1-3 1-9 1 14 1-3 1 3 1-15 1-88 1 82 1 12 1-2 1-7 1 15 1-6 1-38 1 42 1-1 1-7 1-28 1 28 1 0 1-18 1-44 1 42 1 17 1-6 1 10 1 4 1-13 1-44 1 50 1 4 1-21 1 9 1 5 1-7 1-24 1-4 1-28 1-134 1-902 1 901 1 143 1 29 1-1 1-26 1 28 1 6 1-2 1 4 1-5 1-10 1 11 1-1 1-5 1 2 1 4 1-1 1 2 1 0 1-11 1-4 1-113 1 95 1-8 1 4 1-261 1 206 1 55 1-24 1-479 1 479 1 37 1 1 1 6 1-8 1-8 1-25 1 10 1 21 1 3 1 0 1-1 1-4 1-10 1 4 1 5 1-23 1 15 1-5 1-9 1-45 1 45 1-16 1 0 1 9 1 11 1-31 1 27 1-4 1 4 1 7 1-13 1 15 1-4 1 5 1-10 1 4 1-5 1-1 1-7 1-15 1 21 1-2 1-4 1-9 1 3 1 2 1-22 1-31 1 31 1-14 1 2 1-337 1 271 1 67 1-44 1-4 1 3 1-149 1-787 1 623 1 253 1-14 1-76 1-786 1 839 1 89 1-5 1-113 1-810 1 796 1 90 1-5 1-36 1-701 1 718 1 46 1 35 1-77 1-866 1 870 1 92 1 1 1-117 1-846 1 871 1 114 1 15 1 12 1-1 1-57 1-9 1 58 1-4 1 16 1-73 1 63 1 26 1-10 1 20 1 0 1 1 1 13 1-7 1 0 1 11 1 0 1-2 1-6 1-22 1-10 1 26 1-22 1 27 1 3 1 1 1-12 1 15 1-2 1 1 1-8 1-3 1 5 1-178 1 157 1 10 1-37 1-185 1 185 1 35 1-12 1-55 1 44 1-49 1 78 1-6 1 12 1-6 1 9 1-11 1 11 1-3 1-2 1 1 1-6 1-35 1-287 1 266 1 10 1 39 1 10 1-25 1 26 1-3 1-23 1 27 1-7 1-3 1-2 1-23 1 13 1-41 1-75 1 96 1 27 1 3 1-5 1-14 1-2 1 16 1-6 1 8 1 7 1-21 1 12 1-51 1 46 1 9 1-12 1-5 1 13 1-5 1-10 1-32 1-115 1-868 1 858 1 115 1 26 1-87 1-631 1 689 1 59 1 18 1-3 1 12 1 7 1-2 1 7 1-25 1 22 1 3 1-2 1 3 1 2 1-1 1 1 1-6 1 9 1-6 1-1 1 1 1 8 1-7 1 5 1-9 1 2 1-26 1 21 1 8 1-1 1-6 1-46 1 18 1-6 1 24 1 8 1-28 1-420 1 391 1-25 1 76 1 12 1 9 1 6 1-16 1 15 1-11 1 1 1 8 1-13 1 13 1-10 1-29 1 33 1 8 1 4 1-39 1 44 1-5 1-1 1-7 1-9 1 2 1-27 1 23 1 4 1-10 1-46 1 36 1 14 1-10 1 8 1-1 1-20 1 1 1 17 1 0 1-9 1-21 1 13 1 15 1-16 1 17 1-17 1 11 1-5 1-7 1-6 1-29 1 27 1-12 1 9 1-24 1 3 1 9 1 21 1 6 1 1 1-7 1-3 1 11 1-8 1 13 1 5 1-2 1-2 1-20 1 18 1 4 1 0 1 2 1-7 1 1 1-6 1-24 1 6 1-9 1-71 1 77 1 17 1 17 1-6 1 1 1-4 1-13 1 15 1 7 1-9 1-18 1 13 1 7 1 0 1 8 1 1 1-6 1-2 1-2 1-16 1 12 1-29 1 32 1 3 1-3 1-5 1-30 1 12 1 5 1 4 1-22 1-59 1-675 1 661 1 36 1-20 1-52 1-763 1 739 1 75 1 6 1-52 1-531 1 450 1 90 1 15 1-79 1-757 1 783 1 64 1 34 1-12 1-76 1-858 1 864 1 99 1 26 1 3 1-38 1 46 1 17 1 7 1-1 1-16 1 5 1 14 1-4 1-7 1-3 1-15 1 5 1 3 1-31 1-8 1-112 1-885 1 883 1 111 1-9 1-131 1-854 1 864 1 136 1 14 1 16 1 16 1 7 1-3 1 4 1 2 1-8 1 7 1 3 1-30 1 33 1-10 1 7 1-3 1 5 1 1 1 0 1-4 1 5 1-11 1-4 1-3 1-17 1 20 1-18 1 21 1-6 1-68 1 54 1-2 1-52 1 31 1 14 1 40 1-16 1 5 1-16 1 27 1 1 1-10 1 4 1-7 1-62 1-17 1 71 1 16 1 3 1-9 1 8 1-8 1 7 1-2 1-6 1-23 1 23 1 0 1-16 1-22 1 21 1-7 1-41 1-497 1 474 1 8 1 9 1-305 1 304 1 18 1-35 1 41 1-18 1-11 1 29 1-9 1-143 1 163 1 26 1 1 1-32 1-411 1 427 1 3 1 40 1-1 1 10 1 10 1-5 1 19 1 10 1-5 1-7 1-3 1-35 1-29 1 37 1 41 1-2 1-6 1-30 1-65 1 54 1 36 1 4 1-3 1-30 1 25 1 4 1-1 1 15 1 3 1-17 1 13 1 2 1-1 1 0 1-14 1-102 1 98 1 5 1-36 1-517 1 496 1-22 1-659 1 681 1 66 1-12 1 12 1 3 1 4 1-30 1-76 1-830 1 820 1 44 1-137 1-904 1 1007 1 94 1 8 1-12 1-82 1 88 1 23 1 4 1 5 1-29 1-19 1-27 1-194 1 218 1 41 1 15 1 0 1-1 1 2 1-18 1 13 1-9 1-3 1-7 1 17 1-8 1 2 1-15 1-2 1-23 1-120 1 111 1 17 1 30 1 5 1 3 1-7 1 8 1-5 1-23 1-50 1-77 1 32 1-158 1-854 1 738 1 203 1-117 1-824 1 818 1 168 1-54 1-688 1 709 1 66 1-173 1-846 1 873 1 147 1-227 1 206 1-59 1 154 1 25 1 9 1 0 1-24 1-5 1-1 1-146 1 147 1 17 1-4 1 3 1-4 1-20 1-216 1 220 1 0 1-20 1-74 1-202 1 191 1 25 1-335 1 371 1 25 1 3 1-14 1-83 1 83 1 2 1-11 1-21 1-290 1 256 1 45 1-13 1 23 1-24 1 12 1-1 1-24 1 10 1-227 1 219 1-5 1-56 1 16 1-368 1 329 1 39 1-27 1-50 1-687 1 649 1 53 1-43 1-779 1 768 1 47 1-178 1-729 1 842 1 114 1-45 1-559 1 546 1-36 1 8 1-487 1 450 1-305 1 419 1-7 1-13 1-34 1 107 1 49 1 13 1-34 1-383 1 386 1 44 1 20 1-14 1-113 1 141 1 14 1 2 1 1 1 0 1-10 1 13 1 2 1 0 1-4 1 10 1 1 1 1 1 0 1-2 1-11 1 11 1 0 1-78 1 79 1 9 1 2 1 2 1 1 1 1 1-5 1 6 1 1 1 1 1-3 1-4 1 12 1-3 1-4 1 0 1-2 1-7 1 19 1-31 1 30 1-1 1-2 1 4 1-5 1 4 1-1 1 3 1 0 1-1 1 0 1-2 1-4 1 5 1-2 1 0 1 11 1-3 1-12 1 13 1-7 1-6 1 0 1 12 1 0 1 2 1-8 1 4 1 2 1-16 1 18 1-4 1 5 1-1 1 1 1 2 1 0 1-4 1-10 1-138 1 37 1 102 1-7 1 18 1 3 1-4 1 7 1 0 1-3 1 0 1-3 1-52 1 55 1 1 1-10 1 7 1 5 1 0 1-2 1-2 1 6 1-1 1 2 1-8 1 6 1-2 1 0 1 1 1-5 1 5 1 0 1-4 1 5 1-4 1 1 1-3 1 3 2 0 1 1 1 1 1-1 1-5 1 7 1-27 1 25 1-3 1 2 1 2 1-3 1-11 1 14 1-1 1 2 1-1 1-4 1 6 1-6 1 4 1-1 1 2 1 1 1-3 1 1 1-1 1 0 1 1 1-1 1 1 1 0 1-5 1-3 1 2 1 6 1 0 1 2 1-2 1 1 1 3 1-3 1-1 2 0 1-8 1 8 1-2 1 2 1 1 1 0 1-2 1-2 1 3 1 1 1 1 1-2 1-1 1 2 1-1 1-1 1-5 1 2 1 4 1-10 1 9 1-3 1 4 1-1 1 0 1-1 1-4 1-7 1 16 1-4 1 3 1-5 1 4 1-1 1 3 1-20 1 18 1 1 1-2 1-2 1 0 1 4 1-8 1-1 1-5 1 3 1 9 1-2 1-1 1-1 1 4 1-2 1-4 1 3 1 2 1-5 1 6 1-3 1-5 1 8 1 1 1 1 1-1 1 0 1-1 1 0 1 1 1 1 1-4 1 1 1 2 1-4 1-1 1 3 1 2 1-1 1 1 1-1 2 0 1 3 1-2 1 2 1 0 1-2 1 0 1-3 1 2 1 0 1 2 1-4 1 1 1 1 1-1 1-7 1 6 1 4 1 0 1-12 1 10 1 1 1-2 1 0 1-3 1 3 1 1 1 0 1 1 1-1 1-10 1 8 1-3 1 7 1-3 1-6 1 6 1-5 1 6 1 0 1-1 1 4 1-1 1 0 1-2 2 0 1-1 1-1 1 1 2 0 1-3 1 3 1 3 1-8 1 7 1 3 1-3 1 1 1-17 1 17 1-1 1 0 1-6 1 3 1 1 1 1 1 1 1-2 1 1 1 0 1-7 1 7 1-2 1 0 1 3 1-1 1 0 1-3 2 0 1-1 1 6 1-3 1 0 1 3 1 1 1-3 1 3 1 2 1-3 1 1 1-18 1 15 1 0 1-3 1-7 1 11 1 0 1-5 1 3 1 1 1-1 1 0 1-14 1 10 1-3 1 0 1 7 1 0 1-3 1 6 1 1 1-4 1 2 1-1 1 4 1-2 1-5 1 5 1 0 1-3 1 4 1-5 1 4 1-2 1-3 1 3 1-4 1 7 1-8 1 8 1-3 1 2 1-3 1-7 1-8 1-9 1-60 1-60 1-167 1-150 1-133 1-120 1-120 1-120 1-120 1-103" stroke="#ff0000"/>
<path d="M25 2284l1 7 1-10 1 5 1 12 1 2 1-6 1 8 1 3 1 2 1 3 1 11 1 2 1 5 1 8 1 10 1 2 1-10 1-14 1-3 1-12 1-11 1 2 1-8 1 1 1-3 1-56 1-71 1-79 1-66 1-70 1-66 1-71 1-71 1-69 1-74 1-68 1-71 1-61 1-73 1-4 19 0 1 1273 13 0 1-98 1-195 1 0 1 1 1 4 1-4 1 3 2 0 1 5 1-4 1-20 1 18 1 12 1 2 1-5 1 6 1 4 1-3 1 7 1-5 1 3 1 5 1-16 1 17 1-4 1 5 1-1 1-1 1-2 1 1 1-12 1-3 1 26 1-13 1 1 1 15 1-1 1-9 1 11 1-9 1 10 1-1 1 4 1 1 1 1 1-1 1-2 1 2 1-5 1-3 1 13 1-4 1 2 1-17 1 13 1-2 1 5 1 0 1-3 1 1 1 7 1-5 1-5 1 9 1-6 1-4 1 8 1 0 1-13 1 6 1 0 1 9 1 5 1-3 1-9 1 8 1 1 1 0 1-7 1-79 1 80 1-4 1-3 1-14 1-249 1 256 1 16 1 7 1 1 1-2 1 5 1-9 1-16 1 20 1-3 1 11 1-10 1-6 1-8 1 27 1-1 1-11 1-12 1 12 1 5 1 2 1-2 1 2 1 4 1-10 1-3 1-180 1 150 1 22 1 0 1 17 1 5 1-41 1 35 1-7 1 6 1 2 1-8 1-10 1 8 1 2 1 8 1-8 1-1 1 8 1-10 1 7 1-31 1 26 1-10 1 16 1-3 1-35 1 40 1-6 1 5 1-4 1-3 1-3 1-135 1 117 1 21 1-13 1 16 1-2 1-14 1 7 1-14 1 18 1 0 1-3 1 3 1-5 1-1 1-3 1 9 1-3 1 0 1 1 1 5 1-3 1-6 1 0 1-3 1 3 1 5 1-3 1-1 1-1 1-11 1 6 1 2 1-9 1-32 1-361 1 358 1 22 1-28 1 2 1-285 1 288 1-54 1 73 1-19 1-332 1 321 1 44 1 5 1 4 1-16 1 13 1 6 1 4 1-7 1 6 1-2 1-5 1 5 1-1 1 3 1-11 1 6 1 1 1-1 1-1 1-15 1 10 1-21 1 19 1 5 1-1 1-11 1 6 1-1 1-7 1 6 1-15 1-152 1 150 1 14 1 6 1 7 1-4 1-3 1-4 1-1 1 5 1-24 1 16 1-4 1 6 1-7 1 12 1-1 1-1 1-9 1 2 1-17 1 20 1-5 1 3 1-9 1-20 1 26 1-3 1 10 1-2 1-8 1 13 1 3 1-13 1-11 1 17 1-1 1 2 1 0 1-15 1-6 1 16 1 1 1-3 1-16 1 21 1-3 1-2 1-6 1 8 1-3 1 1 1-5 1 1 1-6 1-30 1 7 1-10 1 19 1-18 1 26 1 10 1 5 1-8 1 7 1 2 1 0 1-6 1-5 1 8 1-32 1 18 1-12 1-168 1 178 1 1 1-57 1 20 1-110 1 120 1 20 1 3 1-2 1 10 1-12 1 1 1 10 1-3 1 1 1 0 1-3 1-3 1-8 1-1 1 5 1-15 1-160 1-92 1 212 1 37 1-35 1 52 1 3 1 8 1-3 1-2 1-5 1-2 1-1 1-27 1-22 1 38 1 13 1-5 1-14 1-34 1 16 1-31 1 46 1 27 1-13 1-6 1-58 1 60 1 14 1-6 1-4 1-22 1 16 1 1 1-3 1-8 1-8 1-33 1 27 1 4 1-49 1-46 1 47 1 43 1 11 1 3 1-2 1-2 1-24 1-66 1 72 1-4 1-49 1 35 1 29 1-12 1-8 1 15 1-18 1-12 1 24 1-7 1-2 1-24 1 11 1-10 1-60 1-218 1 216 1 58 1 10 1 2 1-13 1-20 1 26 1 8 1-3 1-31 1-6 1-83 1 87 1-1 1-53 1-469 1 469 1 50 1 7 1 1 1-9 1-32 1-61 1 64 1 32 1-10 1 9 1 0 1 1 1-10 1-31 1-43 1-31 1 73 1-60 1 48 1-54 1 60 1 1 1 1 1 14 1-18 1-179 1 195 1 13 1-7 1-9 1-4 1-49 1 29 1 8 1-48 1-157 1 96 1 78 1 1 1-87 1-41 1-26 1 147 1-31 1 17 1 51 1-8 1-17 1-107 1 89 1-66 1-213 1-123 1-12 1 166 1 186 1-23 1 52 1-95 1 102 1 29 1-9 1-27 1-32 1 13 1 29 1-17 1-85 1-384 1 447 1 33 1 5 1-29 1-298 1 282 1-2 1-68 1-234 1 254 1-57 1-322 1-272 1 563 1 110 1-4 1 29 1-66 1 39 1 19 1 27 1 2 1 0 1 6 1-2 1-36 1 43 1 7 1-22 1-60 1 76 1 13 1 13 1-16 1 18 1 14 1-3 1 8 1-11 1 3 1 9 1-83 1 84 1-1 1 1 1-32 1-69 1 67 1-152 1 154 1-37 1 77 1-8 1 14 1-104 1 118 1 29 1 7 1-15 1-91 1-149 1-589 1 732 1 103 1 10 1-9 1-5 1-289 1 182 1 19 1 102 1 21 1-17 1-4 1 24 1-5 1 23 1 7 1-34 1 12 1-3 1-6 1-2 1-126 1 146 1 11 1-64 1 74 1 3 1-67 1-19 1 51 1 21 1-57 1 60 1 27 1-1 1 1 1 11 1 5 1-6 1-1 1-22 1 23 1-6 1-259 1-84 1 323 1-13 1-69 1 94 1 16 1 21 1 5 1-44 1-92 1 89 1 52 1-16 1-85 1-111 1 213 1 11 1-46 1 52 1-8 1 17 1 0 1-25 1-9 1-39 1-59 1 79 1-70 1-7 1 70 1-81 1 88 1 40 1-5 1 27 1 9 1-2 1-1 1 6 1-6 1-10 1 15 1-17 1-31 1 39 1 6 1-26 1 34 1-21 1 22 1-11 1 14 1-14 1-62 1 60 1 3 1-61 1 62 1 8 1-19 1 19 1-30 1 32 1-103 1 108 1 14 1-8 1-7 1-253 1 254 1 21 1 0 1 7 1-3 1-4 1-38 1-34 1 38 1-7 1 21 1 9 1 6 1-38 1 39 1 19 1 5 1 0 1-23 1 18 1 7 1-3 1 3 1-4 1-10 1 7 1 1 1 3 1 3 1-5 1-5 1-1 1-6 1 5 1-10 1-70 1 70 1 10 1 4 1-6 1-12 1-2 1 0 1 21 1-13 1 1 1 9 1-1 1-19 1 21 1 6 1-8 1 3 1 1 1-25 1 10 1-7 1-16 1 35 1 2 1 5 1-21 1 12 1-17 1-228 1 212 1 10 1 23 1 0 1-14 1-58 1 68 1 2 1 7 1-2 1-6 1 10 1-21 1 18 1 1 1-6 1-6 1 10 1-6 1 9 1-2 1-7 1-17 1 17 1 1 1 0 1-9 1-129 1 137 1 8 1-7 1 5 1-24 1 23 1 6 1-12 1-4 1 2 1 11 1-4 1-3 1-1 1 3 1 2 1-9 1-31 1 31 1 12 1-17 1 16 1-20 1 10 1 5 1 3 1 6 1-3 1 0 1-11 1 15 1-19 1-110 1 113 1 9 1-11 1 15 1-2 1-12 1 10 1 4 1-24 1 23 1-8 1 10 1 1 1-6 1-4 1 9 1 0 1-2 1 1 1 2 1-9 1 7 1-6 1 2 1 7 1-8 1-9 1 6 1 16 1-1 1-4 1 1 1 10 1-5 1 0 1-11 1 0 1-29 1-143 1 115 1 6 1-40 1-11 1 20 1 47 1 10 1-7 1-53 1-37 1 13 1-253 1 290 1 55 1 9 1-2 1-10 1 13 1 3 1-11 1 20 1 0 1 1 1 10 1-5 1 1 1-13 1 7 1-2 1 6 1-25 1 12 1 1 1 3 1 2 1-19 1 4 1 12 1 1 1 6 1-11 1-11 1 20 1-6 1 2 1 10 1-1 1-3 1-16 1-9 1-193 1 208 1 7 1-2 1 11 1-5 1-10 1-28 1 23 1 4 1-21 1 22 1-7 1-7 1-67 1 4 1-2 1-9 1 92 1 2 1 1 1-58 1 47 1 12 1-25 1 32 1-7 1 6 1-4 1 7 1-11 1 0 1-9 1 3 1-7 1-4 1 13 1-66 1-87 1 137 1 14 1-5 1 10 1 6 1-11 1-20 1-36 1 55 1-47 1-44 1 83 1 17 1-8 1 14 1 2 1 0 1 2 1-11 1 3 1 1 1-11 1 6 1 2 1 4 1-14 1-5 1-59 1 61 1 10 1 1 1 1 1 0 1 2 1-7 1-6 1-46 1 45 1 14 1-5 1-19 1-288 1 294 1 10 1-6 1 9 1-27 1 24 1 13 1-9 1-19 1 9 1-60 1 62 1 10 1-53 1 51 1 8 1-11 1-32 1 27 1-9 1-42 1 11 1-30 1 79 1 3 1 7 1 5 1-21 1 9 1 10 1-37 1 30 1-16 1-5 1-26 1 10 1-19 1 36 1 18 1-20 1 5 1 13 1-11 1 11 1 1 1 5 1-4 1 3 1-29 1 31 1-1 1 4 1-27 1 22 1-3 1-37 1 27 1 12 1-26 1 29 1 6 1-7 1-4 1 12 1-11 1-7 1-77 1 65 1 23 1 0 1-3 1-11 1 12 1-3 1-2 1-14 1-9 1 14 1 8 1 3 1-8 1-7 1 13 1-8 1-3 1-11 1-16 1 30 1 3 1 5 1-5 1-2 1 11 1-5 1-8 1 5 1 0 1-8 1-93 1 92 1-2 1-1 1 10 1 0 1-7 1 7 1-4 1-4 1 0 1-21 1-45 1 48 1 19 1 2 1-2 1-10 1-3 1-209 1 203 1 24 1-5 1 4 1-4 1 0 1 4 1-6 1-19 1-140 1 142 1 17 1-11 1 8 1-2 1-4 1-105 1 77 1 35 1-5 1-12 1-12 1 23 1-6 1-27 1 34 1-1 1-32 1 34 1 1 1-16 1-26 1 27 1-1 1-3 1-5 1 4 1 0 1-57 1 35 1-5 1-130 1-867 1 889 1 101 1-13 1 35 1-34 1 42 1 1 1 3 1-2 1-4 1-12 1-6 1 16 1-6 1-3 1-23 1 13 1 5 1-10 1-8 1-23 1-436 1 402 1 39 1-20 1-436 1 438 1 15 1-7 1-253 1 264 1 8 1 7 1 0 1-2 1-7 1-34 1 23 1 4 1 3 1-3 1 3 1-11 1-30 1 20 1 2 1 1 1 4 1 3 1-32 1-72 1 79 1-9 1 18 1-9 1 6 1-24 1 15 1-18 1 23 1-15 1 1 1 9 2 0 1-1 2 0 1-14 1-13 1 15 1 3 1-7 1-6 1-10 1 9 1-26 1-6 1-62 1 55 1-14 1 10 1-131 1 89 1 43 1-16 1-13 1-14 1-127 1-694 1 511 1 259 1-27 1-59 1-684 1 701 1 100 1-10 1-108 1-683 1 628 1 143 1-14 1-50 1-664 1 679 1 47 1 32 1-95 1-706 1 716 1 98 1-17 1-97 1-700 1 728 1 110 1 21 1 17 1 0 1-16 1-3 1 32 1 5 1-11 1-49 1 60 1 9 1 24 1 4 1-7 1 13 1 18 1 7 1-2 1 2 1-10 1-24 1-9 1-94 1 92 1 24 1-4 1 17 1 5 1 2 1-5 1 9 1-2 1 0 1-4 1 7 1-16 1-114 1 112 1-3 1-37 1-117 1 146 1 12 1 0 1-18 1 23 1-55 1 47 1 10 1 6 1-28 1 16 1 1 1 10 1-6 1-8 1-3 1-8 1-47 1-329 1 311 1 11 1 53 1 13 1-10 1 7 1-3 1-4 1-10 1 18 1 2 1-10 1-4 1-17 1-60 1-103 1 142 1 32 1 7 1-12 1 4 1-16 1-7 1 14 1 5 1-19 1 16 1-8 1-26 1 26 1-10 1 0 1-29 1 38 1 4 1-5 1-28 1-91 1-791 1 790 1 89 1-8 1-83 1-788 1 820 1 88 1 18 1 20 1 2 1 7 1 3 1 5 1-6 1 4 1-12 1 11 1 8 1 1 1-7 1-3 1 9 1 1 1-4 1 3 1 7 1 0 1-7 1 2 1 9 1-8 1-35 1 32 1 7 1-35 1 20 1-44 1 39 1-1 1 25 1-8 1-15 1-198 1 182 1-54 1 75 1 6 1 15 1 9 1-2 1-29 1-4 1 28 1 3 1-32 1 25 1 10 1-7 1 7 1-6 1 3 1-3 1 4 1 1 1 8 1-28 1 15 1-3 1-26 1 8 1 1 1-4 1-39 1 15 1 8 1-1 1-1 1-19 1-11 1 2 1 19 1-18 1-2 1-16 1 23 1-19 1 19 1-13 1 1 1 1 1-16 1 2 1-21 1-33 1 34 1-6 1 13 1-2 1-22 1 51 1-47 1 42 1 24 1 3 1 0 1 10 1 0 1-9 1 12 1 3 1 7 1 3 1 8 1-7 1 2 1-5 1 5 1 6 1-8 1-4 1-8 1-9 1-49 1 39 1 34 1 1 1 3 1-24 1 20 1-1 1 10 1-1 1-2 1 1 1-16 1 8 1-18 1 9 1-9 1 26 1-11 1-8 1-25 1 32 1-15 1 11 1 0 1 12 1-4 1-41 1 23 1 3 1-7 1 4 1-72 1-655 1 625 1 62 1-25 1-107 1-770 1 745 1 101 1-3 1-103 1-740 1 658 1 141 1 3 1-34 1-590 1 569 1 96 1 9 1-1 1-97 1-754 1 759 1 119 1 33 1 0 1-58 1 73 1 19 1-1 1 2 1-50 1 21 1 22 1 9 1-2 1-2 1 2 1-13 1-4 1-61 1 34 1-95 1-807 1 821 1 84 1-1 1-82 1-822 1 826 1 80 1 10 1 17 1 8 1 3 1-6 1 12 1-5 1-21 1 20 1 7 1-16 1 15 1 6 1-10 1 13 1-1 1 3 1-12 1 8 1 6 1-6 1-4 1-28 1 20 1 3 1-24 1 18 1-20 1-35 1 27 1 23 1-45 1 36 1 23 1 11 1 2 1-11 1-17 1 26 1-5 1-5 1-6 1 9 1-33 1-24 1 52 1 17 1-3 1-23 1 14 1-17 1 23 1-2 1-12 1-27 1 33 1 0 1-17 1-21 1 16 1-15 1-69 1-608 1 599 1 28 1-31 1-522 1 508 1 37 1 5 1 12 1-6 1 7 1 14 1-20 1-410 1 434 1 29 1 15 1-12 1-172 1 188 1 10 1 30 1 6 1 1 1 24 1-1 1-3 1 13 1 24 1-3 1-12 1-41 1-12 1 23 1 30 1 9 1-8 1-44 1-48 1 49 1 5 1 34 1 10 1-12 1 12 1-1 1-21 1 24 1 3 1-6 1 7 1 10 1 1 1-4 1-7 1-29 1 9 1 8 1-70 1-821 1 798 1-42 1-897 1 911 1 122 1 18 1-34 1 40 1-2 1-46 1 0 1-307 1 280 1 30 1-151 1-861 1 951 1 85 1 33 1-26 1-136 1 141 1 30 1 10 1-8 1-25 1-62 1 31 1-117 1 139 1 37 1 3 1 9 1 0 1-10 1-7 1 19 1-4 1-15 1-3 1 11 1 3 1-3 1-17 1-3 1-18 1-188 1 182 1 11 1 16 1 10 1 9 1-2 1 4 1-5 1-31 1-41 1-117 1 83 1-128 1-851 1 740 1 195 1-101 1-834 1 810 1 117 1-91 1-836 1 848 1 89 1-135 1-802 1 841 1 133 1-79 1 82 1-105 1 130 1 53 1 12 1 2 1-21 1 11 1-4 1-120 1 119 1 20 1-2 1-4 1-6 1-25 1-270 1 266 1 8 1-19 1-67 1-216 1 205 1 27 1-255 1 281 1-6 1 13 1-23 1-132 1 119 1 17 1-16 1-11 1-245 1 137 1 46 1 43 1 20 1-2 1 1 1-11 1-1 1-10 1-185 1 137 1 5 1-79 1 43 1-356 1 332 1 28 1-97 1-42 1-722 1 720 1 74 1-24 1-668 1 668 1 1 1-236 1-535 1 718 1 92 1-94 1-716 1 723 1 49 1-59 1-713 1 620 1-12 1 262 1-28 1 18 1 9 1 65 1 38 1-3 1-19 1-353 1 387 1 47 1 18 1-2 1-190 1 216 1 19 1 6 1 0 1 4 1-4 1 2 1 5 1 3 1 2 1-4 1 4 1 5 1-3 1-15 1 17 1-4 1 1 1-77 1 81 1 3 1 8 1 1 1 3 1 3 1 0 1-2 1-4 1 2 1 5 1-6 1 10 1-1 1-2 3 0 1 3 1 1 1 0 1-2 1 3 1-3 1 1 1-1 1 5 1-2 1-3 1-6 1-2 1 13 1-1 1-2 1 2 1 0 1-5 1 3 1 6 1 0 1-1 1 1 1-1 1 3 1 0 1-7 1 7 1 2 1-3 1-9 1 12 1 4 1 1 1-4 1 0 1-1 1 4 1-2 1-17 1-177 1-10 1 189 1 5 1 18 1 0 1 5 1-2 1 4 1 0 1 2 1-3 1-19 1 15 1-2 1 4 1 4 1-1 1 1 1 0 1-7 1 6 1 1 1-1 1 1 1-2 1-1 1 3 1-13 1 8 1 7 1-3 1 0 1-5 1 5 1 1 1 2 1-4 1 4 1-4 1-1 1 2 1 1 1-5 1 3 1 1 1 1 1-2 1 2 1 1 1-3 1-1 1 2 1 1 1 1 1 1 1 0 1-2 1-6 1 7 1-2 1 4 1-4 1 0 1 3 1-3 1 1 1-2 1 3 1-6 1 3 1 1 1 0 1-5 1 6 1 0 1-7 1 6 1 0 1-3 1 4 1-2 1 4 1-6 1 3 1-2 1 1 1 0 1-1 1 2 1 1 1-1 1-2 1 1 1 3 1-5 1 3 1 1 1 2 1-2 1-1 1 1 1-10 1 11 1-6 1 8 1-2 1-3 1 4 1-1 1 1 1-8 1 6 1-11 1 8 1 6 1-3 1-2 1 3 1-2 1 2 1 0 1-23 1 22 1-10 1 2 1 4 1 5 1-9 1 8 1-2 1 3 1 0 1 1 1-8 1 1 1 0 1 5 1-3 1 2 1 3 1-9 1 8 1 1 1 0 1-2 1-2 1 3 1-4 1 3 1 1 1-2 1 1 1 1 1-9 1 8 1 3 1-1 1-7 1 2 1 0 1 6 1-1 1 0 1-3 2 0 1-6 1 9 1-1 1 1 3 0 1-3 1 2 1 0 1 2 1-5 1 4 1-2 1 4 1-3 1-15 1 13 1 2 1-1 1-1 1-5 1 4 1 3 1-2 1 0 1 5 1-6 1-2 1 6 1-2 1 0 1 3 1-4 1-3 1 5 1-1 1 0 1 2 1-3 1 1 1 2 1 0 1-2 1 1 1-3 1-2 1 4 1 2 1-12 1 11 1 1 1-1 1 0 1 2 1-1 1 1 1-3 1 1 1-1 1 2 1 1 2 0 1 2 1-2 1 1 1-2 1 0 1 3 1-1 1 3 1-10 1 3 1 2 1 1 1-1 1-3 1 3 1-7 1 6 1-16 1 14 1 1 1-12 1 14 1-1 1 0 1 2 1-2 1 2 1-4 1-1 1-2 1 3 1-1 1 2 1 1 1 0 1 1 1-6 1-61 1 62 1 3 1 0 1 1 1-1 1-5 1 7 1-9 1 10 1 1 1-3 1 2 2 0 1-1 1 0 1-3 1 1 1 4 1-2 1-1 1 0 1 3 1-1 1-5 1 7 1-4 1 1 1 4 1-4 1-8 1-9 1-8 1-60 1-60 1-167 1-150 1-133 1-120 1-120 1-120 1-120 1-94" stroke="#ff0000"/>
</g>
<g clip-path="url(#cC)" fill="none" stroke-width="1.70" stroke-linejoin="round" stroke-opacity="0.8">
<path d="M25 3706l1-13 1 2 1 15 1-6 1 4 1 0 1 1 1 2 1-1 1 3 1 4 1 6 1 3 1 3 1 8 1 1 1-4 1-17 1-7 1-10 1 12 1-7 1-2 1-13 1-76 1-80 1-84 1-78 1-77 1-86 1-76 1-79 1-81 1-77 1-85 1-77 1-81 1-33 12 0 1 586 1 684 20 0 1-8 1-21 1-20 1-15 1-32 1-4 1-19 1-2 1-25 1 15 1-2 1-1 1-7 1 3 1-7 1-4 1-1 1 3 1-6 1-2 1 6 1-1 1-3 1 1 1-3 1-2 1-26 1 26 1-3 1-4 1 6 1 1 1-2 1-1 1 0 1-3 1 2 1-17 1 15 1-3 1 0 1-6 1-3 1 9 1 2 1-7 1 10 1-3 1 4 1-3 1-3 1 1 1 0 1 2 1-8 1 6 1 0 1 3 1 0 1-16 1-4 1 20 1-8 1 2 1 2 1 3 1-4 1 3 1-4 1-10 1 4 1 2 1 3 1-2 1 0 1-2 1-2 1-42 1-268 1 273 1-94 1 119 1-8 1-257 1 256 1 14 1 7 1 6 1-1 1-7 1 1 1 1 1 1 1-2 1-9 1 11 1-7 1 5 1-1 1 6 1-4 1-3 1 2 1-10 1 7 1-2 1 1 1-10 1-123 1 124 1 6 1 2 1-8 1-3 1 3 1 7 1 7 1-7 1 0 1 4 1-10 1 1 1 2 1-19 1 16 1 5 1-3 1 0 1 1 1-5 1 5 1 1 1 0 1-6 1 3 1-16 1-91 1 99 1 1 1 6 1 2 1-5 1-6 1-13 1 6 1 16 1-5 1 4 1 2 1-6 1 4 1-3 1 4 1-2 1 1 1-3 1 0 1 1 1-2 1 0 1-3 1 2 2 0 1-9 1 10 1-6 1 3 1-8 1 9 1-1 1-1 1-2 1 0 1-8 1 3 1-4 1 2 1-5 1-15 1-54 1-605 1 592 1-6 1-501 1 509 1-150 1 156 1 60 1 8 1-9 1-86 1 78 1 12 1 2 1-25 1-1 1 28 1 6 1-1 1 3 1-3 1 0 1-20 1 15 1 7 1 1 1-6 1 1 1-17 1 18 1-15 1 14 1 1 1 1 1-1 1 2 1 2 1-3 1-4 1-3 1 5 1 3 1-7 1 8 1-8 1-1 1-5 1-7 1 16 1-17 1 6 1 6 1-3 1 10 1-9 1 8 1-2 1 3 1 0 1 4 1 0 1-5 1-9 1 11 1 0 1-3 1 4 1-4 1-1 1 3 1 2 1-8 1-10 1 6 1 3 1-1 1 3 1-1 1-6 1-38 1 42 1 5 1-7 1 11 1-2 1 0 1 1 1 2 1 0 1-4 1-10 1 13 1 1 1 3 1-8 1 8 1-14 1 17 1-12 1 6 1 3 1-26 1 20 1-20 1 12 1 8 1-9 1-40 1 29 1-41 1 44 1 14 1-3 1-4 1-13 1 6 1-75 1 71 1-1 1-13 1-6 1-221 1 228 1 11 1 4 1 2 1 3 1-18 1 9 1-11 1-15 1 25 1 0 1-7 1-12 1-82 1-550 1 564 1 4 1-280 1 312 1-21 1-178 1 221 1-2 1 6 1 19 1-2 1-10 1-1 1-7 1-38 1 38 1 3 1-4 1-13 1 3 1 14 1 1 1-2 1-15 1 14 1 2 1-15 1-220 1 203 1 27 1 1 1-5 1-8 1 8 1 2 1-1 1-12 1 11 1-4 1-14 1 6 1-2 1 8 1-2 1-7 1-7 1 14 1-13 1 3 1 4 1-15 1-34 1 3 1 35 1-6 1-201 1 189 1-58 1 66 1 13 1 4 1 1 1 4 1-1 1-17 1 12 1-15 1 18 1-14 1 10 1-18 1-36 1-84 1 105 1-6 1 14 1-21 1 28 1 7 1-8 1-35 1-84 1 39 1 82 1 6 1-5 1-23 1-59 1 45 1-14 1 0 1 35 1 18 1-9 1-3 1 13 1-11 1-2 1-33 1 8 1-341 1 317 1 24 1-39 1-13 1 57 1-24 1-132 1 121 1 4 1-489 1 500 1 22 1-6 1 15 1-1 1-5 1-37 1-94 1 108 1 26 1-2 1 2 1-18 1-50 1 36 1-25 1-189 1-264 1 465 1 29 1 1 1 2 1-51 1-9 1-193 1 108 1-84 1-246 1 424 1 46 1 16 1-4 1-14 1-104 1 95 1 8 1-27 1-84 1 85 1-5 1 5 1-46 1-634 1 606 1 41 1 42 1-6 1 15 1-25 1-392 1 369 1 5 1-32 1 48 1-57 1 60 1-41 1-602 1 586 1-18 1 79 1 0 1-21 1-139 1 134 1 14 1-7 1 26 1-33 1-119 1 46 1 82 1 21 1-23 1 36 1 8 1 1 1-19 1-22 1-58 1 67 1 28 1 17 1-1 1 1 1-18 1 19 1 2 1-18 1 7 1-2 1-26 1-8 1 35 1-91 1 85 1 29 1-7 1 13 1 2 1-15 1 13 1-56 1-596 1 598 1-2 1-389 1 367 1-5 1 73 1-9 1-24 1-237 1 141 1 136 1-11 1 40 1-11 1-33 1 54 1 8 1-12 1-55 1 47 1-41 1 62 1-2 1 15 1-16 1-3 1-60 1 26 1-44 1 51 1 47 1 12 2 0 1-12 1 3 1-47 1-1 1 42 1-40 1-99 1 44 1-634 1 656 1 68 1 12 1-18 1-114 1-1 1 81 1 41 1 20 1-28 1 32 1 7 1-49 1 38 1 24 1-15 1-23 1 37 1 7 1-18 1 2 1-39 1 11 1-115 1 72 1 39 1-46 1-66 1 110 1 36 1-1 1-7 1 12 1 1 1-137 1 130 1 11 1-21 1 17 1 2 1-6 1-43 1 40 1 7 1-35 1 31 1 4 1-167 1 167 1 11 1 0 1 5 1 4 1-13 1 7 1 2 1 1 1-12 1-64 1 59 1 20 1-9 1 11 1-38 1-390 1 257 1 136 1 36 1 9 1-8 1-181 1 164 1 16 1-3 1 17 1 7 1-5 1-23 1 29 1 8 1-3 1-15 1 3 1 8 1-11 1 20 1-12 1 10 1-1 1-20 1 1 1-57 1-694 1 686 1 59 1 17 1 6 1 7 1-4 1 4 1-1 1-27 1 17 1 7 1 4 1-2 2 0 1-4 1-8 1-7 1 7 1 13 1-10 1 13 1-7 1-4 1 4 1-8 1-20 1 23 1 3 1-19 1 10 1 10 1-5 1 1 1-7 1 14 1-2 1 2 1-1 1-4 1-1 1 2 1-6 1-1 1-27 1-182 1 191 1 7 1 8 1-23 1-24 1 18 1-239 1 238 1 21 1 2 1-4 1 2 1 0 1-2 1 3 1 3 1-3 1-5 1 5 2 0 1-16 1 10 1 2 1 6 1-3 1 2 1-15 1 12 1 2 1-6 1 1 1 6 1-5 1 6 1-5 1 6 1-7 1 5 1-6 1 3 1 0 1-5 1 4 1-9 1 2 1-8 1-8 1-8 1-47 1-54 1-56 1 63 1 61 1 20 1 26 1 13 1 5 1 4 1 0 1-1 1 1 1 3 1 3 1 0 1-13 1 7 1 5 1 0 1-5 1 8 1 1 1 0 1-16 1 16 1-1 1 6 1-11 1 0 1 8 1-8 1 5 1 2 1 1 1-2 1 3 1-3 1 1 1 5 1-5 1-10 1 14 1-1 1-13 1 13 1 2 1-10 1 10 1 0 1-14 1 7 1 5 1-1 1 3 1-4 1-15 1-20 1-367 1 368 1 22 1 11 1-3 1-17 1-121 1 133 1 2 1 7 1-13 1 21 1 3 1-1 1-1 1-10 1 12 1 2 1-2 1 4 1-9 1-12 1 14 1-4 1 11 1-6 1 4 1 3 1-6 1 6 1-2 1-4 1-4 1 8 1-2 1 3 1 3 1-4 1-4 1 0 1-16 1 10 1 5 1-3 1-30 1 18 1 10 1-9 1 5 1-18 1-30 1 41 1-12 1 2 1 23 1 16 1-5 1-8 1 5 1-1 1-2 1 10 1-2 1-4 1 2 1-13 1-7 1-5 1 8 1 12 1-3 1-9 1-40 1-118 1 155 1 17 1-7 1 3 1 10 1-2 1-1 1-9 1 10 1-5 1 10 1 0 1 2 1-12 1 6 1 0 1-3 1-6 1 3 1-31 1 13 1-12 1 28 1-13 1 2 1 16 1-2 1-7 1 14 1-2 1-2 1-20 1 21 1-2 1 3 1 0 1-10 1 7 1 8 1-4 1-12 1-13 1 19 1-9 1-23 1 22 1 5 1 5 1 7 1 3 1-5 1 3 1-12 1-12 1 19 1-9 1-8 1 18 1 4 1 0 1-3 1-14 1-66 1 50 1 24 1 7 1-11 1 11 1 1 1-24 1 4 1 14 1-4 1-25 1 26 1-3 1-1 1-18 1-3 1 12 1-25 1 40 1 10 1 6 1-2 1-4 1 3 1-14 1 1 1-36 1 28 1-28 1 19 1 20 1-8 1 4 1-16 1 22 1-1 1 3 1-3 1-33 1 37 1 8 1-10 1-2 1 6 1-7 1-63 1 57 1 3 1 8 1-8 1-46 1 24 1-5 1 5 1-113 1 130 1 1 1 11 1-6 1 0 1-19 1 4 1-48 1 32 1 17 1-1 1-24 1 12 1 18 2 0 1-17 1 9 1 8 1 5 1 1 1-1 1-3 1 3 1 0 1-6 1 5 1-3 1 5 1-4 1 6 1-3 1-1 1-7 1-4 1 8 1-2 1-15 1 16 1 2 1-4 1 2 1 2 1-9 1 7 1-5 1 0 1-6 1 8 1 1 1-5 1-8 1 5 1-4 1 6 1-2 1 2 1 1 1-4 1 2 1-3 1 2 1-3 1 0 1-13 1-32 1-78 1 112 1 7 1-17 1 9 1-129 1 132 1 5 1-24 1 3 1 14 1 1 1 2 1-11 1-38 1 38 1-2 1-20 1 16 1 2 1-11 1-68 1-775 1 763 1 67 1 6 1 19 1 6 1 0 1-11 1 9 1-2 1-15 1 13 1-1 1-14 1 4 1-6 1 8 1 3 1-2 1-2 1 2 1-11 1-4 1-4 1-40 1-215 1 248 1 12 1-6 1-29 1-418 1 419 1 2 1-10 1 35 1 5 1-33 1 13 1 15 1 3 1-4 1 4 1-2 1-5 1-9 1 10 1 1 1-8 1 9 1 1 1 2 1-2 1-1 1-9 1-3 1-2 1 7 1-9 1 4 1-25 1 23 1-4 1-3 1-4 1-7 1-17 1 23 1 1 1-2 1 6 1-5 1 9 1-14 1 17 1-8 1-5 1-11 1 10 1-2 1-5 1-33 1-103 1 33 1 59 1-6 1 30 1-4 1-46 1 31 1-8 1-52 1-589 1 562 1-11 1 39 1 10 1-292 1 295 1 23 1-11 1-57 1-572 1 559 1 55 1-44 1 17 1-348 1 335 1 15 1 13 1-100 1-562 1 626 1 64 1-2 1-59 1-708 1 710 1 63 1 19 1-10 1-246 1 244 1-19 1 7 1 36 1-27 1-9 1 48 1 3 1-116 1 126 1 17 1-1 1-11 1 4 1 17 1-11 1 25 1 1 1 0 1 1 1-20 1 0 1 7 1-6 1-55 1 47 1-2 1 0 1 1 1-16 1-32 1-7 1-3 1 18 1 13 1 20 1 8 1-14 1 19 1 5 1-10 1 18 1 2 1-16 1 22 1-5 1 5 1-1 1-36 1 23 1 18 1 7 1 4 1-1 1 5 1-5 1-12 1-171 1 172 1 0 1-27 1 2 1 21 1 12 1-1 1-2 1-11 1 9 1 5 1-6 1-1 1 3 1 2 1-16 1-21 1 24 1 5 1 4 1-2 1 5 1-3 1-1 1-3 1-7 1 4 1 9 1-17 1-13 1 23 1-4 1-12 1 12 1-5 1-39 1-80 1-790 1 802 1 87 1 13 1-42 1-442 1 452 1 46 1-3 1 19 1-1 1-10 1 8 1-28 1 33 1 5 1-2 1 6 1-4 1-6 1 6 1-8 1 6 1-11 1 9 1-4 1 9 1 4 1-2 1 3 1-2 1-1 1 7 1-12 1 10 1 1 1-1 1 0 1 4 1 1 1-10 1-31 1 31 1-118 1 121 1-8 1 12 1 6 1-2 1-17 1 8 1 1 1 8 1 2 1 6 1-5 1 7 1-16 1 13 1-2 1-7 1 1 1-12 1 9 1-3 1 8 1 0 1-9 1-24 1 27 1 5 1 3 1 0 1-3 1 6 1-7 1 6 1-10 1 8 1-3 1 3 1 1 1-6 1-18 1 12 1 1 1 2 1-3 1-7 1-9 1-10 1-27 1-40 1-22 1 9 1 37 1 27 1 21 1 4 1 9 1-23 1 11 1 17 1 3 1 5 1-5 1 6 1-6 1 1 1-24 1 24 1 3 1-9 1 9 1-13 1 10 1 0 1 4 1-1 1-2 1-6 1 9 1-5 1 0 1 3 1 1 1 2 1-3 1 1 1-10 1 6 1 3 1-2 1-12 1 1 1 9 1 4 1-1 1-4 1-2 1-1 1 4 1-1 1-26 1 29 1 0 1-2 1-6 1-2 1-4 1-25 1 28 1-7 1 8 1-11 1-5 1-68 1-586 1 582 1 52 1 5 1-10 1-76 1-665 1 655 1 69 1 1 1-6 1-79 1-729 1 719 1 78 1 2 1 10 1-47 1-464 1 465 1 50 1 0 1-12 1-428 1 423 1 31 1 9 1-4 1 7 1-16 1-53 1 64 1 7 1 7 1-3 1 1 1 0 1-10 1 2 1-25 1-35 1-617 1 621 1 34 1 12 1-30 1-427 1 421 1 48 1 6 1-3 1 7 1 1 1 3 1-10 1 5 1-7 1-169 1 166 1 13 1-13 1 19 1-10 1 7 1-12 1 10 1 4 1-4 1 8 1-10 1-14 1-20 1 36 1 5 1 5 1-7 1 11 1-10 1 7 1-6 1 2 1-9 1 11 1-12 1 19 1-7 1 0 1 2 1 4 1-1 1-8 1 0 1-4 1 6 1 7 1 3 1-20 1 6 1 10 1-1 1 0 1 4 1-6 1 0 1 2 1-6 1-20 1-5 1 4 1-288 1 288 1 15 1-6 1-39 1-263 1 268 1 9 1-25 1 18 1-3 1-11 1 6 1-4 1 5 1 4 1-14 1 1 1-74 1 87 1-5 1-72 1 77 1 3 1 8 1 3 1 3 1 0 1-6 1-10 1 5 1-18 1 5 1 31 1 7 1-3 1 12 1-5 1 7 1-3 1 1 1-15 1 9 1 19 1 2 1 2 1 1 1-6 1 4 1 3 1-5 1 11 1-8 1 16 1-13 1 2 1 15 1-3 1-14 1 11 1-32 1-10 1 25 1 26 1-43 1-461 1 467 1 44 1-10 1-324 1 326 1 19 1 3 1-117 1 105 1 13 1 7 1 12 1-7 1-12 1 15 1-1 1 1 1-9 1 9 1-9 1-32 1 35 1 10 1 3 1-4 1 4 1-1 1 0 1-1 1-2 1-1 1-40 1 31 1 9 1 0 1-9 1-186 1 180 1 17 1 0 1-2 1-107 1 83 1 28 1-3 1-25 1-240 1 212 1 36 1 8 1 7 1-2 1-2 1-11 1-40 1-5 1-106 1-931 1 897 1 88 1-64 1-594 1 602 1 44 1-22 1-379 1 358 1 52 1-23 1-420 1 372 1-657 1 685 1 59 1 32 1 40 1 13 1 3 1 6 1-11 1-10 1-16 1-167 1 81 1 64 1 5 1-18 1-164 1 92 1-790 1 768 1 54 1-23 1-538 1 537 1 35 1-15 1-319 1 320 1 15 1-13 1 6 1-14 1-17 1-66 1 20 1-32 1-365 1 392 1-88 1-382 1 475 1 35 1 8 1-30 1-501 1 497 1 32 1-14 1-322 1 307 1 30 1 6 1-4 1-12 1-23 1-43 1-361 1 392 1 3 1-29 1-42 1-654 1 659 1 35 1-435 1 431 1-6 1-666 1 681 1 62 1-62 1-580 1 605 1 62 1-26 1-178 1 227 1 27 1 8 1-16 1-16 1 55 1 12 1 10 1 0 1 12 1-8 1 14 1 3 1 0 1 6 1 3 1 0 1 2 1 0 1 1 1 1 1 0 1 2 1 0 1 1 1 1 1 0 1 1 1 0 1-1 1-12 1 15 1 1 1 0 1 2 1-1 1 3 1-1 1 2 1 0 1 2 1 1 1 0 1 1 1-1 1 1 1 2 1 1 1 1 1-3 1 4 1 1 1 0 1 1 1 1 2 0 1 1 1 0 1 1 3 0 1 1 1-3 1 0 1 3 1 1 3 0 1 1 4 0 1 1 3 0 1-2 1 4 1-2 1 2 1 0 1 1 1 0 1-1 1 1 1-1 1 1 1 0 1-1 1 2 1 0 1 1 1-1 1-1 1-1 1-1 1 0 1 2 1 1 1 3 1 1 1 2 1 1 1 1 1 1 1 1 1 1 1-1 1 2 1 1 2 0 1-1 1 3 1-1 1-1 1 2 4 0 1 1 1 0 1 1 1-2 1 1 1 1 1 1 1 0 1-3 1 1 1 2 2 0 1-2 1 3 1 1 1-1 1 1 1 0 1-3 1 4 1-1 1 0 1 1 1 0 1-1 1 1 2 0 1 1 1 0 1-1 1 1 5 0 1 1 1-1 1 1 3 0 1-1 1 1 2 0 1-1 1 0 1-1 1 2 1-1 1 1 1-6 1 6 1 0 1 1 1-1 1-1 1 1 1 1 1-1 1-1 1 1 1 0 1 1 1-1 1 0 1 1 1 0 1-1 1 1 1 0 1-1 1 0 1-2 1 3 1 0 1 1 1 0 1-3 1 3 6 0 1-2 1 2 6 0 1-1 1 2 3 0 1-1 2 0 1-2 1 2 1-1 1 2 2 0 1-2 1 1 1 1 2 0 1 1 1-2 1 1 3 0 1 1 3 0 1-1 1 1 1-2 1 0 1 1 1-2 1 1 1 0 1 1 3 0 1-1 1 2 1-1 2 0 1 1 1-1 1 0 1 1 1-1 1 1 1-1 1 1 1-1 1 1 1-1 10 0 1-1 1 2 1-1 6 0 1 1 1-2 1 2 1-1 6 0 1-1 1 2 1-1 1 1 2 0 1-1 1 1 5 0 1-1 1 1 1 0 1-1 1 1 1-1 1-1 1 2 1-1 1 1 1-2 1 2 1-1 1 0 1 1 1-1 1 1 1-1 1-2 1 3 1-3 1 1 1 2 3 0 1-1 2 0 1 1 1 0 1-1 1 1 1-1 3 0 1-15 1 14 1 1 1 0 1-1 1 1 1-1 1 1 1-1 1 1 1 1 1 0 1-1 1 0 1-1 1 1 1 1 1-1 4 0 1 1 9 0 1 1 1-1 1-7 1-8 1-7 1-60 1-60 1-133 1-117 1-100 1-120 1-120 1-120 1-120 1-120" stroke="#ffcc00"/>
<path d="M25 3672l1 3 1-2 1 0 1 6 1-4 1 3 1 0 1 2 1 1 1 1 1-4 1 11 1 6 1 5 1 4 1-1 1-8 1-5 1 1 1 0 1-4 1-5 1-7 1-8 1-44 1-81 1-70 1-84 1-72 1-81 1-75 1-79 1-75 1-81 1-83 1-72 1-76 1-74 13 0 1 1270 26 0 1-9 1-10 1-9 1-17 1-9 1-7 1-9 1-18 1-1 1-2 1-11 1-8 1 12 1-7 1 0 1-5 1-14 1-11 1 18 1-3 1-1 1-2 1-4 1 3 1 3 1-16 1-3 1 11 1 1 1 1 2 0 1-1 1-2 1-2 1-6 1-11 1 15 1-4 1-1 1 0 1-6 1 6 1-5 1 5 1-9 1 7 1-1 1 0 1-12 1 14 1 0 1-3 1 0 1-6 1 2 1-9 1 2 1 4 1 0 1 2 1-13 1-4 1-4 1 1 1-12 1 19 1 4 1-8 1 6 1-12 1-29 1-364 1 352 1-235 1 259 1 12 1-68 1 70 1 3 1 6 1-2 1-1 1-6 1 1 1 1 1-2 1 10 1-4 1 7 1-11 1 0 1-10 1 7 1 1 1 3 1-8 1 4 1 3 1-4 1-3 1 1 1-57 1 54 1 2 1 1 1 0 1-9 1 1 1 5 1 1 1-6 1 4 1-13 1 7 1 4 1-6 1-17 1 22 1-13 1 1 1 12 1-3 1-14 1 13 1-1 1-2 1 3 1-2 1-11 1-37 1 39 1 1 1 8 1-4 1-17 1 10 1-103 1 102 1 7 1 5 1-5 1 3 1-2 1 0 1-7 1 5 1-8 1 7 1-1 1-2 1 1 1-8 1 3 1 2 1-2 1 0 1-3 1-3 1 3 1 1 1 3 1-3 1 1 1-2 1-7 1 3 1-8 1 9 1-9 1 1 1-1 1-7 1-13 1-73 1-770 1 749 1 16 1-671 1 665 1-133 1 174 1 44 1-1 1 10 1-55 1 15 1 5 1 26 1-26 1-215 1 236 1 11 1 7 1-1 1 3 1-14 1 3 1-3 1-3 1 10 1 4 1 1 1-9 1 0 1-2 1 1 1 1 1 2 1-14 1 14 1 5 1-6 1 2 1-5 1 2 1 0 1 3 2 0 1-1 1-15 1-12 1 18 1-10 1-3 1 8 1 10 1-20 1-3 1 21 1-22 1 28 1 1 1-3 1-2 1 1 1-5 1 0 1 3 1-3 1 3 1 0 1-10 1 4 1 3 1-2 1-7 1 12 1-2 1 3 1-3 1-5 1-22 1 3 1 16 1 4 1-1 1 0 1 5 1-3 1-1 1 1 1-2 1-7 1-4 1 5 1 8 1-8 1 6 1-3 1 0 1-2 1-5 1-14 1 8 1-94 1 96 1-14 1 15 1 3 1-1 1-47 1 33 1-31 1 33 1 7 1-8 1 2 1-25 1 0 1-259 1 260 1 2 1-36 1 2 1-365 1 389 1 27 1 6 1-6 1-1 1-12 1-4 1-7 1-3 1 19 1 4 1-6 1-11 1-37 1-95 1 93 1-24 1-554 1 559 1 13 1-128 1 156 1 5 1-10 1 20 1 0 1-5 1 3 1-13 1-79 1 76 1 4 1 7 1-20 1 14 1 0 1 10 1 0 1-11 1 4 1-3 1-8 1-161 1 149 1 20 1-1 1-1 1-9 1 6 1-1 1 2 1-12 1 10 1-7 1-15 1 20 1-1 1 2 1-5 1-16 1-2 1 17 1-9 1 11 1-8 1 3 1-17 1 4 1 4 1 3 1-61 1 42 1-40 1 28 1 29 1 0 1 6 1-3 1-4 1-33 1 17 1 16 1-6 1 1 1-8 1-26 1-123 1 27 1 99 1 0 1 22 1-44 1 38 1 10 1-4 1-51 1-70 1 13 1 92 1 22 1 1 1-9 1-16 1 5 1-22 1-50 1 49 1 27 1 4 1 6 1-8 1-7 1-18 1-22 1 16 1-263 1 241 1 12 1-21 1-75 1 95 1-23 1-104 1 115 1-16 1-559 1 563 1 42 1 1 1-2 1-2 1-15 1-66 1-152 1 169 1 47 1 15 1 2 1-11 1-19 1 8 1-33 1-97 1-441 1 532 1 28 1-30 1 35 1-46 1-7 1-145 1 126 1-87 1 21 1 137 1 26 1-1 1-3 1-32 1-126 1 120 1 25 1-18 1-56 1 55 1-17 1 1 1 14 1-155 1 123 1-5 1 37 1-10 1 31 1-3 1-89 1 29 1-15 1-3 1-19 1-155 1 159 1 4 1-513 1 475 1-52 1 98 1 38 1-22 1-139 1 137 1 9 1 12 1 9 1-35 1-141 1-53 1 171 1 39 1-37 1 57 1 0 1 3 1-20 1 9 1-48 1 43 1 28 1 9 1 5 1-2 1-3 1 8 1 2 1-10 1-20 1 17 1-38 1-44 1 65 1-87 1 57 1 64 1 11 1 5 1 5 1-9 1-11 1-53 1-705 1 708 1 25 1-379 1 319 1-49 1 105 1-5 1-19 1-240 1 90 1 205 1 21 1 28 1-2 1-37 1 41 1 22 1-6 1-32 1 8 1-56 1 56 1 21 1 12 1-3 1-32 1-114 1 80 1-26 1 20 1 63 1 25 1-1 1 13 1-17 1-10 1-82 1 35 1 55 1-25 1-45 1 1 1-602 1 591 1 85 1 13 1-13 1-76 1 38 1 23 1 3 1 19 1-35 1 47 1 6 1-50 1 10 1 37 1-13 1-43 1 70 1 10 1 1 1-19 1-34 1 16 1-69 1-29 1 81 1-77 1-475 1 492 1 72 1 6 1 10 1 0 1 21 1-59 1 61 1 1 1-8 1 10 1 3 1-7 1-10 1 10 1 2 1-22 1 19 1-4 1-156 1 155 1 19 1 5 1 2 1-1 1 0 1 4 1-24 1 10 1 5 1-102 1 105 1 10 1 2 1-2 1-27 1-371 1 245 1 133 1 27 1 5 1-18 1-312 1 309 1 14 1-53 1 56 1 14 1-8 1-59 1 61 1 14 1-9 1 18 1-8 1 3 1-15 1 17 1-14 1 22 1-4 1-9 1-15 1-51 1-724 1 724 1 38 1 27 1-1 1 8 1 3 1 0 1-16 1-43 1 46 1 13 1-6 1 9 1 2 1-14 1 14 1-1 1-8 1-7 1 3 1 11 1 2 1-1 1-15 1 10 1-16 1-16 1 24 1 3 1-20 1 23 1 4 1-1 1 6 1-8 1 4 1-1 1 3 1 2 1-1 1-14 1 8 1 0 1-10 1-4 1-114 1 110 1 10 1 0 1-4 1-38 1 14 1-227 1 229 1 14 1 1 1 5 1-10 1 5 1 0 1-2 1-1 1 7 1-6 1 1 1-2 1 4 1-5 1-2 1 6 1-1 1-1 1-10 1-2 1 8 1-1 1-25 1 23 1-4 1 4 1 1 1 3 1-1 1 0 1-28 1 0 1 8 1 8 1 6 1-5 1-7 1 4 1-21 1 13 1-17 1-24 1-40 1-51 1 57 1 48 1 20 1 12 1 2 1-4 1 13 1 2 1-2 1-14 1 11 1 6 1 2 1-14 1 2 1 10 1 6 1-1 1-6 1 5 1-3 1 4 1 0 1-14 1 11 1-3 1-12 1 14 1-16 1 16 1 8 1-5 1 5 1-5 1 3 1 2 1-2 1 0 1-15 1 13 1 4 1-3 1-2 1 3 1-10 1 13 1 1 1 2 1 0 1 4 1-8 1 7 1 1 1-5 1-9 1-184 1 185 1 14 1 4 1 1 1-10 1-110 1 116 1 11 1 0 1-13 1 15 1 2 1 4 1-11 1 2 1 7 1-1 1-2 1-5 1 1 1-9 1 13 1-15 1 21 1-1 1-1 1-2 1 3 1-7 1 3 1 2 1-1 1 2 1-13 1 10 1 1 1 2 1-17 1 11 1-15 1-5 1 16 1 1 1-35 1 23 1 16 1-6 1 4 1-51 1-19 1 59 1-9 1 12 1 13 1 7 1 2 1-12 1 6 1 5 1-10 1 8 1 3 1-1 1-3 1-14 1-34 1-2 1 24 1 17 1 2 1-6 1-60 1-182 1 236 1 19 1-10 1 13 1-16 1 8 1 6 1-18 1 12 1-13 1 10 1 8 1 5 1-2 1-8 1 1 1 8 1-11 1 0 1-11 1-28 1-76 1 72 1 5 1 2 1 35 1 3 1-3 1 13 1 0 1-7 1-33 1 33 1 6 1-3 1 2 1-8 1 6 1-7 1 10 1-14 1-26 1 24 1-7 1-27 1 21 1 21 1 1 1 3 1 0 1-5 1-2 1 0 1-23 1 27 1 4 1-12 1 11 1 2 1 0 1-14 1-4 1-81 1 46 1 39 1 1 1-3 1 14 1 2 1-19 1 17 1-2 1-21 1-35 1 44 1 11 1-1 1-7 1 2 1-5 1-58 1 63 1 12 1-12 1 17 1-8 1-21 1-15 1 23 1-25 1 39 1-14 1 11 1-2 1-12 1-13 1 2 1 25 1 0 1-1 1-17 1-81 1 85 1 17 1 5 1-13 1 7 1 1 1-13 1 5 1 6 1-3 1-19 1-43 1 20 1 6 1-17 1 6 1 45 1 7 1-4 1-2 1 0 1-12 1-17 1-71 1 68 1 18 1 7 1-17 1 5 1 3 1 11 1 6 1-10 1-7 1 5 1 14 1-7 1 1 1-7 1 4 1 0 1-14 1-4 1 22 1-11 1 9 1-5 1-1 1 4 1-3 1-15 1 13 1-2 1-19 1 17 1 0 1 5 1-5 1 1 1-2 1 5 1-5 1-4 1 6 1-12 1 9 1-8 1-10 1 14 1-19 1 22 1-1 1 4 1-3 1-2 1 0 1-2 1-1 1-2 1-5 1-8 1-25 1-2 1 34 1-4 1-7 1 5 1-29 1 29 1-2 1-26 1 21 1-5 1 11 1-12 1-6 1-16 1 23 1-4 1-29 1 24 1-1 1-23 1-97 1-895 1 871 1 96 1 23 1 22 1 3 1 6 1-1 1-4 1 1 1-6 1 4 1-8 1-6 1 4 1-15 1 18 1-1 1-5 1 1 1-3 1-10 1-9 1-2 1 1 1-119 1 134 1 1 1-17 1-12 1-332 1 332 1-4 1-31 1 47 1 8 1-20 1 8 1 13 1 5 1-13 1 7 1-5 1-6 1-8 1 0 1-5 1-38 1 40 1-2 1 14 1-14 1 13 1-3 1 1 1 1 1-3 1-1 1-2 1-12 1 10 1 0 1-10 1-4 1 9 1-7 1 4 1 2 1-1 1-20 1 18 1 0 1-5 1 2 1 0 1-3 1-9 1 8 1-13 1 3 1-15 1-121 1 26 1 86 1 9 1 14 1-8 1-39 1 19 1-14 1-33 1-428 1 408 1-7 1 35 1-17 1-287 1 281 1 22 1 1 1-28 1-250 1 220 1 18 1-62 1 48 1-243 1 229 1 30 1-3 1-118 1-478 1 577 1 57 1-8 1-53 1-704 1 707 1 58 1 27 1-1 1-58 1 60 1-15 1-25 1 37 1-12 1-26 1 36 1-5 1-84 1 96 1 38 1-2 1-30 1 37 1 12 1 2 1 11 1 3 1 3 1-4 1-11 1 7 1-1 1-6 1-32 1 22 1 5 1-1 1-8 1-12 1-55 1 3 1-27 1 45 1 14 1 20 1-2 1 15 1 0 1 3 1 3 1 7 1-9 1 12 1 1 1 2 1 0 1-7 1-26 1 20 1 14 1 10 1 1 1-1 1 6 1-5 1-15 1-217 1 213 1 14 1-15 1-4 1 8 1 7 1 9 1-21 1-18 1 24 1 16 1-3 1-4 1 7 1 0 1-3 1-25 1 26 1-11 1 12 1-3 1 1 1 0 1-9 1 5 1-2 1 4 1-6 1 1 1-25 1 24 1-3 1-9 1 5 1-9 1-47 1-78 1-444 1 510 1 50 1 10 1-34 1-253 1 279 1 20 1 9 1 1 1-2 1-20 1 18 1-6 1 13 1 8 1-2 1 2 1 2 1 3 1-1 1-10 1 6 1-15 1 12 1-1 1 9 1 1 1 5 1-1 1 2 1-1 1-4 1-10 1 18 1-1 1 8 1-9 1 11 1-5 1-4 1 1 1-21 1-250 1 250 1 13 1 11 1 6 1-4 1-8 1 2 1-6 1 14 1 3 1 1 1-17 1 15 1 7 1-13 1 12 1 2 1-12 1-21 1 22 1-4 1 9 1 1 1-7 1-10 1 12 1 9 1-13 1 15 1-10 1 4 1-13 1 13 1-6 1 6 1-4 1 4 1 1 1-6 1-10 1-1 1-4 1 4 1-9 1-7 1-15 1-30 1-38 1-69 1-53 1 41 1 46 1 59 1 28 1 8 1 16 1-3 1-10 1 27 1 7 1 6 1 2 1-8 1-7 1 18 1-10 1 4 1 0 1-9 1 15 1 0 1 2 1-4 1 4 1 2 1-3 1 5 2 0 1-1 1 1 1-1 2 0 1 2 1 0 1-1 1-3 1-3 1 0 1-5 1-3 1 8 1 1 1-15 1-26 1 34 1 7 1 8 1-1 1 3 1 2 1-20 1 14 1-11 1 9 1-19 1 19 1 6 1-5 1-9 1-9 1-71 1-657 1 648 1 52 1 11 1-14 1-69 1-614 1 607 1 63 1 4 1-1 1-35 1-328 1 318 1 30 1 9 1-5 1-26 1-339 1 338 1 44 1-2 1-22 1-437 1 444 1 27 1 12 1 7 1-3 1-18 1-58 1 66 1 15 1-1 1-2 1 8 1-1 1-5 1-4 1-31 1-22 1-549 1 553 1 40 1 5 1-18 1-266 1 263 1 26 1-16 1 14 1 7 1-11 1 5 1-22 1 18 1-10 1-277 1 281 1 19 1-1 1 4 1-2 1-5 1-11 1 16 1 4 1-1 1 0 1-4 1-9 1-16 1 21 1 8 1-3 1-7 1 8 1-9 1 8 1-17 1 13 1-13 1 17 1 2 1 1 1 0 1 2 1-1 1-7 1 2 1-3 1-5 1 16 1-2 1-10 1 3 1-1 1 1 1 1 1-9 1 14 1-6 1 4 1-3 1 0 1-6 1-33 1 17 1 6 1-180 1 176 1 3 1 1 1-24 1-349 1 335 1 17 1-49 1 45 1-20 1 17 1-13 1-5 1 1 1 7 1-26 1 19 1-213 1 218 1 3 1-110 1 124 1 15 1 6 1 0 1-1 1 9 1 7 1-15 1-4 1-16 1 41 1 1 1-24 1 32 1 6 1-2 1 1 1-3 1 3 1-9 1 13 1 8 1 4 1 2 1-3 1-18 1 8 1 3 1-8 1 10 1 1 1 17 1 4 1-7 1 7 1 2 1-26 1 2 1-30 1-51 1 83 1 14 1-43 1-590 1 575 1 49 1-31 1-750 1 758 1 53 1-2 1-225 1 211 1 11 1 24 1 5 1-10 1-38 1 48 1 10 1-13 1 2 1-5 1 5 1-12 1 28 1-15 1 11 1 3 1 2 1 3 1-7 1-4 1 6 1-10 1-54 1 54 1 8 1 2 1-16 1-178 1 184 1 12 1-4 1-6 1-169 1 160 1 12 1-1 1-27 1-118 1 75 1 18 1 39 1 2 1 10 1-5 1-23 1-35 1 18 1-70 1-606 1 563 1 62 1-25 1-274 1 261 1-2 1-34 1-503 1 472 1 70 1-8 1-454 1 419 1-533 1 558 1 74 1 13 1 34 1 17 1 7 1-21 1 11 1-9 1-33 1-283 1 161 1 92 1 18 1-22 1-279 1 199 1-579 1 597 1 44 1-12 1-327 1 325 1 22 1-21 1-336 1 323 1 13 1 6 1 1 1-10 1-28 1-154 1 110 1-29 1-244 1 287 1-51 1-333 1 374 1 33 1 1 1-7 1-103 1 101 1 12 1-15 1-146 1 119 1 17 1 9 1-3 1-20 1-52 1-48 1-453 1 483 1-15 1-30 1-10 1-604 1 622 1 0 1-705 1 724 1 27 1-484 1 519 1 47 1-45 1-492 1 505 1 63 1-23 1-213 1 260 1 11 1 23 1-32 1-25 1 80 1 22 1 12 1 7 1 12 1-19 1 29 1 3 1 2 1 5 1 3 1 0 1 2 2 0 1 1 1 0 1 1 1-1 1 4 1 0 1 1 2 0 1-2 1-14 1 18 1 2 1 1 1 1 1 1 1 1 1 0 1 1 2 0 1 1 1 0 1 2 1 0 1-2 1 3 1 0 1 3 1 0 1 1 1 0 1-1 1 1 1 2 1 1 1-1 1-3 1 5 1 1 1-3 1 3 3 0 1-1 1 2 1 2 2 0 1 1 3 0 1 1 1-4 1 4 1 1 2 0 1-1 1 3 1-2 1 1 1-1 1 2 2 0 1 1 2 0 1-1 1 2 1-1 1 0 1 1 1-1 1-3 1 1 1-1 1-1 1 3 1 1 1 3 1 1 1 1 1 2 1 1 1 2 1 0 1 1 1 2 1 0 1 1 2 0 1 1 3 0 1 1 2 0 1 1 1-1 1 1 1 0 1 1 3 0 1-1 1 2 1-1 1-1 1 2 1 1 1-2 1 2 1-2 1 2 1 0 1 1 1-3 1 3 2 0 1 1 1-1 1 1 1-2 1 3 1-1 1 1 5 0 1 1 1-1 1 1 1-1 1 0 1 1 1 0 1-1 1 1 1 1 1-1 1 1 1-1 1 0 1-2 1 3 1 0 1-1 1 1 1-1 1-4 1 1 1 4 1-1 2 0 1 1 7 0 1-2 1 2 2 0 1 1 1-1 3 0 1-2 1 2 1 1 1-3 1 3 1 1 1-1 2 0 1 1 1-1 1 1 4 0 1-1 1 1 2 0 1-3 1 3 2 0 1-2 1 2 2 0 1-1 1 2 2 0 1-1 1 1 1-1 1 1 10 0 1-1 1 1 6 0 1-1 1 2 1 0 1-1 2 0 1-1 1 1 3 0 1-1 1 1 1 0 1 1 1-1 3 0 1 1 1-1 1 1 1-1 5 0 1 1 1-2 1 2 1 0 1-1 2 0 1 1 1-2 1 1 1 0 1 1 1-1 2 0 1-1 1 1 1 0 1 1 1-1 1 1 1-1 2 0 1-1 1 2 2 0 1-1 1 1 1 0 1-1 1 1 1-1 3 0 1 1 1-3 1 3 1-1 3 0 1 1 1-1 2 0 1 1 1-2 1 1 2 0 1 1 3 0 1-5 1 4 1-1 1 2 1-2 1 2 5 0 1-2 1 1 1 0 1 1 1-1 1 1 1-3 1 2 1 0 1 1 1-1 1 1 8 0 1-2 1 3 1-1 1-1 1 1 1-1 1 0 1 1 4 0 1-1 1 1 6 0 1-7 1-8 1-7 1-60 1-60 1-133 1-117 1-100 1-120 1-120 1-120 1-120 1-120" stroke="#5f9a5f"/>
<path d="M25 3692l1 3 1-13 1 15 1 0 1 1 1-2 1 4 1 2 1 0 1 5 1 1 1-8 1 10 1 10 1 6 1 4 1-4 1-15 1 5 1-4 1-7 1-10 1 2 1-12 1 1 1-83 1-75 1-82 1-77 1-79 1-81 1-81 1-76 1-86 1-73 1-80 1-86 1-71 1-36 12 0 1 580 1 690 13 0 1-1 1 1 3 0 1-3 1 3 2 0 1-4 1-20 1-18 1-10 1-17 1-21 1-10 1-14 1-10 1-9 1 8 1-5 1 1 1-2 1-4 1-1 1-3 1 0 1 1 1-10 1 6 1 0 1-2 1 2 1 0 1-2 1 2 1-8 1 1 1-2 1-1 1-23 1 27 1 0 1-3 1 0 1 2 1-4 1-21 1-2 1 8 1 10 1-10 1 13 1 3 1 2 1-2 1-9 1-4 1 11 1 1 1 1 1 1 1-1 1-1 1-9 1 4 1 1 1-13 1 10 1-15 1 8 1 0 1 5 1 0 1-15 1-14 1 19 1-12 1 10 1 6 1-11 1 11 1-3 1-18 1-237 1 223 1-152 1 168 1 2 1-159 1 158 1 10 1 5 1 0 1-2 1 0 1-2 1-4 1 5 1 1 1-11 1 4 1 6 1 0 1-5 1 1 1-6 1-1 1-2 1-9 1 11 1 4 1 1 1-4 1-38 1 36 1-1 1 0 1-6 1-11 1 6 1 10 1-4 1 4 1-1 1-9 1 5 1 2 1-6 1-37 1 37 1 1 1-5 1 11 1-4 1 3 1-9 1 0 1 5 1-7 1-3 1-12 1-144 1 123 1 34 1-7 1-2 1-5 1 8 1-56 1 59 1 5 1-4 1 4 1 3 1-1 1-13 1 8 1 0 1-4 1-3 2 0 1 4 1-5 1 3 1-3 1 0 1-3 1 0 1 5 1-2 1-6 1 0 1 6 1-3 1-2 1 4 1-12 1 12 1-1 1-2 1-4 1-1 1-9 1-6 1-49 1-533 1 509 1 17 1-401 1 364 1-464 1 490 1 52 1-10 1-6 1-283 1 270 1 17 1-12 1-35 1-105 1 160 1 13 1-8 1 6 1-2 1 4 1-6 1-9 1 6 1 9 1-1 1-4 1-9 1 7 1-14 1 15 1 3 1 1 1-1 1 4 1-9 1-9 1 15 1-15 1 15 1 0 1-3 1 2 1-6 1-4 1-23 1-41 1 43 1-4 1-30 1 38 1 14 1 6 1-14 1 5 1 11 1 1 1 7 1-2 1-2 1-1 1 0 1-3 1 4 1-2 1 2 1-1 1-10 1-9 1 18 1-1 1-12 1 14 1-2 1 1 1-2 1-32 1-27 1 0 1 39 1 7 1 5 1-5 1 2 1-3 1-2 1 0 1 3 1-8 1-15 1 17 1 9 1-4 1-5 1 2 1-7 1-2 1 1 1-26 1 8 1-156 1 157 1-21 1 30 1 1 1-7 1-34 1 6 1-111 1 112 1 29 1 0 1-2 1-18 1 2 1-91 1 94 1-6 1-58 1 27 1-155 1 188 1 11 1 4 1 6 1-9 1-8 1 0 1-18 1-19 1 29 1 6 1-4 1-9 1-54 1-353 1 348 1 3 1-294 1 313 1-51 1-237 1 301 1 16 1-39 1 44 1 5 1-1 1-1 1-33 1-203 1 203 1 22 1-7 1-62 1 41 1 23 1 10 1 1 1-20 1 17 1-5 1 8 1-43 1 19 1 15 1 1 1-1 1-13 1 12 1 2 1-5 1-9 1 4 1 1 1-40 1 41 1 2 1-3 1-3 1-29 1-38 1 43 1-14 1 27 1 8 1 0 1-40 1-25 1 59 1-1 1-99 1 54 1-184 1 164 1 57 1 8 1-4 1 6 1-22 1-56 1 42 1 27 1 5 1-10 1-23 1-42 1-210 1-91 1 286 1-13 1 63 1-59 1 55 1 33 1-12 1-54 1-156 1-13 1 218 1 21 1-30 1-4 1-153 1 102 1-30 1 12 1-3 1 77 1 13 1 6 1-3 1-12 1-53 1-19 1 11 1-153 1 112 1 20 1-18 1-70 1 110 1-41 1-234 1 223 1 45 1-362 1 382 1 27 1-12 1 7 1 2 1-17 1-67 1-175 1 195 1 48 1 7 1-8 1-45 1-136 1 131 1-11 1-112 1-7 1 145 1 15 1-32 1 23 1-108 1 45 1-324 1 310 1-105 1-271 1 429 1 52 1 6 1-6 1-14 1-95 1 69 1-12 1-124 1-223 1 263 1 37 1-8 1 9 1-455 1 404 1-2 1 101 1-21 1 43 1 0 1-187 1 164 1-69 1-87 1 124 1-212 1 219 1-1 1-314 1 237 1 7 1 59 1 9 1-86 1-298 1 306 1 56 1 39 1 17 1-37 1-139 1-22 1 145 1 35 1-7 1 29 1-4 1-20 1-75 1-9 1-27 1 37 1 80 1 37 1 12 1 6 1-12 1 11 1-2 1-26 1-12 1 22 1-22 1-89 1 67 1-204 1 141 1 94 1 8 1 27 1-9 1-28 1 17 1-57 1-581 1 610 1-7 1-694 1 627 1-105 1 196 1-13 1-27 1-187 1 131 1 136 1-54 1 92 1-2 1-43 1 50 1 6 1-21 1-104 1 75 1-85 1 113 1 30 1 14 1-15 1-58 1-274 1 246 1-44 1 43 1 88 1 30 1 7 1 1 1-8 1 1 1-83 1 4 1 71 1-17 1-174 1 100 1-719 1 738 1 79 1 3 1-8 1-84 1-62 1 94 1-36 1 104 1-58 1 78 1 2 1-107 1 47 1 48 1-14 1-141 1 161 1 33 1 3 1-20 1-91 1 11 1-173 1-197 1 265 1-15 1-296 1 299 1 157 1-4 1-19 1 53 1-9 1-184 1 201 1-4 1-60 1 47 1 24 1-17 1-35 1 40 1 6 1-30 1 35 1 3 1-113 1 118 1 12 1 5 1-4 1-3 1 11 1-2 1-1 1-13 1-8 1-134 1 139 1 21 1 0 1-8 1-49 1-534 1 214 1 290 1 79 1 21 1-2 1-149 1 137 1 6 1-62 1 48 1 35 1 0 1-41 1 42 1 15 1-9 1 10 1-13 1 10 1-22 1 14 1-31 1 35 1-15 1 6 1-38 1-44 1-807 1 818 1 59 1 19 1 12 1-2 1 0 1 1 1-4 1-42 1 33 1 8 1 9 1-6 1 8 1-4 1-20 1 11 1 4 1-14 1 15 1-8 1 8 1-6 1 0 1-3 1-20 1-53 1 61 1 9 1-25 1 24 1 14 1 2 1-1 1 4 1-4 1 3 1-7 1 5 1-7 1 4 1 0 1-4 1-2 1-5 1-38 1 34 1-4 1 5 1-22 1-61 1 43 1-182 1 192 1 8 1 17 1-14 1 13 1-11 1 5 1-5 1 10 1 1 1-4 1-8 1 2 1 3 1-4 1-8 1 10 1-1 1 3 1-2 1 1 1-5 1-9 1-8 1 0 1 11 1-1 1 0 1 4 1 0 1 2 1-5 1-23 1 11 1 2 1 2 1-13 1-1 1 13 1 3 1-13 1 3 1-18 1-3 1-8 1 13 1 14 1-6 1 7 1 9 1-3 1 7 1-1 1-7 1 1 2 0 1 3 1-6 1-1 1 11 1 3 1 3 1 0 1 2 1 1 1-3 1-1 1-2 1 1 1 1 1-40 1 37 1-3 1 1 1 12 1-8 1 5 1 5 1-2 1-6 1 9 1-6 1-3 1 10 1-2 1 3 1-2 1 4 1-13 1 14 1 4 1 0 1 4 1 0 1-1 1-4 1 0 1-3 1 5 1-57 1 52 1 5 1 2 1-4 1-36 1-148 1 183 1 17 1-1 1-22 1 25 1 5 1 2 1-7 1-7 1 8 1-1 1 1 1 2 1-12 1-35 1 40 1 4 1 7 1-1 1-8 1 7 1 2 1-11 1 9 1 0 1-2 1-4 1 6 1-8 1 11 1-4 1-8 1 0 1-35 1 35 1 0 1-12 1-28 1 3 1 29 1-10 1 11 1-34 1-87 1 102 1-7 1 9 1 32 1 8 1-4 1-7 1 3 1-1 1-24 1 17 1 14 1-1 1-14 1 6 1-38 1 4 1-2 1 35 1 1 1-3 1-21 1-40 1 67 1 2 1 3 1-9 1 10 1-3 1-7 1-15 1 10 1-14 1 19 1 5 1 8 1-4 1-4 1-3 1-3 1-18 1 10 1-60 1 8 1-81 1 98 1-27 1 18 1 50 1-2 1-20 1 30 1 3 1-14 1-65 1 69 1 11 1 2 1-1 1-17 1 22 1-3 1 1 1-9 1-45 1 41 1-12 1-80 1 61 1 33 1 1 1 11 1-4 1-32 1 26 1-10 1-29 1 44 1-6 1-62 1 67 1 7 1 0 1-10 1-31 1-95 1 25 1 88 1-13 1 3 1 33 1-15 1-41 1 30 1 7 1-34 1-61 1 82 1 22 1-28 1-36 1 46 1 23 1-35 1 46 1 4 1 8 1-6 1-7 1-6 1-9 1-11 1-102 1 91 1-6 1-9 1 25 1-28 1 20 1-6 1 21 1 3 1 6 1-25 1-101 1 103 1 25 1-7 1-16 1 13 1 1 1-37 1 41 1 8 1-2 1-10 1-31 1-24 1 7 1-58 1 41 1 64 1 9 1-4 1-1 1-4 1-32 1 7 1-69 1 53 1 21 1-3 1-71 1 46 1 34 1 4 1 8 1-4 1-5 1 10 1-10 1 5 1 3 1-12 1 10 1-5 1-23 1 17 1 8 1 1 1-1 1-8 1 10 1-7 1 0 1 1 1-2 1-23 1-67 1 67 1 19 1 3 1-10 1-12 1 20 1 1 1-6 1 4 1 1 1-5 1 3 1-5 1-19 1 8 1 4 1 9 1 0 1 1 1-9 1 11 1-4 1-3 1-5 1 3 1-3 1-14 1-66 1 1 1 65 1 11 1-23 1 3 1-210 1 209 1-2 1-3 1 14 1-5 1 7 1-1 1-9 1-80 1 69 1 7 1-32 1 28 1 7 1-14 1-54 1-690 1 672 1 54 1 2 1 25 1 8 1 1 1 0 1-3 1-12 1-21 1 12 1 12 1-15 1 4 1-20 1 26 1-6 1-31 1 27 1 5 1-23 1 6 1-21 1-11 1-326 1 348 1 12 1-18 1-5 1-70 1 93 1-4 1-90 1 85 1 10 1-24 1-20 1 39 1 3 1-2 1 4 1-5 1-16 2 0 1-3 1-59 1 62 1 9 1-3 1 9 1-7 1-3 1-27 1 29 1-7 1 7 1 2 1-13 1 6 1-2 1-5 1 2 1-4 1-22 1 20 1 6 1-2 1 3 1-5 1 2 1-7 1-11 1 11 1-3 1-10 1 3 1-1 1-10 1-47 1-255 1 71 1 185 1 17 1 22 1 4 1-42 1 31 1-6 1-37 1-397 1 359 1 0 1 3 1-16 1-386 1 400 1 29 1 3 1-53 1-455 1 411 1 56 1-94 1 77 1-210 1 189 1 12 1 39 1-52 1-262 1 297 1 46 1 5 1-8 1-241 1 241 1-15 1 26 1-1 1-297 1 266 1-94 1-43 1 123 1-34 1 29 1 56 1-42 1-142 1 156 1 58 1 8 1-56 1 28 1 30 1-1 1 19 1 1 1 4 1 6 1-39 1 32 1 0 1-21 1-139 1 121 1 16 1-4 1-17 1-34 1-77 1-55 1-18 1 39 1 69 1 36 1 15 1 30 1-5 1 17 1-2 1 12 1 7 1 7 1 5 1 3 1-5 1-5 1-20 1 23 1 11 1 7 1 1 1 1 1-2 1-24 1 14 1-199 1 198 1 5 1-34 1-34 1 33 1 35 1 11 1 0 1-30 1 31 1 6 1-7 1 2 1 6 1-1 1-9 1-21 1 19 1-20 1 29 1-1 1-10 1 10 1-5 1-6 1-2 1 9 1-1 1-6 1-47 1 40 1 6 1 3 1-5 1-23 1-65 1-28 1-430 1 455 1 68 1 4 1-47 1-420 1 419 1 57 1 9 1-2 1-5 1-4 1 9 1-22 1 18 1 17 1 5 1-2 1-3 1-11 1 15 1-19 1 10 1-47 1 51 1-19 1 25 1 10 1-3 1 6 1-2 1 3 1-1 1-21 1 20 1 14 1-1 2 0 1-2 1 0 1 2 1-25 1-197 1 204 1-1 1 2 1 16 1-6 1-36 1 27 1-14 1 25 1 24 1 2 1-4 1-5 1 8 1-4 1-2 1 2 1-12 1-35 1 14 1 4 1 18 1 1 1-39 1-22 1 65 1 12 1 0 1-4 1-12 1 13 1-8 1 8 1 5 1-2 1-14 1 15 1-6 1-7 1-12 1 4 1-5 1 6 1-6 1-11 1-9 1-14 1-19 1-27 1-20 1 3 1-21 1 58 1 12 1 7 1-7 1-12 1-53 1 75 1 19 1 11 1-2 1 1 1 3 1 3 1-19 1 16 1 5 1-15 1 18 1 1 1 4 1 1 1-1 1-4 1 3 1-1 1 3 1-4 1 4 1-4 1-13 1 18 1-3 1-13 1 8 1-6 1 10 1-1 1 3 1-26 1 13 1 10 1-1 1-17 1-47 1 55 1 15 1-2 1 6 1 3 1-7 1-8 1 3 1-14 1 7 1-39 1 41 1 7 1 7 1-8 1-30 1-35 1-450 1 437 1 56 1 0 1-15 1-60 1-519 1 510 1 50 1 11 1-12 1-29 1-289 1 274 1 31 1 11 1-1 1-24 1-251 1 261 1 22 1-15 1 16 1-202 1 212 1 11 1 6 1 2 1 3 1-23 1-93 1 104 1 15 1 0 1 6 1-1 1-3 1 1 1-16 1-42 1-26 1-678 1 688 1 39 1 2 1-35 1-603 1 606 1 47 1 16 1-9 1 9 1-14 1 13 1-7 1 9 1-9 1-104 1 111 1 6 1-7 1 5 1 6 1-4 1-24 1 20 1 10 1 1 1-1 1-2 1-5 1-28 1 31 1 1 1 2 1 5 1-6 1-14 1 12 1 2 1-10 1-25 1 27 1 6 1 0 1 2 1-4 1 2 1-4 1 4 1-8 1-19 1 17 1 2 1 7 1 3 1-10 1 5 1 4 1-9 1 13 1-12 1 5 1-10 1 8 1-9 1-46 1-38 1 47 1-323 1 340 1 16 1-6 1-12 1-226 1 215 1 4 1-29 1 6 1 6 1-1 1-4 1-4 1 9 1-8 1-47 1 48 1-29 1 35 1-44 1-248 1 263 1 36 1 21 1 16 1 7 1 3 1-7 1-33 1 13 1 17 1 19 1 4 1 9 1-20 1 11 1 11 1-20 1-1 1 0 1-53 1 72 1 22 1 2 1 3 1-1 1-5 1 4 1 2 1-55 1 45 1-4 1 14 1 9 1-23 1 25 1-8 1-46 1 8 1-87 1-76 1 168 1 36 1-24 1-93 1 121 1 15 1-36 1-678 1 680 1 31 1 12 1-127 1 99 1 28 1 15 1-2 1-13 1-62 1 61 1 14 1 3 1-8 1 0 1-16 1-65 1 79 1 19 1 5 1 4 1-8 1 4 1-3 1-9 1 7 1-5 1-76 1 57 1 23 1 0 1-4 1-142 1 136 1 13 1 2 1-2 1-39 1 38 1-2 1-12 1-37 1-199 1 77 1 97 1 19 1 46 1-8 1-10 1 1 1-99 1 61 1-98 1-670 1 646 1 78 1-44 1-467 1 471 1 26 1-15 1-318 1 219 1 77 1-43 1-801 1 734 1-551 1 596 1 120 1-24 1 98 1 23 1 12 1-2 1-9 1-10 1-19 1-251 1 146 1 80 1 3 1-46 1-363 1 309 1-412 1 417 1 40 1-53 1-805 1 809 1 45 1-29 1-440 1 448 1 22 1-2 1-2 1-11 1-43 1-158 1 84 1-72 1-590 1 636 1-113 1-170 1 322 1 65 1 5 1-9 1-115 1 103 1 23 1-17 1-255 1 175 1 76 1 8 1-19 1-13 1-23 1-91 1-126 1 187 1-101 1-26 1 75 1-403 1 450 1 16 1-342 1 344 1 9 1-470 1 470 1 50 1-86 1-731 1 745 1 87 1-27 1-329 1 385 1 43 1 6 1 2 1-56 1 76 1 40 1 15 1-4 1 17 1-66 1 77 1 8 1 4 1 4 1 3 1 0 1 2 1 0 1 1 1 2 1 1 1-1 1 1 1 1 1 1 1 1 1 0 1-4 1 3 1-4 1 8 1 1 1 1 1 1 1 0 1 1 2 0 1 2 1 1 1 0 1 1 1 0 1 1 1-1 1 3 1 1 1 1 2 0 1 1 1-1 1 4 2 0 1-2 1 2 1 1 1 0 1 1 1 1 1-1 1 0 1 1 1-2 1 3 3 0 1 1 1 1 2 0 1 1 4 0 1 1 2 0 1 1 1 1 2 0 1-1 1 0 1-2 1 5 1-1 1-1 1 1 3 0 1-1 3 0 1-1 1 1 1 1 1 3 1-1 1 4 1 2 1 1 1 0 1 2 1 0 1 1 1 1 1 0 1 1 1 1 1-1 1 1 2 0 1 1 1 0 1 1 1-1 1 1 1 0 1 1 2 0 1 1 1-1 1 0 1 1 1 0 1 1 1-2 1 1 1 2 1-2 1 2 1-2 1-1 1 3 1 0 1-1 1 3 1-1 1-1 1 1 1-2 1 2 1 1 1-1 1 2 4 0 1 1 1-1 1 0 1-1 1 1 1 1 1 0 1-1 1-1 1 1 1 1 1 0 1-3 1 3 1 0 1-3 1 1 1 2 1 0 1 1 1-1 1-1 1 0 1-1 1 2 1-1 1 2 1-2 1 2 1-1 1 1 2 0 1-1 1 1 2 0 1-1 1 2 1-1 3 0 1 1 2 0 1-1 1 1 5 0 1-2 1 3 1-2 1 2 1 0 1-1 1 1 1 0 1-1 1 0 1-1 1 2 1-1 1 0 1 1 4 0 1-1 1 1 2 0 1 1 1 0 1-2 1 2 1-1 1 1 6 0 1-1 1 1 1 1 1 0 1-1 2 0 1-2 1 2 2 0 1 1 1-2 1 0 1 2 1-1 1 0 1 1 2 0 1-1 2 0 1-1 1 1 1 1 1-2 1 2 1 0 1-1 1 1 1-2 1 0 1 1 1-2 1 3 1-1 1-1 1 1 1 0 1-1 1 1 3 0 1 1 1-1 2 0 1-1 1 2 2 0 1-2 1 2 1-1 1 1 2 0 1-1 1 1 1-2 1 1 1 0 1 1 1 0 1-1 1 1 1 0 1-1 1 1 1 1 1-3 1 0 1 2 2 0 1-2 1 2 1 1 1-1 1 0 1-1 1 1 2 0 1 1 1-1 1 0 1 1 2 0 1-3 1 2 1-2 1 2 4 0 1-1 1 2 1-1 2 0 1-1 1 2 1-1 1 1 1-2 1 1 1 0 1-8 1 8 3 0 1 2 1-2 2 0 1-3 1 4 1-1 1 1 1 0 1-1 1 1 5 0 1-1 1 1 1-1 2 0 1 1 2 0 1-1 1 1 1-1 1 1 1-2 1-5 1-8 1-7 1-60 1-60 1-133 1-117 1-100 1-120 1-120 1-120 1-120 1-120" stroke="#a020a0"/>
<path d="M25 3665l1 15 1 3 1-1 1-3 1-1 1-5 1 10 1-3 1 7 1 1 1 3 1 7 1 1 1 1 1 11 1 5 1-5 1-3 1-10 1-6 1-11 1 2 1-6 1 1 1-5 1-44 1-80 1-76 1-78 1-79 1-78 1-83 1-87 1-63 1-79 1-81 1-73 1-82 1-70 13 0 1 1270 5 0 1-13 1 13 10 0 1-23 1-34 1-31 1-37 1-29 1-1 1-9 1 6 1-4 1-4 1-3 1 0 1 1 1-8 1 4 1-5 1-1 1-3 1-5 1 10 1-4 1-7 1 8 1 4 1-1 1-1 1-1 1-1 1 2 1-4 1-4 1 2 1-11 1 6 1-8 1 9 1-4 1 3 1-11 1 11 1 2 1-10 1 9 1-8 1-2 1 6 1 0 1-13 1 13 1 2 1-7 1 1 1 7 1-2 1 1 1-3 1 4 1-1 1-1 1-3 1 2 1 1 1-5 1 4 1-2 1-10 1 7 1 4 1-2 2 0 1-14 1 5 1-11 1 10 1 6 1-2 1 3 1-4 1-13 1-151 1 147 1-56 1 64 1-4 1-188 1 189 1 12 1 1 1-41 1 31 1 3 1-1 1-5 1 9 1-17 1-4 1 4 1 17 1-6 1-2 1-11 1 9 1 6 1-2 1-14 1 11 1-3 1-15 1 4 1-158 1 157 1 11 1-1 1-2 1-4 1 6 1-13 1 10 1 0 1-1 1-1 1 0 1-26 1 14 1-16 1 15 1 12 1-4 1 3 1-12 1 9 1-1 1-1 1-2 1-3 1-1 1-9 1-52 1 60 1 2 1 1 1-1 1-11 1 7 1-49 1 48 1 1 1-5 1 2 1-8 1 8 1-10 1 5 1 3 1-9 1 4 1 2 1-2 1 1 1-2 1 2 1-2 1-1 1 1 1-3 1 3 1-9 1 3 1-5 1-4 1 1 1 3 1 5 1-5 1 5 1-11 1 5 1-2 1 0 1-4 1-3 1-13 1-114 1 91 1-22 1-357 1 308 1-579 1 603 1 57 1 8 1-4 1-76 1 36 1 18 1 19 1-19 1-91 1 111 1 2 1 5 1-7 1 3 1 2 1-3 1-7 1 5 1 2 1-3 1 1 1-11 1 7 1-4 1 3 1 7 1-4 1-13 1 12 1 4 1-4 1 1 1 2 1-13 1 8 1-2 1 7 1-5 1-1 1-10 1-22 1 17 1 3 1-36 1 35 1 7 1-3 1-20 1 7 1 17 1 7 1 2 1-2 1-3 1 3 1 3 1-9 1-4 1 9 1-1 1 1 1-12 1 1 1 5 1-6 1-11 1 13 1 0 1 3 1-6 1 0 1-28 1-24 1 41 1 5 1 7 1-1 1-1 1-3 1 0 1-1 1-5 1-4 1-18 1 19 1 2 1-2 1-1 1 1 1-17 1 16 1-5 1-30 1 24 1-50 1 52 1-7 1 0 1 3 1-22 1-77 1 51 1-68 1 79 1 22 1 4 1-17 1 0 1-6 1-316 1 307 1 23 1-69 1 28 1-211 1 245 1 6 1 10 1-2 1-8 1 4 1 2 1-14 1-31 1 40 1-1 1-2 1-30 1-59 1-236 1 203 1 52 1-180 1 197 1-76 1-351 1 425 1 34 1-15 1 21 1 7 1-13 1 10 1-26 1-109 1 111 1 14 1-5 1-39 1 21 1 4 1 16 1 10 1-22 1 13 1-1 1-13 1-155 1 146 1 21 1 4 1-4 1-25 1 22 1 0 1-2 1-35 1 27 1-7 1-27 1 30 1 4 1-4 1-1 1-17 1-30 1 29 1-29 1 25 1 18 1-11 1-24 1-33 1 50 1 1 1-104 1 37 1-126 1 128 1 59 1 15 1-1 1 2 1-10 1-45 1 35 1 14 1 1 1-4 1-5 1-23 1-126 1-182 1 228 1 4 1 55 1-72 1 75 1 26 1-2 1-50 1-17 1-80 1 135 1 12 1-12 1-7 1-91 1 41 1-57 1-24 1 23 1 98 1 18 1 11 1-2 1-10 1-26 1-29 1 11 1-389 1 302 1 25 1-59 1 10 1 68 1-46 1-290 1 290 1 62 1-182 1 217 1 18 1-8 1-4 1 8 1-16 1-94 1-226 1 252 1 58 1 11 1-7 1-54 1-83 1 35 1-115 1-300 1 54 1 401 1 42 1-50 1 48 1-102 1 46 1-232 1 181 1-219 1 47 1 245 1 46 1 11 1 0 1-32 1-116 1 99 1 4 1-91 1-335 1 364 1 1 1 7 1 19 1-272 1 254 1-37 1 91 1-30 1 44 1-8 1-210 1 168 1-64 1-83 1 78 1-276 1 308 1 16 1-323 1 243 1-229 1 294 1 40 1-30 1-187 1 191 1 24 1 20 1-1 1-70 1-237 1 50 1 219 1 34 1-43 1 50 1 13 1-2 1-38 1-4 1-118 1 122 1 5 1 47 1 22 1 0 1-4 1 6 1 2 1-22 1-11 1-17 1-79 1-44 1 88 1-197 1 183 1 91 1 15 1 14 1 0 1-12 1 6 1-102 1-675 1 678 1-10 1-668 1 552 1-7 1 169 1-17 1-1 1-251 1 29 1 235 1-21 1 128 1 10 1-53 1 74 1 13 1-10 1-74 1 56 1-78 1 94 1-11 1 23 1 1 1-50 1-172 1 125 1-64 1 88 1 74 1 22 1 5 1-1 1-40 1 19 1-98 1-2 1 90 1 9 1-157 1 68 1-652 1 638 1 110 1 16 1-27 1-116 1-99 1 135 1 83 1 46 1-8 1 19 1 3 1-72 1 45 1 31 1-38 1-58 1 73 1 36 1-9 1-7 1-54 1 24 1-91 1-166 1 222 1-37 1-430 1 419 1 95 1-9 1 1 1 27 1-6 1-202 1 207 1 4 1-51 1 45 1 12 1-6 1-56 1 57 1 12 1-8 1 16 1-8 1-209 1 167 1 56 1 2 1 12 1 4 1-2 1-5 1-6 1 1 1-36 1-114 1 111 1 42 1 13 1 2 1-32 1-319 1 6 1 258 1 70 1 38 1-7 1-190 1 185 1 5 1-74 1 66 1 28 1 8 1-54 1 53 1 12 1-9 1-15 1-52 1 55 1-14 1 21 1-22 1 40 1 3 1-7 1-8 1-41 1-534 1 532 1 40 1 11 1 11 1 1 1 2 1-7 1-21 1-50 1 52 1 20 1-14 1 22 1-2 1 3 1-5 1-22 1 11 1-6 1 14 1-10 1 14 1-9 1 4 1-1 1-13 1-30 1 31 1 9 1-11 1 10 1 9 1 1 1 2 1-6 1 7 1-1 1 1 1 4 1-4 1-4 1 0 1-6 1-4 1-22 1-314 1 311 1 18 1 3 1-8 1-27 1 22 1-26 1 26 1-2 1 4 1 7 1-6 1-4 1 3 1 2 1 3 1-4 1 1 1-1 1 0 1-4 1-10 1-4 1 4 1 5 1-8 1-13 1-3 1 12 1-12 1-2 1-4 1 8 1-4 1 2 1-5 1-10 1 3 1-3 1-17 1 5 1-7 1 8 1-7 1-8 1 11 1-5 1-10 1-11 1-12 1-35 1-18 1 26 1 38 1 21 1 5 1-5 1 13 1 3 1 0 1 3 1-11 1 12 1 1 1-6 1-32 1 7 1 31 1-8 1 11 1-4 1 11 2 0 1 7 1 2 1-14 1 12 1-17 1 17 1-7 2 0 1 14 1-7 1 7 1 4 1-12 1 12 1-6 1-13 1 19 1 1 2 0 1 2 1 9 1 3 1-2 1 4 1 2 1 1 1-1 1-1 1-2 1-4 1-9 1-191 1 191 1 13 1 5 1 3 1-22 1-148 1 150 1 23 1 2 1-14 1 18 1 8 1-12 1 5 1-27 1 34 1 4 1 1 1-4 1-6 1-1 1 10 1 1 1-3 1 4 1 4 1-9 1 10 1-4 1-11 1 11 1 4 1-5 1 6 1-3 1-8 1 6 1-5 1 4 1-29 1 22 1 3 1-4 1-8 1-9 1 26 1-5 1 2 1-42 1-27 1 58 1-36 1 13 1 24 1 23 1-9 1-6 1 9 1-7 1 8 1 3 1 5 1-5 1 7 1-4 1-17 1-2 1 5 1 13 1-4 1-18 1-70 1-114 1 192 1 12 1 5 1 0 1 1 1 1 1-3 1-20 1 19 1-4 1 7 1 2 1 1 1-5 1-11 1 3 1-4 1-20 1 8 1-40 1 16 1-24 1 50 1-11 1 1 1 20 1-1 1-14 1 20 1 5 1-17 1-112 1 109 1 25 1 0 1-28 1 5 1 23 1 10 1-2 1-6 1-35 1 20 1-9 1-63 1 32 1 45 1 2 1 2 1 3 1-16 1 14 1-13 1-34 1 49 1 3 1-36 1 39 1 5 1-2 1-9 1-25 1-127 1 59 1 82 1-6 1-14 1 30 1 0 1-70 1 65 1 10 1-24 1-53 1 59 1 12 1-15 1-1 1 11 1-10 1-54 1 71 1 10 1 6 1 4 1-7 1-51 1 37 1-2 1-38 1 42 1-28 1-5 1 31 1-11 1-12 1-48 1 54 1 4 1-1 1 16 1-50 1 41 1 6 1 8 1-36 1 32 1-5 1-58 1 61 1 2 1-1 1-11 1-71 1 27 1-7 1 14 1-66 1 102 1-7 1 14 1-11 1-14 1-30 1-7 1-82 1 81 1 25 1-7 1-67 1 38 1 50 1 8 1 9 1-12 1-12 1 6 1 20 1-5 1 2 1-17 1 8 1-1 1-28 1 24 1 0 1 6 1-8 1 5 1-2 1-3 1 0 1-7 1 7 1-12 1-66 1 58 1 17 1-1 1-1 1-18 1 17 1 3 1 0 1-9 1 4 1 7 1-3 1-14 1 4 1 2 1-7 1-3 1 5 1-15 1 22 1-4 1 2 1-11 1 4 1 3 1-5 1-32 1-85 1 2 1 106 1 6 1-14 1-4 1-145 1 150 1 9 1-26 1 20 1 6 1 2 1-8 1-8 1-74 1 69 1 1 1-11 1 16 1 3 1-2 1-30 1-285 1 252 1 38 1-17 1 40 1 7 1-9 1 7 1-6 1 1 1-44 1 38 1 0 1-26 1 15 1-12 1 17 1-10 1-4 1 11 1-11 1 4 1-7 1-5 1-45 1-138 1 184 1 6 1-44 1 2 1-314 1 325 1 8 1-62 1 58 1 3 1-36 1-7 1 49 1-3 1-2 1 10 1-6 1-9 1-42 1 24 1 4 1-58 1 63 1 10 1 4 1-4 1-17 1 13 1-10 1 8 1 2 1-2 1-5 1-8 1 9 1-3 1-7 1 0 1-3 1-24 1 16 1 9 1-10 1 7 1-11 1 11 1 2 1-11 1 3 1-2 1-8 1 4 1-3 1-5 1-20 1-122 1 61 1 40 1-21 1 33 1-15 1-59 1 40 1-15 1-43 1-665 1 630 1-64 1 91 1 30 1-284 1 289 1 26 1-8 1-54 1-483 1 433 1 68 1-130 1 102 1-352 1 344 1 4 1 43 1-90 1-320 1 397 1 37 1-9 1-45 1-633 1 637 1 27 1 37 1-6 1-323 1 303 1-74 1-32 1 91 1-13 1 1 1 45 1-56 1-149 1 164 1 69 1 8 1-73 1 57 1 36 1 6 1 14 1-4 1-8 1-6 1 9 1 3 1-21 1-4 1-67 1 56 1 4 1-9 1-19 1-30 1-64 1-64 1-20 1 39 1 63 1 39 1 13 1 27 1-5 1 22 1-5 1 19 1 9 1 4 1 0 1 5 1-20 1 16 1-15 1 6 1 26 1 6 1 5 1 1 1 2 1 1 1-12 1-101 1 105 1-9 1-12 1-13 1-14 1 46 1-1 1-6 1-43 1 46 1 5 1-11 1 8 1 11 1-3 1-8 1-45 1 37 1-5 1 23 1-3 1 3 1-4 1-4 1 5 1-14 1 12 1-1 1-11 1-32 1 25 1-14 1 20 1-14 1-3 1-40 1-46 1-366 1 395 1 34 1 26 1-61 1-399 1 428 1 50 1 2 1 1 1-6 1 1 1 9 1-14 1 23 1 7 1 3 1-4 1 9 1 3 1-1 1-14 1-2 1-21 1 35 1-3 1 6 1 10 1-26 1 23 1 4 1 8 1-7 1-17 1 27 1 4 1 6 1 1 1 3 1-1 1 4 1-6 1-12 1-191 1 186 1-5 1 4 1 20 1-13 1-30 1 32 1-3 1 15 1 5 1 0 1 4 1 3 1-1 1-17 1 10 1 0 1-11 1-27 1 27 1-9 1 25 1-2 1-10 1-5 1 24 1 5 2 0 1-4 1-1 1-16 1 10 1 11 1-17 1 6 1-7 1 5 1-11 1-20 1 20 1-16 1-9 1 0 1-14 1-23 1-23 1-42 1-65 1-49 1 30 1 24 1 69 1 21 1 13 1 16 1-18 1-53 1 76 1 27 1 8 1 9 1 1 1-3 1 13 1-17 1 14 1 4 1-38 1 35 1 5 1 0 1 1 1 0 1-2 1-2 1 6 1-7 1 5 1 3 1 0 1-17 1 17 1-1 1 2 1-5 1 0 1 3 1-3 1-2 1-7 1 7 1 0 1 1 1-7 1-41 1 30 1 18 1 1 1 3 1-13 1 12 1-10 1 2 1-10 1 2 1-33 1 37 1 6 1 4 1-3 1-9 1-48 1-441 1 432 1 31 1 14 1-9 1-41 1-345 1 324 1 43 1-3 1-4 1-39 1-336 1 323 1 28 1 9 1-2 1-45 1-445 1 453 1 48 1-2 1-6 1-244 1 266 1 11 1 17 1 4 1-2 1-36 1-62 1 91 1 7 1 7 1 2 1-2 1 3 1-1 1-14 1-27 1 4 1-289 1 290 1 5 1 16 1-61 1-632 1 640 1 46 1 22 1-5 1 6 1-3 1 5 1-45 1 42 1-6 1-111 1 113 1 12 1-14 1 13 1 2 1-6 1-43 1 12 1 38 1 4 1-6 1 5 1-12 1-84 1 81 1 8 1 3 1 3 1-4 1-1 1 3 1-4 1 6 1-32 1 33 1 2 1 1 1 3 1-13 1 6 1 3 1 3 1-12 1 2 1 6 1 4 1 1 1-6 1-7 1 3 1 2 1-2 1 10 1 1 1-17 1 13 1-1 1-21 1-39 1 14 1 6 1-436 1 435 1 17 1-6 1-33 1-415 1 400 1 13 1-24 1 17 1-14 1 3 1-2 1-23 1 33 1-6 1-42 1 52 1-32 1 53 1-4 1-98 1 105 1 13 1 5 1 10 1 5 1 10 1-2 1-10 1-3 1-27 1 36 1 25 1 2 1 1 1-2 1 6 1 0 1-5 1-8 1-18 1 32 1 10 1 7 1 3 1-7 1-36 1 27 1 9 1-26 1 17 1 2 1 17 1 5 1-7 1 12 1-3 1-43 1 14 1-70 1-107 1 163 1 27 1-62 1-679 1 666 1 63 1-57 1-931 1 938 1 70 1-21 1-691 1 676 1 31 1 48 1-2 1-19 1-40 1 51 1 18 1 2 1-21 1-3 1-2 1-2 1 23 1 14 1-6 1 13 2 0 1-5 1-2 1-7 1-5 1-240 1 217 1 33 1 5 1-4 1-97 1 90 1 9 1 10 1-4 1-50 1 50 1 1 1-15 1-52 1-230 1 159 1 61 1 26 1 36 1 9 1 0 1-12 1-96 1 65 1-54 1-487 1 444 1 28 1-89 1-689 1 691 1 33 1-5 1-399 1 342 1 87 1-11 1-475 1 439 1-337 1 380 1 45 1 21 1 47 1 16 1 12 1-4 1-7 1-11 1-16 1-124 1-37 1 123 1 14 1-20 1-273 1 156 1-782 1 738 1 118 1-32 1-675 1 677 1 27 1-30 1-656 1 648 1 41 1-2 1 2 1-17 1-57 1-137 1-8 1-41 1-348 1 484 1-44 1-151 1 220 1 25 1 20 1-34 1-449 1 458 1 37 1-12 1-197 1 119 1 59 1 11 1-23 1-12 1-59 1-61 1-408 1 442 1-60 1 6 1 43 1-342 1 387 1 24 1-265 1 256 1-10 1-612 1 621 1 61 1-56 1-594 1 607 1 83 1-2 1-101 1 146 1 23 1 12 1-12 1-122 1 170 1 22 1 10 1 5 1 20 1-42 1 53 1 6 1 6 1 4 1 3 1 1 1 1 1 0 1 2 1 1 1 1 1 1 1 0 1 1 1-1 1 2 1 1 1-1 1 1 1-13 1 16 1 0 1 3 2 0 1 3 1 1 1 1 1 1 1 0 1 2 1 0 1 1 1 0 1-3 1 3 1 2 1 2 1 2 1 0 1-2 1 5 1 0 1 1 2 0 1-4 1 5 1 0 1 1 1-2 1 3 1-1 1-1 1-2 1 2 1 3 1-1 1 3 3 0 1 1 3 0 1 1 1 1 2 0 1 1 1 0 1 1 4 0 1 1 1 0 1 1 1-1 1 0 1 1 1-1 2 0 1-1 1-1 1-1 1-2 1 1 1 1 1 2 1 4 1 2 1-1 1 3 1 2 2 0 1 1 1 1 1 0 1 1 1 0 1 1 1 0 1-1 1 1 1 1 5 0 1 1 2 0 1-1 1 2 1-1 1 0 1 1 1 0 1 1 1-1 1 1 4 0 1 1 3 0 1-1 1 2 1-1 1-1 1 2 1 0 1-2 1 1 1 2 6 0 1 1 1-1 4 0 1 1 1 0 1-1 1 1 6 0 1-2 1 0 1 1 1 0 1 1 1-2 1 1 1 1 1 0 1-1 1 1 1 0 1-2 1 2 1 0 1-1 1 1 1-2 1 2 1 1 5 0 1-1 1 1 1 0 1-1 1 1 1-2 1 2 1-2 1 2 1-1 1 1 1 0 1-1 1 1 1 0 1 1 1-1 1 0 1 1 1-1 1 0 1-1 1 1 1 1 1-2 1 1 1 1 1-1 1 0 1-2 1 3 3 0 1-1 1 2 1-1 10 0 1-1 1 0 1 1 4 0 1-1 2 0 1 1 1 1 1 0 1-1 1-1 1 2 1-1 1-2 1 2 2 0 1 1 1-2 1 1 1 1 1-1 4 0 1-1 1 1 1-1 1 1 2 0 1-1 1 1 2 0 1 1 1-1 1-1 1 2 1-1 1-2 1 2 1 0 1 1 1-1 1 1 1 0 1-2 1 1 1 1 1-1 1 0 1 1 2 0 1-1 1 1 1 0 1-1 1 1 2 0 1-1 1 0 1 1 1-1 1 1 3 0 1-1 1 1 1-1 1 1 1-1 4 0 1 1 1-1 1 0 1 1 1-1 1 0 1 1 1-1 1 1 1-1 1 1 2 0 1-2 1 1 1 0 1 1 2 0 1-1 1 1 1-1 2 0 1-1 1-17 1 18 1 0 1 1 2 0 1-1 1 0 1-1 1 2 1-2 1 1 1 1 1-1 3 0 1 1 1 0 1-2 1 2 3 0 1-1 1 0 1-1 1 2 1 0 1-1 1 0 1-1 1 2 1 0 1-7 1-8 1-7 1-60 1-60 1-133 1-117 1-100 1-120 1-120 1-120 1-120 1-120" stroke="#0000ff"/>
<path d="M25 3693l1-3 1 5 1-2 1 2 1-7 1 9 1-1 1 6 1-4 1 4 1 2 1 3 1 5 1 6 1-13 1 20 1-6 1-2 1-8 1-15 1-6 1 9 1-7 1-10 1 4 1-4 1-85 1-71 1-82 1-78 1-80 1-80 1-76 1-91 1-71 1-74 1-83 1-77 1-81 1-31 12 0 1 573 1 697 19 0 1-9 1-20 1-36 1-2 1-17 1-25 1-17 1-3 1-5 1-2 1-5 1-8 1-2 1-1 1-9 1-11 1 17 1-1 1-4 1 0 1 1 1-2 1-1 1 0 1-1 1 1 1-2 1-20 1 18 1 3 1-5 1-1 1-7 1 9 1-9 1 13 1-3 1 0 1-18 1 10 1-7 1-4 1 14 1 4 1-8 1 7 1 4 1 0 1-1 1-3 1 2 1-9 1 9 1 1 1-6 2 0 1 1 1 0 1 1 1 1 1-1 1-13 1 1 1 0 1 8 1 2 1-6 1-10 1 2 1 0 1 6 1 2 1-9 1 8 1-8 1-27 1-461 1 430 1-35 1 87 1-29 1-429 1 436 1 25 1 6 1 2 1-3 1 5 1-2 1-7 1 0 1 4 1 1 1-6 1-2 1 4 1-10 1 6 1 0 1 1 1-2 1-6 1 1 1 2 1 0 1-9 1-118 1 119 1 12 1-4 1 0 1-9 1 6 1 1 1 0 1 1 1 1 1-5 1 4 1-1 1-3 1-8 1 7 2 0 1-4 1 2 1-6 1-2 1 5 1-6 1 3 1-11 1-6 1-167 1 170 1 10 1-1 1-12 1-9 1 8 1-134 1 137 1 11 1 0 1 5 1-3 1-3 1 2 1 1 1-16 1 13 1 1 1 0 1-3 1 0 1-2 1-15 1 5 1 2 1 3 1-2 1 7 1-8 1 13 1-10 1-1 1-15 1 14 1 2 1 0 1-1 1-1 1-6 1-1 1-1 1-13 1-3 1-55 1-640 1 626 1 30 1-279 1 259 1-273 1 252 1 71 1 0 1-2 1-127 1 95 1 1 1 20 1-59 1-62 1 118 1 19 1 5 1-11 1 6 1-6 1-4 1-16 1 19 1 5 1-4 1 2 1-5 1-3 1-16 1 17 1 6 1-3 1 7 1-3 1-8 1 9 1 4 1-11 1 6 1 3 1-8 1 2 1 2 1-6 1-13 1-31 1 40 1-2 1-30 1 36 1 4 1-5 1-34 1 29 1 11 1 1 1-2 1 6 1-1 1-5 1 2 1-4 1 1 1 0 1-9 1 1 1-10 1 14 1 0 1-9 1-19 1 23 1 3 1 0 1-9 1 0 1-22 1-28 1 45 1 8 1 1 1-19 1 18 1-9 1 8 1-7 1 2 1-15 1 0 1 14 1 3 1-1 1-14 1 14 1-14 1 10 1-7 1-34 1 31 1-19 1 6 1-27 1 30 1 7 1-11 1-112 1 62 1-110 1 128 1 24 1 5 1-2 1-30 1 20 1-139 1 126 1 21 1-59 1 30 1-113 1 132 1 22 1 1 1 4 1-1 1-24 1 14 1-31 1-30 1 50 1 5 1-7 1-26 1-124 1-658 1 605 1 131 1-66 1 92 1-102 1-470 1 544 1 34 1-29 1 39 1 14 1-20 1 1 1-44 1-249 1 242 1 50 1-3 1-19 1-20 1 26 1 23 1 0 1-20 1 18 1 2 1-18 1-98 1 94 1 20 1-7 1 1 1-14 1 9 1-1 1-2 1-35 1 33 1 2 1-20 1 20 1 0 1-3 1-11 1-68 1 35 1 22 1-33 1 34 1 3 1 2 1-53 1 10 1 42 1-4 1-159 1 127 1-160 1 159 1 36 1 9 1-8 1 5 1-10 1-87 1 70 1 16 1 4 1-10 1-18 1-57 1-237 1 66 1 166 1-44 1 60 1-62 1 74 1 34 1-13 1-91 1-143 1-58 1 288 1 11 1 9 1-4 1-63 1 6 1-15 1-31 1 29 1 72 1 13 1 2 1-4 1-11 1-34 1-14 1 2 1-232 1 141 1 16 1-61 1-110 1 157 1-21 1-459 1 462 1 29 1-636 1 676 1 42 1-11 1 17 1 1 1-17 1-98 1-147 1 200 1 36 1 12 1-1 1-19 1-46 1 0 1-104 1-309 1-190 1 566 1 61 1-47 1 50 1-42 1-15 1-354 1 294 1-194 1-215 1 495 1 47 1 16 1-14 1-55 1-259 1 242 1 6 1-113 1-208 1 260 1-32 1 70 1-20 1-587 1 480 1 32 1 139 1-4 1 29 1-37 1-475 1 415 1-20 1-259 1 210 1-452 1 484 1 6 1-632 1 539 1-33 1 156 1 26 1-52 1-411 1 418 1 52 1 1 1 31 1-21 1-131 1-85 1 179 1 33 1-36 1 49 1 14 1-13 1-34 1-44 1-109 1 49 1 109 1 52 1 24 1-1 1-15 1 20 1 6 1-17 1-12 1 14 1-46 1-71 1 52 1-261 1 271 1 76 1-3 1 30 1 1 1-14 1-1 1-55 1-548 1 573 1 18 1-380 1 244 1-55 1 158 1-34 1-24 1 23 1-300 1 334 1-9 1 100 1 10 1-117 1 121 1 37 1-12 1-103 1 50 1-88 1 122 1 6 1 16 1 8 1-65 1-258 1 212 1 2 1 22 1 82 1 21 1 18 1-1 1-35 1-25 1-171 1 16 1 158 1-6 1-130 1 28 1-755 1 764 1 133 1 9 1-63 1-202 1 95 1 112 1-10 1 75 1 3 1 34 1-21 1-100 1 70 1 26 1-91 1-89 1 155 1 52 1-3 1-6 1-88 1 22 1-331 1 44 1 241 1-13 1-530 1 528 1 95 1-20 1 14 1 35 1-12 1-297 1 302 1 8 1-56 1 56 1 12 1-10 1-96 1 100 1 0 1-51 1 58 1 4 1-144 1 141 1 24 1 6 1-3 1 5 1 3 1-12 1 6 1-13 1 3 1-42 1 40 1 19 1-4 1-1 1-57 1-590 1 265 1 324 1 62 1 8 1-23 1-474 1 473 1 22 1-85 1 82 1 26 1-10 1-82 1 90 1 20 1-17 1 5 1-41 1 44 1-19 1 26 1-17 1 24 1-5 1-19 1-4 1-36 1-586 1 585 1 29 1 33 1 3 1 1 1 5 1-5 1-6 1-33 1 26 1 13 1 3 1 0 1-2 1 2 1-2 1-4 1-13 1-8 1 22 1-4 1 6 1 0 1 2 1-4 1-24 1-45 1 56 1 4 1-40 1 40 1 12 1 0 1 1 1 3 1-4 1 2 1 0 1 2 1-1 1-9 1-2 1 2 1-4 1-26 1-385 1 378 1 18 1-7 1-2 1-21 1 6 1-258 1 258 1 13 1 12 1 3 1-6 1 4 1-10 1-2 1 6 1 1 1 0 1-4 1-2 1 0 1-10 1 1 1 6 1-27 1 27 1-2 1-6 1-12 1 4 1-16 1 4 1 6 1-8 1 14 1 2 1-4 1 3 1-7 1-42 1 31 1-19 1 24 1-6 1-6 1 12 1-9 1-8 1-14 1-30 1-39 1-43 1 42 1 53 1 24 1 1 1 12 1 9 1 1 1 2 1-2 1-2 1 8 1 1 1-4 1-14 1 4 1 16 1 1 1-16 1 22 1 0 1 4 1 1 1-3 1 1 1 2 1-15 1-15 1 25 1-1 1-1 1 7 1-4 1 3 1 3 1-10 1 6 1 2 1-11 1-22 1 29 1 8 1-1 1 5 1-1 1-1 1 2 1-3 1 12 1 0 1 7 1-11 1 8 1 1 1-21 1-22 1-398 1 400 1 32 1 5 1-12 1-48 1-341 1 374 1 31 1-10 1-6 1 22 1 4 1 3 1-12 1-29 1 35 1 7 1 7 1 0 1-8 1-48 1 39 1 16 1 3 1 0 1-2 1-5 1 7 1-14 1 1 1 16 1 0 1-7 1 10 1-1 1 0 1-8 1-5 1 2 1-40 1 36 1 9 1-24 1-38 1-11 1 44 1-9 1 19 1-27 1-29 1 56 1-43 1 32 1 32 1 11 1 3 1-17 1 18 1-9 1 2 1-7 1 13 1-7 1-5 1-21 1-59 1 20 1 20 1 21 1 16 1-5 1-51 1-237 1 285 1 19 1 2 1 0 1 6 1-3 1-5 1-12 1 10 1-29 1 26 1 12 1-2 1-2 1-26 1 3 1 5 1-17 1 13 1-90 1 50 1-47 1 68 1-24 1 15 1 37 1 11 1-9 1 13 1 5 1-21 1-101 1 103 1 5 1 1 1 8 1-21 1 24 1 5 1-4 1-12 1-41 1 45 1-7 1-39 1 6 1 40 1-4 1 11 1 4 1-16 1-7 1-7 1-43 1 57 1 9 1-8 1-2 1 12 1 7 1-10 1-56 1-165 1 149 1 53 1 3 1-47 1 63 1-5 1-49 1 44 1 8 1-36 1-62 1 85 1 12 1-29 1-33 1-1 1 39 1-72 1 90 1 17 1 18 1-2 1-9 1-29 1 0 1-6 1-86 1 85 1 3 1 2 1 17 1-43 1 24 1-27 1 36 1-16 1 22 1-37 1-198 1 202 1 39 1-4 1-27 1 23 1-17 1-110 1 104 1 23 1 9 1-6 1-50 1 18 1-31 1 1 1-119 1 158 1 22 1 3 1-12 1-16 1-28 1-56 1-192 1 160 1 89 1 20 1-16 1 17 1 15 1-10 1 5 1 4 1-13 1 13 1-7 1-1 1 2 1-16 1 15 1-2 1-15 1 16 1 1 1 3 1-5 1 3 1-1 1-1 1-5 1 6 1-10 1-15 1-53 1 57 1 14 2 0 1-15 1 13 1-2 1-9 1 1 1 1 1-2 1-1 1-3 1-33 1 6 1-36 1 48 1 5 1 6 1 2 1-2 1 3 1-7 1 1 1-4 1-3 1-13 1-81 1-14 1 92 1 5 1-10 1 6 1-51 1 50 1-1 1-39 1 32 1-1 1 0 1-8 1-74 1-72 1 96 1 31 1-33 1 44 1 3 1-12 1-41 1-484 1 451 1 46 1-8 1 42 1-5 1 5 1 2 1-5 1-4 1-39 1 37 1 5 1-18 1 0 1-10 1 17 1-9 1-15 1 11 1 7 1-27 1-6 1-22 1-72 1-443 1 527 1 10 1-3 1-33 1-392 1 418 1 7 1-116 1 111 1 14 1-27 1-31 1 64 1 3 1-11 1 11 1 0 1-16 1-16 1 4 1 4 1-87 1 90 1 12 1 0 1 5 1-2 1-3 1-16 1 13 1 3 1-4 1-5 1-11 1 8 1 0 1-15 1 6 1-7 1-50 1 52 1 4 1 0 1 1 1 6 1-1 1 1 1-7 1 4 1-10 1-22 1 24 1 0 1-10 1-20 1-137 1-20 1 134 1-16 1 29 1-26 1-81 1 61 1-32 1-60 1-698 1 678 1-41 1 63 1 51 1-437 1 448 1 37 1-9 1-50 1-445 1 393 1 62 1-61 1 24 1-449 1 378 1 33 1 61 1-121 1-615 1 665 1 112 1 12 1-10 1-224 1 230 1-28 1 29 1-16 1-424 1 403 1-93 1-60 1 141 1-51 1 2 1 108 1 15 1-49 1 66 1 12 1 2 1-26 1 16 1 16 1-30 1 40 1 0 1 9 1-15 1-28 1 25 1-7 1-34 1-27 1 29 1 3 1-16 1-31 1-43 1-133 1-22 1 1 1 52 1 80 1 48 1 22 1 24 1 2 1 9 1-20 1 39 1 7 1-3 1 5 1 7 1-4 1-28 1-12 1 18 1 31 1 8 1 7 1 3 1 0 1-4 1-17 1-295 1 296 1 8 1-28 1-52 1 15 1 57 1 18 1-4 1-42 1 45 1 3 1-11 1 17 1 8 1-6 1-1 1-42 1 38 1-7 1 16 1-3 1 1 1 0 1-20 1 7 1-37 1 36 1-6 1-9 1-29 1 23 1 10 1-3 1-12 1-29 1-88 1-85 1-436 1 541 1 56 1-24 1-95 1-674 1 711 1 78 1 16 1-8 1-6 1-45 1 54 1-28 1 41 1 14 1 6 1 0 1 8 1 7 1-11 1-9 1 21 1-5 1 15 1-3 1 17 1 3 1 2 1 3 1 6 1-13 1 12 1-27 1 32 1 18 1 3 1 7 1-4 1 7 1 8 1-11 1-7 1-239 1 232 1-6 1-20 1 53 1-5 1-53 1 48 1-34 1 43 1 13 1 4 1 2 1 1 1 0 1-2 1 1 1 2 1-9 1-21 1 2 1-14 1 31 1 6 1-53 1 3 1 49 1 10 1 5 1-4 1-4 1 1 1-33 1 29 1 10 1 0 1-10 1 8 1-1 1-20 1 7 1-2 1-19 1-11 1-9 1-24 1-26 1-30 1-46 1-56 1-51 1 38 1 17 1 63 1 24 1 1 1 29 1-3 1-32 1 52 1 20 1 12 1 8 1 1 1 9 1-8 1-44 1 38 1 12 1-24 1 30 1 10 1 1 1-4 1 1 1 2 1 3 1-14 1 12 1 2 1 2 1-8 1 5 1-2 1 0 1-4 1 1 1 9 1-2 1-2 1-3 1-19 1 14 1 5 1-6 1-1 1-32 1 35 1 10 1 6 1 3 1-7 1 1 1 0 1-2 1-24 1 19 1-57 1 61 1-9 1 14 1-8 1-13 1-71 1-652 1 638 1 58 1 2 1-39 1-93 1-755 1 730 1 112 1 13 1-11 1-64 1-634 1 614 1 61 1 13 1-15 1-93 1-726 1 738 1 107 1 18 1-26 1-612 1 625 1 35 1 18 1 11 1 0 1-37 1-125 1 145 1 26 1 13 1-1 1 2 1-15 1 6 1-14 1-56 1-59 1-799 1 808 1 81 1 2 1-84 1-807 1 810 1 94 1 20 1 1 1 1 1 4 1-5 1-45 1 46 1-14 1-310 1 311 1 23 1-5 1 5 1 1 1-13 1-47 1 44 1 1 1 17 1-4 1-4 1-51 1-67 1 76 1 40 1 4 1 4 1 1 1-1 1 8 1 0 1-5 1-13 1 16 1 0 1 1 1-1 1-9 1 5 1 4 1-6 1-29 1 24 1 6 1-1 1 2 1 0 1-12 1-14 1 16 1-8 1 17 1 3 1-1 1-1 1-1 1-13 1-28 1-33 1 18 1-560 1 562 1 25 1-9 1-48 1-538 1 518 1-2 1-43 1 46 2 0 1-7 1-13 1 27 1 0 1-16 1 17 1-223 1 230 1-19 1-304 1 306 1 55 1 14 1 15 1 8 1-2 1 5 1-58 1 49 1 0 1 34 1 10 1 4 1 5 1 4 1-5 1 0 1 2 1-15 1-49 1 64 1-3 1 23 1-1 1 0 1-31 1 12 1 16 1-27 1 11 1-20 1 58 1 4 1-4 1 6 1-28 1-53 1 31 1-51 1-163 1 211 1 48 1-49 1-385 1 386 1 35 1-27 1-764 1 744 1 76 1-12 1-344 1 311 1 25 1 28 1-1 1-21 1-60 1 61 1 15 1 0 1-26 1 4 1-18 1-62 1 86 1 21 1 5 1 3 1 1 1 2 1 0 1-10 1 2 1-18 1-287 1 254 1 43 1-16 1 8 1-274 1 274 1 19 1 0 1-13 1-182 1 184 1 6 1-18 1-71 1-343 1 237 1 106 1 57 1 25 1-2 1 8 1-24 1-80 1 46 1-85 1-776 1 704 1 85 1-125 1-778 1 782 1 86 1-16 1-466 1 410 1 72 1-71 1-797 1 740 1-711 1 794 1 3 1 18 1 143 1 45 1 19 1 1 1-24 1-15 1-31 1-475 1 415 1 68 1 3 1-40 1-451 1 308 1-810 1 828 1 89 1-90 1-827 1 842 1 71 1-67 1-846 1 842 1 66 1 7 1-15 1-11 1-61 1-269 1 91 1 11 1-661 1 693 1-177 1-516 1 767 1 60 1 12 1-41 1-593 1 597 1 22 1-11 1-447 1 368 1 80 1-6 1 18 1-40 1-65 1-71 1-456 1 546 1-57 1 47 1-38 1-641 1 638 1-20 1-669 1 693 1 88 1-216 1 245 1 2 1-119 1-693 1 697 1 134 1-40 1-470 1 557 1 55 1 10 1-21 1-225 1 275 1 48 1 18 1 0 1 26 1-92 1 102 1 7 1 8 1 4 1 4 1 1 1 0 1 2 1 0 1 1 1 2 1-3 1 4 1-1 1 2 2 0 1-6 1 6 1-18 1 20 1 2 1 1 1 0 1 2 1 0 1 1 1 1 1 1 1 0 1 2 1-1 1 1 1-1 1-1 1 3 1 2 1 1 1 1 2 0 1 2 1 0 1 1 1 0 1-3 1 3 1-1 1 4 1 0 1-1 1 0 1 1 1 0 1-3 1 3 1 2 2 0 1 1 1 0 1-4 1 4 1 1 2 0 1 1 1 1 1-1 1 1 1 0 1 1 1 0 1-1 1 1 2 0 1-4 1 4 2 0 1 1 1 1 1 1 1-1 1-3 1 2 1-1 1-3 1 1 1 2 1 1 1 4 1 2 1-1 1 2 1 2 1 2 1 0 1 1 1 1 1 1 2 0 1 2 1 0 1-1 1-2 1 4 1-1 1 0 1 1 1 0 1 1 1 0 1 1 1-1 1-1 1 3 2 0 1 1 4 0 1 1 1-1 2 0 1 2 4 0 1 1 2 0 1-1 1 1 1-2 1 3 1 1 1-1 1 0 1 1 1 1 1-2 1 0 1 1 1 0 1 1 1 0 1-1 1 1 1 0 1-1 1 1 1 0 1 1 1-1 3 0 1 1 1-1 1 0 1 1 1 1 1-1 4 0 1-1 1 1 1 1 1-1 1 0 1 1 1 0 1-1 1 1 2 0 1 1 1-1 1 1 1 0 1-1 1-1 1 0 1 2 2 0 1-1 1 1 1 1 1-1 1 1 1-1 1 1 3 0 1 1 2 0 1-1 1 1 2 0 1-1 2 0 1-1 1 2 1-2 1 2 1 0 1-2 1 2 1 0 1-1 1 2 1-1 1 1 8 0 1-1 1-1 1-1 1 2 1 1 1-2 1 2 2 0 1-2 1 0 1 2 1 1 1-1 1-2 1 2 1 0 1-1 1 1 1-1 1 1 1 0 1 1 1-2 1-1 1 3 1-1 2 0 1 1 3 0 1-1 1 0 1 1 1-3 1 3 1-1 1 1 1-2 1 3 1-1 1 0 1-2 1 2 1-1 1 1 1-1 1 0 1 1 1-1 1 1 1 0 1-1 1-1 1 2 1-1 1 1 1 0 1-1 1 1 1-2 1-2 1 4 2 0 1-1 1 0 1 2 1-1 1 0 1-2 1 2 1 0 1-1 1 1 9 0 1-2 1 2 2 0 1-4 1 4 2 0 1-1 1 1 2 0 1-1 1 1 2 0 1 1 1-3 1 1 1 1 1 1 1-1 1 1 1-1 2 0 1-2 1 2 1 1 1 0 1-1 1-1 1 1 5 0 1 1 1-2 1 1 1 1 2 0 1 1 1-1 3 0 1-1 2 0 1 1 7 0 1-7 1-8 1-7 1-60 1-60 1-133 1-117 1-100 1-120 1-120 1-120 1-120 1-120" stroke="#ff0000"/>
<path d="M25 3692l1-10 1 15 1-2 1 2 1-5 1 8 1 0 1 2 1 4 1 0 1 2 1-4 1 11 1 0 1 8 1 5 1-3 1-6 1-2 1-13 1-4 1-5 1-3 1-1 1-5 1-1 1-44 1-76 1-79 1-80 1-78 1-86 1-71 1-79 1-83 1-80 1-80 1-77 1-78 1-74 13 0 1 1270 20 0 1-10 1-19 1-18 1-22 1-25 1-13 1-19 1 1 1-4 1-4 1 1 1-5 1-2 1-2 1-4 1-6 1 4 1-5 1-2 1 5 1-5 1 2 1-23 1 14 1 6 1-25 1 24 1-5 1 4 1-1 1-2 1 0 1 1 1-9 1 9 1 0 1-2 1 0 1-7 1 2 1 0 1 3 1 2 1-1 1 0 1-2 1 3 1-2 1 2 1-28 1 27 1-2 1-4 1 5 1-1 1-6 1-1 1 7 1-15 1 12 1-5 1-13 1 19 1-12 1 9 1 5 1-12 1-1 1 5 1-5 1 4 1-12 1 6 1 3 1 0 1-18 1-257 1 233 1-311 1 318 1 26 1-57 1 50 1 15 1-5 1 2 1 2 1 0 1 3 1-8 1 5 1-1 1 2 1-5 1-8 1 4 1 2 1 1 1-2 1 0 1-12 1 12 1-6 1-1 1 4 1-11 1-147 1 138 1 10 1 5 1 1 1-6 1 2 1 0 1 4 1-3 1 1 1-1 1-7 1 5 1-6 1 4 1-2 1 4 1-4 1-4 1 6 1-2 1-3 1-1 1 2 1-4 1 0 1-8 1-67 1 70 1 5 1-15 1 17 1-12 1 1 1-80 1 80 1 5 1 3 1-1 1 2 1-11 1 6 1 5 1-3 1 0 1-3 1 5 1-7 1-10 1 11 1-4 1 8 1-7 1 3 1-19 1 8 1 11 1-1 1-14 1 13 1-2 1 5 1-6 1 2 1-2 1 1 1-2 1-8 1 1 1-2 1-4 1-28 1-288 1 257 1 10 1-181 1 181 1-207 1 215 1 25 1-6 1-31 1-415 1 404 1 30 1 6 1-12 1-72 1 93 1 1 1-2 1 6 1 0 1-2 1-3 1-9 1 12 1 1 1-9 1 4 1-6 1 7 1-7 1 0 1 10 1-6 1 6 1-5 1-4 1 7 1 1 1-2 1-2 1 4 1 2 1-3 1 3 1-6 1 0 1-25 1 21 1-1 1-5 1 8 1 1 1-1 1-14 1 9 1 1 1 3 1-1 1-2 1 5 1-10 1-7 1 19 1 0 1-15 1 12 1 4 1-12 1 7 1 2 1-1 1-8 1 5 1-2 1 2 1-5 1 0 1-11 1-7 1 12 1 5 1-3 1-1 1 3 1-18 1-4 1 19 1-5 1-4 1-1 1 0 1-4 1 7 1-2 1-1 1 2 1-9 1 5 1-6 1-2 1-78 1 42 1 16 1 16 1 4 1-14 1-12 1 14 1-20 1 17 1 11 1-13 1 9 1-15 1-12 1-262 1 260 1 12 1-29 1 7 1-253 1 265 1 15 1 4 1 0 1-4 1-5 1 4 1-3 1-4 1 3 1-2 1-3 1-8 1-35 1-267 1 261 1 18 1-103 1 117 1-26 1-56 1 89 1 9 1-2 1 3 1-9 1 1 1 1 1-22 1-33 1 45 1 2 1-4 1-18 1 12 1-7 1 14 1 0 1-16 1 8 1 3 1 2 1-29 1 18 1 4 1 4 1 1 1-9 1-17 1 24 1-6 1-7 1 2 1 0 1-12 1 8 1 3 1-2 1-5 1-24 1-8 1 19 1-2 1-1 1 2 1 1 1-14 1 3 1 18 1-5 1-77 1 60 1-90 1 79 1 36 1 0 1-1 1-5 1-1 1-7 1 2 1 1 1-6 1 5 1-7 1-20 1-49 1-7 1 58 1-4 1 0 1-26 1 36 1 4 1-1 1-13 1-28 1-26 1 65 1 1 1-8 1 1 1-41 1 23 1-11 1-4 1 1 1 25 1 8 1-3 1-1 1-4 1-11 1-7 1-10 1-206 1 176 1 2 1-20 1-11 1 47 1-4 1-49 1 42 1-10 1-397 1 399 1 28 1-5 1 6 1-13 1-1 1-42 1-123 1 134 1 27 1 0 1 4 1-4 1-23 1 11 1-25 1-120 1-343 1 447 1 34 1-1 1 9 1-18 1-2 1-68 1 39 1-76 1 14 1 87 1 5 1-2 1-7 1 0 1-42 1 36 1 0 1-32 1-81 1 86 1 1 1-3 1 6 1-206 1 184 1 26 1 14 1-13 1-6 1 1 1-278 1 246 1 5 1-65 1 60 1-24 1 45 1 10 1-94 1 67 1-252 1 241 1 27 1-23 1-203 1 201 1 16 1 7 1 11 1-2 1-17 1-33 1 44 1-2 1 6 1 16 1 4 1-2 1-40 1 20 1-22 1 26 1 29 1 10 1 6 1-1 1 2 1 4 1-5 1-2 1 6 1 0 1-26 1-10 1 22 1-45 1 55 1 23 1 1 1 9 1 3 1-4 1 0 1-43 1-527 1 529 1 19 1-251 1 234 1-9 1 37 1 17 1-4 1-57 1-37 1 104 1 14 1 19 1 0 1-32 1 46 1 7 1-5 1-30 1 13 1-2 1 27 1-6 1 17 1 3 1-14 1-75 1 63 1 8 1-3 1 28 1 2 1 2 1-6 1 3 1-3 1-48 1 30 1 25 1-1 1-38 1-32 1-678 1 677 1 55 1 23 1-18 1-81 1 60 1 25 1-1 1 30 1-10 1 20 1 4 1-23 1-9 1 27 1-3 1-29 1 34 1 13 1-4 1-12 1-24 1 15 1-24 1-37 1 57 1-33 1-107 1 127 1 35 1-3 1 8 1 11 1-10 1-127 1 131 1 2 1-2 1 9 1 6 1-6 1-12 1 13 1 8 1-2 1-6 1 3 1-82 1 83 1 13 1 0 1 4 1 1 1 2 1 3 1 5 1-4 1-1 1-26 1 21 1 10 1-3 1 6 1-15 1-157 1 130 1 44 1 7 1-9 1 1 1-207 1 209 1 15 1-11 1 14 1 7 1-1 1-32 1 35 1 7 1 0 1-11 1-1 1 10 1-10 1 15 1-10 1 11 1-1 1-9 1-25 1-95 1-916 1 906 1 94 1 32 1 7 1 7 1 1 1 2 1-12 1-16 1 21 1 8 1-3 1 2 1 7 1-3 1-3 1 1 1-5 1 5 1 0 1-2 1 1 2 0 1 1 1-5 1 1 1 4 1-3 1-12 1 11 1 3 1 4 1-6 1 1 1 5 1-12 1 8 1-3 1-17 1 22 1-2 1-7 1-5 1-21 1-269 1 268 1 18 1-11 1 9 1-11 1-1 1-186 1 182 1 7 1 7 1-1 1-3 1-2 1-8 1 7 1-9 1 11 1-1 1-11 1 9 1-1 1-2 1-2 1 1 1-2 1-1 1-6 1-5 1 7 1-1 1-1 1-4 1 3 1-1 1 1 1-1 1-5 1-6 1 1 1-8 1 4 1 4 1 2 1-10 1-2 1 6 1-1 1-13 1-18 1-14 1-43 1-40 1 37 1 50 1 22 1 7 1 7 1 6 1 1 1 5 1-1 1-2 1 5 1-2 1 2 1 3 1-1 1 1 1 0 1 4 1 1 1-2 1-4 1 10 1-3 1 4 1-6 1-3 1 0 1 3 1 1 1 1 1 6 1-6 1 8 1-2 1-8 1-15 1 24 1-8 1 1 1 5 1-2 1 1 1 2 1 3 1 0 1 2 1 2 1 4 1 2 1-14 1 9 1 4 1-1 1-2 1-42 1-242 1 263 1 22 1 6 1 0 1-6 1-95 1 102 1 4 1 6 1 5 1-10 1 13 1-1 1-1 1-18 1 15 1 1 1 3 1-18 1 16 1-12 1 16 1-8 1 8 1 4 1-9 1 9 1-5 1 2 1 4 1 0 1-12 1 10 1 0 1 3 1 0 1-9 1 7 1-5 1 5 1-8 1 9 1-5 1-15 1-3 1 18 1-5 1 3 1-27 1-24 1 47 1-5 1-7 1 21 1-21 1 24 1-3 1 1 1-9 1 8 1 3 1 5 1-2 1-1 1-4 1-4 1-7 1-3 1 13 1 1 1-4 1-31 1-211 1 231 1-3 1 18 1 2 1-1 1-7 1 4 1-4 1 6 1-2 1-9 1 17 1 5 1-16 1 5 1 2 1-11 1 5 1 4 1-18 1-7 1-37 1 39 1 13 1-4 1 13 1 5 1-12 1 10 1 0 1-4 1-7 1-1 1-1 1 14 1 0 1-3 1 3 1 2 1 3 1-1 1-18 1 17 1-4 1-15 1 9 1 12 1 2 1-9 1 6 1-3 1 4 1-10 1 4 1 0 1 2 1-16 1 16 1 4 1-6 1 4 1-12 1-56 1 34 1 25 1 7 1-8 1 14 1-3 1-29 1 25 1-5 1 9 1-7 1 8 1 1 1-14 1-2 1-1 1 9 1-17 1 13 1-13 1 32 1-15 1 10 1-1 1-11 1 1 1-23 1 24 1 0 1 1 1 6 1-9 1 3 1-11 1 16 1-2 1 1 1-12 1-30 1 37 1 5 1 1 1-17 1 15 1-5 1-14 1 4 1 15 1 0 1-2 1-35 1 20 1-4 1 3 1-12 1 25 1 1 1-3 1-2 1-4 1-16 1-2 1-27 1 28 1 13 1 0 1-15 1 11 1 2 1 4 1 4 1-3 1-6 1 0 1-4 1-1 1 3 1-7 1 10 1-6 1-2 1 4 1-8 1 9 1 1 1-1 1-1 1 4 1-4 1-13 1 10 1-5 1-43 1 38 1 8 1-7 1 8 1-6 1 0 1 2 1-3 1 5 1-16 1 10 1-3 1-6 1-2 1 1 1-1 1 2 1 0 1-1 1-3 1 3 1 0 1-4 1-1 1-3 1 0 1-7 1-17 1-14 1 29 1 3 1-12 1 3 1-69 1 68 1-5 1-1 1 3 1 0 1 6 1-7 1 3 1-11 1 1 1-6 1-4 1 8 1-8 1-8 1-78 1-738 1 732 1 68 1 14 1 4 1 5 1 2 1 1 1-1 1-1 1-13 1 6 1-2 1-12 1 9 1-12 1 11 1 0 1-1 1-8 1 12 1-10 1-5 1 1 1-32 1-137 1 164 1 7 1-9 1-22 1-273 1 279 1 1 1-23 1 27 1 11 1-21 1 8 1 7 1 8 1-4 1 0 1-5 1-6 1-8 1 7 1 5 1-7 1 5 1-9 1 12 2 0 1-6 1-9 1 7 1 2 1-3 1-4 1-13 1 14 1-2 1 1 1-1 1 0 1-11 1 11 1 0 1-5 1-1 1-2 1 1 2 0 1-4 1-2 1-4 1-4 1 8 1-7 1-13 1-79 1 23 1 44 1-8 1 17 1-12 1-31 1 15 1-13 1-52 1-546 1 529 1 24 1 0 1-93 1-703 1 696 1 84 1-12 1-88 1-680 1 661 1 106 1-11 1-80 1-676 1 667 1 97 1 16 1-76 1-570 1 608 1 60 1-9 1-95 1-698 1 701 1 101 1 13 1-12 1-299 1 309 1 13 1-22 1 37 1-6 1-3 1 26 1-9 1-38 1 45 1 13 1 7 1-19 1 15 1 11 1 0 1 10 1 4 1-7 1 11 1-9 1 3 1-6 1-8 1-34 1 25 1 0 1-1 1-18 1-16 1-55 1-15 1-16 1 30 1 26 1 32 1 11 1 7 1 9 1-2 1 4 1 8 1 9 1 1 1-12 1 10 1 4 1-9 1-9 1 15 1 11 1 4 1 3 1-1 1 4 1-1 1-3 1-67 1 68 1-1 1-10 1-8 1 12 1-24 1 37 1 5 1-7 1 2 1 3 1-5 1 6 1 4 1-2 1-2 1-6 1 9 2 0 1-6 1-4 1-16 1 22 1-12 1-2 1 10 1-4 1-5 1-14 1 0 1-4 1 9 1-10 1-16 1-29 1-100 1-735 1 752 1 87 1 11 1-32 1-459 1 466 1 37 1 8 1-2 1-2 1 4 1 5 1-4 1-13 1 28 1 2 1 0 1 7 1-6 1 10 1 4 1-20 1 7 1 7 1 4 1 6 1 3 1 11 1-7 1 18 1 3 1-1 1-1 1 5 1 5 1 4 1-1 1-2 1 7 1 6 1-2 1-9 1-130 1 134 1 5 1 7 1 2 1 0 1-11 1 13 1-23 1 20 1 10 1-1 1 5 1-5 1-7 1 6 1-1 1 2 1 4 1-1 1-11 1 3 1 11 1-18 1 3 1-4 1 18 1-8 1 15 1-4 1-17 1 3 1-4 1 18 1 8 1-2 1-1 1 2 1 1 1-6 1-4 1-3 1-24 1-3 1-8 1-3 1-23 1-5 1-17 1-23 1-10 1-4 1 12 1 15 1 2 1 14 1 10 1 1 1-5 1 20 1 6 1 2 1 9 1 6 1 0 1 5 1-8 1 7 1 2 1-13 1 12 1 0 1 1 1-23 1 19 1-18 1 25 1-2 1-18 1 19 1-10 1 10 1 3 1-2 1 5 1-4 1 1 1 3 1-4 1 0 1 4 1-7 1 5 1-2 1 4 1-2 1-12 1 11 1 1 1-2 1 2 1 1 1-2 1 2 1-3 1-7 1-8 1-5 1 16 1 2 1-3 1-7 1-34 1-102 1-809 1 789 1 113 1 11 1-16 1-71 1-736 1 719 1 75 1 2 1-41 1-92 1-753 1 742 1 94 1 38 1 3 1-32 1-280 1 310 1 28 1 1 1 9 1-117 1 122 1 16 1 1 1 12 1 1 1-2 1-26 1 20 1 12 1-5 1 9 1 2 1-4 1-12 1 7 1-29 1-54 1-715 1 721 1 60 1-6 1-46 1-673 1 654 1 78 1 11 1-12 1 12 1 3 1-1 1-17 1 14 1 3 1-75 1 71 1 12 1-6 1 4 1-1 1-9 1-15 1 19 1 3 1-4 1 8 1-3 1-4 1-31 1 34 1-2 1-28 1 31 1 0 1-4 1-10 1 21 1-11 1-1 1 10 1-2 1 5 1-3 1-2 1-1 1 1 1-1 1-6 1-5 1 10 1 0 1 1 1 2 1-4 1-8 1 10 1-7 1 8 1-4 1 3 1-2 1-1 1-5 1-15 1-24 1 12 1-345 1 341 1 14 1-4 1-18 1-191 1 172 1 8 1-22 1 9 1-10 1 0 1-11 1 6 1 0 1 9 1-11 1 10 1-138 1 144 1 15 1-43 1 57 1 5 1 13 1 5 1 2 1 6 1-6 1 3 1 6 1-3 1 23 1 6 1 0 1 3 1-21 1 24 1 3 1-8 1 8 1-7 1 13 1 5 1 5 1-10 1 9 1-7 1 10 1 5 1-1 1 2 1-4 1 11 1-7 1-3 1 16 1-2 1-12 1 3 1-29 1-13 1 40 1 11 1-37 1-551 1 533 1 50 1-38 1-651 1 657 1 43 1-21 1-440 1 442 1 31 1 7 1-2 1-3 1-28 1 33 1 15 1 0 1-1 1-8 1-11 1-24 1 32 1 14 1-1 1 4 1-3 1 1 1-1 1 0 1 1 1 0 1-48 1 40 1 11 1-1 1-16 1-214 1 212 1 17 1-10 1-5 1-147 1 148 1-3 1 12 1-11 1-68 1 21 1 42 1 15 1-6 1-4 1 7 1-5 1-38 1-27 1-137 1-847 1 801 1 117 1-54 1-615 1 597 1 21 1-80 1-787 1 776 1 140 1 16 1-252 1 260 1-154 1 182 1 30 1-1 1 45 1 17 1 10 1-3 1-7 1-8 1-18 1-178 1 148 1 11 1-14 1-14 1-258 1 196 1-555 1 532 1 48 1-44 1-787 1 771 1 55 1-25 1-458 1 450 1 28 1-3 1-5 1-11 1-49 1-84 1 40 1-29 1-435 1 462 1-31 1-474 1 485 1 65 1 0 1-20 1-365 1 365 1 17 1-21 1-317 1 305 1-10 1 33 1-3 1-8 1-17 1-25 1-401 1 396 1 5 1-16 1-94 1-694 1 665 1 53 1-571 1 598 1-33 1-712 1 735 1 120 1-2 1-269 1 294 1 27 1-15 1-220 1 247 1 45 1 15 1-14 1-194 1 238 1 28 1 8 1 17 1 17 1-37 1 44 1 5 1 4 1 3 1 3 1 1 1 1 1-1 1 3 1 1 1 0 1-1 1 2 1 2 2 0 1 2 1-3 1 3 1-9 1 11 1 1 1 1 1 0 1 1 1 0 1 2 1 0 1 1 1 0 1 2 1 0 1 1 1 1 1 0 1 1 1 0 1 2 1-1 1 2 1 1 2 0 1 1 1 1 1-2 1 2 1 1 2 0 1 1 3 0 1-1 1 0 1 3 1-2 1 2 1 1 1 0 1 1 2 0 1-3 1 3 1 1 1-3 1 2 1 2 1-1 1 2 1-2 1 1 1 2 2 0 1 1 5 0 1-1 1 2 1-2 1 1 1-3 2 0 1-1 1 4 1 2 1 2 1 2 1 1 1 1 1 2 1 0 1 1 1 1 1 1 1 0 1 1 2 0 1 1 1 0 1-2 1 1 1 1 1 2 1-1 1 1 1 0 1 1 1-1 1 1 2 0 1-3 1 4 2 0 1 1 1-1 1 2 1-2 1 2 1-1 1 1 2 0 1 1 2 0 1 1 1 0 1-2 1 3 1-2 1 1 1 1 6 0 1-2 1 2 1-2 1 3 1 0 1-2 1 2 1 1 1-1 1-1 1 2 3 0 1-1 1 2 1-1 3 0 1-1 1 1 5 0 1-1 1 1 1 1 1 0 1-1 1 1 6 0 1 1 1-1 1 0 1 1 1-1 1 2 1-2 1 1 1 0 1 1 1-1 1 0 1 1 1 0 1-1 1 1 1-1 1 1 1-1 1 1 2 0 1-1 1 2 1-1 1 0 1 1 1-1 1 1 2 0 1-2 1 2 1-2 1 1 1 1 1 0 1 1 1-1 7 0 1 1 1-1 1-2 1 0 1 1 1 1 1 1 1-1 1 1 1-1 2 0 1 1 1 0 1-2 1 2 1-1 5 0 1 1 4 0 1-1 1 1 1 0 1 1 2 0 1-1 2 0 1-1 1 1 6 0 1-1 1-1 1 3 1-1 1-2 1 2 3 0 1-3 1 3 2 0 1-1 1 2 1-2 1 1 2 0 1-1 1 2 1-2 1-2 1 4 1 0 1-1 2 0 1 1 1-2 1 1 1-5 1 5 1 1 1-4 1 3 1 1 1 0 1-1 1 0 1 1 3 0 1-2 1 1 1 1 1 0 1-1 1 0 1 1 1 0 1-2 1 2 3 0 1-1 1 1 5 0 1-1 1 1 2 0 1-1 1-12 1 12 1 1 4 0 1 1 1-1 10 0 1-1 1 1 2 0 1-1 1 1 2 0 1-1 1 1 1 1 1-1 1-1 1 2 1-1 1-7 1-7 1-7 1-60 1-60 1-134 1-116 1-100 1-120 1-120 1-120 1-120 1-120" stroke="#e08020"/>
</g>
<rect x="28" y="1260.8" width="2272.0" height="5.5" fill="#000"/>
<rect x="2294.0" y="36.0" width="6.0" height="1227.5" fill="#000"/>
<rect x="112.8" y="1263.5" width="6.4" height="7.7" fill="#000"/>
<rect x="203.6" y="1263.5" width="6.4" height="7.7" fill="#000"/>
<rect x="294.3" y="1263.5" width="6.4" height="7.7" fill="#000"/>
<rect x="385.1" y="1263.5" width="6.4" height="7.7" fill="#000"/>
<rect x="475.5" y="1263.5" width="7" height="14.2" fill="#000"/>
<rect x="566.6" y="1263.5" width="6.4" height="7.7" fill="#000"/>
<rect x="657.4" y="1263.5" width="6.4" height="7.7" fill="#000"/>
<rect x="748.1" y="1263.5" width="6.4" height="7.7" fill="#000"/>
<rect x="838.9" y="1263.5" width="6.4" height="7.7" fill="#000"/>
<rect x="929.3" y="1263.5" width="7" height="14.2" fill="#000"/>
<rect x="1020.4" y="1263.5" width="6.4" height="7.7" fill="#000"/>
<rect x="1111.2" y="1263.5" width="6.4" height="7.7" fill="#000"/>
<rect x="1201.9" y="1263.5" width="6.4" height="7.7" fill="#000"/>
<rect x="1292.7" y="1263.5" width="6.4" height="7.7" fill="#000"/>
<rect x="1383.1" y="1263.5" width="7" height="14.2" fill="#000"/>
<rect x="1474.2" y="1263.5" width="6.4" height="7.7" fill="#000"/>
<rect x="1565.0" y="1263.5" width="6.4" height="7.7" fill="#000"/>
<rect x="1655.7" y="1263.5" width="6.4" height="7.7" fill="#000"/>
<rect x="1746.5" y="1263.5" width="6.4" height="7.7" fill="#000"/>
<rect x="1836.9" y="1263.5" width="7" height="14.2" fill="#000"/>
<rect x="1928.0" y="1263.5" width="6.4" height="7.7" fill="#000"/>
<rect x="2018.8" y="1263.5" width="6.4" height="7.7" fill="#000"/>
<rect x="2109.5" y="1263.5" width="6.4" height="7.7" fill="#000"/>
<rect x="2200.3" y="1263.5" width="6.4" height="7.7" fill="#000"/>
<text transform="translate(466.0 1326.4) scale(1.3 1)" text-anchor="middle" style="font-family:'Liberation Sans',Arial,sans-serif;font-weight:bold;font-size:52.5px" stroke="#000" stroke-width="2">4</text>
<text transform="translate(919.8 1326.4) scale(1.3 1)" text-anchor="middle" style="font-family:'Liberation Sans',Arial,sans-serif;font-weight:bold;font-size:52.5px" stroke="#000" stroke-width="2">3</text>
<text transform="translate(1373.6 1326.4) scale(1.3 1)" text-anchor="middle" style="font-family:'Liberation Sans',Arial,sans-serif;font-weight:bold;font-size:52.5px" stroke="#000" stroke-width="2">2</text>
<text transform="translate(1827.4 1326.4) scale(1.3 1)" text-anchor="middle" style="font-family:'Liberation Sans',Arial,sans-serif;font-weight:bold;font-size:52.5px" stroke="#000" stroke-width="2">1</text>
<text transform="translate(2268.5 1326.0) scale(1.23 1)" text-anchor="middle" style="font-family:'Liberation Sans',Arial,sans-serif;font-weight:bold;font-size:52.5px" stroke="#000" stroke-width="1.6">[ppm]</text>
<rect x="2300.0" y="1195.5" width="15.6" height="5.5" fill="#000"/>
<rect x="2300.0" y="1132.9" width="6.2" height="5.6" fill="#000"/>
<rect x="2300.0" y="1070.3" width="6.2" height="5.6" fill="#000"/>
<rect x="2300.0" y="1007.6" width="6.2" height="5.6" fill="#000"/>
<rect x="2300.0" y="945.0" width="6.2" height="5.6" fill="#000"/>
<rect x="2300.0" y="882.4" width="15.6" height="5.5" fill="#000"/>
<rect x="2300.0" y="819.8" width="6.2" height="5.6" fill="#000"/>
<rect x="2300.0" y="757.2" width="6.2" height="5.6" fill="#000"/>
<rect x="2300.0" y="694.5" width="6.2" height="5.6" fill="#000"/>
<rect x="2300.0" y="631.9" width="6.2" height="5.6" fill="#000"/>
<rect x="2300.0" y="569.3" width="15.6" height="5.5" fill="#000"/>
<rect x="2300.0" y="506.7" width="6.2" height="5.6" fill="#000"/>
<rect x="2300.0" y="444.1" width="6.2" height="5.6" fill="#000"/>
<rect x="2300.0" y="381.4" width="6.2" height="5.6" fill="#000"/>
<rect x="2300.0" y="318.8" width="6.2" height="5.6" fill="#000"/>
<rect x="2300.0" y="256.2" width="15.6" height="5.5" fill="#000"/>
<rect x="2300.0" y="193.6" width="6.2" height="5.6" fill="#000"/>
<rect x="2300.0" y="131.0" width="6.2" height="5.6" fill="#000"/>
<rect x="2300.0" y="68.3" width="6.2" height="5.6" fill="#000"/>
<text transform="translate(2367.1 1194.7) scale(1.3 1) rotate(-90)" text-anchor="middle" style="font-family:'Liberation Sans',Arial,sans-serif;font-weight:bold;font-size:52.5px" stroke="#000" stroke-width="2">0</text>
<text transform="translate(2367.1 1230.7) scale(1.3 1) rotate(-90)" text-anchor="middle" style="font-family:'Liberation Sans',Arial,sans-serif;font-weight:bold;font-size:52.5px" stroke="#000" stroke-width="2">-</text>
<text transform="translate(2367.1 895.0) scale(1.3 1) rotate(-90)" text-anchor="middle" style="font-family:'Liberation Sans',Arial,sans-serif;font-weight:bold;font-size:52.5px" stroke="#000" stroke-width="2">1</text>
<text transform="translate(2367.1 582.0) scale(1.3 1) rotate(-90)" text-anchor="middle" style="font-family:'Liberation Sans',Arial,sans-serif;font-weight:bold;font-size:52.5px" stroke="#000" stroke-width="2">2</text>
<text transform="translate(2367.1 268.7) scale(1.3 1) rotate(-90)" text-anchor="middle" style="font-family:'Liberation Sans',Arial,sans-serif;font-weight:bold;font-size:52.5px" stroke="#000" stroke-width="2">3</text>
<text transform="translate(129.8 113.3) scale(1.300 1)" style="font-family:'Liberation Sans',Arial,sans-serif;font-weight:bold;font-size:89px" stroke="#000" stroke-width="1.5">A</text>
<rect x="28" y="2562.9" width="2272.0" height="5.5" fill="#000"/>
<rect x="2294.0" y="1335.5" width="6.0" height="1230.2" fill="#000"/>
<rect x="112.8" y="2565.7" width="6.4" height="7.7" fill="#000"/>
<rect x="203.6" y="2565.7" width="6.4" height="7.7" fill="#000"/>
<rect x="294.3" y="2565.7" width="6.4" height="7.7" fill="#000"/>
<rect x="385.1" y="2565.7" width="6.4" height="7.7" fill="#000"/>
<rect x="475.5" y="2565.7" width="7" height="14.2" fill="#000"/>
<rect x="566.6" y="2565.7" width="6.4" height="7.7" fill="#000"/>
<rect x="657.4" y="2565.7" width="6.4" height="7.7" fill="#000"/>
<rect x="748.1" y="2565.7" width="6.4" height="7.7" fill="#000"/>
<rect x="838.9" y="2565.7" width="6.4" height="7.7" fill="#000"/>
<rect x="929.3" y="2565.7" width="7" height="14.2" fill="#000"/>
<rect x="1020.4" y="2565.7" width="6.4" height="7.7" fill="#000"/>
<rect x="1111.2" y="2565.7" width="6.4" height="7.7" fill="#000"/>
<rect x="1201.9" y="2565.7" width="6.4" height="7.7" fill="#000"/>
<rect x="1292.7" y="2565.7" width="6.4" height="7.7" fill="#000"/>
<rect x="1383.1" y="2565.7" width="7" height="14.2" fill="#000"/>
<rect x="1474.2" y="2565.7" width="6.4" height="7.7" fill="#000"/>
<rect x="1565.0" y="2565.7" width="6.4" height="7.7" fill="#000"/>
<rect x="1655.7" y="2565.7" width="6.4" height="7.7" fill="#000"/>
<rect x="1746.5" y="2565.7" width="6.4" height="7.7" fill="#000"/>
<rect x="1836.9" y="2565.7" width="7" height="14.2" fill="#000"/>
<rect x="1928.0" y="2565.7" width="6.4" height="7.7" fill="#000"/>
<rect x="2018.8" y="2565.7" width="6.4" height="7.7" fill="#000"/>
<rect x="2109.5" y="2565.7" width="6.4" height="7.7" fill="#000"/>
<rect x="2200.3" y="2565.7" width="6.4" height="7.7" fill="#000"/>
<text transform="translate(466.0 2628.6) scale(1.3 1)" text-anchor="middle" style="font-family:'Liberation Sans',Arial,sans-serif;font-weight:bold;font-size:52.5px" stroke="#000" stroke-width="2">4</text>
<text transform="translate(919.8 2628.6) scale(1.3 1)" text-anchor="middle" style="font-family:'Liberation Sans',Arial,sans-serif;font-weight:bold;font-size:52.5px" stroke="#000" stroke-width="2">3</text>
<text transform="translate(1373.6 2628.6) scale(1.3 1)" text-anchor="middle" style="font-family:'Liberation Sans',Arial,sans-serif;font-weight:bold;font-size:52.5px" stroke="#000" stroke-width="2">2</text>
<text transform="translate(1827.4 2628.6) scale(1.3 1)" text-anchor="middle" style="font-family:'Liberation Sans',Arial,sans-serif;font-weight:bold;font-size:52.5px" stroke="#000" stroke-width="2">1</text>
<text transform="translate(2268.5 2628.2) scale(1.23 1)" text-anchor="middle" style="font-family:'Liberation Sans',Arial,sans-serif;font-weight:bold;font-size:52.5px" stroke="#000" stroke-width="1.6">[ppm]</text>
<rect x="2300.0" y="2552.8" width="6.2" height="5.6" fill="#000"/>
<rect x="2300.0" y="2495.6" width="15.6" height="5.5" fill="#000"/>
<rect x="2300.0" y="2438.2" width="6.2" height="5.6" fill="#000"/>
<rect x="2300.0" y="2380.8" width="6.2" height="5.6" fill="#000"/>
<rect x="2300.0" y="2323.4" width="6.2" height="5.6" fill="#000"/>
<rect x="2300.0" y="2266.1" width="6.2" height="5.6" fill="#000"/>
<rect x="2300.0" y="2208.8" width="15.6" height="5.5" fill="#000"/>
<rect x="2300.0" y="2151.4" width="6.2" height="5.6" fill="#000"/>
<rect x="2300.0" y="2094.1" width="6.2" height="5.6" fill="#000"/>
<rect x="2300.0" y="2036.7" width="6.2" height="5.6" fill="#000"/>
<rect x="2300.0" y="1979.4" width="6.2" height="5.6" fill="#000"/>
<rect x="2300.0" y="1922.1" width="15.6" height="5.5" fill="#000"/>
<rect x="2300.0" y="1864.7" width="6.2" height="5.6" fill="#000"/>
<rect x="2300.0" y="1807.3" width="6.2" height="5.6" fill="#000"/>
<rect x="2300.0" y="1750.0" width="6.2" height="5.6" fill="#000"/>
<rect x="2300.0" y="1692.6" width="6.2" height="5.6" fill="#000"/>
<rect x="2300.0" y="1635.3" width="15.6" height="5.5" fill="#000"/>
<rect x="2300.0" y="1577.9" width="6.2" height="5.6" fill="#000"/>
<rect x="2300.0" y="1520.6" width="6.2" height="5.6" fill="#000"/>
<rect x="2300.0" y="1463.2" width="6.2" height="5.6" fill="#000"/>
<rect x="2300.0" y="1405.9" width="6.2" height="5.6" fill="#000"/>
<rect x="2300.0" y="1348.5" width="6.2" height="5.6" fill="#000"/>
<text transform="translate(2367.1 2516.0) scale(1.3 1) rotate(-90) scale(0.94 1)" text-anchor="middle" style="font-family:'Liberation Sans',Arial,sans-serif;font-weight:bold;font-size:52.5px" stroke="#000" stroke-width="2">-0.0</text>
<text transform="translate(2367.1 2212.0) scale(1.3 1) rotate(-90) scale(0.94 1)" text-anchor="middle" style="font-family:'Liberation Sans',Arial,sans-serif;font-weight:bold;font-size:52.5px" stroke="#000" stroke-width="2">0.5</text>
<text transform="translate(2367.1 1922.0) scale(1.3 1) rotate(-90) skewX(-12) scale(0.94 1)" text-anchor="middle" style="font-family:'Liberation Sans',Arial,sans-serif;font-weight:bold;font-size:52.5px" stroke="#000" stroke-width="2">1.0</text>
<text transform="translate(2367.1 1637.4) scale(1.3 1) rotate(-90) skewX(-12) scale(0.94 1)" text-anchor="middle" style="font-family:'Liberation Sans',Arial,sans-serif;font-weight:bold;font-size:52.5px" stroke="#000" stroke-width="2">1.5</text>
<text transform="translate(121.4 1415.3) scale(1.210 1)" style="font-family:'Liberation Sans',Arial,sans-serif;font-weight:bold;font-size:89px" stroke="#000" stroke-width="1.5">B</text>
<rect x="28" y="3860.1" width="2272.0" height="5.5" fill="#000"/>
<rect x="2294.0" y="2634.7" width="6.0" height="1228.1" fill="#000"/>
<rect x="112.8" y="3862.8" width="6.4" height="7.7" fill="#000"/>
<rect x="203.6" y="3862.8" width="6.4" height="7.7" fill="#000"/>
<rect x="294.3" y="3862.8" width="6.4" height="7.7" fill="#000"/>
<rect x="385.1" y="3862.8" width="6.4" height="7.7" fill="#000"/>
<rect x="475.5" y="3862.8" width="7" height="14.2" fill="#000"/>
<rect x="566.6" y="3862.8" width="6.4" height="7.7" fill="#000"/>
<rect x="657.4" y="3862.8" width="6.4" height="7.7" fill="#000"/>
<rect x="748.1" y="3862.8" width="6.4" height="7.7" fill="#000"/>
<rect x="838.9" y="3862.8" width="6.4" height="7.7" fill="#000"/>
<rect x="929.3" y="3862.8" width="7" height="14.2" fill="#000"/>
<rect x="1020.4" y="3862.8" width="6.4" height="7.7" fill="#000"/>
<rect x="1111.2" y="3862.8" width="6.4" height="7.7" fill="#000"/>
<rect x="1201.9" y="3862.8" width="6.4" height="7.7" fill="#000"/>
<rect x="1292.7" y="3862.8" width="6.4" height="7.7" fill="#000"/>
<rect x="1383.1" y="3862.8" width="7" height="14.2" fill="#000"/>
<rect x="1474.2" y="3862.8" width="6.4" height="7.7" fill="#000"/>
<rect x="1565.0" y="3862.8" width="6.4" height="7.7" fill="#000"/>
<rect x="1655.7" y="3862.8" width="6.4" height="7.7" fill="#000"/>
<rect x="1746.5" y="3862.8" width="6.4" height="7.7" fill="#000"/>
<rect x="1836.9" y="3862.8" width="7" height="14.2" fill="#000"/>
<rect x="1928.0" y="3862.8" width="6.4" height="7.7" fill="#000"/>
<rect x="2018.8" y="3862.8" width="6.4" height="7.7" fill="#000"/>
<rect x="2109.5" y="3862.8" width="6.4" height="7.7" fill="#000"/>
<rect x="2200.3" y="3862.8" width="6.4" height="7.7" fill="#000"/>
<text transform="translate(466.0 3925.7) scale(1.3 1)" text-anchor="middle" style="font-family:'Liberation Sans',Arial,sans-serif;font-weight:bold;font-size:52.5px" stroke="#000" stroke-width="2">4</text>
<text transform="translate(919.8 3925.7) scale(1.3 1)" text-anchor="middle" style="font-family:'Liberation Sans',Arial,sans-serif;font-weight:bold;font-size:52.5px" stroke="#000" stroke-width="2">3</text>
<text transform="translate(1373.6 3925.7) scale(1.3 1)" text-anchor="middle" style="font-family:'Liberation Sans',Arial,sans-serif;font-weight:bold;font-size:52.5px" stroke="#000" stroke-width="2">2</text>
<text transform="translate(1827.4 3925.7) scale(1.3 1)" text-anchor="middle" style="font-family:'Liberation Sans',Arial,sans-serif;font-weight:bold;font-size:52.5px" stroke="#000" stroke-width="2">1</text>
<text transform="translate(2268.5 3925.3) scale(1.23 1)" text-anchor="middle" style="font-family:'Liberation Sans',Arial,sans-serif;font-weight:bold;font-size:52.5px" stroke="#000" stroke-width="1.6">[ppm]</text>
<rect x="2300.0" y="3828.5" width="6.2" height="5.6" fill="#000"/>
<rect x="2300.0" y="3793.4" width="15.6" height="5.5" fill="#000"/>
<rect x="2300.0" y="3758.3" width="6.2" height="5.6" fill="#000"/>
<rect x="2300.0" y="3723.3" width="6.2" height="5.6" fill="#000"/>
<rect x="2300.0" y="3688.2" width="6.2" height="5.6" fill="#000"/>
<rect x="2300.0" y="3653.2" width="6.2" height="5.6" fill="#000"/>
<rect x="2300.0" y="3618.1" width="15.6" height="5.5" fill="#000"/>
<rect x="2300.0" y="3583.0" width="6.2" height="5.6" fill="#000"/>
<rect x="2300.0" y="3548.0" width="6.2" height="5.6" fill="#000"/>
<rect x="2300.0" y="3512.9" width="6.2" height="5.6" fill="#000"/>
<rect x="2300.0" y="3477.9" width="6.2" height="5.6" fill="#000"/>
<rect x="2300.0" y="3442.8" width="15.6" height="5.5" fill="#000"/>
<rect x="2300.0" y="3407.7" width="6.2" height="5.6" fill="#000"/>
<rect x="2300.0" y="3372.7" width="6.2" height="5.6" fill="#000"/>
<rect x="2300.0" y="3337.6" width="6.2" height="5.6" fill="#000"/>
<rect x="2300.0" y="3302.6" width="6.2" height="5.6" fill="#000"/>
<rect x="2300.0" y="3267.5" width="15.6" height="5.5" fill="#000"/>
<rect x="2300.0" y="3232.4" width="6.2" height="5.6" fill="#000"/>
<rect x="2300.0" y="3197.4" width="6.2" height="5.6" fill="#000"/>
<rect x="2300.0" y="3162.3" width="6.2" height="5.6" fill="#000"/>
<rect x="2300.0" y="3127.3" width="6.2" height="5.6" fill="#000"/>
<rect x="2300.0" y="3092.2" width="15.6" height="5.5" fill="#000"/>
<rect x="2300.0" y="3057.1" width="6.2" height="5.6" fill="#000"/>
<rect x="2300.0" y="3022.1" width="6.2" height="5.6" fill="#000"/>
<rect x="2300.0" y="2987.0" width="6.2" height="5.6" fill="#000"/>
<rect x="2300.0" y="2952.0" width="6.2" height="5.6" fill="#000"/>
<rect x="2300.0" y="2916.9" width="15.6" height="5.5" fill="#000"/>
<rect x="2300.0" y="2881.8" width="6.2" height="5.6" fill="#000"/>
<rect x="2300.0" y="2846.8" width="6.2" height="5.6" fill="#000"/>
<rect x="2300.0" y="2811.7" width="6.2" height="5.6" fill="#000"/>
<rect x="2300.0" y="2776.7" width="6.2" height="5.6" fill="#000"/>
<rect x="2300.0" y="2741.6" width="15.6" height="5.5" fill="#000"/>
<rect x="2300.0" y="2706.5" width="6.2" height="5.6" fill="#000"/>
<rect x="2300.0" y="2671.5" width="6.2" height="5.6" fill="#000"/>
<rect x="2300.0" y="2636.4" width="6.2" height="5.6" fill="#000"/>
<text transform="translate(2367.1 3824.0) scale(1.3 1) rotate(-90) scale(0.94 1)" text-anchor="middle" style="font-family:'Liberation Sans',Arial,sans-serif;font-weight:bold;font-size:52.5px" stroke="#000" stroke-width="2">-0.0</text>
<text transform="translate(2367.1 3619.5) scale(1.3 1) rotate(-90) scale(0.94 1)" text-anchor="middle" style="font-family:'Liberation Sans',Arial,sans-serif;font-weight:bold;font-size:52.5px" stroke="#000" stroke-width="2">0.5</text>
<text transform="translate(2367.1 3443.0) scale(1.3 1) rotate(-90) scale(0.94 1)" text-anchor="middle" style="font-family:'Liberation Sans',Arial,sans-serif;font-weight:bold;font-size:52.5px" stroke="#000" stroke-width="2">1.0</text>
<text transform="translate(2367.1 3267.0) scale(1.3 1) rotate(-90) scale(0.94 1)" text-anchor="middle" style="font-family:'Liberation Sans',Arial,sans-serif;font-weight:bold;font-size:52.5px" stroke="#000" stroke-width="2">1.5</text>
<text transform="translate(2367.1 3090.7) scale(1.3 1) rotate(-90) scale(0.94 1)" text-anchor="middle" style="font-family:'Liberation Sans',Arial,sans-serif;font-weight:bold;font-size:52.5px" stroke="#000" stroke-width="2">2.0</text>
<text transform="translate(2367.1 2917.2) scale(1.3 1) rotate(-90) skewX(-5) scale(0.94 1)" text-anchor="middle" style="font-family:'Liberation Sans',Arial,sans-serif;font-weight:bold;font-size:52.5px" stroke="#000" stroke-width="2">2.5</text>
<text transform="translate(2367.1 2744.0) scale(1.3 1) rotate(-90) skewX(-8) scale(0.94 1)" text-anchor="middle" style="font-family:'Liberation Sans',Arial,sans-serif;font-weight:bold;font-size:52.5px" stroke="#000" stroke-width="2">3.0</text>
<text transform="translate(112.9 2728.8) scale(1.167 1)" style="font-family:'Liberation Sans',Arial,sans-serif;font-weight:bold;font-size:89px" stroke="#000" stroke-width="1.5">C</text>
<polygon points="342.1,1678.2 353.1,1678.2 353.1,1881.1 372.2,1842.7 381.7,1846.8 347.6,1919.4 313.5,1846.8 323.0,1842.7 342.1,1881.1" fill="#000"/>
<polygon points="969.8,1802.7 980.8,1802.7 980.8,2004.6 999.9,1966.2 1009.4,1970.3 975.3,2042.9 941.2,1970.3 950.7,1966.2 969.8,2004.6" fill="#000"/>
<polygon points="1515.4,1735.6 1526.4,1735.6 1526.4,1936.5 1545.5,1898.1 1555.0,1902.2 1520.9,1974.8 1486.8,1902.2 1496.3,1898.1 1515.4,1936.5" fill="#000"/>
<polygon points="330.2,3215.6 341.2,3215.6 341.2,3415.3 360.3,3376.9 369.8,3381.0 335.7,3453.6 301.6,3381.0 311.1,3376.9 330.2,3415.3" fill="#000"/>
<polygon points="868.6,3185.9 879.6,3185.9 879.6,3386.2 898.7,3347.8 908.2,3351.9 874.1,3424.5 840.0,3351.9 849.5,3347.8 868.6,3386.2" fill="#000"/>
<polygon points="1139.9,3175.9 1150.9,3175.9 1150.9,3376.2 1170.0,3337.8 1179.5,3341.9 1145.4,3414.5 1111.3,3341.9 1120.8,3337.8 1139.9,3376.2" fill="#000"/>
<polygon points="1493.9,3011.0 1504.9,3011.0 1504.9,3211.9 1524.0,3173.5 1533.5,3177.6 1499.4,3250.2 1465.3,3177.6 1474.8,3173.5 1493.9,3211.9" fill="#000"/>
</svg>
</body></html>
